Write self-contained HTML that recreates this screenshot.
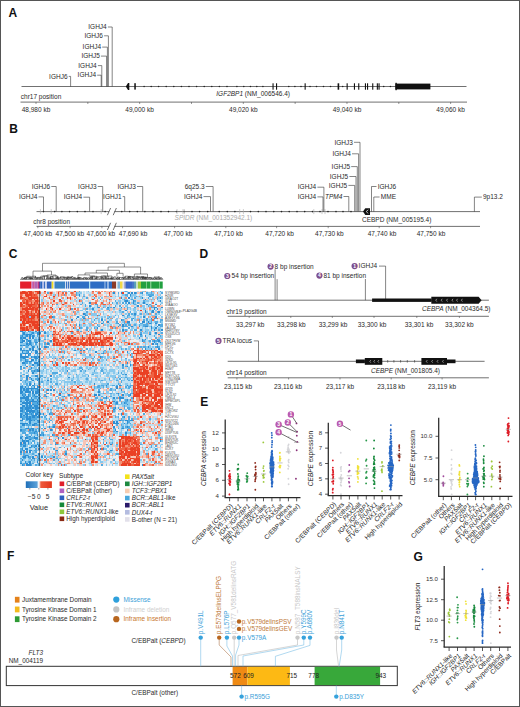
<!DOCTYPE html>
<html><head><meta charset="utf-8"><title>Figure</title>
<style>html,body{margin:0;padding:0;background:#fff;width:520px;height:707px;overflow:hidden}svg{display:block;font-family:"Liberation Sans",sans-serif}</style>
</head><body><svg width="520" height="707" viewBox="0 0 520 707" font-family="Liberation Sans, sans-serif"><text x="8.6" y="16.6" font-size="12" fill="#111" font-weight="bold">A</text>
<line x1="21.5" y1="86.5" x2="466.5" y2="86.5" stroke="#333" stroke-width="0.7"/>
<path d="M125.8,86.5 L128,83 L129.3,83 L129.3,90 L128,90 Z" fill="#111"/>
<rect x="134.3" y="83.2" width="1.5" height="6.4" fill="#111"/>
<circle cx="144.1" cy="86.5" r="0.8" fill="#222"/>
<circle cx="151.2" cy="86.5" r="0.8" fill="#222"/>
<circle cx="158.6" cy="86.5" r="0.8" fill="#222"/>
<circle cx="166.2" cy="86.5" r="0.8" fill="#222"/>
<circle cx="173.8" cy="86.5" r="0.8" fill="#222"/>
<circle cx="181.4" cy="86.5" r="0.8" fill="#222"/>
<circle cx="189" cy="86.5" r="0.8" fill="#222"/>
<circle cx="196.6" cy="86.5" r="0.8" fill="#222"/>
<circle cx="204.2" cy="86.5" r="0.8" fill="#222"/>
<circle cx="211.8" cy="86.5" r="0.8" fill="#222"/>
<circle cx="219.4" cy="86.5" r="0.8" fill="#222"/>
<circle cx="227" cy="86.5" r="0.8" fill="#222"/>
<circle cx="236.9" cy="86.5" r="0.8" fill="#222"/>
<circle cx="243.8" cy="86.5" r="0.8" fill="#222"/>
<circle cx="250.4" cy="86.5" r="0.8" fill="#222"/>
<circle cx="256.8" cy="86.5" r="0.8" fill="#222"/>
<circle cx="262.9" cy="86.5" r="0.8" fill="#222"/>
<circle cx="288.8" cy="86.5" r="0.8" fill="#222"/>
<circle cx="294.9" cy="86.5" r="0.8" fill="#222"/>
<circle cx="301" cy="86.5" r="0.8" fill="#222"/>
<circle cx="310" cy="86.5" r="0.8" fill="#222"/>
<circle cx="316.5" cy="86.5" r="0.8" fill="#222"/>
<circle cx="323.5" cy="86.5" r="0.8" fill="#222"/>
<circle cx="330.5" cy="86.5" r="0.8" fill="#222"/>
<circle cx="342.7" cy="86.5" r="0.8" fill="#222"/>
<circle cx="383.7" cy="86.5" r="0.8" fill="#222"/>
<circle cx="390.4" cy="86.5" r="0.8" fill="#222"/>
<rect x="272.5" y="83.3" width="1.1" height="6.4" fill="#111"/>
<rect x="276" y="83.3" width="1.1" height="6.4" fill="#111"/>
<rect x="304.6" y="83.3" width="1.1" height="6.4" fill="#111"/>
<rect x="337.6" y="83.3" width="1.6" height="6.4" fill="#111"/>
<rect x="346.6" y="83.3" width="1.1" height="6.4" fill="#111"/>
<rect x="353.9" y="83.3" width="1.1" height="6.4" fill="#111"/>
<rect x="358.2" y="83.3" width="1.1" height="6.4" fill="#111"/>
<rect x="364.9" y="83.3" width="1.1" height="6.4" fill="#111"/>
<rect x="367" y="83.3" width="1.1" height="6.4" fill="#111"/>
<rect x="372.2" y="83.3" width="1.1" height="6.4" fill="#111"/>
<rect x="376.8" y="83.3" width="1.1" height="6.4" fill="#111"/>
<rect x="378.5" y="83.3" width="1.1" height="6.4" fill="#111"/>
<rect x="395.4" y="83.6" width="35" height="5.8" fill="#111"/>
<rect x="395.4" y="82.8" width="1.4" height="7.4" fill="#111"/>
<text x="216.3" y="95.78" font-size="6.5" fill="#2a2a2a"><tspan font-style="italic">IGF2BP1</tspan> (NM_006546.4)</text>
<text x="106.7" y="29.27" font-size="6.5" fill="#2a2a2a" text-anchor="end">IGHJ4</text>
<polyline points="107.9,27 112.2,27 112.2,86.5" fill="none" stroke="#333" stroke-width="0.6"/>
<text x="102.9" y="38.07" font-size="6.5" fill="#2a2a2a" text-anchor="end">IGHJ6</text>
<polyline points="104.1,35.8 108.4,35.8 108.4,86.5" fill="none" stroke="#333" stroke-width="0.6"/>
<text x="101" y="49.38" font-size="6.5" fill="#2a2a2a" text-anchor="end">IGHJ4</text>
<polyline points="102.2,47.1 107.4,47.1 107.4,86.5" fill="none" stroke="#333" stroke-width="0.6"/>
<text x="99.8" y="58.38" font-size="6.5" fill="#2a2a2a" text-anchor="end">IGHJ5</text>
<polyline points="101,56.1 106.6,56.1 106.6,86.5" fill="none" stroke="#333" stroke-width="0.6"/>
<text x="96.7" y="67.88" font-size="6.5" fill="#2a2a2a" text-anchor="end">IGHJ4</text>
<polyline points="97.9,65.6 101.8,65.6 101.8,86.5" fill="none" stroke="#333" stroke-width="0.6"/>
<text x="96" y="77.48" font-size="6.5" fill="#2a2a2a" text-anchor="end">IGHJ4</text>
<polyline points="97.2,75.2 101.2,75.2 101.2,86.5" fill="none" stroke="#333" stroke-width="0.6"/>
<text x="67.5" y="78.68" font-size="6.5" fill="#2a2a2a" text-anchor="end">IGHJ6</text>
<polyline points="68.7,76.4 70.6,76.4 70.6,86.5" fill="none" stroke="#333" stroke-width="0.6"/>
<text x="20.8" y="98.88" font-size="6.5" fill="#2a2a2a">chr17 position</text>
<line x1="20.5" y1="102.1" x2="467" y2="102.1" stroke="#333" stroke-width="0.7"/>
<line x1="36" y1="102.1" x2="36" y2="104" stroke="#333" stroke-width="0.5"/>
<line x1="87.83" y1="102.1" x2="87.83" y2="104" stroke="#333" stroke-width="0.5"/>
<line x1="139.66" y1="102.1" x2="139.66" y2="104" stroke="#333" stroke-width="0.5"/>
<line x1="191.49" y1="102.1" x2="191.49" y2="104" stroke="#333" stroke-width="0.5"/>
<line x1="243.32" y1="102.1" x2="243.32" y2="104" stroke="#333" stroke-width="0.5"/>
<line x1="295.15" y1="102.1" x2="295.15" y2="104" stroke="#333" stroke-width="0.5"/>
<line x1="346.98" y1="102.1" x2="346.98" y2="104" stroke="#333" stroke-width="0.5"/>
<line x1="398.81" y1="102.1" x2="398.81" y2="104" stroke="#333" stroke-width="0.5"/>
<line x1="450.64" y1="102.1" x2="450.64" y2="104" stroke="#333" stroke-width="0.5"/>
<text x="36" y="112.08" font-size="6.5" fill="#2a2a2a" text-anchor="middle">48,980 kb</text>
<text x="139.6" y="112.08" font-size="6.5" fill="#2a2a2a" text-anchor="middle">49,000 kb</text>
<text x="243.3" y="112.08" font-size="6.5" fill="#2a2a2a" text-anchor="middle">49,020 kb</text>
<text x="347" y="112.08" font-size="6.5" fill="#2a2a2a" text-anchor="middle">49,040 kb</text>
<text x="450.6" y="112.08" font-size="6.5" fill="#2a2a2a" text-anchor="middle">49,060 kb</text>
<text x="9.2" y="133.2" font-size="12" fill="#111" font-weight="bold">B</text>
<line x1="36.5" y1="211.6" x2="480" y2="211.6" stroke="#333" stroke-width="0.7"/>
<circle cx="43.5" cy="211.6" r="0.8" fill="#222"/>
<circle cx="54.7" cy="211.6" r="0.8" fill="#222"/>
<circle cx="61.9" cy="211.6" r="0.8" fill="#222"/>
<circle cx="69.6" cy="211.6" r="0.8" fill="#222"/>
<circle cx="77.3" cy="211.6" r="0.8" fill="#222"/>
<circle cx="85" cy="211.6" r="0.8" fill="#222"/>
<circle cx="93" cy="211.6" r="0.8" fill="#222"/>
<circle cx="105.1" cy="211.6" r="0.8" fill="#222"/>
<circle cx="121.8" cy="211.6" r="0.8" fill="#222"/>
<circle cx="129.7" cy="211.6" r="0.8" fill="#222"/>
<circle cx="137.3" cy="211.6" r="0.8" fill="#222"/>
<circle cx="144.9" cy="211.6" r="0.8" fill="#222"/>
<circle cx="153" cy="211.6" r="0.8" fill="#222"/>
<circle cx="161" cy="211.6" r="0.8" fill="#222"/>
<circle cx="168.5" cy="211.6" r="0.8" fill="#222"/>
<circle cx="176.5" cy="211.6" r="0.8" fill="#222"/>
<circle cx="184.2" cy="211.6" r="0.8" fill="#222"/>
<circle cx="192" cy="211.6" r="0.8" fill="#222"/>
<circle cx="199.6" cy="211.6" r="0.8" fill="#222"/>
<circle cx="207.7" cy="211.6" r="0.8" fill="#222"/>
<circle cx="219.2" cy="211.6" r="0.8" fill="#222"/>
<circle cx="227.3" cy="211.6" r="0.8" fill="#222"/>
<circle cx="234.9" cy="211.6" r="0.8" fill="#222"/>
<circle cx="250.5" cy="211.6" r="0.8" fill="#222"/>
<circle cx="258.3" cy="211.6" r="0.8" fill="#222"/>
<circle cx="266" cy="211.6" r="0.8" fill="#222"/>
<circle cx="273.8" cy="211.6" r="0.8" fill="#222"/>
<circle cx="281.5" cy="211.6" r="0.8" fill="#222"/>
<circle cx="289.2" cy="211.6" r="0.8" fill="#222"/>
<circle cx="297" cy="211.6" r="0.8" fill="#222"/>
<circle cx="304.7" cy="211.6" r="0.8" fill="#222"/>
<circle cx="312.5" cy="211.6" r="0.8" fill="#222"/>
<circle cx="320" cy="211.6" r="0.8" fill="#222"/>
<circle cx="328" cy="211.6" r="0.8" fill="#222"/>
<circle cx="336" cy="211.6" r="0.8" fill="#222"/>
<circle cx="343" cy="211.6" r="0.8" fill="#222"/>
<circle cx="351" cy="211.6" r="0.8" fill="#222"/>
<line x1="40.4" y1="209.1" x2="40.4" y2="214.1" stroke="#aaa" stroke-width="0.6"/>
<line x1="51.2" y1="209.1" x2="51.2" y2="214.1" stroke="#aaa" stroke-width="0.6"/>
<line x1="101.2" y1="209.1" x2="101.2" y2="214.1" stroke="#aaa" stroke-width="0.6"/>
<line x1="177" y1="209.1" x2="177" y2="214.1" stroke="#aaa" stroke-width="0.6"/>
<line x1="183" y1="209.1" x2="183" y2="214.1" stroke="#aaa" stroke-width="0.6"/>
<line x1="184.3" y1="209.1" x2="184.3" y2="214.1" stroke="#aaa" stroke-width="0.6"/>
<line x1="239.7" y1="209.1" x2="239.7" y2="214.1" stroke="#aaa" stroke-width="0.6"/>
<line x1="243.4" y1="209.1" x2="243.4" y2="214.1" stroke="#aaa" stroke-width="0.6"/>
<line x1="313.8" y1="209.1" x2="313.8" y2="214.1" stroke="#aaa" stroke-width="0.6"/>
<line x1="322" y1="209.1" x2="322" y2="214.1" stroke="#aaa" stroke-width="0.6"/>
<line x1="325" y1="209.1" x2="325" y2="214.1" stroke="#aaa" stroke-width="0.6"/>
<rect x="109.2" y="210.4" width="5.2" height="2.4" fill="#fff"/>
<line x1="107.4" y1="215.2" x2="110.6" y2="208" stroke="#333" stroke-width="0.7"/>
<line x1="113.2" y1="215.2" x2="116.4" y2="208" stroke="#333" stroke-width="0.7"/>
<text x="37.3" y="199.18" font-size="6.5" fill="#2a2a2a" text-anchor="end">IGHJ4</text>
<polyline points="38.5,196.9 43.5,196.9 43.5,211.6" fill="none" stroke="#333" stroke-width="0.6"/>
<text x="50.1" y="188.78" font-size="6.5" fill="#2a2a2a" text-anchor="end">IGHJ6</text>
<polyline points="51.3,186.5 56.2,186.5 56.2,211.6" fill="none" stroke="#333" stroke-width="0.6"/>
<text x="82.2" y="199.47" font-size="6.5" fill="#2a2a2a" text-anchor="end">IGHJ4</text>
<polyline points="83.4,197.2 89.6,197.2 89.6,211.6" fill="none" stroke="#333" stroke-width="0.6"/>
<text x="96.5" y="188.78" font-size="6.5" fill="#2a2a2a" text-anchor="end">IGHJ3</text>
<polyline points="97.7,186.5 102.7,186.5 102.7,211.6" fill="none" stroke="#333" stroke-width="0.6"/>
<text x="121.5" y="198.88" font-size="6.5" fill="#2a2a2a" text-anchor="end">IGHJ1</text>
<polyline points="122.7,196.6 124.7,196.6 124.7,211.6" fill="none" stroke="#333" stroke-width="0.6"/>
<text x="135.8" y="188.78" font-size="6.5" fill="#2a2a2a" text-anchor="end">IGHJ3</text>
<polyline points="137,186.5 142.7,186.5 142.7,211.6" fill="none" stroke="#333" stroke-width="0.6"/>
<text x="204.6" y="188.78" font-size="6.5" fill="#2a2a2a" text-anchor="end">6q25.3</text>
<polyline points="205.8,186.5 213.1,186.5 213.1,211.6" fill="none" stroke="#333" stroke-width="0.6"/>
<text x="202.3" y="198.88" font-size="6.5" fill="#2a2a2a" text-anchor="end">IGHJ4</text>
<polyline points="203.5,196.6 210.5,196.6 210.5,211.6" fill="none" stroke="#333" stroke-width="0.6"/>
<text x="352.8" y="144.58" font-size="6.5" fill="#2a2a2a" text-anchor="end">IGHJ3</text>
<polyline points="354,142.3 360,142.3 360,211.6" fill="none" stroke="#333" stroke-width="0.6"/>
<text x="350.8" y="156.08" font-size="6.5" fill="#2a2a2a" text-anchor="end">IGHJ4</text>
<polyline points="352,153.8 358.6,153.8 358.6,211.6" fill="none" stroke="#333" stroke-width="0.6"/>
<text x="350" y="168.88" font-size="6.5" fill="#2a2a2a" text-anchor="end">IGHJ5</text>
<polyline points="351.2,166.6 357.3,166.6 357.3,211.6" fill="none" stroke="#333" stroke-width="0.6"/>
<text x="348.2" y="178.78" font-size="6.5" fill="#2a2a2a" text-anchor="end">IGHJ5</text>
<polyline points="349.4,176.5 356,176.5 356,211.6" fill="none" stroke="#333" stroke-width="0.6"/>
<text x="347.2" y="187.68" font-size="6.5" fill="#2a2a2a" text-anchor="end">IGHJ5</text>
<polyline points="348.4,185.4 354.7,185.4 354.7,211.6" fill="none" stroke="#333" stroke-width="0.6"/>
<text x="316.2" y="189.47" font-size="6.5" fill="#2a2a2a" text-anchor="end">IGHJ4</text>
<polyline points="317.4,187.2 323.9,187.2 323.9,211.6" fill="none" stroke="#333" stroke-width="0.6"/>
<text x="316.2" y="199.18" font-size="6.5" fill="#2a2a2a" text-anchor="end">IGHJ4</text>
<polyline points="317.4,196.9 323,196.9 323,211.6" fill="none" stroke="#333" stroke-width="0.6"/>
<text x="342.3" y="198.78" font-size="6.5" fill="#2a2a2a" text-anchor="end" font-style="italic">TPM4</text>
<polyline points="343.5,196.5 348.8,196.5 348.8,211.6" fill="none" stroke="#333" stroke-width="0.6"/>
<text x="377.7" y="188.78" font-size="6.5" fill="#2a2a2a">IGHJ6</text>
<polyline points="376.5,186.5 371.5,186.5 371.5,211.6" fill="none" stroke="#333" stroke-width="0.6"/>
<text x="380.8" y="199.28" font-size="6.5" fill="#2a2a2a">MME</text>
<polyline points="379.6,197 373.8,197 373.8,211.6" fill="none" stroke="#333" stroke-width="0.6"/>
<text x="483" y="199.38" font-size="6.5" fill="#2a2a2a">9p13.2</text>
<polyline points="481.8,197.1 474.4,197.1 474.4,211.6" fill="none" stroke="#333" stroke-width="0.6"/>
<path d="M363,211.6 L365.3,208.2 L370,208.2 L370,215 L365.3,215 Z" fill="#111"/>
<path d="M368.3,209.8 L366.2,211.6 L368.3,213.4" fill="none" stroke="#fff" stroke-width="0.7"/>
<text x="174.6" y="220.18" font-size="6.5" fill="#aaa"><tspan font-style="italic">SPIDR</tspan> (NM_001352942.1)</text>
<text x="362" y="221.88" font-size="6.5" fill="#2a2a2a">CEBPD (NM_005195.4)</text>
<text x="33.2" y="223.78" font-size="6.5" fill="#2a2a2a">chr8 position</text>
<line x1="36.5" y1="226.4" x2="480" y2="226.4" stroke="#333" stroke-width="0.7"/>
<rect x="109.2" y="225.2" width="5.2" height="2.4" fill="#fff"/>
<line x1="107.4" y1="230" x2="110.6" y2="222.8" stroke="#333" stroke-width="0.7"/>
<line x1="113.2" y1="230" x2="116.4" y2="222.8" stroke="#333" stroke-width="0.7"/>
<line x1="37.8" y1="226.4" x2="37.8" y2="228.2" stroke="#333" stroke-width="0.5"/>
<line x1="70.1" y1="226.4" x2="70.1" y2="228.2" stroke="#333" stroke-width="0.5"/>
<line x1="101.9" y1="226.4" x2="101.9" y2="228.2" stroke="#333" stroke-width="0.5"/>
<line x1="122.6" y1="226.4" x2="122.6" y2="228.2" stroke="#333" stroke-width="0.5"/>
<line x1="174.6" y1="226.4" x2="174.6" y2="228.2" stroke="#333" stroke-width="0.5"/>
<line x1="225.8" y1="226.4" x2="225.8" y2="228.2" stroke="#333" stroke-width="0.5"/>
<line x1="276.6" y1="226.4" x2="276.6" y2="228.2" stroke="#333" stroke-width="0.5"/>
<line x1="328.2" y1="226.4" x2="328.2" y2="228.2" stroke="#333" stroke-width="0.5"/>
<line x1="379.2" y1="226.4" x2="379.2" y2="228.2" stroke="#333" stroke-width="0.5"/>
<line x1="430.6" y1="226.4" x2="430.6" y2="228.2" stroke="#333" stroke-width="0.5"/>
<text x="37.9" y="236.18" font-size="6.5" fill="#2a2a2a" text-anchor="middle">47,400 kb</text>
<text x="69.8" y="236.18" font-size="6.5" fill="#2a2a2a" text-anchor="middle">47,500 kb</text>
<text x="100.8" y="236.18" font-size="6.5" fill="#2a2a2a" text-anchor="middle">47,600 kb</text>
<text x="133.1" y="236.18" font-size="6.5" fill="#2a2a2a" text-anchor="middle">47,690 kb</text>
<text x="178" y="236.18" font-size="6.5" fill="#2a2a2a" text-anchor="middle">47,700 kb</text>
<text x="228.5" y="236.18" font-size="6.5" fill="#2a2a2a" text-anchor="middle">47,710 kb</text>
<text x="279.6" y="236.18" font-size="6.5" fill="#2a2a2a" text-anchor="middle">47,720 kb</text>
<text x="329.4" y="236.18" font-size="6.5" fill="#2a2a2a" text-anchor="middle">47,730 kb</text>
<text x="382" y="236.18" font-size="6.5" fill="#2a2a2a" text-anchor="middle">47,740 kb</text>
<text x="431" y="236.18" font-size="6.5" fill="#2a2a2a" text-anchor="middle">47,750 kb</text>
<text x="8.8" y="257.7" font-size="12" fill="#111" font-weight="bold">C</text>
<polyline points="42.5,271.1 42.5,263.3 124.4,263.3 124.4,267" fill="none" stroke="#444" stroke-width="0.6"/>
<polyline points="33,277.7 33,271.1 51.5,271.1 51.5,275" fill="none" stroke="#444" stroke-width="0.6"/>
<polyline points="108.1,270.3 108.1,267 140.6,267 140.6,274" fill="none" stroke="#444" stroke-width="0.6"/>
<polyline points="96.3,273 96.3,270.3 119.4,270.3 119.4,273.3" fill="none" stroke="#444" stroke-width="0.6"/>
<polyline points="85,275 85,273 107.5,273 107.5,276" fill="none" stroke="#444" stroke-width="0.6"/>
<polyline points="116.9,276.5 116.9,273.3 123.1,273.3 123.1,276.5" fill="none" stroke="#444" stroke-width="0.6"/>
<polyline points="78,277.5 78,274.9 90,274.9 90,277" fill="none" stroke="#444" stroke-width="0.6"/>
<polyline points="134.4,277.5 134.4,274 147.5,274 147.5,277.5" fill="none" stroke="#444" stroke-width="0.6"/>
<polyline points="24,279 24,277.7 40,277.7 40,279" fill="none" stroke="#444" stroke-width="0.6"/>
<polyline points="47,279 47,275 56,275 56,279" fill="none" stroke="#444" stroke-width="0.6"/>
<polyline points="60,279 60,277.2 70,277.2 70,279" fill="none" stroke="#444" stroke-width="0.6"/>
<polyline points="101,279 101,276 112,276 112,279" fill="none" stroke="#444" stroke-width="0.6"/>
<polyline points="128,279 128,277 140,277 140,279" fill="none" stroke="#444" stroke-width="0.6"/>
<polyline points="143,279 143,277.5 152,277.5 152,279" fill="none" stroke="#444" stroke-width="0.6"/>
<polyline points="154,279 154,277 160,277 160,279" fill="none" stroke="#444" stroke-width="0.6"/>
<path d="M21,279.3 L22.17,277.09 L23.33,279.3 M22.12,279.3 L23.97,278.33 L25.81,279.3 M24.16,279.3 V277.89 H26.56 V279.3 M25.22,279.3 V277.26 H29.65 V279.3 M26.75,279.3 V276.24 H30.47 V279.3 M28.69,279.3 V278.33 H32.54 V279.3 M30.53,279.3 V278.42 H33.08 V279.3 M31.66,279.3 V276.22 H35.67 V279.3 M33.97,279.3 L35.41,276.42 L36.85,279.3 M35.65,279.3 L37.93,278.25 L40.22,279.3 M37.32,279.3 V277.37 H42.2 V279.3 M39.22,279.3 L40.86,277.5 L42.5,279.3 M40.78,279.3 V276.15 H44.32 V279.3 M42.83,279.3 V275.92 H47.33 V279.3 M44.4,279.3 V275.99 H48.91 V279.3 M46.52,279.3 V277.95 H50.52 V279.3 M48.41,279.3 V278.34 H50.91 V279.3 M49.9,279.3 L50.81,276.42 L51.71,279.3 M50.53,279.3 V276.5 H53.05 V279.3 M51.32,279.3 V278.38 H54.97 V279.3 M52.78,279.3 V275.95 H57.36 V279.3 M55.52,279.3 V278.3 H58.11 V279.3 M56.32,279.3 V277.44 H58.51 V279.3 M57.08,279.3 L57.91,276.24 L58.73,279.3 M58.05,279.3 L60.37,277.52 L62.69,279.3 M60.17,279.3 V276.95 H63.92 V279.3 M61.99,279.3 L64.39,277.18 L66.78,279.3 M64.46,279.3 V277.72 H66.8 V279.3 M65.53,279.3 L67.24,278.47 L68.95,279.3 M67.15,279.3 V276.9 H68.72 V279.3 M67.65,279.3 V277.29 H71.34 V279.3 M69.15,279.3 L71.14,276.58 L73.12,279.3 M70.41,279.3 L72.35,276 L74.28,279.3 M72.1,279.3 L73.89,277.67 L75.68,279.3 M73.51,279.3 L74.91,276.95 L76.3,279.3 M74.66,279.3 V278.43 H78.87 V279.3 M76.85,279.3 V277.92 H79.44 V279.3 M77.81,279.3 V277.37 H79.97 V279.3 M78.52,279.3 V277.63 H81.15 V279.3 M79.66,279.3 L81.91,278.06 L84.15,279.3 M81.88,279.3 L84.18,277.33 L86.48,279.3 M83.43,279.3 V278 H86.78 V279.3 M85.28,279.3 V277.78 H87.42 V279.3 M86.33,279.3 L88.49,277.6 L90.66,279.3 M88.01,279.3 L90.15,277.79 L92.29,279.3 M89.83,279.3 V277.44 H92.8 V279.3 M90.86,279.3 V276.05 H92.37 V279.3 M91.76,279.3 V276.03 H94.78 V279.3 M92.87,279.3 V276.32 H96.98 V279.3 M94.74,279.3 L96,277.61 L97.25,279.3 M95.55,279.3 V277.75 H99.11 V279.3 M96.66,279.3 V276.7 H101.32 V279.3 M99.32,279.3 L101.64,277 L103.96,279.3 M101.75,279.3 V277.72 H103.85 V279.3 M102.71,279.3 V276.06 H105.66 V279.3 M103.9,279.3 L105.09,276.26 L106.28,279.3 M105.17,279.3 V277.99 H107.9 V279.3 M106.66,279.3 V276.44 H108.76 V279.3 M107.8,279.3 V278.48 H112.18 V279.3 M110.25,279.3 L111.08,277.79 L111.92,279.3 M111.01,279.3 V277.27 H113.99 V279.3 M111.91,279.3 L112.76,278.17 L113.6,279.3 M112.45,279.3 L114.91,276.28 L117.36,279.3 M114.67,279.3 L115.97,277.68 L117.27,279.3 M115.95,279.3 L117.73,277.56 L119.51,279.3 M117.37,279.3 V277.06 H119.3 V279.3 M118.17,279.3 L119.06,278.04 L119.95,279.3 M119.03,279.3 V277.51 H123.27 V279.3 M121.09,279.3 L122.6,277.53 L124.1,279.3 M122.63,279.3 L124.11,276.7 L125.6,279.3 M123.74,279.3 L125.43,276.69 L127.11,279.3 M125.18,279.3 V276.21 H128.17 V279.3 M126.41,279.3 L128.73,276.44 L131.06,279.3 M128.45,279.3 V276.39 H130.38 V279.3 M129.55,279.3 V276.76 H133.82 V279.3 M131.55,279.3 L132.48,276.97 L133.41,279.3 M132.19,279.3 L134.29,278.38 L136.4,279.3 M133.58,279.3 L135.87,278.03 L138.16,279.3 M136.11,279.3 V276.31 H138.03 V279.3 M137.17,279.3 V276.99 H142 V279.3 M138.67,279.3 V277.17 H142.86 V279.3 M140.06,279.3 L142.12,276.07 L144.18,279.3 M141.7,279.3 L143.44,276.35 L145.17,279.3 M142.93,279.3 V276.9 H145.3 V279.3 M143.92,279.3 L145.31,277.47 L146.71,279.3 M145.11,279.3 V277.2 H146.9 V279.3 M145.87,279.3 V278.08 H149.98 V279.3 M148.03,279.3 L149.96,277.16 L151.89,279.3 M149.94,279.3 L152.26,278.11 L154.58,279.3 M152.37,279.3 L154.72,277.16 L157.08,279.3 M154.8,279.3 L155.87,277.8 L156.95,279.3 M155.82,279.3 V277.9 H158.42 V279.3 M157.35,279.3 L158.61,276.67 L159.88,279.3 M158.76,279.3 L160.53,277.81 L162.3,279.3 M159.84,279.3 L161.43,277.5 L163.02,279.3" fill="none" stroke="#2a2a2a" stroke-width="0.55"/>
<line x1="20.2" y1="279.4" x2="162.6" y2="279.4" stroke="#444" stroke-width="0.6"/>
<rect x="20.1" y="281.5" width="11.4" height="7.1" fill="#e4202c"/>
<rect x="31.5" y="281.5" width="1.7" height="7.1" fill="#c070c0"/>
<rect x="33.2" y="281.5" width="1.4" height="7.1" fill="#c03a80"/>
<rect x="34.6" y="281.5" width="3" height="7.1" fill="#b064b4"/>
<rect x="37.6" y="281.5" width="1.4" height="7.1" fill="#c03a80"/>
<rect x="39" y="281.5" width="1.2" height="7.1" fill="#5a3c9c"/>
<rect x="40.2" y="281.5" width="2.3" height="7.1" fill="#2a64c0"/>
<rect x="42.5" y="281.5" width="1.5" height="7.1" fill="#b4bce8"/>
<rect x="44" y="281.5" width="1.4" height="7.1" fill="#3a6cc0"/>
<rect x="45.4" y="281.5" width="1.4" height="7.1" fill="#d8dcf0"/>
<rect x="46.8" y="281.5" width="4.9" height="7.1" fill="#3464c0"/>
<rect x="51.7" y="281.5" width="1.9" height="7.1" fill="#f0e020"/>
<rect x="53.6" y="281.5" width="0.9" height="7.1" fill="#dde"/>
<rect x="54.5" y="281.5" width="10.6" height="7.1" fill="#3a82c4"/>
<rect x="65.1" y="281.5" width="0.9" height="7.1" fill="#cde"/>
<rect x="66" y="281.5" width="1" height="7.1" fill="#3a72c4"/>
<rect x="67" y="281.5" width="0.8" height="7.1" fill="#cde"/>
<rect x="67.8" y="281.5" width="1.2" height="7.1" fill="#3a72c4"/>
<rect x="69" y="281.5" width="1" height="7.1" fill="#bcd"/>
<rect x="70" y="281.5" width="19.2" height="7.1" fill="#2e6ec4"/>
<rect x="89.2" y="281.5" width="1" height="7.1" fill="#9ce0f0"/>
<rect x="90.2" y="281.5" width="14.4" height="7.1" fill="#2e6cc4"/>
<rect x="104.6" y="281.5" width="0.8" height="7.1" fill="#5a90d4"/>
<rect x="105.4" y="281.5" width="2.2" height="7.1" fill="#2e6cc4"/>
<rect x="107.6" y="281.5" width="1" height="7.1" fill="#aac8ec"/>
<rect x="108.6" y="281.5" width="3.4" height="7.1" fill="#2e6cc4"/>
<rect x="112" y="281.5" width="4" height="7.1" fill="#8a3a28"/>
<rect x="116" y="281.5" width="1.5" height="7.1" fill="#e8e4e4"/>
<rect x="117.5" y="281.5" width="2.5" height="7.1" fill="#80b4d8"/>
<rect x="120" y="281.5" width="2.7" height="7.1" fill="#f0d848"/>
<rect x="122.7" y="281.5" width="1.6" height="7.1" fill="#e0e0f0"/>
<rect x="124.3" y="281.5" width="1.7" height="7.1" fill="#8090c8"/>
<rect x="126" y="281.5" width="6" height="7.1" fill="#3a68c8"/>
<rect x="132" y="281.5" width="2" height="7.1" fill="#4878c8"/>
<rect x="134" y="281.5" width="2" height="7.1" fill="#58a0b8"/>
<rect x="136" y="281.5" width="2" height="7.1" fill="#c8e0c0"/>
<rect x="138" y="281.5" width="3" height="7.1" fill="#a0c838"/>
<rect x="141" y="281.5" width="5.2" height="7.1" fill="#22a040"/>
<rect x="146.2" y="281.5" width="0.8" height="7.1" fill="#60c070"/>
<rect x="147" y="281.5" width="3.4" height="7.1" fill="#22a040"/>
<rect x="150.4" y="281.5" width="0.8" height="7.1" fill="#60c070"/>
<rect x="151.2" y="281.5" width="7.8" height="7.1" fill="#22a040"/>
<rect x="159" y="281.5" width="0.8" height="7.1" fill="#60c070"/>
<rect x="159.8" y="281.5" width="2.9" height="7.1" fill="#22a040"/>
<g transform="translate(20.1 290.8) scale(1.5011 1.5909)" shape-rendering="crispEdges">
<path fill="#2e8ed2" d="M62 1h1v1h-1zM67 1h1v1h-1zM72 1h1v1h-1zM74 1h1v1h-1zM76 1h1v1h-1zM81 1h1v1h-1zM39 2h1v1h-1zM73 2h1v1h-1zM86 3h1v1h-1zM67 4h1v1h-1zM72 4h1v1h-1zM81 4h1v1h-1zM93 4h1v1h-1zM83 5h1v1h-1zM70 6h1v1h-1zM71 6h1v1h-1zM75 6h1v1h-1zM93 6h1v1h-1zM46 7h1v1h-1zM72 7h1v1h-1zM75 7h1v1h-1zM82 7h1v1h-1zM84 8h1v1h-1zM90 8h1v1h-1zM46 9h1v1h-1zM78 9h1v1h-1zM52 10h1v1h-1zM58 10h1v1h-1zM62 10h1v1h-1zM67 10h1v1h-1zM89 10h1v1h-1zM90 10h1v1h-1zM94 10h1v1h-1zM48 11h1v1h-1zM89 11h1v1h-1zM91 11h1v1h-1zM70 12h1v1h-1zM83 12h1v1h-1zM88 12h1v1h-1zM83 13h1v1h-1zM88 13h1v1h-1zM92 13h1v1h-1zM42 14h1v1h-1zM76 14h1v1h-1zM43 15h1v1h-1zM68 15h1v1h-1zM21 16h1v1h-1zM38 16h1v1h-1zM82 16h1v1h-1zM90 16h1v1h-1zM37 17h1v1h-1zM42 17h1v1h-1zM75 17h1v1h-1zM87 17h1v1h-1zM89 17h1v1h-1zM34 18h1v1h-1zM54 18h1v1h-1zM67 18h1v1h-1zM58 19h1v1h-1zM71 19h1v1h-1zM72 19h1v1h-1zM81 19h1v1h-1zM82 19h1v1h-1zM85 19h1v1h-1zM54 20h1v1h-1zM65 20h1v1h-1zM86 20h1v1h-1zM90 20h1v1h-1zM39 21h1v1h-1zM68 21h1v1h-1zM92 21h1v1h-1zM65 22h1v1h-1zM68 22h1v1h-1zM74 22h1v1h-1zM79 22h1v1h-1zM83 22h1v1h-1zM84 22h1v1h-1zM87 22h1v1h-1zM91 22h1v1h-1zM35 23h1v1h-1zM51 23h1v1h-1zM87 23h1v1h-1zM90 23h1v1h-1zM54 24h1v1h-1zM68 24h1v1h-1zM80 24h1v1h-1zM89 24h1v1h-1zM94 24h1v1h-1zM0 25h1v1h-1zM1 25h1v1h-1zM5 25h1v1h-1zM10 25h1v1h-1zM2 26h1v1h-1zM8 26h1v1h-1zM11 26h1v1h-1zM12 26h1v1h-1zM13 26h1v1h-1zM16 26h1v1h-1zM90 26h1v1h-1zM2 27h1v1h-1zM4 27h1v1h-1zM5 27h1v1h-1zM6 27h1v1h-1zM7 27h1v1h-1zM11 27h1v1h-1zM12 27h1v1h-1zM21 27h1v1h-1zM59 27h1v1h-1zM80 27h1v1h-1zM86 27h1v1h-1zM92 27h1v1h-1zM1 28h1v1h-1zM4 28h1v1h-1zM6 28h1v1h-1zM8 28h1v1h-1zM83 28h1v1h-1zM0 29h1v1h-1zM2 29h1v1h-1zM3 29h1v1h-1zM6 29h1v1h-1zM8 29h1v1h-1zM63 29h1v1h-1zM79 29h1v1h-1zM1 30h1v1h-1zM4 30h1v1h-1zM12 30h1v1h-1zM81 30h1v1h-1zM83 30h1v1h-1zM91 30h1v1h-1zM1 31h1v1h-1zM2 31h1v1h-1zM5 31h1v1h-1zM6 31h1v1h-1zM20 31h1v1h-1zM81 31h1v1h-1zM89 31h1v1h-1zM92 31h1v1h-1zM0 32h1v1h-1zM1 32h1v1h-1zM6 32h1v1h-1zM10 32h1v1h-1zM11 32h1v1h-1zM89 32h1v1h-1zM93 32h1v1h-1zM4 33h1v1h-1zM6 33h1v1h-1zM18 33h1v1h-1zM88 33h1v1h-1zM91 33h1v1h-1zM0 34h1v1h-1zM2 34h1v1h-1zM5 34h1v1h-1zM7 34h1v1h-1zM8 35h1v1h-1zM11 35h1v1h-1zM16 35h1v1h-1zM17 35h1v1h-1zM85 35h1v1h-1zM91 35h1v1h-1zM0 36h1v1h-1zM6 36h1v1h-1zM8 36h1v1h-1zM13 36h1v1h-1zM59 36h1v1h-1zM83 36h1v1h-1zM87 36h1v1h-1zM92 36h1v1h-1zM1 37h1v1h-1zM2 37h1v1h-1zM4 37h1v1h-1zM8 37h1v1h-1zM10 37h1v1h-1zM36 37h1v1h-1zM40 37h1v1h-1zM42 37h1v1h-1zM1 38h1v1h-1zM5 38h1v1h-1zM10 38h1v1h-1zM11 38h1v1h-1zM50 38h1v1h-1zM71 38h1v1h-1zM2 39h1v1h-1zM3 39h1v1h-1zM4 39h1v1h-1zM6 39h1v1h-1zM10 39h1v1h-1zM40 39h1v1h-1zM55 39h1v1h-1zM0 40h1v1h-1zM5 40h1v1h-1zM0 41h1v1h-1zM1 41h1v1h-1zM2 41h1v1h-1zM3 41h1v1h-1zM4 41h1v1h-1zM7 41h1v1h-1zM9 41h1v1h-1zM10 41h1v1h-1zM12 41h1v1h-1zM53 41h1v1h-1zM2 42h1v1h-1zM10 42h1v1h-1zM11 42h1v1h-1zM3 43h1v1h-1zM7 43h1v1h-1zM8 43h1v1h-1zM3 44h1v1h-1zM4 44h1v1h-1zM6 44h1v1h-1zM7 44h1v1h-1zM12 44h1v1h-1zM21 44h1v1h-1zM1 45h1v1h-1zM2 45h1v1h-1zM9 45h1v1h-1zM10 45h1v1h-1zM11 45h1v1h-1zM71 45h1v1h-1zM8 46h1v1h-1zM11 46h1v1h-1zM12 46h1v1h-1zM68 46h1v1h-1zM73 46h1v1h-1zM0 47h1v1h-1zM4 47h1v1h-1zM71 47h1v1h-1zM7 48h1v1h-1zM11 49h1v1h-1zM41 49h1v1h-1zM5 50h1v1h-1zM9 50h1v1h-1zM11 50h1v1h-1zM12 50h1v1h-1zM31 50h1v1h-1zM8 51h1v1h-1zM70 52h1v1h-1zM4 53h1v1h-1zM10 53h1v1h-1zM11 53h1v1h-1zM20 53h1v1h-1zM4 54h1v1h-1zM6 54h1v1h-1zM32 54h1v1h-1zM4 55h1v1h-1zM7 55h1v1h-1zM12 55h1v1h-1zM0 56h1v1h-1zM8 56h1v1h-1zM11 56h1v1h-1zM18 56h1v1h-1zM74 56h1v1h-1zM6 58h1v1h-1zM9 58h1v1h-1zM49 58h1v1h-1zM6 59h1v1h-1zM8 59h1v1h-1zM57 59h1v1h-1zM66 59h1v1h-1zM71 59h1v1h-1zM0 60h1v1h-1zM1 60h1v1h-1zM3 60h1v1h-1zM9 60h1v1h-1zM11 60h1v1h-1zM12 60h1v1h-1zM64 60h1v1h-1zM0 61h1v1h-1zM2 61h1v1h-1zM4 61h1v1h-1zM5 61h1v1h-1zM6 61h1v1h-1zM7 61h1v1h-1zM8 61h1v1h-1zM9 61h1v1h-1zM10 61h1v1h-1zM11 61h1v1h-1zM64 61h1v1h-1zM0 62h1v1h-1zM2 62h1v1h-1zM4 62h1v1h-1zM5 62h1v1h-1zM7 62h1v1h-1zM11 62h1v1h-1zM12 62h1v1h-1zM18 62h1v1h-1zM20 62h1v1h-1zM22 62h1v1h-1zM67 62h1v1h-1zM0 63h1v1h-1zM1 63h1v1h-1zM3 63h1v1h-1zM4 63h1v1h-1zM5 63h1v1h-1zM6 63h1v1h-1zM8 63h1v1h-1zM10 63h1v1h-1zM11 63h1v1h-1zM12 63h1v1h-1zM52 63h1v1h-1zM0 64h1v1h-1zM8 64h1v1h-1zM10 64h1v1h-1zM11 64h1v1h-1zM18 64h1v1h-1zM65 64h1v1h-1zM1 65h1v1h-1zM3 65h1v1h-1zM5 65h1v1h-1zM9 65h1v1h-1zM12 65h1v1h-1zM26 65h1v1h-1zM32 65h1v1h-1zM49 65h1v1h-1zM50 65h1v1h-1zM52 65h1v1h-1zM68 65h1v1h-1zM73 65h1v1h-1zM2 66h1v1h-1zM4 66h1v1h-1zM5 66h1v1h-1zM10 66h1v1h-1zM11 66h1v1h-1zM17 66h1v1h-1zM29 66h1v1h-1zM57 66h1v1h-1zM0 67h1v1h-1zM1 67h1v1h-1zM2 67h1v1h-1zM3 67h1v1h-1zM4 67h1v1h-1zM5 67h1v1h-1zM7 67h1v1h-1zM12 67h1v1h-1zM57 67h1v1h-1zM62 67h1v1h-1zM66 67h1v1h-1zM67 67h1v1h-1zM68 67h1v1h-1zM3 68h1v1h-1zM4 68h1v1h-1zM5 68h1v1h-1zM8 68h1v1h-1zM11 68h1v1h-1zM71 68h1v1h-1zM0 69h1v1h-1zM4 69h1v1h-1zM6 69h1v1h-1zM7 69h1v1h-1zM8 69h1v1h-1zM9 69h1v1h-1zM10 69h1v1h-1zM12 69h1v1h-1zM62 69h1v1h-1zM1 70h1v1h-1zM2 70h1v1h-1zM3 70h1v1h-1zM4 70h1v1h-1zM5 70h1v1h-1zM6 70h1v1h-1zM11 70h1v1h-1zM64 70h1v1h-1zM69 70h1v1h-1zM0 71h1v1h-1zM4 71h1v1h-1zM6 71h1v1h-1zM8 71h1v1h-1zM12 71h1v1h-1zM71 71h1v1h-1zM1 72h1v1h-1zM2 72h1v1h-1zM4 72h1v1h-1zM6 72h1v1h-1zM7 72h1v1h-1zM9 72h1v1h-1zM10 72h1v1h-1zM11 72h1v1h-1zM0 73h1v1h-1zM1 73h1v1h-1zM3 73h1v1h-1zM4 73h1v1h-1zM5 73h1v1h-1zM6 73h1v1h-1zM8 73h1v1h-1zM10 73h1v1h-1zM11 73h1v1h-1zM12 73h1v1h-1zM63 73h1v1h-1zM1 74h1v1h-1zM3 74h1v1h-1zM4 74h1v1h-1zM5 74h1v1h-1zM7 74h1v1h-1zM10 74h1v1h-1zM62 74h1v1h-1zM66 74h1v1h-1zM67 74h1v1h-1zM0 75h1v1h-1zM1 75h1v1h-1zM4 75h1v1h-1zM5 75h1v1h-1zM6 75h1v1h-1zM7 75h1v1h-1zM8 75h1v1h-1zM9 75h1v1h-1zM11 75h1v1h-1zM3 76h1v1h-1zM6 76h1v1h-1zM8 76h1v1h-1zM11 76h1v1h-1zM12 76h1v1h-1zM87 76h1v1h-1zM0 77h1v1h-1zM3 77h1v1h-1zM4 77h1v1h-1zM7 77h1v1h-1zM10 77h1v1h-1zM11 77h1v1h-1zM13 77h1v1h-1zM15 77h1v1h-1zM19 77h1v1h-1zM67 77h1v1h-1zM0 78h1v1h-1zM2 78h1v1h-1zM4 78h1v1h-1zM8 78h1v1h-1zM9 78h1v1h-1zM10 78h1v1h-1zM12 78h1v1h-1zM17 78h1v1h-1zM0 79h1v1h-1zM4 79h1v1h-1zM6 79h1v1h-1zM8 79h1v1h-1zM9 79h1v1h-1zM11 79h1v1h-1zM12 79h1v1h-1zM69 79h1v1h-1zM1 80h1v1h-1zM4 80h1v1h-1zM5 80h1v1h-1zM6 80h1v1h-1zM0 81h1v1h-1zM1 81h1v1h-1zM6 81h1v1h-1zM7 81h1v1h-1zM9 81h1v1h-1zM11 81h1v1h-1zM12 81h1v1h-1zM66 81h1v1h-1zM70 81h1v1h-1zM71 81h1v1h-1zM73 81h1v1h-1zM74 81h1v1h-1zM6 82h1v1h-1zM12 82h1v1h-1zM62 82h1v1h-1zM64 82h1v1h-1zM71 82h1v1h-1zM0 83h1v1h-1zM1 83h1v1h-1zM2 83h1v1h-1zM3 83h1v1h-1zM4 83h1v1h-1zM6 83h1v1h-1zM9 83h1v1h-1zM10 83h1v1h-1zM62 83h1v1h-1zM63 83h1v1h-1zM64 83h1v1h-1zM65 83h1v1h-1zM69 83h1v1h-1zM71 83h1v1h-1zM1 84h1v1h-1zM2 84h1v1h-1zM8 84h1v1h-1zM9 84h1v1h-1zM19 85h1v1h-1zM22 85h1v1h-1zM62 85h1v1h-1zM71 85h1v1h-1zM4 86h1v1h-1zM5 86h1v1h-1zM7 86h1v1h-1zM8 86h1v1h-1zM16 86h1v1h-1zM31 86h1v1h-1zM68 86h1v1h-1zM0 87h1v1h-1zM6 87h1v1h-1zM8 87h1v1h-1zM20 87h1v1h-1zM63 87h1v1h-1zM71 87h1v1h-1zM10 88h1v1h-1zM17 88h1v1h-1zM64 88h1v1h-1zM9 89h1v1h-1zM70 89h1v1h-1zM11 90h1v1h-1zM13 90h1v1h-1zM15 90h1v1h-1zM21 90h1v1h-1zM1 91h1v1h-1zM6 91h1v1h-1zM9 91h1v1h-1zM80 91h1v1h-1zM0 92h1v1h-1zM3 92h1v1h-1zM4 92h1v1h-1zM9 92h1v1h-1zM10 92h1v1h-1zM11 92h1v1h-1zM25 92h1v1h-1zM28 92h1v1h-1zM1 93h1v1h-1zM6 93h1v1h-1zM55 93h1v1h-1zM1 94h1v1h-1zM2 94h1v1h-1zM4 94h1v1h-1zM5 94h1v1h-1zM93 94h1v1h-1zM0 95h1v1h-1zM2 95h1v1h-1zM3 95h1v1h-1zM5 95h1v1h-1zM57 95h1v1h-1zM0 96h1v1h-1zM3 96h1v1h-1zM11 96h1v1h-1zM23 96h1v1h-1zM60 96h1v1h-1zM2 97h1v1h-1zM3 97h1v1h-1zM7 97h1v1h-1zM10 97h1v1h-1zM12 97h1v1h-1zM6 98h1v1h-1zM9 98h1v1h-1zM15 98h1v1h-1zM1 99h1v1h-1zM3 99h1v1h-1zM4 99h1v1h-1zM12 99h1v1h-1zM53 99h1v1h-1zM55 99h1v1h-1zM2 100h1v1h-1zM6 100h1v1h-1zM7 100h1v1h-1zM24 100h1v1h-1zM60 100h1v1h-1zM0 101h1v1h-1zM4 101h1v1h-1zM6 101h1v1h-1zM12 102h1v1h-1zM30 102h1v1h-1zM3 103h1v1h-1zM4 103h1v1h-1zM10 103h1v1h-1zM87 103h1v1h-1zM2 104h1v1h-1zM3 104h1v1h-1zM5 104h1v1h-1zM8 104h1v1h-1zM14 104h1v1h-1zM22 104h1v1h-1zM8 105h1v1h-1zM9 105h1v1h-1zM12 105h1v1h-1zM17 105h1v1h-1zM1 106h1v1h-1zM3 107h1v1h-1zM6 107h1v1h-1zM11 107h1v1h-1zM0 108h1v1h-1zM4 108h1v1h-1zM6 108h1v1h-1zM1 109h1v1h-1zM4 109h1v1h-1zM5 109h1v1h-1zM6 109h1v1h-1zM81 109h1v1h-1z"/>
<path fill="#52aae0" d="M39 0h1v1h-1zM70 0h1v1h-1zM87 0h1v1h-1zM93 0h1v1h-1zM18 1h1v1h-1zM37 1h1v1h-1zM65 1h1v1h-1zM77 1h1v1h-1zM80 1h1v1h-1zM84 1h1v1h-1zM87 1h1v1h-1zM94 1h1v1h-1zM29 2h1v1h-1zM37 2h1v1h-1zM70 2h1v1h-1zM71 2h1v1h-1zM85 2h1v1h-1zM86 2h1v1h-1zM87 2h1v1h-1zM88 2h1v1h-1zM39 3h1v1h-1zM42 3h1v1h-1zM71 3h1v1h-1zM73 3h1v1h-1zM77 3h1v1h-1zM87 3h1v1h-1zM44 4h1v1h-1zM49 4h1v1h-1zM76 4h1v1h-1zM85 4h1v1h-1zM91 4h1v1h-1zM39 5h1v1h-1zM69 5h1v1h-1zM74 5h1v1h-1zM91 5h1v1h-1zM63 6h1v1h-1zM69 6h1v1h-1zM76 6h1v1h-1zM82 6h1v1h-1zM41 7h1v1h-1zM61 7h1v1h-1zM64 7h1v1h-1zM68 7h1v1h-1zM70 7h1v1h-1zM78 7h1v1h-1zM24 8h1v1h-1zM40 8h1v1h-1zM43 8h1v1h-1zM50 8h1v1h-1zM51 8h1v1h-1zM71 8h1v1h-1zM76 8h1v1h-1zM86 8h1v1h-1zM93 8h1v1h-1zM43 9h1v1h-1zM51 9h1v1h-1zM63 9h1v1h-1zM66 9h1v1h-1zM85 9h1v1h-1zM87 9h1v1h-1zM51 10h1v1h-1zM55 10h1v1h-1zM60 10h1v1h-1zM69 10h1v1h-1zM71 10h1v1h-1zM76 10h1v1h-1zM87 10h1v1h-1zM88 10h1v1h-1zM34 11h1v1h-1zM44 11h1v1h-1zM58 11h1v1h-1zM71 11h1v1h-1zM59 12h1v1h-1zM66 12h1v1h-1zM35 13h1v1h-1zM44 13h1v1h-1zM68 13h1v1h-1zM73 13h1v1h-1zM87 13h1v1h-1zM91 13h1v1h-1zM43 14h1v1h-1zM72 14h1v1h-1zM74 14h1v1h-1zM80 14h1v1h-1zM85 14h1v1h-1zM90 14h1v1h-1zM44 15h1v1h-1zM52 15h1v1h-1zM63 15h1v1h-1zM71 15h1v1h-1zM72 15h1v1h-1zM76 15h1v1h-1zM22 16h1v1h-1zM41 16h1v1h-1zM42 16h1v1h-1zM45 16h1v1h-1zM59 16h1v1h-1zM71 16h1v1h-1zM43 17h1v1h-1zM50 17h1v1h-1zM54 17h1v1h-1zM58 17h1v1h-1zM61 17h1v1h-1zM70 17h1v1h-1zM74 17h1v1h-1zM84 17h1v1h-1zM90 17h1v1h-1zM30 18h1v1h-1zM49 18h1v1h-1zM68 18h1v1h-1zM74 18h1v1h-1zM79 18h1v1h-1zM82 18h1v1h-1zM84 18h1v1h-1zM87 18h1v1h-1zM93 18h1v1h-1zM94 18h1v1h-1zM20 19h1v1h-1zM55 19h1v1h-1zM64 19h1v1h-1zM69 19h1v1h-1zM79 19h1v1h-1zM87 19h1v1h-1zM90 19h1v1h-1zM91 19h1v1h-1zM93 19h1v1h-1zM20 20h1v1h-1zM30 20h1v1h-1zM49 20h1v1h-1zM64 20h1v1h-1zM69 20h1v1h-1zM71 20h1v1h-1zM72 20h1v1h-1zM80 20h1v1h-1zM81 20h1v1h-1zM84 20h1v1h-1zM87 20h1v1h-1zM37 21h1v1h-1zM51 21h1v1h-1zM66 21h1v1h-1zM70 21h1v1h-1zM72 21h1v1h-1zM73 21h1v1h-1zM76 21h1v1h-1zM79 21h1v1h-1zM82 21h1v1h-1zM83 21h1v1h-1zM84 21h1v1h-1zM93 21h1v1h-1zM94 21h1v1h-1zM39 22h1v1h-1zM52 22h1v1h-1zM69 22h1v1h-1zM70 22h1v1h-1zM71 22h1v1h-1zM82 22h1v1h-1zM93 22h1v1h-1zM94 22h1v1h-1zM40 23h1v1h-1zM44 23h1v1h-1zM49 23h1v1h-1zM63 23h1v1h-1zM72 23h1v1h-1zM38 24h1v1h-1zM44 24h1v1h-1zM70 24h1v1h-1zM76 24h1v1h-1zM77 24h1v1h-1zM87 24h1v1h-1zM92 24h1v1h-1zM3 25h1v1h-1zM6 25h1v1h-1zM12 25h1v1h-1zM14 25h1v1h-1zM16 25h1v1h-1zM40 25h1v1h-1zM68 25h1v1h-1zM83 25h1v1h-1zM1 26h1v1h-1zM7 26h1v1h-1zM34 26h1v1h-1zM80 26h1v1h-1zM86 26h1v1h-1zM94 26h1v1h-1zM1 27h1v1h-1zM3 27h1v1h-1zM44 27h1v1h-1zM0 28h1v1h-1zM3 28h1v1h-1zM9 28h1v1h-1zM11 28h1v1h-1zM18 28h1v1h-1zM80 28h1v1h-1zM89 28h1v1h-1zM93 28h1v1h-1zM1 29h1v1h-1zM12 29h1v1h-1zM90 29h1v1h-1zM0 30h1v1h-1zM9 30h1v1h-1zM10 30h1v1h-1zM13 30h1v1h-1zM16 30h1v1h-1zM87 30h1v1h-1zM92 30h1v1h-1zM0 31h1v1h-1zM4 31h1v1h-1zM9 31h1v1h-1zM10 31h1v1h-1zM12 31h1v1h-1zM62 31h1v1h-1zM69 31h1v1h-1zM82 31h1v1h-1zM86 31h1v1h-1zM88 31h1v1h-1zM90 31h1v1h-1zM91 31h1v1h-1zM4 32h1v1h-1zM7 32h1v1h-1zM16 32h1v1h-1zM18 32h1v1h-1zM5 33h1v1h-1zM7 33h1v1h-1zM10 33h1v1h-1zM16 33h1v1h-1zM19 33h1v1h-1zM90 33h1v1h-1zM1 34h1v1h-1zM3 34h1v1h-1zM4 34h1v1h-1zM21 34h1v1h-1zM91 34h1v1h-1zM4 35h1v1h-1zM9 35h1v1h-1zM18 35h1v1h-1zM78 35h1v1h-1zM80 35h1v1h-1zM82 35h1v1h-1zM83 35h1v1h-1zM90 35h1v1h-1zM92 35h1v1h-1zM12 36h1v1h-1zM27 36h1v1h-1zM44 36h1v1h-1zM67 36h1v1h-1zM70 36h1v1h-1zM81 36h1v1h-1zM0 37h1v1h-1zM3 37h1v1h-1zM5 37h1v1h-1zM6 37h1v1h-1zM21 37h1v1h-1zM56 37h1v1h-1zM63 37h1v1h-1zM73 37h1v1h-1zM4 38h1v1h-1zM7 38h1v1h-1zM27 38h1v1h-1zM29 38h1v1h-1zM55 38h1v1h-1zM0 39h1v1h-1zM1 39h1v1h-1zM5 39h1v1h-1zM11 39h1v1h-1zM12 39h1v1h-1zM13 39h1v1h-1zM29 39h1v1h-1zM54 39h1v1h-1zM74 39h1v1h-1zM3 40h1v1h-1zM6 40h1v1h-1zM11 40h1v1h-1zM19 40h1v1h-1zM46 40h1v1h-1zM5 41h1v1h-1zM8 41h1v1h-1zM11 41h1v1h-1zM15 41h1v1h-1zM28 41h1v1h-1zM49 41h1v1h-1zM54 41h1v1h-1zM62 41h1v1h-1zM74 41h1v1h-1zM0 42h1v1h-1zM1 42h1v1h-1zM3 42h1v1h-1zM9 42h1v1h-1zM14 42h1v1h-1zM21 42h1v1h-1zM26 42h1v1h-1zM41 42h1v1h-1zM48 42h1v1h-1zM70 42h1v1h-1zM0 43h1v1h-1zM4 43h1v1h-1zM10 43h1v1h-1zM12 43h1v1h-1zM32 43h1v1h-1zM43 43h1v1h-1zM52 43h1v1h-1zM57 43h1v1h-1zM5 44h1v1h-1zM23 44h1v1h-1zM47 44h1v1h-1zM63 44h1v1h-1zM73 44h1v1h-1zM3 45h1v1h-1zM4 45h1v1h-1zM6 45h1v1h-1zM12 45h1v1h-1zM21 45h1v1h-1zM23 45h1v1h-1zM47 45h1v1h-1zM3 46h1v1h-1zM16 46h1v1h-1zM9 47h1v1h-1zM23 47h1v1h-1zM30 47h1v1h-1zM48 47h1v1h-1zM68 47h1v1h-1zM70 47h1v1h-1zM0 48h1v1h-1zM2 48h1v1h-1zM12 48h1v1h-1zM39 48h1v1h-1zM40 48h1v1h-1zM68 48h1v1h-1zM0 49h1v1h-1zM5 49h1v1h-1zM6 49h1v1h-1zM10 49h1v1h-1zM12 49h1v1h-1zM15 49h1v1h-1zM45 49h1v1h-1zM54 49h1v1h-1zM7 50h1v1h-1zM8 50h1v1h-1zM10 50h1v1h-1zM40 50h1v1h-1zM43 50h1v1h-1zM49 50h1v1h-1zM54 50h1v1h-1zM21 51h1v1h-1zM22 51h1v1h-1zM23 51h1v1h-1zM24 51h1v1h-1zM55 51h1v1h-1zM65 51h1v1h-1zM67 51h1v1h-1zM2 52h1v1h-1zM26 52h1v1h-1zM37 52h1v1h-1zM48 52h1v1h-1zM68 52h1v1h-1zM0 53h1v1h-1zM5 53h1v1h-1zM13 53h1v1h-1zM14 53h1v1h-1zM45 53h1v1h-1zM11 54h1v1h-1zM13 54h1v1h-1zM16 54h1v1h-1zM35 54h1v1h-1zM63 54h1v1h-1zM65 54h1v1h-1zM67 54h1v1h-1zM70 54h1v1h-1zM74 54h1v1h-1zM10 55h1v1h-1zM11 55h1v1h-1zM20 55h1v1h-1zM44 55h1v1h-1zM59 55h1v1h-1zM66 55h1v1h-1zM71 55h1v1h-1zM3 56h1v1h-1zM4 56h1v1h-1zM12 56h1v1h-1zM34 56h1v1h-1zM54 56h1v1h-1zM64 56h1v1h-1zM67 56h1v1h-1zM72 56h1v1h-1zM3 57h1v1h-1zM6 57h1v1h-1zM12 57h1v1h-1zM14 57h1v1h-1zM20 57h1v1h-1zM36 57h1v1h-1zM67 57h1v1h-1zM4 58h1v1h-1zM12 58h1v1h-1zM23 58h1v1h-1zM24 58h1v1h-1zM41 58h1v1h-1zM58 58h1v1h-1zM65 58h1v1h-1zM1 59h1v1h-1zM4 59h1v1h-1zM9 59h1v1h-1zM11 59h1v1h-1zM52 59h1v1h-1zM54 59h1v1h-1zM55 59h1v1h-1zM61 59h1v1h-1zM62 59h1v1h-1zM64 59h1v1h-1zM67 59h1v1h-1zM73 59h1v1h-1zM74 59h1v1h-1zM5 60h1v1h-1zM7 60h1v1h-1zM20 60h1v1h-1zM29 60h1v1h-1zM49 60h1v1h-1zM51 60h1v1h-1zM52 60h1v1h-1zM55 60h1v1h-1zM57 60h1v1h-1zM70 60h1v1h-1zM72 60h1v1h-1zM73 60h1v1h-1zM1 61h1v1h-1zM21 61h1v1h-1zM31 61h1v1h-1zM49 61h1v1h-1zM53 61h1v1h-1zM60 61h1v1h-1zM66 61h1v1h-1zM72 61h1v1h-1zM3 62h1v1h-1zM8 62h1v1h-1zM10 62h1v1h-1zM17 62h1v1h-1zM29 62h1v1h-1zM52 62h1v1h-1zM60 62h1v1h-1zM63 62h1v1h-1zM27 63h1v1h-1zM69 63h1v1h-1zM1 64h1v1h-1zM2 64h1v1h-1zM6 64h1v1h-1zM12 64h1v1h-1zM17 64h1v1h-1zM20 64h1v1h-1zM55 64h1v1h-1zM60 64h1v1h-1zM64 64h1v1h-1zM71 64h1v1h-1zM73 64h1v1h-1zM74 64h1v1h-1zM2 65h1v1h-1zM6 65h1v1h-1zM8 65h1v1h-1zM16 65h1v1h-1zM65 65h1v1h-1zM72 65h1v1h-1zM6 66h1v1h-1zM8 66h1v1h-1zM9 66h1v1h-1zM13 66h1v1h-1zM16 66h1v1h-1zM24 66h1v1h-1zM28 66h1v1h-1zM54 66h1v1h-1zM60 66h1v1h-1zM66 66h1v1h-1zM72 66h1v1h-1zM9 67h1v1h-1zM10 67h1v1h-1zM36 67h1v1h-1zM43 67h1v1h-1zM50 67h1v1h-1zM51 67h1v1h-1zM55 67h1v1h-1zM56 67h1v1h-1zM64 67h1v1h-1zM74 67h1v1h-1zM0 68h1v1h-1zM6 68h1v1h-1zM7 68h1v1h-1zM12 68h1v1h-1zM27 68h1v1h-1zM53 68h1v1h-1zM54 68h1v1h-1zM59 68h1v1h-1zM66 68h1v1h-1zM70 68h1v1h-1zM2 69h1v1h-1zM11 69h1v1h-1zM13 69h1v1h-1zM20 69h1v1h-1zM22 69h1v1h-1zM56 69h1v1h-1zM64 69h1v1h-1zM70 69h1v1h-1zM71 69h1v1h-1zM74 69h1v1h-1zM8 70h1v1h-1zM9 70h1v1h-1zM10 70h1v1h-1zM12 70h1v1h-1zM47 70h1v1h-1zM63 70h1v1h-1zM67 70h1v1h-1zM70 70h1v1h-1zM3 71h1v1h-1zM9 71h1v1h-1zM10 71h1v1h-1zM11 71h1v1h-1zM17 71h1v1h-1zM28 71h1v1h-1zM63 71h1v1h-1zM64 71h1v1h-1zM5 72h1v1h-1zM15 72h1v1h-1zM22 72h1v1h-1zM69 72h1v1h-1zM2 73h1v1h-1zM7 73h1v1h-1zM9 73h1v1h-1zM15 73h1v1h-1zM25 73h1v1h-1zM27 73h1v1h-1zM62 73h1v1h-1zM65 73h1v1h-1zM69 73h1v1h-1zM71 73h1v1h-1zM72 73h1v1h-1zM0 74h1v1h-1zM2 74h1v1h-1zM6 74h1v1h-1zM11 74h1v1h-1zM20 74h1v1h-1zM72 74h1v1h-1zM2 75h1v1h-1zM10 75h1v1h-1zM12 75h1v1h-1zM62 75h1v1h-1zM1 76h1v1h-1zM2 76h1v1h-1zM4 76h1v1h-1zM7 76h1v1h-1zM9 76h1v1h-1zM10 76h1v1h-1zM20 76h1v1h-1zM1 77h1v1h-1zM5 77h1v1h-1zM6 77h1v1h-1zM8 77h1v1h-1zM12 77h1v1h-1zM20 77h1v1h-1zM21 77h1v1h-1zM65 77h1v1h-1zM82 77h1v1h-1zM7 78h1v1h-1zM24 78h1v1h-1zM67 78h1v1h-1zM93 78h1v1h-1zM1 79h1v1h-1zM2 79h1v1h-1zM3 79h1v1h-1zM5 79h1v1h-1zM7 79h1v1h-1zM10 79h1v1h-1zM14 79h1v1h-1zM16 79h1v1h-1zM44 79h1v1h-1zM63 79h1v1h-1zM65 79h1v1h-1zM68 79h1v1h-1zM72 79h1v1h-1zM2 80h1v1h-1zM7 80h1v1h-1zM8 80h1v1h-1zM9 80h1v1h-1zM10 80h1v1h-1zM17 80h1v1h-1zM19 80h1v1h-1zM67 80h1v1h-1zM72 80h1v1h-1zM74 80h1v1h-1zM86 80h1v1h-1zM4 81h1v1h-1zM8 81h1v1h-1zM20 81h1v1h-1zM67 81h1v1h-1zM68 81h1v1h-1zM72 81h1v1h-1zM11 82h1v1h-1zM15 82h1v1h-1zM19 82h1v1h-1zM72 82h1v1h-1zM17 83h1v1h-1zM73 83h1v1h-1zM4 84h1v1h-1zM5 84h1v1h-1zM6 84h1v1h-1zM10 84h1v1h-1zM11 84h1v1h-1zM12 84h1v1h-1zM15 84h1v1h-1zM22 84h1v1h-1zM64 84h1v1h-1zM67 84h1v1h-1zM0 85h1v1h-1zM5 85h1v1h-1zM21 85h1v1h-1zM68 85h1v1h-1zM70 85h1v1h-1zM72 85h1v1h-1zM3 86h1v1h-1zM6 86h1v1h-1zM11 86h1v1h-1zM12 86h1v1h-1zM14 86h1v1h-1zM62 86h1v1h-1zM65 86h1v1h-1zM67 86h1v1h-1zM72 86h1v1h-1zM73 86h1v1h-1zM1 87h1v1h-1zM2 87h1v1h-1zM3 87h1v1h-1zM7 87h1v1h-1zM10 87h1v1h-1zM12 87h1v1h-1zM21 87h1v1h-1zM73 87h1v1h-1zM0 88h1v1h-1zM1 88h1v1h-1zM2 88h1v1h-1zM5 88h1v1h-1zM6 88h1v1h-1zM8 88h1v1h-1zM9 88h1v1h-1zM12 88h1v1h-1zM62 88h1v1h-1zM78 88h1v1h-1zM83 88h1v1h-1zM91 88h1v1h-1zM1 89h1v1h-1zM2 89h1v1h-1zM3 89h1v1h-1zM6 89h1v1h-1zM7 89h1v1h-1zM8 89h1v1h-1zM10 89h1v1h-1zM11 89h1v1h-1zM14 89h1v1h-1zM15 89h1v1h-1zM73 89h1v1h-1zM3 90h1v1h-1zM4 90h1v1h-1zM7 90h1v1h-1zM14 90h1v1h-1zM22 90h1v1h-1zM32 90h1v1h-1zM70 90h1v1h-1zM92 90h1v1h-1zM0 91h1v1h-1zM4 91h1v1h-1zM5 91h1v1h-1zM24 91h1v1h-1zM37 91h1v1h-1zM54 91h1v1h-1zM55 91h1v1h-1zM5 92h1v1h-1zM6 92h1v1h-1zM7 92h1v1h-1zM8 92h1v1h-1zM19 92h1v1h-1zM38 92h1v1h-1zM59 92h1v1h-1zM93 92h1v1h-1zM3 93h1v1h-1zM7 93h1v1h-1zM10 93h1v1h-1zM11 93h1v1h-1zM23 93h1v1h-1zM60 93h1v1h-1zM61 93h1v1h-1zM3 94h1v1h-1zM8 94h1v1h-1zM9 94h1v1h-1zM7 95h1v1h-1zM9 95h1v1h-1zM11 95h1v1h-1zM23 95h1v1h-1zM55 95h1v1h-1zM61 95h1v1h-1zM1 96h1v1h-1zM2 96h1v1h-1zM5 96h1v1h-1zM12 96h1v1h-1zM24 96h1v1h-1zM44 96h1v1h-1zM64 96h1v1h-1zM80 96h1v1h-1zM0 97h1v1h-1zM8 97h1v1h-1zM9 97h1v1h-1zM58 97h1v1h-1zM87 97h1v1h-1zM90 97h1v1h-1zM1 98h1v1h-1zM7 98h1v1h-1zM13 98h1v1h-1zM26 98h1v1h-1zM29 98h1v1h-1zM87 98h1v1h-1zM0 99h1v1h-1zM10 99h1v1h-1zM22 99h1v1h-1zM46 99h1v1h-1zM65 99h1v1h-1zM90 99h1v1h-1zM0 100h1v1h-1zM1 100h1v1h-1zM4 100h1v1h-1zM9 100h1v1h-1zM10 100h1v1h-1zM15 100h1v1h-1zM23 100h1v1h-1zM61 100h1v1h-1zM2 101h1v1h-1zM10 101h1v1h-1zM19 101h1v1h-1zM30 101h1v1h-1zM59 101h1v1h-1zM0 102h1v1h-1zM2 102h1v1h-1zM8 102h1v1h-1zM64 102h1v1h-1zM65 102h1v1h-1zM84 102h1v1h-1zM2 103h1v1h-1zM5 103h1v1h-1zM12 103h1v1h-1zM14 103h1v1h-1zM25 103h1v1h-1zM1 104h1v1h-1zM6 104h1v1h-1zM11 104h1v1h-1zM12 104h1v1h-1zM16 104h1v1h-1zM37 104h1v1h-1zM0 105h1v1h-1zM2 105h1v1h-1zM3 105h1v1h-1zM6 105h1v1h-1zM24 105h1v1h-1zM7 106h1v1h-1zM9 106h1v1h-1zM11 106h1v1h-1zM12 106h1v1h-1zM22 106h1v1h-1zM25 106h1v1h-1zM62 106h1v1h-1zM0 107h1v1h-1zM5 107h1v1h-1zM17 107h1v1h-1zM39 107h1v1h-1zM2 108h1v1h-1zM3 108h1v1h-1zM8 108h1v1h-1zM12 108h1v1h-1zM15 108h1v1h-1zM25 108h1v1h-1zM26 108h1v1h-1zM2 109h1v1h-1zM7 109h1v1h-1zM10 109h1v1h-1zM12 109h1v1h-1zM54 109h1v1h-1z"/>
<path fill="#88c8ec" d="M28 0h1v1h-1zM30 0h1v1h-1zM32 0h1v1h-1zM45 0h1v1h-1zM69 0h1v1h-1zM71 0h1v1h-1zM81 0h1v1h-1zM82 0h1v1h-1zM38 1h1v1h-1zM39 1h1v1h-1zM40 1h1v1h-1zM51 1h1v1h-1zM61 1h1v1h-1zM71 1h1v1h-1zM85 1h1v1h-1zM86 1h1v1h-1zM88 1h1v1h-1zM13 2h1v1h-1zM22 2h1v1h-1zM38 2h1v1h-1zM42 2h1v1h-1zM46 2h1v1h-1zM65 2h1v1h-1zM68 2h1v1h-1zM69 2h1v1h-1zM74 2h1v1h-1zM75 2h1v1h-1zM76 2h1v1h-1zM81 2h1v1h-1zM84 2h1v1h-1zM91 2h1v1h-1zM93 2h1v1h-1zM19 3h1v1h-1zM27 3h1v1h-1zM58 3h1v1h-1zM63 3h1v1h-1zM65 3h1v1h-1zM67 3h1v1h-1zM70 3h1v1h-1zM74 3h1v1h-1zM76 3h1v1h-1zM78 3h1v1h-1zM80 3h1v1h-1zM92 3h1v1h-1zM94 3h1v1h-1zM27 4h1v1h-1zM41 4h1v1h-1zM52 4h1v1h-1zM54 4h1v1h-1zM69 4h1v1h-1zM74 4h1v1h-1zM80 4h1v1h-1zM88 4h1v1h-1zM92 4h1v1h-1zM94 4h1v1h-1zM14 5h1v1h-1zM36 5h1v1h-1zM40 5h1v1h-1zM57 5h1v1h-1zM68 5h1v1h-1zM70 5h1v1h-1zM71 5h1v1h-1zM73 5h1v1h-1zM75 5h1v1h-1zM86 5h1v1h-1zM88 5h1v1h-1zM14 6h1v1h-1zM29 6h1v1h-1zM37 6h1v1h-1zM41 6h1v1h-1zM59 6h1v1h-1zM65 6h1v1h-1zM66 6h1v1h-1zM72 6h1v1h-1zM83 6h1v1h-1zM84 6h1v1h-1zM85 6h1v1h-1zM87 6h1v1h-1zM92 6h1v1h-1zM55 7h1v1h-1zM66 7h1v1h-1zM74 7h1v1h-1zM76 7h1v1h-1zM79 7h1v1h-1zM81 7h1v1h-1zM83 7h1v1h-1zM87 7h1v1h-1zM94 7h1v1h-1zM37 8h1v1h-1zM59 8h1v1h-1zM64 8h1v1h-1zM67 8h1v1h-1zM69 8h1v1h-1zM73 8h1v1h-1zM75 8h1v1h-1zM77 8h1v1h-1zM80 8h1v1h-1zM30 9h1v1h-1zM47 9h1v1h-1zM55 9h1v1h-1zM56 9h1v1h-1zM59 9h1v1h-1zM70 9h1v1h-1zM71 9h1v1h-1zM77 9h1v1h-1zM81 9h1v1h-1zM82 9h1v1h-1zM86 9h1v1h-1zM89 9h1v1h-1zM25 10h1v1h-1zM38 10h1v1h-1zM46 10h1v1h-1zM48 10h1v1h-1zM49 10h1v1h-1zM56 10h1v1h-1zM59 10h1v1h-1zM72 10h1v1h-1zM73 10h1v1h-1zM80 10h1v1h-1zM82 10h1v1h-1zM42 11h1v1h-1zM46 11h1v1h-1zM47 11h1v1h-1zM54 11h1v1h-1zM57 11h1v1h-1zM59 11h1v1h-1zM62 11h1v1h-1zM66 11h1v1h-1zM67 11h1v1h-1zM73 11h1v1h-1zM75 11h1v1h-1zM76 11h1v1h-1zM82 11h1v1h-1zM83 11h1v1h-1zM93 11h1v1h-1zM16 12h1v1h-1zM19 12h1v1h-1zM28 12h1v1h-1zM40 12h1v1h-1zM41 12h1v1h-1zM43 12h1v1h-1zM48 12h1v1h-1zM49 12h1v1h-1zM75 12h1v1h-1zM76 12h1v1h-1zM78 12h1v1h-1zM86 12h1v1h-1zM87 12h1v1h-1zM90 12h1v1h-1zM93 12h1v1h-1zM38 13h1v1h-1zM47 13h1v1h-1zM51 13h1v1h-1zM55 13h1v1h-1zM61 13h1v1h-1zM63 13h1v1h-1zM66 13h1v1h-1zM67 13h1v1h-1zM71 13h1v1h-1zM76 13h1v1h-1zM77 13h1v1h-1zM84 13h1v1h-1zM94 13h1v1h-1zM21 14h1v1h-1zM37 14h1v1h-1zM44 14h1v1h-1zM47 14h1v1h-1zM48 14h1v1h-1zM49 14h1v1h-1zM50 14h1v1h-1zM55 14h1v1h-1zM67 14h1v1h-1zM70 14h1v1h-1zM75 14h1v1h-1zM77 14h1v1h-1zM79 14h1v1h-1zM82 14h1v1h-1zM84 14h1v1h-1zM87 14h1v1h-1zM92 14h1v1h-1zM14 15h1v1h-1zM30 15h1v1h-1zM34 15h1v1h-1zM36 15h1v1h-1zM40 15h1v1h-1zM47 15h1v1h-1zM48 15h1v1h-1zM49 15h1v1h-1zM50 15h1v1h-1zM65 15h1v1h-1zM69 15h1v1h-1zM75 15h1v1h-1zM78 15h1v1h-1zM82 15h1v1h-1zM83 15h1v1h-1zM87 15h1v1h-1zM88 15h1v1h-1zM89 15h1v1h-1zM90 15h1v1h-1zM93 15h1v1h-1zM6 16h1v1h-1zM17 16h1v1h-1zM30 16h1v1h-1zM51 16h1v1h-1zM54 16h1v1h-1zM56 16h1v1h-1zM58 16h1v1h-1zM60 16h1v1h-1zM62 16h1v1h-1zM65 16h1v1h-1zM69 16h1v1h-1zM72 16h1v1h-1zM73 16h1v1h-1zM76 16h1v1h-1zM80 16h1v1h-1zM83 16h1v1h-1zM86 16h1v1h-1zM94 16h1v1h-1zM13 17h1v1h-1zM14 17h1v1h-1zM16 17h1v1h-1zM17 17h1v1h-1zM22 17h1v1h-1zM27 17h1v1h-1zM33 17h1v1h-1zM40 17h1v1h-1zM47 17h1v1h-1zM52 17h1v1h-1zM64 17h1v1h-1zM76 17h1v1h-1zM78 17h1v1h-1zM79 17h1v1h-1zM15 18h1v1h-1zM40 18h1v1h-1zM42 18h1v1h-1zM44 18h1v1h-1zM45 18h1v1h-1zM47 18h1v1h-1zM52 18h1v1h-1zM56 18h1v1h-1zM59 18h1v1h-1zM60 18h1v1h-1zM63 18h1v1h-1zM64 18h1v1h-1zM69 18h1v1h-1zM76 18h1v1h-1zM77 18h1v1h-1zM86 18h1v1h-1zM89 18h1v1h-1zM15 19h1v1h-1zM16 19h1v1h-1zM29 19h1v1h-1zM39 19h1v1h-1zM42 19h1v1h-1zM47 19h1v1h-1zM48 19h1v1h-1zM52 19h1v1h-1zM68 19h1v1h-1zM84 19h1v1h-1zM86 19h1v1h-1zM89 19h1v1h-1zM94 19h1v1h-1zM15 20h1v1h-1zM21 20h1v1h-1zM26 20h1v1h-1zM37 20h1v1h-1zM39 20h1v1h-1zM45 20h1v1h-1zM46 20h1v1h-1zM55 20h1v1h-1zM59 20h1v1h-1zM63 20h1v1h-1zM67 20h1v1h-1zM70 20h1v1h-1zM76 20h1v1h-1zM77 20h1v1h-1zM91 20h1v1h-1zM94 20h1v1h-1zM17 21h1v1h-1zM19 21h1v1h-1zM23 21h1v1h-1zM35 21h1v1h-1zM40 21h1v1h-1zM42 21h1v1h-1zM43 21h1v1h-1zM46 21h1v1h-1zM47 21h1v1h-1zM52 21h1v1h-1zM56 21h1v1h-1zM58 21h1v1h-1zM60 21h1v1h-1zM69 21h1v1h-1zM75 21h1v1h-1zM77 21h1v1h-1zM80 21h1v1h-1zM81 21h1v1h-1zM85 21h1v1h-1zM87 21h1v1h-1zM90 21h1v1h-1zM40 22h1v1h-1zM42 22h1v1h-1zM44 22h1v1h-1zM46 22h1v1h-1zM49 22h1v1h-1zM50 22h1v1h-1zM58 22h1v1h-1zM61 22h1v1h-1zM63 22h1v1h-1zM67 22h1v1h-1zM73 22h1v1h-1zM75 22h1v1h-1zM77 22h1v1h-1zM81 22h1v1h-1zM85 22h1v1h-1zM86 22h1v1h-1zM89 22h1v1h-1zM28 23h1v1h-1zM30 23h1v1h-1zM37 23h1v1h-1zM41 23h1v1h-1zM45 23h1v1h-1zM47 23h1v1h-1zM50 23h1v1h-1zM62 23h1v1h-1zM68 23h1v1h-1zM74 23h1v1h-1zM75 23h1v1h-1zM77 23h1v1h-1zM81 23h1v1h-1zM83 23h1v1h-1zM88 23h1v1h-1zM89 23h1v1h-1zM92 23h1v1h-1zM93 23h1v1h-1zM19 24h1v1h-1zM28 24h1v1h-1zM37 24h1v1h-1zM43 24h1v1h-1zM46 24h1v1h-1zM51 24h1v1h-1zM53 24h1v1h-1zM59 24h1v1h-1zM60 24h1v1h-1zM66 24h1v1h-1zM69 24h1v1h-1zM71 24h1v1h-1zM73 24h1v1h-1zM74 24h1v1h-1zM81 24h1v1h-1zM83 24h1v1h-1zM84 24h1v1h-1zM85 24h1v1h-1zM90 24h1v1h-1zM93 24h1v1h-1zM2 25h1v1h-1zM7 25h1v1h-1zM8 25h1v1h-1zM13 25h1v1h-1zM18 25h1v1h-1zM20 25h1v1h-1zM79 25h1v1h-1zM80 25h1v1h-1zM84 25h1v1h-1zM86 25h1v1h-1zM93 25h1v1h-1zM3 26h1v1h-1zM4 26h1v1h-1zM6 26h1v1h-1zM9 26h1v1h-1zM10 26h1v1h-1zM17 26h1v1h-1zM18 26h1v1h-1zM62 26h1v1h-1zM72 26h1v1h-1zM77 26h1v1h-1zM82 26h1v1h-1zM83 26h1v1h-1zM84 26h1v1h-1zM89 26h1v1h-1zM93 26h1v1h-1zM8 27h1v1h-1zM9 27h1v1h-1zM13 27h1v1h-1zM18 27h1v1h-1zM19 27h1v1h-1zM28 27h1v1h-1zM61 27h1v1h-1zM68 27h1v1h-1zM75 27h1v1h-1zM90 27h1v1h-1zM2 28h1v1h-1zM5 28h1v1h-1zM7 28h1v1h-1zM12 28h1v1h-1zM16 28h1v1h-1zM21 28h1v1h-1zM40 28h1v1h-1zM75 28h1v1h-1zM76 28h1v1h-1zM78 28h1v1h-1zM81 28h1v1h-1zM94 28h1v1h-1zM10 29h1v1h-1zM13 29h1v1h-1zM16 29h1v1h-1zM84 29h1v1h-1zM92 29h1v1h-1zM93 29h1v1h-1zM94 29h1v1h-1zM3 30h1v1h-1zM6 30h1v1h-1zM7 30h1v1h-1zM11 30h1v1h-1zM18 30h1v1h-1zM72 30h1v1h-1zM82 30h1v1h-1zM7 31h1v1h-1zM11 31h1v1h-1zM13 31h1v1h-1zM14 31h1v1h-1zM15 31h1v1h-1zM68 31h1v1h-1zM83 31h1v1h-1zM85 31h1v1h-1zM93 31h1v1h-1zM3 32h1v1h-1zM8 32h1v1h-1zM9 32h1v1h-1zM20 32h1v1h-1zM77 32h1v1h-1zM83 32h1v1h-1zM86 32h1v1h-1zM90 32h1v1h-1zM92 32h1v1h-1zM94 32h1v1h-1zM0 33h1v1h-1zM1 33h1v1h-1zM2 33h1v1h-1zM3 33h1v1h-1zM8 33h1v1h-1zM13 33h1v1h-1zM14 33h1v1h-1zM21 33h1v1h-1zM64 33h1v1h-1zM71 33h1v1h-1zM73 33h1v1h-1zM76 33h1v1h-1zM83 33h1v1h-1zM93 33h1v1h-1zM94 33h1v1h-1zM6 34h1v1h-1zM8 34h1v1h-1zM9 34h1v1h-1zM10 34h1v1h-1zM11 34h1v1h-1zM14 34h1v1h-1zM16 34h1v1h-1zM19 34h1v1h-1zM65 34h1v1h-1zM70 34h1v1h-1zM83 34h1v1h-1zM86 34h1v1h-1zM0 35h1v1h-1zM1 35h1v1h-1zM3 35h1v1h-1zM5 35h1v1h-1zM7 35h1v1h-1zM14 35h1v1h-1zM28 35h1v1h-1zM32 35h1v1h-1zM47 35h1v1h-1zM49 35h1v1h-1zM54 35h1v1h-1zM55 35h1v1h-1zM66 35h1v1h-1zM67 35h1v1h-1zM72 35h1v1h-1zM73 35h1v1h-1zM76 35h1v1h-1zM81 35h1v1h-1zM84 35h1v1h-1zM86 35h1v1h-1zM88 35h1v1h-1zM2 36h1v1h-1zM7 36h1v1h-1zM11 36h1v1h-1zM15 36h1v1h-1zM34 36h1v1h-1zM36 36h1v1h-1zM39 36h1v1h-1zM41 36h1v1h-1zM46 36h1v1h-1zM65 36h1v1h-1zM68 36h1v1h-1zM72 36h1v1h-1zM84 36h1v1h-1zM85 36h1v1h-1zM86 36h1v1h-1zM89 36h1v1h-1zM9 37h1v1h-1zM11 37h1v1h-1zM14 37h1v1h-1zM24 37h1v1h-1zM27 37h1v1h-1zM28 37h1v1h-1zM29 37h1v1h-1zM35 37h1v1h-1zM37 37h1v1h-1zM38 37h1v1h-1zM45 37h1v1h-1zM46 37h1v1h-1zM48 37h1v1h-1zM52 37h1v1h-1zM65 37h1v1h-1zM2 38h1v1h-1zM3 38h1v1h-1zM14 38h1v1h-1zM39 38h1v1h-1zM45 38h1v1h-1zM56 38h1v1h-1zM58 38h1v1h-1zM60 38h1v1h-1zM64 38h1v1h-1zM23 39h1v1h-1zM37 39h1v1h-1zM42 39h1v1h-1zM65 39h1v1h-1zM66 39h1v1h-1zM71 39h1v1h-1zM72 39h1v1h-1zM9 40h1v1h-1zM21 40h1v1h-1zM25 40h1v1h-1zM35 40h1v1h-1zM37 40h1v1h-1zM41 40h1v1h-1zM42 40h1v1h-1zM43 40h1v1h-1zM52 40h1v1h-1zM67 40h1v1h-1zM74 40h1v1h-1zM17 41h1v1h-1zM19 41h1v1h-1zM20 41h1v1h-1zM22 41h1v1h-1zM23 41h1v1h-1zM31 41h1v1h-1zM43 41h1v1h-1zM44 41h1v1h-1zM45 41h1v1h-1zM46 41h1v1h-1zM47 41h1v1h-1zM55 41h1v1h-1zM56 41h1v1h-1zM58 41h1v1h-1zM59 41h1v1h-1zM7 42h1v1h-1zM12 42h1v1h-1zM18 42h1v1h-1zM22 42h1v1h-1zM24 42h1v1h-1zM30 42h1v1h-1zM34 42h1v1h-1zM36 42h1v1h-1zM38 42h1v1h-1zM39 42h1v1h-1zM44 42h1v1h-1zM54 42h1v1h-1zM56 42h1v1h-1zM58 42h1v1h-1zM67 42h1v1h-1zM1 43h1v1h-1zM2 43h1v1h-1zM5 43h1v1h-1zM24 43h1v1h-1zM29 43h1v1h-1zM34 43h1v1h-1zM48 43h1v1h-1zM51 43h1v1h-1zM54 43h1v1h-1zM55 43h1v1h-1zM64 43h1v1h-1zM67 43h1v1h-1zM70 43h1v1h-1zM72 43h1v1h-1zM0 44h1v1h-1zM2 44h1v1h-1zM8 44h1v1h-1zM9 44h1v1h-1zM10 44h1v1h-1zM14 44h1v1h-1zM15 44h1v1h-1zM17 44h1v1h-1zM19 44h1v1h-1zM37 44h1v1h-1zM45 44h1v1h-1zM53 44h1v1h-1zM54 44h1v1h-1zM65 44h1v1h-1zM7 45h1v1h-1zM13 45h1v1h-1zM15 45h1v1h-1zM52 45h1v1h-1zM63 45h1v1h-1zM66 45h1v1h-1zM73 45h1v1h-1zM1 46h1v1h-1zM2 46h1v1h-1zM6 46h1v1h-1zM7 46h1v1h-1zM9 46h1v1h-1zM10 46h1v1h-1zM25 46h1v1h-1zM54 46h1v1h-1zM56 46h1v1h-1zM58 46h1v1h-1zM62 46h1v1h-1zM70 46h1v1h-1zM71 46h1v1h-1zM74 46h1v1h-1zM10 47h1v1h-1zM11 47h1v1h-1zM15 47h1v1h-1zM16 47h1v1h-1zM19 47h1v1h-1zM22 47h1v1h-1zM26 47h1v1h-1zM35 47h1v1h-1zM36 47h1v1h-1zM40 47h1v1h-1zM44 47h1v1h-1zM49 47h1v1h-1zM50 47h1v1h-1zM60 47h1v1h-1zM64 47h1v1h-1zM65 47h1v1h-1zM73 47h1v1h-1zM3 48h1v1h-1zM6 48h1v1h-1zM8 48h1v1h-1zM9 48h1v1h-1zM10 48h1v1h-1zM16 48h1v1h-1zM20 48h1v1h-1zM21 48h1v1h-1zM24 48h1v1h-1zM28 48h1v1h-1zM30 48h1v1h-1zM31 48h1v1h-1zM32 48h1v1h-1zM41 48h1v1h-1zM44 48h1v1h-1zM46 48h1v1h-1zM47 48h1v1h-1zM50 48h1v1h-1zM51 48h1v1h-1zM53 48h1v1h-1zM54 48h1v1h-1zM55 48h1v1h-1zM65 48h1v1h-1zM72 48h1v1h-1zM7 49h1v1h-1zM9 49h1v1h-1zM17 49h1v1h-1zM18 49h1v1h-1zM21 49h1v1h-1zM25 49h1v1h-1zM27 49h1v1h-1zM28 49h1v1h-1zM30 49h1v1h-1zM32 49h1v1h-1zM35 49h1v1h-1zM36 49h1v1h-1zM38 49h1v1h-1zM39 49h1v1h-1zM46 49h1v1h-1zM49 49h1v1h-1zM50 49h1v1h-1zM56 49h1v1h-1zM57 49h1v1h-1zM59 49h1v1h-1zM60 49h1v1h-1zM61 49h1v1h-1zM62 49h1v1h-1zM72 49h1v1h-1zM2 50h1v1h-1zM13 50h1v1h-1zM14 50h1v1h-1zM15 50h1v1h-1zM17 50h1v1h-1zM20 50h1v1h-1zM26 50h1v1h-1zM28 50h1v1h-1zM30 50h1v1h-1zM34 50h1v1h-1zM35 50h1v1h-1zM36 50h1v1h-1zM42 50h1v1h-1zM53 50h1v1h-1zM55 50h1v1h-1zM57 50h1v1h-1zM59 50h1v1h-1zM60 50h1v1h-1zM61 50h1v1h-1zM62 50h1v1h-1zM65 50h1v1h-1zM68 50h1v1h-1zM69 50h1v1h-1zM71 50h1v1h-1zM0 51h1v1h-1zM4 51h1v1h-1zM9 51h1v1h-1zM10 51h1v1h-1zM14 51h1v1h-1zM17 51h1v1h-1zM27 51h1v1h-1zM29 51h1v1h-1zM30 51h1v1h-1zM32 51h1v1h-1zM42 51h1v1h-1zM48 51h1v1h-1zM49 51h1v1h-1zM50 51h1v1h-1zM51 51h1v1h-1zM53 51h1v1h-1zM56 51h1v1h-1zM58 51h1v1h-1zM59 51h1v1h-1zM62 51h1v1h-1zM69 51h1v1h-1zM74 51h1v1h-1zM1 52h1v1h-1zM5 52h1v1h-1zM19 52h1v1h-1zM21 52h1v1h-1zM22 52h1v1h-1zM23 52h1v1h-1zM32 52h1v1h-1zM33 52h1v1h-1zM39 52h1v1h-1zM41 52h1v1h-1zM43 52h1v1h-1zM44 52h1v1h-1zM47 52h1v1h-1zM57 52h1v1h-1zM58 52h1v1h-1zM64 52h1v1h-1zM69 52h1v1h-1zM7 53h1v1h-1zM8 53h1v1h-1zM9 53h1v1h-1zM17 53h1v1h-1zM22 53h1v1h-1zM24 53h1v1h-1zM26 53h1v1h-1zM27 53h1v1h-1zM31 53h1v1h-1zM35 53h1v1h-1zM37 53h1v1h-1zM38 53h1v1h-1zM41 53h1v1h-1zM42 53h1v1h-1zM43 53h1v1h-1zM50 53h1v1h-1zM51 53h1v1h-1zM53 53h1v1h-1zM57 53h1v1h-1zM58 53h1v1h-1zM60 53h1v1h-1zM61 53h1v1h-1zM62 53h1v1h-1zM63 53h1v1h-1zM65 53h1v1h-1zM66 53h1v1h-1zM70 53h1v1h-1zM0 54h1v1h-1zM1 54h1v1h-1zM2 54h1v1h-1zM12 54h1v1h-1zM15 54h1v1h-1zM18 54h1v1h-1zM22 54h1v1h-1zM23 54h1v1h-1zM24 54h1v1h-1zM25 54h1v1h-1zM37 54h1v1h-1zM38 54h1v1h-1zM40 54h1v1h-1zM44 54h1v1h-1zM51 54h1v1h-1zM59 54h1v1h-1zM61 54h1v1h-1zM62 54h1v1h-1zM68 54h1v1h-1zM69 54h1v1h-1zM71 54h1v1h-1zM72 54h1v1h-1zM0 55h1v1h-1zM1 55h1v1h-1zM6 55h1v1h-1zM8 55h1v1h-1zM14 55h1v1h-1zM18 55h1v1h-1zM23 55h1v1h-1zM24 55h1v1h-1zM31 55h1v1h-1zM32 55h1v1h-1zM34 55h1v1h-1zM35 55h1v1h-1zM38 55h1v1h-1zM43 55h1v1h-1zM45 55h1v1h-1zM47 55h1v1h-1zM50 55h1v1h-1zM52 55h1v1h-1zM56 55h1v1h-1zM62 55h1v1h-1zM64 55h1v1h-1zM69 55h1v1h-1zM72 55h1v1h-1zM73 55h1v1h-1zM2 56h1v1h-1zM7 56h1v1h-1zM14 56h1v1h-1zM16 56h1v1h-1zM20 56h1v1h-1zM24 56h1v1h-1zM26 56h1v1h-1zM28 56h1v1h-1zM29 56h1v1h-1zM37 56h1v1h-1zM38 56h1v1h-1zM39 56h1v1h-1zM44 56h1v1h-1zM45 56h1v1h-1zM47 56h1v1h-1zM50 56h1v1h-1zM52 56h1v1h-1zM53 56h1v1h-1zM55 56h1v1h-1zM56 56h1v1h-1zM59 56h1v1h-1zM60 56h1v1h-1zM65 56h1v1h-1zM68 56h1v1h-1zM69 56h1v1h-1zM1 57h1v1h-1zM2 57h1v1h-1zM4 57h1v1h-1zM5 57h1v1h-1zM7 57h1v1h-1zM9 57h1v1h-1zM13 57h1v1h-1zM15 57h1v1h-1zM17 57h1v1h-1zM18 57h1v1h-1zM22 57h1v1h-1zM24 57h1v1h-1zM27 57h1v1h-1zM29 57h1v1h-1zM30 57h1v1h-1zM31 57h1v1h-1zM32 57h1v1h-1zM33 57h1v1h-1zM34 57h1v1h-1zM35 57h1v1h-1zM38 57h1v1h-1zM39 57h1v1h-1zM40 57h1v1h-1zM43 57h1v1h-1zM44 57h1v1h-1zM46 57h1v1h-1zM47 57h1v1h-1zM53 57h1v1h-1zM57 57h1v1h-1zM65 57h1v1h-1zM0 58h1v1h-1zM2 58h1v1h-1zM3 58h1v1h-1zM7 58h1v1h-1zM13 58h1v1h-1zM15 58h1v1h-1zM17 58h1v1h-1zM18 58h1v1h-1zM21 58h1v1h-1zM26 58h1v1h-1zM29 58h1v1h-1zM31 58h1v1h-1zM33 58h1v1h-1zM34 58h1v1h-1zM36 58h1v1h-1zM38 58h1v1h-1zM39 58h1v1h-1zM46 58h1v1h-1zM54 58h1v1h-1zM55 58h1v1h-1zM56 58h1v1h-1zM57 58h1v1h-1zM66 58h1v1h-1zM70 58h1v1h-1zM71 58h1v1h-1zM73 58h1v1h-1zM0 59h1v1h-1zM5 59h1v1h-1zM10 59h1v1h-1zM15 59h1v1h-1zM17 59h1v1h-1zM20 59h1v1h-1zM22 59h1v1h-1zM24 59h1v1h-1zM25 59h1v1h-1zM29 59h1v1h-1zM31 59h1v1h-1zM51 59h1v1h-1zM53 59h1v1h-1zM56 59h1v1h-1zM58 59h1v1h-1zM60 59h1v1h-1zM70 59h1v1h-1zM72 59h1v1h-1zM2 60h1v1h-1zM4 60h1v1h-1zM8 60h1v1h-1zM15 60h1v1h-1zM25 60h1v1h-1zM27 60h1v1h-1zM50 60h1v1h-1zM53 60h1v1h-1zM54 60h1v1h-1zM58 60h1v1h-1zM63 60h1v1h-1zM3 61h1v1h-1zM12 61h1v1h-1zM14 61h1v1h-1zM16 61h1v1h-1zM28 61h1v1h-1zM43 61h1v1h-1zM50 61h1v1h-1zM51 61h1v1h-1zM52 61h1v1h-1zM55 61h1v1h-1zM61 61h1v1h-1zM67 61h1v1h-1zM68 61h1v1h-1zM70 61h1v1h-1zM71 61h1v1h-1zM1 62h1v1h-1zM6 62h1v1h-1zM9 62h1v1h-1zM14 62h1v1h-1zM26 62h1v1h-1zM32 62h1v1h-1zM49 62h1v1h-1zM57 62h1v1h-1zM59 62h1v1h-1zM61 62h1v1h-1zM62 62h1v1h-1zM74 62h1v1h-1zM2 63h1v1h-1zM16 63h1v1h-1zM24 63h1v1h-1zM26 63h1v1h-1zM30 63h1v1h-1zM51 63h1v1h-1zM53 63h1v1h-1zM55 63h1v1h-1zM57 63h1v1h-1zM58 63h1v1h-1zM61 63h1v1h-1zM67 63h1v1h-1zM68 63h1v1h-1zM74 63h1v1h-1zM3 64h1v1h-1zM5 64h1v1h-1zM13 64h1v1h-1zM28 64h1v1h-1zM29 64h1v1h-1zM41 64h1v1h-1zM49 64h1v1h-1zM52 64h1v1h-1zM53 64h1v1h-1zM54 64h1v1h-1zM57 64h1v1h-1zM58 64h1v1h-1zM59 64h1v1h-1zM61 64h1v1h-1zM62 64h1v1h-1zM66 64h1v1h-1zM69 64h1v1h-1zM70 64h1v1h-1zM0 65h1v1h-1zM10 65h1v1h-1zM20 65h1v1h-1zM25 65h1v1h-1zM31 65h1v1h-1zM53 65h1v1h-1zM60 65h1v1h-1zM62 65h1v1h-1zM70 65h1v1h-1zM71 65h1v1h-1zM0 66h1v1h-1zM1 66h1v1h-1zM3 66h1v1h-1zM12 66h1v1h-1zM18 66h1v1h-1zM27 66h1v1h-1zM30 66h1v1h-1zM32 66h1v1h-1zM51 66h1v1h-1zM67 66h1v1h-1zM68 66h1v1h-1zM8 67h1v1h-1zM11 67h1v1h-1zM14 67h1v1h-1zM17 67h1v1h-1zM23 67h1v1h-1zM26 67h1v1h-1zM28 67h1v1h-1zM41 67h1v1h-1zM53 67h1v1h-1zM58 67h1v1h-1zM61 67h1v1h-1zM1 68h1v1h-1zM2 68h1v1h-1zM9 68h1v1h-1zM10 68h1v1h-1zM20 68h1v1h-1zM24 68h1v1h-1zM26 68h1v1h-1zM29 68h1v1h-1zM39 68h1v1h-1zM49 68h1v1h-1zM50 68h1v1h-1zM52 68h1v1h-1zM57 68h1v1h-1zM61 68h1v1h-1zM62 68h1v1h-1zM63 68h1v1h-1zM69 68h1v1h-1zM72 68h1v1h-1zM74 68h1v1h-1zM1 69h1v1h-1zM5 69h1v1h-1zM23 69h1v1h-1zM24 69h1v1h-1zM25 69h1v1h-1zM27 69h1v1h-1zM30 69h1v1h-1zM31 69h1v1h-1zM34 69h1v1h-1zM43 69h1v1h-1zM45 69h1v1h-1zM63 69h1v1h-1zM66 69h1v1h-1zM68 69h1v1h-1zM69 69h1v1h-1zM72 69h1v1h-1zM73 69h1v1h-1zM0 70h1v1h-1zM26 70h1v1h-1zM32 70h1v1h-1zM56 70h1v1h-1zM62 70h1v1h-1zM68 70h1v1h-1zM71 70h1v1h-1zM72 70h1v1h-1zM1 71h1v1h-1zM13 71h1v1h-1zM16 71h1v1h-1zM26 71h1v1h-1zM29 71h1v1h-1zM36 71h1v1h-1zM62 71h1v1h-1zM65 71h1v1h-1zM66 71h1v1h-1zM67 71h1v1h-1zM68 71h1v1h-1zM69 71h1v1h-1zM70 71h1v1h-1zM72 71h1v1h-1zM74 71h1v1h-1zM3 72h1v1h-1zM8 72h1v1h-1zM12 72h1v1h-1zM23 72h1v1h-1zM24 72h1v1h-1zM30 72h1v1h-1zM31 72h1v1h-1zM33 72h1v1h-1zM49 72h1v1h-1zM63 72h1v1h-1zM68 72h1v1h-1zM70 72h1v1h-1zM71 72h1v1h-1zM72 72h1v1h-1zM18 73h1v1h-1zM24 73h1v1h-1zM26 73h1v1h-1zM42 73h1v1h-1zM60 73h1v1h-1zM73 73h1v1h-1zM74 73h1v1h-1zM9 74h1v1h-1zM12 74h1v1h-1zM14 74h1v1h-1zM23 74h1v1h-1zM25 74h1v1h-1zM63 74h1v1h-1zM69 74h1v1h-1zM70 74h1v1h-1zM73 74h1v1h-1zM80 74h1v1h-1zM18 75h1v1h-1zM20 75h1v1h-1zM40 75h1v1h-1zM47 75h1v1h-1zM63 75h1v1h-1zM68 75h1v1h-1zM74 75h1v1h-1zM0 76h1v1h-1zM13 76h1v1h-1zM18 76h1v1h-1zM62 76h1v1h-1zM2 77h1v1h-1zM14 77h1v1h-1zM36 77h1v1h-1zM69 77h1v1h-1zM70 77h1v1h-1zM75 77h1v1h-1zM1 78h1v1h-1zM3 78h1v1h-1zM6 78h1v1h-1zM15 78h1v1h-1zM16 78h1v1h-1zM21 78h1v1h-1zM26 78h1v1h-1zM62 78h1v1h-1zM70 78h1v1h-1zM13 79h1v1h-1zM64 79h1v1h-1zM76 79h1v1h-1zM78 79h1v1h-1zM3 80h1v1h-1zM11 80h1v1h-1zM12 80h1v1h-1zM16 80h1v1h-1zM21 80h1v1h-1zM57 80h1v1h-1zM65 80h1v1h-1zM68 80h1v1h-1zM69 80h1v1h-1zM76 80h1v1h-1zM77 80h1v1h-1zM81 80h1v1h-1zM90 80h1v1h-1zM3 81h1v1h-1zM5 81h1v1h-1zM10 81h1v1h-1zM14 81h1v1h-1zM15 81h1v1h-1zM18 81h1v1h-1zM63 81h1v1h-1zM64 81h1v1h-1zM65 81h1v1h-1zM69 81h1v1h-1zM86 81h1v1h-1zM0 82h1v1h-1zM1 82h1v1h-1zM3 82h1v1h-1zM5 82h1v1h-1zM7 82h1v1h-1zM8 82h1v1h-1zM9 82h1v1h-1zM10 82h1v1h-1zM14 82h1v1h-1zM21 82h1v1h-1zM68 82h1v1h-1zM83 82h1v1h-1zM91 82h1v1h-1zM94 82h1v1h-1zM7 83h1v1h-1zM8 83h1v1h-1zM11 83h1v1h-1zM12 83h1v1h-1zM15 83h1v1h-1zM67 83h1v1h-1zM68 83h1v1h-1zM70 83h1v1h-1zM72 83h1v1h-1zM93 83h1v1h-1zM0 84h1v1h-1zM3 84h1v1h-1zM7 84h1v1h-1zM14 84h1v1h-1zM21 84h1v1h-1zM23 84h1v1h-1zM68 84h1v1h-1zM70 84h1v1h-1zM71 84h1v1h-1zM73 84h1v1h-1zM74 84h1v1h-1zM76 84h1v1h-1zM80 84h1v1h-1zM92 84h1v1h-1zM93 84h1v1h-1zM1 85h1v1h-1zM2 85h1v1h-1zM7 85h1v1h-1zM12 85h1v1h-1zM13 85h1v1h-1zM15 85h1v1h-1zM18 85h1v1h-1zM20 85h1v1h-1zM43 85h1v1h-1zM65 85h1v1h-1zM67 85h1v1h-1zM74 85h1v1h-1zM89 85h1v1h-1zM0 86h1v1h-1zM1 86h1v1h-1zM2 86h1v1h-1zM9 86h1v1h-1zM10 86h1v1h-1zM24 86h1v1h-1zM37 86h1v1h-1zM46 86h1v1h-1zM53 86h1v1h-1zM63 86h1v1h-1zM69 86h1v1h-1zM70 86h1v1h-1zM71 86h1v1h-1zM75 86h1v1h-1zM4 87h1v1h-1zM9 87h1v1h-1zM46 87h1v1h-1zM62 87h1v1h-1zM67 87h1v1h-1zM89 87h1v1h-1zM3 88h1v1h-1zM4 88h1v1h-1zM7 88h1v1h-1zM11 88h1v1h-1zM14 88h1v1h-1zM23 88h1v1h-1zM38 88h1v1h-1zM41 88h1v1h-1zM63 88h1v1h-1zM67 88h1v1h-1zM70 88h1v1h-1zM71 88h1v1h-1zM73 88h1v1h-1zM84 88h1v1h-1zM87 88h1v1h-1zM88 88h1v1h-1zM48 89h1v1h-1zM62 89h1v1h-1zM63 89h1v1h-1zM64 89h1v1h-1zM66 89h1v1h-1zM67 89h1v1h-1zM71 89h1v1h-1zM72 89h1v1h-1zM0 90h1v1h-1zM5 90h1v1h-1zM9 90h1v1h-1zM10 90h1v1h-1zM16 90h1v1h-1zM18 90h1v1h-1zM19 90h1v1h-1zM27 90h1v1h-1zM61 90h1v1h-1zM66 90h1v1h-1zM67 90h1v1h-1zM73 90h1v1h-1zM77 90h1v1h-1zM81 90h1v1h-1zM8 91h1v1h-1zM11 91h1v1h-1zM12 91h1v1h-1zM15 91h1v1h-1zM19 91h1v1h-1zM22 91h1v1h-1zM23 91h1v1h-1zM31 91h1v1h-1zM38 91h1v1h-1zM57 91h1v1h-1zM61 91h1v1h-1zM87 91h1v1h-1zM92 91h1v1h-1zM1 92h1v1h-1zM56 92h1v1h-1zM87 92h1v1h-1zM92 92h1v1h-1zM94 92h1v1h-1zM0 93h1v1h-1zM5 93h1v1h-1zM8 93h1v1h-1zM12 93h1v1h-1zM13 93h1v1h-1zM17 93h1v1h-1zM29 93h1v1h-1zM44 93h1v1h-1zM46 93h1v1h-1zM65 93h1v1h-1zM81 93h1v1h-1zM0 94h1v1h-1zM6 94h1v1h-1zM22 94h1v1h-1zM38 94h1v1h-1zM52 94h1v1h-1zM55 94h1v1h-1zM61 94h1v1h-1zM82 94h1v1h-1zM94 94h1v1h-1zM6 95h1v1h-1zM12 95h1v1h-1zM60 95h1v1h-1zM80 95h1v1h-1zM89 95h1v1h-1zM4 96h1v1h-1zM6 96h1v1h-1zM8 96h1v1h-1zM9 96h1v1h-1zM10 96h1v1h-1zM15 96h1v1h-1zM20 96h1v1h-1zM25 96h1v1h-1zM33 96h1v1h-1zM34 96h1v1h-1zM37 96h1v1h-1zM40 96h1v1h-1zM81 96h1v1h-1zM88 96h1v1h-1zM91 96h1v1h-1zM94 96h1v1h-1zM1 97h1v1h-1zM4 97h1v1h-1zM52 97h1v1h-1zM53 97h1v1h-1zM57 97h1v1h-1zM64 97h1v1h-1zM93 97h1v1h-1zM2 98h1v1h-1zM3 98h1v1h-1zM8 98h1v1h-1zM10 98h1v1h-1zM11 98h1v1h-1zM12 98h1v1h-1zM20 98h1v1h-1zM44 98h1v1h-1zM58 98h1v1h-1zM83 98h1v1h-1zM86 98h1v1h-1zM89 98h1v1h-1zM6 99h1v1h-1zM42 99h1v1h-1zM56 99h1v1h-1zM57 99h1v1h-1zM61 99h1v1h-1zM83 99h1v1h-1zM85 99h1v1h-1zM91 99h1v1h-1zM8 100h1v1h-1zM11 100h1v1h-1zM12 100h1v1h-1zM30 100h1v1h-1zM57 100h1v1h-1zM58 100h1v1h-1zM84 100h1v1h-1zM90 100h1v1h-1zM91 100h1v1h-1zM8 101h1v1h-1zM9 101h1v1h-1zM24 101h1v1h-1zM60 101h1v1h-1zM3 102h1v1h-1zM4 102h1v1h-1zM5 102h1v1h-1zM6 102h1v1h-1zM7 102h1v1h-1zM9 102h1v1h-1zM15 102h1v1h-1zM22 102h1v1h-1zM24 102h1v1h-1zM29 102h1v1h-1zM42 102h1v1h-1zM53 102h1v1h-1zM61 102h1v1h-1zM63 102h1v1h-1zM7 103h1v1h-1zM9 103h1v1h-1zM11 103h1v1h-1zM16 103h1v1h-1zM20 103h1v1h-1zM30 103h1v1h-1zM52 103h1v1h-1zM54 103h1v1h-1zM56 103h1v1h-1zM57 103h1v1h-1zM59 103h1v1h-1zM63 103h1v1h-1zM4 104h1v1h-1zM7 104h1v1h-1zM18 104h1v1h-1zM19 104h1v1h-1zM20 104h1v1h-1zM21 104h1v1h-1zM24 104h1v1h-1zM36 104h1v1h-1zM56 104h1v1h-1zM59 104h1v1h-1zM92 104h1v1h-1zM5 105h1v1h-1zM10 105h1v1h-1zM11 105h1v1h-1zM15 105h1v1h-1zM21 105h1v1h-1zM23 105h1v1h-1zM26 105h1v1h-1zM35 105h1v1h-1zM53 105h1v1h-1zM57 105h1v1h-1zM86 105h1v1h-1zM0 106h1v1h-1zM2 106h1v1h-1zM5 106h1v1h-1zM6 106h1v1h-1zM8 106h1v1h-1zM14 106h1v1h-1zM17 106h1v1h-1zM30 106h1v1h-1zM41 106h1v1h-1zM45 106h1v1h-1zM52 106h1v1h-1zM53 106h1v1h-1zM57 106h1v1h-1zM80 106h1v1h-1zM4 107h1v1h-1zM8 107h1v1h-1zM9 107h1v1h-1zM16 107h1v1h-1zM43 107h1v1h-1zM53 107h1v1h-1zM54 107h1v1h-1zM60 107h1v1h-1zM63 107h1v1h-1zM84 107h1v1h-1zM87 107h1v1h-1zM89 107h1v1h-1zM1 108h1v1h-1zM7 108h1v1h-1zM11 108h1v1h-1zM20 108h1v1h-1zM22 108h1v1h-1zM46 108h1v1h-1zM63 108h1v1h-1zM64 108h1v1h-1zM90 108h1v1h-1zM91 108h1v1h-1zM92 108h1v1h-1zM11 109h1v1h-1zM28 109h1v1h-1zM30 109h1v1h-1zM42 109h1v1h-1zM47 109h1v1h-1zM57 109h1v1h-1zM61 109h1v1h-1z"/>
<path fill="#bee0f2" d="M18 0h1v1h-1zM19 0h1v1h-1zM34 0h1v1h-1zM37 0h1v1h-1zM40 0h1v1h-1zM42 0h1v1h-1zM44 0h1v1h-1zM47 0h1v1h-1zM59 0h1v1h-1zM63 0h1v1h-1zM67 0h1v1h-1zM68 0h1v1h-1zM78 0h1v1h-1zM84 0h1v1h-1zM90 0h1v1h-1zM92 0h1v1h-1zM94 0h1v1h-1zM14 1h1v1h-1zM22 1h1v1h-1zM31 1h1v1h-1zM42 1h1v1h-1zM44 1h1v1h-1zM45 1h1v1h-1zM46 1h1v1h-1zM56 1h1v1h-1zM73 1h1v1h-1zM92 1h1v1h-1zM93 1h1v1h-1zM21 2h1v1h-1zM24 2h1v1h-1zM32 2h1v1h-1zM40 2h1v1h-1zM47 2h1v1h-1zM48 2h1v1h-1zM57 2h1v1h-1zM61 2h1v1h-1zM62 2h1v1h-1zM63 2h1v1h-1zM67 2h1v1h-1zM77 2h1v1h-1zM79 2h1v1h-1zM80 2h1v1h-1zM82 2h1v1h-1zM90 2h1v1h-1zM13 3h1v1h-1zM14 3h1v1h-1zM21 3h1v1h-1zM24 3h1v1h-1zM35 3h1v1h-1zM40 3h1v1h-1zM44 3h1v1h-1zM46 3h1v1h-1zM51 3h1v1h-1zM52 3h1v1h-1zM54 3h1v1h-1zM62 3h1v1h-1zM64 3h1v1h-1zM66 3h1v1h-1zM68 3h1v1h-1zM75 3h1v1h-1zM81 3h1v1h-1zM88 3h1v1h-1zM89 3h1v1h-1zM91 3h1v1h-1zM93 3h1v1h-1zM14 4h1v1h-1zM20 4h1v1h-1zM21 4h1v1h-1zM23 4h1v1h-1zM30 4h1v1h-1zM38 4h1v1h-1zM42 4h1v1h-1zM43 4h1v1h-1zM48 4h1v1h-1zM60 4h1v1h-1zM61 4h1v1h-1zM62 4h1v1h-1zM63 4h1v1h-1zM68 4h1v1h-1zM73 4h1v1h-1zM77 4h1v1h-1zM78 4h1v1h-1zM79 4h1v1h-1zM82 4h1v1h-1zM84 4h1v1h-1zM86 4h1v1h-1zM89 4h1v1h-1zM16 5h1v1h-1zM23 5h1v1h-1zM24 5h1v1h-1zM28 5h1v1h-1zM29 5h1v1h-1zM30 5h1v1h-1zM31 5h1v1h-1zM38 5h1v1h-1zM41 5h1v1h-1zM45 5h1v1h-1zM49 5h1v1h-1zM58 5h1v1h-1zM65 5h1v1h-1zM66 5h1v1h-1zM77 5h1v1h-1zM78 5h1v1h-1zM79 5h1v1h-1zM80 5h1v1h-1zM85 5h1v1h-1zM92 5h1v1h-1zM94 5h1v1h-1zM16 6h1v1h-1zM18 6h1v1h-1zM21 6h1v1h-1zM25 6h1v1h-1zM33 6h1v1h-1zM34 6h1v1h-1zM35 6h1v1h-1zM38 6h1v1h-1zM43 6h1v1h-1zM44 6h1v1h-1zM46 6h1v1h-1zM52 6h1v1h-1zM54 6h1v1h-1zM64 6h1v1h-1zM67 6h1v1h-1zM68 6h1v1h-1zM74 6h1v1h-1zM77 6h1v1h-1zM80 6h1v1h-1zM81 6h1v1h-1zM86 6h1v1h-1zM88 6h1v1h-1zM91 6h1v1h-1zM94 6h1v1h-1zM16 7h1v1h-1zM21 7h1v1h-1zM26 7h1v1h-1zM28 7h1v1h-1zM35 7h1v1h-1zM38 7h1v1h-1zM39 7h1v1h-1zM40 7h1v1h-1zM42 7h1v1h-1zM45 7h1v1h-1zM57 7h1v1h-1zM62 7h1v1h-1zM63 7h1v1h-1zM77 7h1v1h-1zM80 7h1v1h-1zM84 7h1v1h-1zM85 7h1v1h-1zM90 7h1v1h-1zM93 7h1v1h-1zM19 8h1v1h-1zM25 8h1v1h-1zM26 8h1v1h-1zM31 8h1v1h-1zM32 8h1v1h-1zM39 8h1v1h-1zM42 8h1v1h-1zM46 8h1v1h-1zM49 8h1v1h-1zM62 8h1v1h-1zM63 8h1v1h-1zM65 8h1v1h-1zM70 8h1v1h-1zM72 8h1v1h-1zM74 8h1v1h-1zM83 8h1v1h-1zM85 8h1v1h-1zM15 9h1v1h-1zM20 9h1v1h-1zM24 9h1v1h-1zM29 9h1v1h-1zM34 9h1v1h-1zM39 9h1v1h-1zM42 9h1v1h-1zM44 9h1v1h-1zM49 9h1v1h-1zM50 9h1v1h-1zM54 9h1v1h-1zM58 9h1v1h-1zM64 9h1v1h-1zM76 9h1v1h-1zM84 9h1v1h-1zM23 10h1v1h-1zM24 10h1v1h-1zM26 10h1v1h-1zM36 10h1v1h-1zM37 10h1v1h-1zM39 10h1v1h-1zM40 10h1v1h-1zM41 10h1v1h-1zM42 10h1v1h-1zM43 10h1v1h-1zM45 10h1v1h-1zM50 10h1v1h-1zM61 10h1v1h-1zM64 10h1v1h-1zM66 10h1v1h-1zM68 10h1v1h-1zM70 10h1v1h-1zM77 10h1v1h-1zM79 10h1v1h-1zM81 10h1v1h-1zM84 10h1v1h-1zM85 10h1v1h-1zM92 10h1v1h-1zM13 11h1v1h-1zM22 11h1v1h-1zM30 11h1v1h-1zM41 11h1v1h-1zM45 11h1v1h-1zM49 11h1v1h-1zM50 11h1v1h-1zM51 11h1v1h-1zM53 11h1v1h-1zM63 11h1v1h-1zM72 11h1v1h-1zM74 11h1v1h-1zM77 11h1v1h-1zM80 11h1v1h-1zM81 11h1v1h-1zM87 11h1v1h-1zM88 11h1v1h-1zM90 11h1v1h-1zM94 11h1v1h-1zM26 12h1v1h-1zM27 12h1v1h-1zM29 12h1v1h-1zM34 12h1v1h-1zM50 12h1v1h-1zM62 12h1v1h-1zM65 12h1v1h-1zM67 12h1v1h-1zM69 12h1v1h-1zM71 12h1v1h-1zM73 12h1v1h-1zM74 12h1v1h-1zM79 12h1v1h-1zM82 12h1v1h-1zM84 12h1v1h-1zM21 13h1v1h-1zM26 13h1v1h-1zM29 13h1v1h-1zM30 13h1v1h-1zM37 13h1v1h-1zM39 13h1v1h-1zM42 13h1v1h-1zM43 13h1v1h-1zM45 13h1v1h-1zM46 13h1v1h-1zM53 13h1v1h-1zM54 13h1v1h-1zM58 13h1v1h-1zM59 13h1v1h-1zM60 13h1v1h-1zM64 13h1v1h-1zM65 13h1v1h-1zM69 13h1v1h-1zM75 13h1v1h-1zM79 13h1v1h-1zM80 13h1v1h-1zM82 13h1v1h-1zM86 13h1v1h-1zM89 13h1v1h-1zM93 13h1v1h-1zM16 14h1v1h-1zM20 14h1v1h-1zM24 14h1v1h-1zM30 14h1v1h-1zM31 14h1v1h-1zM32 14h1v1h-1zM38 14h1v1h-1zM52 14h1v1h-1zM56 14h1v1h-1zM57 14h1v1h-1zM60 14h1v1h-1zM63 14h1v1h-1zM64 14h1v1h-1zM66 14h1v1h-1zM69 14h1v1h-1zM71 14h1v1h-1zM73 14h1v1h-1zM91 14h1v1h-1zM94 14h1v1h-1zM22 15h1v1h-1zM24 15h1v1h-1zM26 15h1v1h-1zM27 15h1v1h-1zM31 15h1v1h-1zM32 15h1v1h-1zM33 15h1v1h-1zM39 15h1v1h-1zM41 15h1v1h-1zM42 15h1v1h-1zM46 15h1v1h-1zM55 15h1v1h-1zM56 15h1v1h-1zM57 15h1v1h-1zM60 15h1v1h-1zM61 15h1v1h-1zM62 15h1v1h-1zM64 15h1v1h-1zM74 15h1v1h-1zM77 15h1v1h-1zM79 15h1v1h-1zM80 15h1v1h-1zM84 15h1v1h-1zM85 15h1v1h-1zM86 15h1v1h-1zM91 15h1v1h-1zM13 16h1v1h-1zM16 16h1v1h-1zM18 16h1v1h-1zM25 16h1v1h-1zM32 16h1v1h-1zM37 16h1v1h-1zM39 16h1v1h-1zM47 16h1v1h-1zM49 16h1v1h-1zM50 16h1v1h-1zM52 16h1v1h-1zM53 16h1v1h-1zM55 16h1v1h-1zM68 16h1v1h-1zM70 16h1v1h-1zM74 16h1v1h-1zM75 16h1v1h-1zM79 16h1v1h-1zM92 16h1v1h-1zM21 17h1v1h-1zM23 17h1v1h-1zM24 17h1v1h-1zM25 17h1v1h-1zM28 17h1v1h-1zM31 17h1v1h-1zM32 17h1v1h-1zM34 17h1v1h-1zM39 17h1v1h-1zM41 17h1v1h-1zM48 17h1v1h-1zM56 17h1v1h-1zM59 17h1v1h-1zM65 17h1v1h-1zM69 17h1v1h-1zM71 17h1v1h-1zM77 17h1v1h-1zM80 17h1v1h-1zM82 17h1v1h-1zM85 17h1v1h-1zM86 17h1v1h-1zM93 17h1v1h-1zM14 18h1v1h-1zM19 18h1v1h-1zM20 18h1v1h-1zM25 18h1v1h-1zM26 18h1v1h-1zM32 18h1v1h-1zM36 18h1v1h-1zM38 18h1v1h-1zM48 18h1v1h-1zM50 18h1v1h-1zM51 18h1v1h-1zM58 18h1v1h-1zM81 18h1v1h-1zM83 18h1v1h-1zM85 18h1v1h-1zM91 18h1v1h-1zM0 19h1v1h-1zM26 19h1v1h-1zM33 19h1v1h-1zM40 19h1v1h-1zM41 19h1v1h-1zM43 19h1v1h-1zM44 19h1v1h-1zM45 19h1v1h-1zM50 19h1v1h-1zM54 19h1v1h-1zM59 19h1v1h-1zM60 19h1v1h-1zM63 19h1v1h-1zM67 19h1v1h-1zM74 19h1v1h-1zM75 19h1v1h-1zM76 19h1v1h-1zM88 19h1v1h-1zM92 19h1v1h-1zM22 20h1v1h-1zM24 20h1v1h-1zM27 20h1v1h-1zM28 20h1v1h-1zM40 20h1v1h-1zM56 20h1v1h-1zM57 20h1v1h-1zM60 20h1v1h-1zM61 20h1v1h-1zM62 20h1v1h-1zM68 20h1v1h-1zM73 20h1v1h-1zM74 20h1v1h-1zM75 20h1v1h-1zM82 20h1v1h-1zM83 20h1v1h-1zM88 20h1v1h-1zM18 21h1v1h-1zM22 21h1v1h-1zM24 21h1v1h-1zM28 21h1v1h-1zM31 21h1v1h-1zM32 21h1v1h-1zM44 21h1v1h-1zM45 21h1v1h-1zM53 21h1v1h-1zM57 21h1v1h-1zM59 21h1v1h-1zM63 21h1v1h-1zM64 21h1v1h-1zM65 21h1v1h-1zM78 21h1v1h-1zM86 21h1v1h-1zM89 21h1v1h-1zM15 22h1v1h-1zM16 22h1v1h-1zM17 22h1v1h-1zM26 22h1v1h-1zM37 22h1v1h-1zM41 22h1v1h-1zM43 22h1v1h-1zM45 22h1v1h-1zM47 22h1v1h-1zM48 22h1v1h-1zM51 22h1v1h-1zM53 22h1v1h-1zM55 22h1v1h-1zM72 22h1v1h-1zM76 22h1v1h-1zM80 22h1v1h-1zM88 22h1v1h-1zM90 22h1v1h-1zM92 22h1v1h-1zM16 23h1v1h-1zM54 23h1v1h-1zM55 23h1v1h-1zM56 23h1v1h-1zM58 23h1v1h-1zM67 23h1v1h-1zM76 23h1v1h-1zM79 23h1v1h-1zM80 23h1v1h-1zM82 23h1v1h-1zM84 23h1v1h-1zM86 23h1v1h-1zM91 23h1v1h-1zM94 23h1v1h-1zM13 24h1v1h-1zM30 24h1v1h-1zM36 24h1v1h-1zM39 24h1v1h-1zM40 24h1v1h-1zM47 24h1v1h-1zM49 24h1v1h-1zM55 24h1v1h-1zM56 24h1v1h-1zM58 24h1v1h-1zM61 24h1v1h-1zM63 24h1v1h-1zM79 24h1v1h-1zM82 24h1v1h-1zM86 24h1v1h-1zM88 24h1v1h-1zM9 25h1v1h-1zM15 25h1v1h-1zM21 25h1v1h-1zM27 25h1v1h-1zM28 25h1v1h-1zM46 25h1v1h-1zM60 25h1v1h-1zM62 25h1v1h-1zM67 25h1v1h-1zM69 25h1v1h-1zM76 25h1v1h-1zM77 25h1v1h-1zM82 25h1v1h-1zM85 25h1v1h-1zM87 25h1v1h-1zM89 25h1v1h-1zM91 25h1v1h-1zM92 25h1v1h-1zM5 26h1v1h-1zM15 26h1v1h-1zM19 26h1v1h-1zM20 26h1v1h-1zM21 26h1v1h-1zM29 26h1v1h-1zM31 26h1v1h-1zM44 26h1v1h-1zM46 26h1v1h-1zM64 26h1v1h-1zM70 26h1v1h-1zM76 26h1v1h-1zM78 26h1v1h-1zM81 26h1v1h-1zM87 26h1v1h-1zM0 27h1v1h-1zM16 27h1v1h-1zM17 27h1v1h-1zM20 27h1v1h-1zM32 27h1v1h-1zM34 27h1v1h-1zM37 27h1v1h-1zM62 27h1v1h-1zM63 27h1v1h-1zM67 27h1v1h-1zM70 27h1v1h-1zM81 27h1v1h-1zM83 27h1v1h-1zM84 27h1v1h-1zM85 27h1v1h-1zM87 27h1v1h-1zM89 27h1v1h-1zM93 27h1v1h-1zM10 28h1v1h-1zM27 28h1v1h-1zM36 28h1v1h-1zM42 28h1v1h-1zM43 28h1v1h-1zM51 28h1v1h-1zM67 28h1v1h-1zM68 28h1v1h-1zM71 28h1v1h-1zM72 28h1v1h-1zM73 28h1v1h-1zM84 28h1v1h-1zM85 28h1v1h-1zM86 28h1v1h-1zM87 28h1v1h-1zM88 28h1v1h-1zM90 28h1v1h-1zM4 29h1v1h-1zM9 29h1v1h-1zM11 29h1v1h-1zM14 29h1v1h-1zM18 29h1v1h-1zM20 29h1v1h-1zM68 29h1v1h-1zM69 29h1v1h-1zM70 29h1v1h-1zM73 29h1v1h-1zM76 29h1v1h-1zM77 29h1v1h-1zM78 29h1v1h-1zM80 29h1v1h-1zM81 29h1v1h-1zM86 29h1v1h-1zM87 29h1v1h-1zM2 30h1v1h-1zM5 30h1v1h-1zM8 30h1v1h-1zM17 30h1v1h-1zM19 30h1v1h-1zM67 30h1v1h-1zM68 30h1v1h-1zM74 30h1v1h-1zM77 30h1v1h-1zM78 30h1v1h-1zM80 30h1v1h-1zM84 30h1v1h-1zM90 30h1v1h-1zM8 31h1v1h-1zM21 31h1v1h-1zM52 31h1v1h-1zM70 31h1v1h-1zM79 31h1v1h-1zM80 31h1v1h-1zM84 31h1v1h-1zM2 32h1v1h-1zM13 32h1v1h-1zM14 32h1v1h-1zM17 32h1v1h-1zM21 32h1v1h-1zM64 32h1v1h-1zM65 32h1v1h-1zM66 32h1v1h-1zM74 32h1v1h-1zM84 32h1v1h-1zM88 32h1v1h-1zM11 33h1v1h-1zM12 33h1v1h-1zM67 33h1v1h-1zM68 33h1v1h-1zM81 33h1v1h-1zM82 33h1v1h-1zM84 33h1v1h-1zM86 33h1v1h-1zM89 33h1v1h-1zM92 33h1v1h-1zM12 34h1v1h-1zM13 34h1v1h-1zM17 34h1v1h-1zM66 34h1v1h-1zM68 34h1v1h-1zM73 34h1v1h-1zM74 34h1v1h-1zM75 34h1v1h-1zM78 34h1v1h-1zM85 34h1v1h-1zM92 34h1v1h-1zM93 34h1v1h-1zM6 35h1v1h-1zM10 35h1v1h-1zM12 35h1v1h-1zM20 35h1v1h-1zM22 35h1v1h-1zM24 35h1v1h-1zM25 35h1v1h-1zM35 35h1v1h-1zM38 35h1v1h-1zM40 35h1v1h-1zM43 35h1v1h-1zM51 35h1v1h-1zM53 35h1v1h-1zM57 35h1v1h-1zM59 35h1v1h-1zM63 35h1v1h-1zM64 35h1v1h-1zM87 35h1v1h-1zM89 35h1v1h-1zM94 35h1v1h-1zM3 36h1v1h-1zM4 36h1v1h-1zM5 36h1v1h-1zM10 36h1v1h-1zM18 36h1v1h-1zM19 36h1v1h-1zM21 36h1v1h-1zM24 36h1v1h-1zM30 36h1v1h-1zM47 36h1v1h-1zM49 36h1v1h-1zM55 36h1v1h-1zM60 36h1v1h-1zM63 36h1v1h-1zM64 36h1v1h-1zM66 36h1v1h-1zM69 36h1v1h-1zM71 36h1v1h-1zM79 36h1v1h-1zM88 36h1v1h-1zM93 36h1v1h-1zM7 37h1v1h-1zM12 37h1v1h-1zM13 37h1v1h-1zM17 37h1v1h-1zM30 37h1v1h-1zM31 37h1v1h-1zM33 37h1v1h-1zM34 37h1v1h-1zM43 37h1v1h-1zM49 37h1v1h-1zM54 37h1v1h-1zM58 37h1v1h-1zM60 37h1v1h-1zM67 37h1v1h-1zM68 37h1v1h-1zM69 37h1v1h-1zM0 38h1v1h-1zM8 38h1v1h-1zM9 38h1v1h-1zM15 38h1v1h-1zM17 38h1v1h-1zM20 38h1v1h-1zM22 38h1v1h-1zM24 38h1v1h-1zM30 38h1v1h-1zM37 38h1v1h-1zM38 38h1v1h-1zM41 38h1v1h-1zM46 38h1v1h-1zM48 38h1v1h-1zM49 38h1v1h-1zM51 38h1v1h-1zM52 38h1v1h-1zM53 38h1v1h-1zM54 38h1v1h-1zM59 38h1v1h-1zM61 38h1v1h-1zM62 38h1v1h-1zM66 38h1v1h-1zM69 38h1v1h-1zM72 38h1v1h-1zM73 38h1v1h-1zM19 39h1v1h-1zM21 39h1v1h-1zM25 39h1v1h-1zM26 39h1v1h-1zM27 39h1v1h-1zM28 39h1v1h-1zM31 39h1v1h-1zM35 39h1v1h-1zM36 39h1v1h-1zM38 39h1v1h-1zM39 39h1v1h-1zM41 39h1v1h-1zM45 39h1v1h-1zM49 39h1v1h-1zM60 39h1v1h-1zM62 39h1v1h-1zM83 39h1v1h-1zM1 40h1v1h-1zM10 40h1v1h-1zM12 40h1v1h-1zM22 40h1v1h-1zM26 40h1v1h-1zM28 40h1v1h-1zM32 40h1v1h-1zM49 40h1v1h-1zM50 40h1v1h-1zM53 40h1v1h-1zM55 40h1v1h-1zM61 40h1v1h-1zM68 40h1v1h-1zM70 40h1v1h-1zM72 40h1v1h-1zM6 41h1v1h-1zM18 41h1v1h-1zM21 41h1v1h-1zM24 41h1v1h-1zM29 41h1v1h-1zM32 41h1v1h-1zM37 41h1v1h-1zM41 41h1v1h-1zM42 41h1v1h-1zM48 41h1v1h-1zM61 41h1v1h-1zM66 41h1v1h-1zM68 41h1v1h-1zM69 41h1v1h-1zM73 41h1v1h-1zM5 42h1v1h-1zM8 42h1v1h-1zM25 42h1v1h-1zM27 42h1v1h-1zM37 42h1v1h-1zM45 42h1v1h-1zM46 42h1v1h-1zM50 42h1v1h-1zM52 42h1v1h-1zM57 42h1v1h-1zM59 42h1v1h-1zM61 42h1v1h-1zM9 43h1v1h-1zM11 43h1v1h-1zM13 43h1v1h-1zM14 43h1v1h-1zM28 43h1v1h-1zM31 43h1v1h-1zM36 43h1v1h-1zM41 43h1v1h-1zM46 43h1v1h-1zM49 43h1v1h-1zM53 43h1v1h-1zM56 43h1v1h-1zM61 43h1v1h-1zM62 43h1v1h-1zM63 43h1v1h-1zM65 43h1v1h-1zM68 43h1v1h-1zM69 43h1v1h-1zM11 44h1v1h-1zM13 44h1v1h-1zM16 44h1v1h-1zM25 44h1v1h-1zM30 44h1v1h-1zM40 44h1v1h-1zM42 44h1v1h-1zM43 44h1v1h-1zM48 44h1v1h-1zM55 44h1v1h-1zM56 44h1v1h-1zM58 44h1v1h-1zM61 44h1v1h-1zM71 44h1v1h-1zM0 45h1v1h-1zM5 45h1v1h-1zM22 45h1v1h-1zM25 45h1v1h-1zM26 45h1v1h-1zM29 45h1v1h-1zM45 45h1v1h-1zM50 45h1v1h-1zM54 45h1v1h-1zM55 45h1v1h-1zM56 45h1v1h-1zM57 45h1v1h-1zM59 45h1v1h-1zM60 45h1v1h-1zM61 45h1v1h-1zM62 45h1v1h-1zM0 46h1v1h-1zM5 46h1v1h-1zM13 46h1v1h-1zM20 46h1v1h-1zM21 46h1v1h-1zM26 46h1v1h-1zM32 46h1v1h-1zM41 46h1v1h-1zM53 46h1v1h-1zM66 46h1v1h-1zM67 46h1v1h-1zM2 47h1v1h-1zM3 47h1v1h-1zM7 47h1v1h-1zM12 47h1v1h-1zM13 47h1v1h-1zM14 47h1v1h-1zM17 47h1v1h-1zM20 47h1v1h-1zM24 47h1v1h-1zM25 47h1v1h-1zM28 47h1v1h-1zM29 47h1v1h-1zM33 47h1v1h-1zM37 47h1v1h-1zM38 47h1v1h-1zM39 47h1v1h-1zM42 47h1v1h-1zM43 47h1v1h-1zM45 47h1v1h-1zM46 47h1v1h-1zM51 47h1v1h-1zM52 47h1v1h-1zM53 47h1v1h-1zM54 47h1v1h-1zM55 47h1v1h-1zM56 47h1v1h-1zM57 47h1v1h-1zM59 47h1v1h-1zM62 47h1v1h-1zM66 47h1v1h-1zM67 47h1v1h-1zM69 47h1v1h-1zM72 47h1v1h-1zM74 47h1v1h-1zM5 48h1v1h-1zM14 48h1v1h-1zM15 48h1v1h-1zM17 48h1v1h-1zM19 48h1v1h-1zM23 48h1v1h-1zM25 48h1v1h-1zM26 48h1v1h-1zM27 48h1v1h-1zM29 48h1v1h-1zM34 48h1v1h-1zM36 48h1v1h-1zM38 48h1v1h-1zM43 48h1v1h-1zM45 48h1v1h-1zM48 48h1v1h-1zM49 48h1v1h-1zM56 48h1v1h-1zM57 48h1v1h-1zM60 48h1v1h-1zM61 48h1v1h-1zM63 48h1v1h-1zM64 48h1v1h-1zM66 48h1v1h-1zM67 48h1v1h-1zM69 48h1v1h-1zM71 48h1v1h-1zM74 48h1v1h-1zM3 49h1v1h-1zM8 49h1v1h-1zM13 49h1v1h-1zM14 49h1v1h-1zM19 49h1v1h-1zM20 49h1v1h-1zM22 49h1v1h-1zM23 49h1v1h-1zM24 49h1v1h-1zM26 49h1v1h-1zM29 49h1v1h-1zM31 49h1v1h-1zM33 49h1v1h-1zM34 49h1v1h-1zM37 49h1v1h-1zM40 49h1v1h-1zM42 49h1v1h-1zM43 49h1v1h-1zM44 49h1v1h-1zM47 49h1v1h-1zM48 49h1v1h-1zM52 49h1v1h-1zM55 49h1v1h-1zM63 49h1v1h-1zM64 49h1v1h-1zM66 49h1v1h-1zM69 49h1v1h-1zM70 49h1v1h-1zM74 49h1v1h-1zM4 50h1v1h-1zM16 50h1v1h-1zM18 50h1v1h-1zM22 50h1v1h-1zM23 50h1v1h-1zM24 50h1v1h-1zM27 50h1v1h-1zM29 50h1v1h-1zM33 50h1v1h-1zM37 50h1v1h-1zM39 50h1v1h-1zM41 50h1v1h-1zM44 50h1v1h-1zM45 50h1v1h-1zM46 50h1v1h-1zM47 50h1v1h-1zM48 50h1v1h-1zM50 50h1v1h-1zM56 50h1v1h-1zM58 50h1v1h-1zM63 50h1v1h-1zM66 50h1v1h-1zM67 50h1v1h-1zM72 50h1v1h-1zM73 50h1v1h-1zM74 50h1v1h-1zM2 51h1v1h-1zM3 51h1v1h-1zM5 51h1v1h-1zM7 51h1v1h-1zM11 51h1v1h-1zM13 51h1v1h-1zM15 51h1v1h-1zM16 51h1v1h-1zM18 51h1v1h-1zM19 51h1v1h-1zM20 51h1v1h-1zM33 51h1v1h-1zM34 51h1v1h-1zM36 51h1v1h-1zM37 51h1v1h-1zM39 51h1v1h-1zM40 51h1v1h-1zM41 51h1v1h-1zM43 51h1v1h-1zM46 51h1v1h-1zM47 51h1v1h-1zM52 51h1v1h-1zM57 51h1v1h-1zM60 51h1v1h-1zM61 51h1v1h-1zM63 51h1v1h-1zM64 51h1v1h-1zM66 51h1v1h-1zM68 51h1v1h-1zM70 51h1v1h-1zM71 51h1v1h-1zM73 51h1v1h-1zM0 52h1v1h-1zM8 52h1v1h-1zM9 52h1v1h-1zM12 52h1v1h-1zM13 52h1v1h-1zM14 52h1v1h-1zM15 52h1v1h-1zM17 52h1v1h-1zM18 52h1v1h-1zM25 52h1v1h-1zM27 52h1v1h-1zM29 52h1v1h-1zM30 52h1v1h-1zM34 52h1v1h-1zM36 52h1v1h-1zM38 52h1v1h-1zM40 52h1v1h-1zM42 52h1v1h-1zM45 52h1v1h-1zM50 52h1v1h-1zM51 52h1v1h-1zM52 52h1v1h-1zM53 52h1v1h-1zM54 52h1v1h-1zM55 52h1v1h-1zM59 52h1v1h-1zM60 52h1v1h-1zM62 52h1v1h-1zM63 52h1v1h-1zM65 52h1v1h-1zM66 52h1v1h-1zM67 52h1v1h-1zM72 52h1v1h-1zM2 53h1v1h-1zM3 53h1v1h-1zM12 53h1v1h-1zM15 53h1v1h-1zM16 53h1v1h-1zM19 53h1v1h-1zM25 53h1v1h-1zM28 53h1v1h-1zM32 53h1v1h-1zM34 53h1v1h-1zM39 53h1v1h-1zM40 53h1v1h-1zM44 53h1v1h-1zM47 53h1v1h-1zM48 53h1v1h-1zM49 53h1v1h-1zM52 53h1v1h-1zM56 53h1v1h-1zM59 53h1v1h-1zM68 53h1v1h-1zM69 53h1v1h-1zM71 53h1v1h-1zM73 53h1v1h-1zM74 53h1v1h-1zM3 54h1v1h-1zM7 54h1v1h-1zM8 54h1v1h-1zM9 54h1v1h-1zM10 54h1v1h-1zM14 54h1v1h-1zM19 54h1v1h-1zM21 54h1v1h-1zM26 54h1v1h-1zM27 54h1v1h-1zM28 54h1v1h-1zM30 54h1v1h-1zM31 54h1v1h-1zM33 54h1v1h-1zM34 54h1v1h-1zM36 54h1v1h-1zM39 54h1v1h-1zM41 54h1v1h-1zM42 54h1v1h-1zM43 54h1v1h-1zM45 54h1v1h-1zM46 54h1v1h-1zM47 54h1v1h-1zM52 54h1v1h-1zM53 54h1v1h-1zM54 54h1v1h-1zM55 54h1v1h-1zM56 54h1v1h-1zM60 54h1v1h-1zM66 54h1v1h-1zM73 54h1v1h-1zM3 55h1v1h-1zM9 55h1v1h-1zM13 55h1v1h-1zM16 55h1v1h-1zM17 55h1v1h-1zM21 55h1v1h-1zM22 55h1v1h-1zM27 55h1v1h-1zM29 55h1v1h-1zM30 55h1v1h-1zM33 55h1v1h-1zM36 55h1v1h-1zM37 55h1v1h-1zM39 55h1v1h-1zM40 55h1v1h-1zM41 55h1v1h-1zM42 55h1v1h-1zM48 55h1v1h-1zM49 55h1v1h-1zM51 55h1v1h-1zM53 55h1v1h-1zM54 55h1v1h-1zM55 55h1v1h-1zM57 55h1v1h-1zM58 55h1v1h-1zM61 55h1v1h-1zM63 55h1v1h-1zM65 55h1v1h-1zM68 55h1v1h-1zM70 55h1v1h-1zM74 55h1v1h-1zM1 56h1v1h-1zM5 56h1v1h-1zM9 56h1v1h-1zM10 56h1v1h-1zM13 56h1v1h-1zM15 56h1v1h-1zM17 56h1v1h-1zM19 56h1v1h-1zM21 56h1v1h-1zM22 56h1v1h-1zM25 56h1v1h-1zM27 56h1v1h-1zM31 56h1v1h-1zM32 56h1v1h-1zM35 56h1v1h-1zM42 56h1v1h-1zM43 56h1v1h-1zM46 56h1v1h-1zM48 56h1v1h-1zM49 56h1v1h-1zM51 56h1v1h-1zM57 56h1v1h-1zM58 56h1v1h-1zM62 56h1v1h-1zM63 56h1v1h-1zM70 56h1v1h-1zM71 56h1v1h-1zM73 56h1v1h-1zM8 57h1v1h-1zM16 57h1v1h-1zM19 57h1v1h-1zM21 57h1v1h-1zM23 57h1v1h-1zM25 57h1v1h-1zM28 57h1v1h-1zM37 57h1v1h-1zM41 57h1v1h-1zM42 57h1v1h-1zM45 57h1v1h-1zM48 57h1v1h-1zM49 57h1v1h-1zM50 57h1v1h-1zM51 57h1v1h-1zM54 57h1v1h-1zM58 57h1v1h-1zM59 57h1v1h-1zM62 57h1v1h-1zM64 57h1v1h-1zM68 57h1v1h-1zM69 57h1v1h-1zM70 57h1v1h-1zM71 57h1v1h-1zM72 57h1v1h-1zM73 57h1v1h-1zM74 57h1v1h-1zM5 58h1v1h-1zM10 58h1v1h-1zM11 58h1v1h-1zM16 58h1v1h-1zM20 58h1v1h-1zM25 58h1v1h-1zM27 58h1v1h-1zM30 58h1v1h-1zM32 58h1v1h-1zM35 58h1v1h-1zM37 58h1v1h-1zM40 58h1v1h-1zM42 58h1v1h-1zM43 58h1v1h-1zM44 58h1v1h-1zM45 58h1v1h-1zM47 58h1v1h-1zM48 58h1v1h-1zM50 58h1v1h-1zM51 58h1v1h-1zM52 58h1v1h-1zM53 58h1v1h-1zM60 58h1v1h-1zM61 58h1v1h-1zM62 58h1v1h-1zM63 58h1v1h-1zM64 58h1v1h-1zM68 58h1v1h-1zM69 58h1v1h-1zM72 58h1v1h-1zM2 59h1v1h-1zM13 59h1v1h-1zM14 59h1v1h-1zM16 59h1v1h-1zM18 59h1v1h-1zM26 59h1v1h-1zM28 59h1v1h-1zM30 59h1v1h-1zM46 59h1v1h-1zM59 59h1v1h-1zM63 59h1v1h-1zM68 59h1v1h-1zM18 60h1v1h-1zM19 60h1v1h-1zM22 60h1v1h-1zM24 60h1v1h-1zM32 60h1v1h-1zM39 60h1v1h-1zM43 60h1v1h-1zM48 60h1v1h-1zM56 60h1v1h-1zM59 60h1v1h-1zM61 60h1v1h-1zM67 60h1v1h-1zM71 60h1v1h-1zM74 60h1v1h-1zM13 61h1v1h-1zM19 61h1v1h-1zM20 61h1v1h-1zM25 61h1v1h-1zM27 61h1v1h-1zM29 61h1v1h-1zM36 61h1v1h-1zM62 61h1v1h-1zM69 61h1v1h-1zM74 61h1v1h-1zM13 62h1v1h-1zM16 62h1v1h-1zM19 62h1v1h-1zM24 62h1v1h-1zM27 62h1v1h-1zM50 62h1v1h-1zM65 62h1v1h-1zM66 62h1v1h-1zM69 62h1v1h-1zM71 62h1v1h-1zM72 62h1v1h-1zM73 62h1v1h-1zM9 63h1v1h-1zM22 63h1v1h-1zM28 63h1v1h-1zM29 63h1v1h-1zM31 63h1v1h-1zM32 63h1v1h-1zM49 63h1v1h-1zM50 63h1v1h-1zM63 63h1v1h-1zM64 63h1v1h-1zM66 63h1v1h-1zM71 63h1v1h-1zM7 64h1v1h-1zM9 64h1v1h-1zM14 64h1v1h-1zM24 64h1v1h-1zM25 64h1v1h-1zM27 64h1v1h-1zM30 64h1v1h-1zM33 64h1v1h-1zM34 64h1v1h-1zM40 64h1v1h-1zM50 64h1v1h-1zM63 64h1v1h-1zM67 64h1v1h-1zM4 65h1v1h-1zM7 65h1v1h-1zM11 65h1v1h-1zM13 65h1v1h-1zM14 65h1v1h-1zM27 65h1v1h-1zM28 65h1v1h-1zM39 65h1v1h-1zM41 65h1v1h-1zM48 65h1v1h-1zM54 65h1v1h-1zM55 65h1v1h-1zM56 65h1v1h-1zM58 65h1v1h-1zM61 65h1v1h-1zM63 65h1v1h-1zM64 65h1v1h-1zM66 65h1v1h-1zM69 65h1v1h-1zM74 65h1v1h-1zM7 66h1v1h-1zM21 66h1v1h-1zM23 66h1v1h-1zM33 66h1v1h-1zM38 66h1v1h-1zM45 66h1v1h-1zM50 66h1v1h-1zM53 66h1v1h-1zM55 66h1v1h-1zM61 66h1v1h-1zM62 66h1v1h-1zM63 66h1v1h-1zM64 66h1v1h-1zM65 66h1v1h-1zM69 66h1v1h-1zM73 66h1v1h-1zM6 67h1v1h-1zM13 67h1v1h-1zM15 67h1v1h-1zM18 67h1v1h-1zM19 67h1v1h-1zM20 67h1v1h-1zM21 67h1v1h-1zM29 67h1v1h-1zM40 67h1v1h-1zM47 67h1v1h-1zM52 67h1v1h-1zM60 67h1v1h-1zM63 67h1v1h-1zM69 67h1v1h-1zM70 67h1v1h-1zM71 67h1v1h-1zM73 67h1v1h-1zM15 68h1v1h-1zM16 68h1v1h-1zM21 68h1v1h-1zM40 68h1v1h-1zM43 68h1v1h-1zM56 68h1v1h-1zM64 68h1v1h-1zM3 69h1v1h-1zM18 69h1v1h-1zM19 69h1v1h-1zM28 69h1v1h-1zM36 69h1v1h-1zM31 70h1v1h-1zM43 70h1v1h-1zM44 70h1v1h-1zM45 70h1v1h-1zM48 70h1v1h-1zM49 70h1v1h-1zM50 70h1v1h-1zM61 70h1v1h-1zM65 70h1v1h-1zM73 70h1v1h-1zM74 70h1v1h-1zM79 70h1v1h-1zM2 71h1v1h-1zM5 71h1v1h-1zM7 71h1v1h-1zM20 71h1v1h-1zM21 71h1v1h-1zM25 71h1v1h-1zM27 71h1v1h-1zM30 71h1v1h-1zM31 71h1v1h-1zM33 71h1v1h-1zM47 71h1v1h-1zM49 71h1v1h-1zM79 71h1v1h-1zM0 72h1v1h-1zM13 72h1v1h-1zM20 72h1v1h-1zM21 72h1v1h-1zM26 72h1v1h-1zM28 72h1v1h-1zM35 72h1v1h-1zM36 72h1v1h-1zM48 72h1v1h-1zM65 72h1v1h-1zM66 72h1v1h-1zM67 72h1v1h-1zM73 72h1v1h-1zM74 72h1v1h-1zM13 73h1v1h-1zM17 73h1v1h-1zM19 73h1v1h-1zM20 73h1v1h-1zM22 73h1v1h-1zM28 73h1v1h-1zM29 73h1v1h-1zM31 73h1v1h-1zM39 73h1v1h-1zM40 73h1v1h-1zM50 73h1v1h-1zM52 73h1v1h-1zM64 73h1v1h-1zM78 73h1v1h-1zM80 73h1v1h-1zM8 74h1v1h-1zM13 74h1v1h-1zM16 74h1v1h-1zM17 74h1v1h-1zM24 74h1v1h-1zM29 74h1v1h-1zM32 74h1v1h-1zM36 74h1v1h-1zM48 74h1v1h-1zM57 74h1v1h-1zM61 74h1v1h-1zM64 74h1v1h-1zM74 74h1v1h-1zM79 74h1v1h-1zM3 75h1v1h-1zM13 75h1v1h-1zM17 75h1v1h-1zM29 75h1v1h-1zM34 75h1v1h-1zM45 75h1v1h-1zM48 75h1v1h-1zM50 75h1v1h-1zM51 75h1v1h-1zM80 75h1v1h-1zM15 76h1v1h-1zM16 76h1v1h-1zM19 76h1v1h-1zM22 76h1v1h-1zM34 76h1v1h-1zM36 76h1v1h-1zM49 76h1v1h-1zM63 76h1v1h-1zM67 76h1v1h-1zM69 76h1v1h-1zM73 76h1v1h-1zM74 76h1v1h-1zM75 76h1v1h-1zM76 76h1v1h-1zM18 77h1v1h-1zM23 77h1v1h-1zM31 77h1v1h-1zM41 77h1v1h-1zM51 77h1v1h-1zM57 77h1v1h-1zM63 77h1v1h-1zM66 77h1v1h-1zM71 77h1v1h-1zM86 77h1v1h-1zM89 77h1v1h-1zM94 77h1v1h-1zM5 78h1v1h-1zM11 78h1v1h-1zM13 78h1v1h-1zM20 78h1v1h-1zM28 78h1v1h-1zM30 78h1v1h-1zM33 78h1v1h-1zM37 78h1v1h-1zM49 78h1v1h-1zM57 78h1v1h-1zM65 78h1v1h-1zM68 78h1v1h-1zM69 78h1v1h-1zM74 78h1v1h-1zM80 78h1v1h-1zM92 78h1v1h-1zM17 79h1v1h-1zM19 79h1v1h-1zM22 79h1v1h-1zM23 79h1v1h-1zM62 79h1v1h-1zM70 79h1v1h-1zM74 79h1v1h-1zM82 79h1v1h-1zM83 79h1v1h-1zM89 79h1v1h-1zM90 79h1v1h-1zM0 80h1v1h-1zM14 80h1v1h-1zM15 80h1v1h-1zM18 80h1v1h-1zM38 80h1v1h-1zM42 80h1v1h-1zM43 80h1v1h-1zM44 80h1v1h-1zM54 80h1v1h-1zM61 80h1v1h-1zM62 80h1v1h-1zM63 80h1v1h-1zM64 80h1v1h-1zM82 80h1v1h-1zM83 80h1v1h-1zM87 80h1v1h-1zM88 80h1v1h-1zM89 80h1v1h-1zM94 80h1v1h-1zM22 81h1v1h-1zM26 81h1v1h-1zM53 81h1v1h-1zM62 81h1v1h-1zM79 81h1v1h-1zM82 81h1v1h-1zM88 81h1v1h-1zM2 82h1v1h-1zM4 82h1v1h-1zM13 82h1v1h-1zM63 82h1v1h-1zM65 82h1v1h-1zM70 82h1v1h-1zM73 82h1v1h-1zM74 82h1v1h-1zM75 82h1v1h-1zM88 82h1v1h-1zM5 83h1v1h-1zM54 83h1v1h-1zM66 83h1v1h-1zM74 83h1v1h-1zM79 83h1v1h-1zM82 83h1v1h-1zM85 83h1v1h-1zM90 83h1v1h-1zM94 83h1v1h-1zM13 84h1v1h-1zM19 84h1v1h-1zM30 84h1v1h-1zM38 84h1v1h-1zM63 84h1v1h-1zM65 84h1v1h-1zM69 84h1v1h-1zM72 84h1v1h-1zM83 84h1v1h-1zM84 84h1v1h-1zM86 84h1v1h-1zM87 84h1v1h-1zM88 84h1v1h-1zM4 85h1v1h-1zM6 85h1v1h-1zM9 85h1v1h-1zM16 85h1v1h-1zM39 85h1v1h-1zM49 85h1v1h-1zM66 85h1v1h-1zM69 85h1v1h-1zM73 85h1v1h-1zM94 85h1v1h-1zM21 86h1v1h-1zM43 86h1v1h-1zM66 86h1v1h-1zM76 86h1v1h-1zM77 86h1v1h-1zM81 86h1v1h-1zM85 86h1v1h-1zM89 86h1v1h-1zM11 87h1v1h-1zM13 87h1v1h-1zM14 87h1v1h-1zM19 87h1v1h-1zM47 87h1v1h-1zM66 87h1v1h-1zM68 87h1v1h-1zM75 87h1v1h-1zM86 87h1v1h-1zM90 87h1v1h-1zM94 87h1v1h-1zM15 88h1v1h-1zM16 88h1v1h-1zM18 88h1v1h-1zM19 88h1v1h-1zM20 88h1v1h-1zM21 88h1v1h-1zM36 88h1v1h-1zM49 88h1v1h-1zM53 88h1v1h-1zM59 88h1v1h-1zM66 88h1v1h-1zM72 88h1v1h-1zM79 88h1v1h-1zM89 88h1v1h-1zM93 88h1v1h-1zM0 89h1v1h-1zM5 89h1v1h-1zM19 89h1v1h-1zM20 89h1v1h-1zM21 89h1v1h-1zM45 89h1v1h-1zM46 89h1v1h-1zM68 89h1v1h-1zM69 89h1v1h-1zM74 89h1v1h-1zM76 89h1v1h-1zM83 89h1v1h-1zM91 89h1v1h-1zM1 90h1v1h-1zM6 90h1v1h-1zM8 90h1v1h-1zM12 90h1v1h-1zM17 90h1v1h-1zM26 90h1v1h-1zM31 90h1v1h-1zM43 90h1v1h-1zM64 90h1v1h-1zM69 90h1v1h-1zM74 90h1v1h-1zM83 90h1v1h-1zM2 91h1v1h-1zM7 91h1v1h-1zM10 91h1v1h-1zM13 91h1v1h-1zM14 91h1v1h-1zM16 91h1v1h-1zM17 91h1v1h-1zM30 91h1v1h-1zM35 91h1v1h-1zM41 91h1v1h-1zM56 91h1v1h-1zM84 91h1v1h-1zM90 91h1v1h-1zM2 92h1v1h-1zM12 92h1v1h-1zM15 92h1v1h-1zM16 92h1v1h-1zM17 92h1v1h-1zM22 92h1v1h-1zM26 92h1v1h-1zM44 92h1v1h-1zM46 92h1v1h-1zM52 92h1v1h-1zM60 92h1v1h-1zM63 92h1v1h-1zM81 92h1v1h-1zM86 92h1v1h-1zM2 93h1v1h-1zM4 93h1v1h-1zM9 93h1v1h-1zM22 93h1v1h-1zM31 93h1v1h-1zM35 93h1v1h-1zM38 93h1v1h-1zM41 93h1v1h-1zM42 93h1v1h-1zM52 93h1v1h-1zM56 93h1v1h-1zM57 93h1v1h-1zM59 93h1v1h-1zM62 93h1v1h-1zM63 93h1v1h-1zM7 94h1v1h-1zM10 94h1v1h-1zM11 94h1v1h-1zM13 94h1v1h-1zM14 94h1v1h-1zM17 94h1v1h-1zM18 94h1v1h-1zM19 94h1v1h-1zM26 94h1v1h-1zM30 94h1v1h-1zM40 94h1v1h-1zM41 94h1v1h-1zM53 94h1v1h-1zM57 94h1v1h-1zM58 94h1v1h-1zM60 94h1v1h-1zM62 94h1v1h-1zM64 94h1v1h-1zM65 94h1v1h-1zM81 94h1v1h-1zM90 94h1v1h-1zM91 94h1v1h-1zM4 95h1v1h-1zM10 95h1v1h-1zM13 95h1v1h-1zM14 95h1v1h-1zM18 95h1v1h-1zM34 95h1v1h-1zM35 95h1v1h-1zM58 95h1v1h-1zM62 95h1v1h-1zM65 95h1v1h-1zM7 96h1v1h-1zM13 96h1v1h-1zM16 96h1v1h-1zM18 96h1v1h-1zM26 96h1v1h-1zM32 96h1v1h-1zM36 96h1v1h-1zM38 96h1v1h-1zM46 96h1v1h-1zM52 96h1v1h-1zM54 96h1v1h-1zM55 96h1v1h-1zM59 96h1v1h-1zM62 96h1v1h-1zM65 96h1v1h-1zM82 96h1v1h-1zM83 96h1v1h-1zM85 96h1v1h-1zM92 96h1v1h-1zM93 96h1v1h-1zM6 97h1v1h-1zM11 97h1v1h-1zM13 97h1v1h-1zM17 97h1v1h-1zM27 97h1v1h-1zM28 97h1v1h-1zM30 97h1v1h-1zM31 97h1v1h-1zM32 97h1v1h-1zM33 97h1v1h-1zM45 97h1v1h-1zM56 97h1v1h-1zM59 97h1v1h-1zM60 97h1v1h-1zM62 97h1v1h-1zM81 97h1v1h-1zM86 97h1v1h-1zM88 97h1v1h-1zM0 98h1v1h-1zM4 98h1v1h-1zM5 98h1v1h-1zM14 98h1v1h-1zM17 98h1v1h-1zM21 98h1v1h-1zM25 98h1v1h-1zM31 98h1v1h-1zM35 98h1v1h-1zM45 98h1v1h-1zM56 98h1v1h-1zM60 98h1v1h-1zM61 98h1v1h-1zM80 98h1v1h-1zM82 98h1v1h-1zM88 98h1v1h-1zM93 98h1v1h-1zM2 99h1v1h-1zM5 99h1v1h-1zM7 99h1v1h-1zM8 99h1v1h-1zM9 99h1v1h-1zM15 99h1v1h-1zM16 99h1v1h-1zM20 99h1v1h-1zM25 99h1v1h-1zM34 99h1v1h-1zM37 99h1v1h-1zM59 99h1v1h-1zM60 99h1v1h-1zM82 99h1v1h-1zM86 99h1v1h-1zM88 99h1v1h-1zM89 99h1v1h-1zM93 99h1v1h-1zM5 100h1v1h-1zM29 100h1v1h-1zM36 100h1v1h-1zM38 100h1v1h-1zM41 100h1v1h-1zM43 100h1v1h-1zM59 100h1v1h-1zM62 100h1v1h-1zM81 100h1v1h-1zM83 100h1v1h-1zM85 100h1v1h-1zM87 100h1v1h-1zM88 100h1v1h-1zM94 100h1v1h-1zM15 101h1v1h-1zM17 101h1v1h-1zM35 101h1v1h-1zM38 101h1v1h-1zM41 101h1v1h-1zM44 101h1v1h-1zM56 101h1v1h-1zM57 101h1v1h-1zM61 101h1v1h-1zM62 101h1v1h-1zM64 101h1v1h-1zM80 101h1v1h-1zM81 101h1v1h-1zM84 101h1v1h-1zM92 101h1v1h-1zM1 102h1v1h-1zM10 102h1v1h-1zM11 102h1v1h-1zM13 102h1v1h-1zM14 102h1v1h-1zM18 102h1v1h-1zM19 102h1v1h-1zM20 102h1v1h-1zM21 102h1v1h-1zM35 102h1v1h-1zM36 102h1v1h-1zM37 102h1v1h-1zM45 102h1v1h-1zM80 102h1v1h-1zM90 102h1v1h-1zM0 103h1v1h-1zM6 103h1v1h-1zM8 103h1v1h-1zM17 103h1v1h-1zM19 103h1v1h-1zM22 103h1v1h-1zM24 103h1v1h-1zM26 103h1v1h-1zM31 103h1v1h-1zM35 103h1v1h-1zM62 103h1v1h-1zM65 103h1v1h-1zM79 103h1v1h-1zM80 103h1v1h-1zM94 103h1v1h-1zM0 104h1v1h-1zM9 104h1v1h-1zM13 104h1v1h-1zM17 104h1v1h-1zM35 104h1v1h-1zM41 104h1v1h-1zM43 104h1v1h-1zM61 104h1v1h-1zM65 104h1v1h-1zM88 104h1v1h-1zM90 104h1v1h-1zM93 104h1v1h-1zM1 105h1v1h-1zM4 105h1v1h-1zM13 105h1v1h-1zM14 105h1v1h-1zM25 105h1v1h-1zM27 105h1v1h-1zM28 105h1v1h-1zM37 105h1v1h-1zM41 105h1v1h-1zM42 105h1v1h-1zM43 105h1v1h-1zM46 105h1v1h-1zM52 105h1v1h-1zM55 105h1v1h-1zM60 105h1v1h-1zM62 105h1v1h-1zM81 105h1v1h-1zM84 105h1v1h-1zM92 105h1v1h-1zM94 105h1v1h-1zM3 106h1v1h-1zM4 106h1v1h-1zM10 106h1v1h-1zM24 106h1v1h-1zM27 106h1v1h-1zM37 106h1v1h-1zM44 106h1v1h-1zM55 106h1v1h-1zM58 106h1v1h-1zM83 106h1v1h-1zM93 106h1v1h-1zM1 107h1v1h-1zM2 107h1v1h-1zM7 107h1v1h-1zM10 107h1v1h-1zM12 107h1v1h-1zM13 107h1v1h-1zM19 107h1v1h-1zM21 107h1v1h-1zM23 107h1v1h-1zM24 107h1v1h-1zM27 107h1v1h-1zM28 107h1v1h-1zM34 107h1v1h-1zM41 107h1v1h-1zM46 107h1v1h-1zM55 107h1v1h-1zM56 107h1v1h-1zM57 107h1v1h-1zM61 107h1v1h-1zM64 107h1v1h-1zM65 107h1v1h-1zM80 107h1v1h-1zM81 107h1v1h-1zM86 107h1v1h-1zM88 107h1v1h-1zM5 108h1v1h-1zM17 108h1v1h-1zM21 108h1v1h-1zM29 108h1v1h-1zM34 108h1v1h-1zM37 108h1v1h-1zM45 108h1v1h-1zM51 108h1v1h-1zM52 108h1v1h-1zM53 108h1v1h-1zM55 108h1v1h-1zM57 108h1v1h-1zM60 108h1v1h-1zM61 108h1v1h-1zM0 109h1v1h-1zM8 109h1v1h-1zM9 109h1v1h-1zM13 109h1v1h-1zM16 109h1v1h-1zM23 109h1v1h-1zM24 109h1v1h-1zM26 109h1v1h-1zM35 109h1v1h-1zM38 109h1v1h-1zM41 109h1v1h-1zM46 109h1v1h-1zM50 109h1v1h-1zM59 109h1v1h-1zM63 109h1v1h-1zM64 109h1v1h-1zM89 109h1v1h-1z"/>
<path fill="#eeeef0" d="M14 0h1v1h-1zM15 0h1v1h-1zM17 0h1v1h-1zM22 0h1v1h-1zM23 0h1v1h-1zM31 0h1v1h-1zM41 0h1v1h-1zM43 0h1v1h-1zM46 0h1v1h-1zM49 0h1v1h-1zM53 0h1v1h-1zM55 0h1v1h-1zM61 0h1v1h-1zM64 0h1v1h-1zM65 0h1v1h-1zM66 0h1v1h-1zM72 0h1v1h-1zM74 0h1v1h-1zM75 0h1v1h-1zM76 0h1v1h-1zM77 0h1v1h-1zM79 0h1v1h-1zM85 0h1v1h-1zM86 0h1v1h-1zM91 0h1v1h-1zM17 1h1v1h-1zM23 1h1v1h-1zM29 1h1v1h-1zM32 1h1v1h-1zM41 1h1v1h-1zM43 1h1v1h-1zM49 1h1v1h-1zM50 1h1v1h-1zM54 1h1v1h-1zM55 1h1v1h-1zM64 1h1v1h-1zM66 1h1v1h-1zM69 1h1v1h-1zM70 1h1v1h-1zM75 1h1v1h-1zM82 1h1v1h-1zM83 1h1v1h-1zM90 1h1v1h-1zM16 2h1v1h-1zM31 2h1v1h-1zM33 2h1v1h-1zM41 2h1v1h-1zM43 2h1v1h-1zM44 2h1v1h-1zM51 2h1v1h-1zM55 2h1v1h-1zM56 2h1v1h-1zM58 2h1v1h-1zM64 2h1v1h-1zM66 2h1v1h-1zM72 2h1v1h-1zM78 2h1v1h-1zM83 2h1v1h-1zM89 2h1v1h-1zM94 2h1v1h-1zM18 3h1v1h-1zM20 3h1v1h-1zM28 3h1v1h-1zM29 3h1v1h-1zM32 3h1v1h-1zM34 3h1v1h-1zM37 3h1v1h-1zM38 3h1v1h-1zM45 3h1v1h-1zM49 3h1v1h-1zM55 3h1v1h-1zM72 3h1v1h-1zM82 3h1v1h-1zM83 3h1v1h-1zM84 3h1v1h-1zM85 3h1v1h-1zM13 4h1v1h-1zM16 4h1v1h-1zM17 4h1v1h-1zM25 4h1v1h-1zM26 4h1v1h-1zM29 4h1v1h-1zM35 4h1v1h-1zM39 4h1v1h-1zM40 4h1v1h-1zM46 4h1v1h-1zM51 4h1v1h-1zM53 4h1v1h-1zM55 4h1v1h-1zM64 4h1v1h-1zM65 4h1v1h-1zM71 4h1v1h-1zM75 4h1v1h-1zM83 4h1v1h-1zM87 4h1v1h-1zM13 5h1v1h-1zM17 5h1v1h-1zM18 5h1v1h-1zM19 5h1v1h-1zM27 5h1v1h-1zM32 5h1v1h-1zM35 5h1v1h-1zM37 5h1v1h-1zM43 5h1v1h-1zM44 5h1v1h-1zM46 5h1v1h-1zM50 5h1v1h-1zM52 5h1v1h-1zM54 5h1v1h-1zM56 5h1v1h-1zM61 5h1v1h-1zM63 5h1v1h-1zM67 5h1v1h-1zM72 5h1v1h-1zM81 5h1v1h-1zM90 5h1v1h-1zM93 5h1v1h-1zM0 6h1v1h-1zM13 6h1v1h-1zM19 6h1v1h-1zM23 6h1v1h-1zM24 6h1v1h-1zM30 6h1v1h-1zM32 6h1v1h-1zM42 6h1v1h-1zM47 6h1v1h-1zM48 6h1v1h-1zM49 6h1v1h-1zM53 6h1v1h-1zM58 6h1v1h-1zM61 6h1v1h-1zM62 6h1v1h-1zM73 6h1v1h-1zM90 6h1v1h-1zM13 7h1v1h-1zM19 7h1v1h-1zM32 7h1v1h-1zM36 7h1v1h-1zM43 7h1v1h-1zM44 7h1v1h-1zM51 7h1v1h-1zM52 7h1v1h-1zM56 7h1v1h-1zM60 7h1v1h-1zM67 7h1v1h-1zM69 7h1v1h-1zM71 7h1v1h-1zM86 7h1v1h-1zM89 7h1v1h-1zM91 7h1v1h-1zM92 7h1v1h-1zM16 8h1v1h-1zM20 8h1v1h-1zM23 8h1v1h-1zM33 8h1v1h-1zM34 8h1v1h-1zM36 8h1v1h-1zM44 8h1v1h-1zM45 8h1v1h-1zM52 8h1v1h-1zM61 8h1v1h-1zM68 8h1v1h-1zM78 8h1v1h-1zM81 8h1v1h-1zM82 8h1v1h-1zM88 8h1v1h-1zM89 8h1v1h-1zM91 8h1v1h-1zM92 8h1v1h-1zM94 8h1v1h-1zM13 9h1v1h-1zM17 9h1v1h-1zM19 9h1v1h-1zM22 9h1v1h-1zM23 9h1v1h-1zM26 9h1v1h-1zM37 9h1v1h-1zM38 9h1v1h-1zM40 9h1v1h-1zM45 9h1v1h-1zM48 9h1v1h-1zM61 9h1v1h-1zM62 9h1v1h-1zM65 9h1v1h-1zM67 9h1v1h-1zM69 9h1v1h-1zM72 9h1v1h-1zM73 9h1v1h-1zM79 9h1v1h-1zM83 9h1v1h-1zM90 9h1v1h-1zM15 10h1v1h-1zM16 10h1v1h-1zM17 10h1v1h-1zM21 10h1v1h-1zM22 10h1v1h-1zM29 10h1v1h-1zM34 10h1v1h-1zM35 10h1v1h-1zM47 10h1v1h-1zM53 10h1v1h-1zM57 10h1v1h-1zM65 10h1v1h-1zM74 10h1v1h-1zM75 10h1v1h-1zM83 10h1v1h-1zM91 10h1v1h-1zM15 11h1v1h-1zM16 11h1v1h-1zM19 11h1v1h-1zM23 11h1v1h-1zM25 11h1v1h-1zM28 11h1v1h-1zM31 11h1v1h-1zM37 11h1v1h-1zM39 11h1v1h-1zM40 11h1v1h-1zM55 11h1v1h-1zM56 11h1v1h-1zM79 11h1v1h-1zM85 11h1v1h-1zM13 12h1v1h-1zM14 12h1v1h-1zM15 12h1v1h-1zM24 12h1v1h-1zM36 12h1v1h-1zM42 12h1v1h-1zM44 12h1v1h-1zM45 12h1v1h-1zM47 12h1v1h-1zM54 12h1v1h-1zM55 12h1v1h-1zM61 12h1v1h-1zM63 12h1v1h-1zM64 12h1v1h-1zM68 12h1v1h-1zM72 12h1v1h-1zM77 12h1v1h-1zM81 12h1v1h-1zM85 12h1v1h-1zM89 12h1v1h-1zM91 12h1v1h-1zM94 12h1v1h-1zM13 13h1v1h-1zM19 13h1v1h-1zM24 13h1v1h-1zM27 13h1v1h-1zM28 13h1v1h-1zM31 13h1v1h-1zM32 13h1v1h-1zM33 13h1v1h-1zM40 13h1v1h-1zM41 13h1v1h-1zM48 13h1v1h-1zM56 13h1v1h-1zM57 13h1v1h-1zM70 13h1v1h-1zM74 13h1v1h-1zM78 13h1v1h-1zM85 13h1v1h-1zM14 14h1v1h-1zM22 14h1v1h-1zM23 14h1v1h-1zM35 14h1v1h-1zM40 14h1v1h-1zM51 14h1v1h-1zM54 14h1v1h-1zM58 14h1v1h-1zM59 14h1v1h-1zM61 14h1v1h-1zM62 14h1v1h-1zM65 14h1v1h-1zM78 14h1v1h-1zM88 14h1v1h-1zM93 14h1v1h-1zM13 15h1v1h-1zM17 15h1v1h-1zM18 15h1v1h-1zM19 15h1v1h-1zM21 15h1v1h-1zM23 15h1v1h-1zM25 15h1v1h-1zM37 15h1v1h-1zM38 15h1v1h-1zM45 15h1v1h-1zM54 15h1v1h-1zM59 15h1v1h-1zM66 15h1v1h-1zM67 15h1v1h-1zM70 15h1v1h-1zM73 15h1v1h-1zM81 15h1v1h-1zM92 15h1v1h-1zM94 15h1v1h-1zM24 16h1v1h-1zM27 16h1v1h-1zM28 16h1v1h-1zM29 16h1v1h-1zM35 16h1v1h-1zM36 16h1v1h-1zM40 16h1v1h-1zM44 16h1v1h-1zM46 16h1v1h-1zM57 16h1v1h-1zM63 16h1v1h-1zM64 16h1v1h-1zM66 16h1v1h-1zM67 16h1v1h-1zM77 16h1v1h-1zM81 16h1v1h-1zM84 16h1v1h-1zM91 16h1v1h-1zM93 16h1v1h-1zM18 17h1v1h-1zM29 17h1v1h-1zM30 17h1v1h-1zM36 17h1v1h-1zM38 17h1v1h-1zM49 17h1v1h-1zM53 17h1v1h-1zM55 17h1v1h-1zM62 17h1v1h-1zM63 17h1v1h-1zM67 17h1v1h-1zM68 17h1v1h-1zM73 17h1v1h-1zM81 17h1v1h-1zM23 18h1v1h-1zM24 18h1v1h-1zM35 18h1v1h-1zM46 18h1v1h-1zM53 18h1v1h-1zM55 18h1v1h-1zM61 18h1v1h-1zM62 18h1v1h-1zM65 18h1v1h-1zM66 18h1v1h-1zM72 18h1v1h-1zM73 18h1v1h-1zM75 18h1v1h-1zM90 18h1v1h-1zM92 18h1v1h-1zM17 19h1v1h-1zM19 19h1v1h-1zM24 19h1v1h-1zM28 19h1v1h-1zM30 19h1v1h-1zM37 19h1v1h-1zM38 19h1v1h-1zM49 19h1v1h-1zM51 19h1v1h-1zM56 19h1v1h-1zM65 19h1v1h-1zM73 19h1v1h-1zM78 19h1v1h-1zM80 19h1v1h-1zM83 19h1v1h-1zM13 20h1v1h-1zM14 20h1v1h-1zM17 20h1v1h-1zM18 20h1v1h-1zM19 20h1v1h-1zM31 20h1v1h-1zM33 20h1v1h-1zM34 20h1v1h-1zM36 20h1v1h-1zM38 20h1v1h-1zM44 20h1v1h-1zM48 20h1v1h-1zM51 20h1v1h-1zM53 20h1v1h-1zM66 20h1v1h-1zM78 20h1v1h-1zM79 20h1v1h-1zM89 20h1v1h-1zM92 20h1v1h-1zM93 20h1v1h-1zM4 21h1v1h-1zM13 21h1v1h-1zM26 21h1v1h-1zM27 21h1v1h-1zM29 21h1v1h-1zM38 21h1v1h-1zM50 21h1v1h-1zM54 21h1v1h-1zM61 21h1v1h-1zM88 21h1v1h-1zM91 21h1v1h-1zM18 22h1v1h-1zM22 22h1v1h-1zM23 22h1v1h-1zM25 22h1v1h-1zM27 22h1v1h-1zM29 22h1v1h-1zM30 22h1v1h-1zM31 22h1v1h-1zM32 22h1v1h-1zM33 22h1v1h-1zM35 22h1v1h-1zM56 22h1v1h-1zM57 22h1v1h-1zM13 23h1v1h-1zM15 23h1v1h-1zM17 23h1v1h-1zM19 23h1v1h-1zM21 23h1v1h-1zM23 23h1v1h-1zM25 23h1v1h-1zM27 23h1v1h-1zM29 23h1v1h-1zM33 23h1v1h-1zM38 23h1v1h-1zM42 23h1v1h-1zM43 23h1v1h-1zM48 23h1v1h-1zM52 23h1v1h-1zM57 23h1v1h-1zM59 23h1v1h-1zM69 23h1v1h-1zM70 23h1v1h-1zM71 23h1v1h-1zM73 23h1v1h-1zM85 23h1v1h-1zM9 24h1v1h-1zM16 24h1v1h-1zM17 24h1v1h-1zM18 24h1v1h-1zM21 24h1v1h-1zM24 24h1v1h-1zM25 24h1v1h-1zM29 24h1v1h-1zM31 24h1v1h-1zM33 24h1v1h-1zM35 24h1v1h-1zM41 24h1v1h-1zM45 24h1v1h-1zM48 24h1v1h-1zM52 24h1v1h-1zM57 24h1v1h-1zM62 24h1v1h-1zM65 24h1v1h-1zM67 24h1v1h-1zM72 24h1v1h-1zM75 24h1v1h-1zM78 24h1v1h-1zM4 25h1v1h-1zM17 25h1v1h-1zM19 25h1v1h-1zM25 25h1v1h-1zM30 25h1v1h-1zM36 25h1v1h-1zM48 25h1v1h-1zM49 25h1v1h-1zM58 25h1v1h-1zM59 25h1v1h-1zM61 25h1v1h-1zM63 25h1v1h-1zM72 25h1v1h-1zM74 25h1v1h-1zM90 25h1v1h-1zM94 25h1v1h-1zM0 26h1v1h-1zM14 26h1v1h-1zM27 26h1v1h-1zM32 26h1v1h-1zM41 26h1v1h-1zM45 26h1v1h-1zM58 26h1v1h-1zM61 26h1v1h-1zM63 26h1v1h-1zM71 26h1v1h-1zM74 26h1v1h-1zM88 26h1v1h-1zM10 27h1v1h-1zM29 27h1v1h-1zM31 27h1v1h-1zM38 27h1v1h-1zM42 27h1v1h-1zM55 27h1v1h-1zM57 27h1v1h-1zM58 27h1v1h-1zM60 27h1v1h-1zM71 27h1v1h-1zM73 27h1v1h-1zM74 27h1v1h-1zM77 27h1v1h-1zM82 27h1v1h-1zM88 27h1v1h-1zM91 27h1v1h-1zM19 28h1v1h-1zM25 28h1v1h-1zM50 28h1v1h-1zM52 28h1v1h-1zM56 28h1v1h-1zM62 28h1v1h-1zM64 28h1v1h-1zM69 28h1v1h-1zM74 28h1v1h-1zM77 28h1v1h-1zM79 28h1v1h-1zM82 28h1v1h-1zM91 28h1v1h-1zM7 29h1v1h-1zM15 29h1v1h-1zM17 29h1v1h-1zM19 29h1v1h-1zM21 29h1v1h-1zM25 29h1v1h-1zM62 29h1v1h-1zM65 29h1v1h-1zM72 29h1v1h-1zM74 29h1v1h-1zM75 29h1v1h-1zM82 29h1v1h-1zM85 29h1v1h-1zM88 29h1v1h-1zM89 29h1v1h-1zM14 30h1v1h-1zM20 30h1v1h-1zM26 30h1v1h-1zM62 30h1v1h-1zM63 30h1v1h-1zM64 30h1v1h-1zM65 30h1v1h-1zM71 30h1v1h-1zM76 30h1v1h-1zM85 30h1v1h-1zM86 30h1v1h-1zM93 30h1v1h-1zM3 31h1v1h-1zM17 31h1v1h-1zM42 31h1v1h-1zM71 31h1v1h-1zM73 31h1v1h-1zM74 31h1v1h-1zM75 31h1v1h-1zM76 31h1v1h-1zM77 31h1v1h-1zM78 31h1v1h-1zM87 31h1v1h-1zM5 32h1v1h-1zM12 32h1v1h-1zM62 32h1v1h-1zM73 32h1v1h-1zM79 32h1v1h-1zM80 32h1v1h-1zM81 32h1v1h-1zM87 32h1v1h-1zM91 32h1v1h-1zM9 33h1v1h-1zM15 33h1v1h-1zM20 33h1v1h-1zM30 33h1v1h-1zM66 33h1v1h-1zM80 33h1v1h-1zM15 34h1v1h-1zM18 34h1v1h-1zM51 34h1v1h-1zM62 34h1v1h-1zM64 34h1v1h-1zM72 34h1v1h-1zM77 34h1v1h-1zM79 34h1v1h-1zM80 34h1v1h-1zM81 34h1v1h-1zM84 34h1v1h-1zM87 34h1v1h-1zM88 34h1v1h-1zM89 34h1v1h-1zM90 34h1v1h-1zM2 35h1v1h-1zM13 35h1v1h-1zM19 35h1v1h-1zM21 35h1v1h-1zM23 35h1v1h-1zM29 35h1v1h-1zM34 35h1v1h-1zM39 35h1v1h-1zM41 35h1v1h-1zM44 35h1v1h-1zM45 35h1v1h-1zM46 35h1v1h-1zM48 35h1v1h-1zM52 35h1v1h-1zM56 35h1v1h-1zM58 35h1v1h-1zM61 35h1v1h-1zM62 35h1v1h-1zM68 35h1v1h-1zM69 35h1v1h-1zM70 35h1v1h-1zM71 35h1v1h-1zM74 35h1v1h-1zM75 35h1v1h-1zM77 35h1v1h-1zM93 35h1v1h-1zM1 36h1v1h-1zM9 36h1v1h-1zM14 36h1v1h-1zM23 36h1v1h-1zM25 36h1v1h-1zM33 36h1v1h-1zM35 36h1v1h-1zM37 36h1v1h-1zM42 36h1v1h-1zM45 36h1v1h-1zM50 36h1v1h-1zM51 36h1v1h-1zM52 36h1v1h-1zM54 36h1v1h-1zM56 36h1v1h-1zM58 36h1v1h-1zM61 36h1v1h-1zM76 36h1v1h-1zM82 36h1v1h-1zM91 36h1v1h-1zM94 36h1v1h-1zM15 37h1v1h-1zM16 37h1v1h-1zM18 37h1v1h-1zM19 37h1v1h-1zM26 37h1v1h-1zM32 37h1v1h-1zM44 37h1v1h-1zM50 37h1v1h-1zM51 37h1v1h-1zM62 37h1v1h-1zM66 37h1v1h-1zM75 37h1v1h-1zM92 37h1v1h-1zM6 38h1v1h-1zM12 38h1v1h-1zM19 38h1v1h-1zM34 38h1v1h-1zM35 38h1v1h-1zM36 38h1v1h-1zM44 38h1v1h-1zM47 38h1v1h-1zM67 38h1v1h-1zM70 38h1v1h-1zM74 38h1v1h-1zM86 38h1v1h-1zM7 39h1v1h-1zM9 39h1v1h-1zM16 39h1v1h-1zM18 39h1v1h-1zM20 39h1v1h-1zM22 39h1v1h-1zM24 39h1v1h-1zM30 39h1v1h-1zM33 39h1v1h-1zM43 39h1v1h-1zM50 39h1v1h-1zM59 39h1v1h-1zM61 39h1v1h-1zM69 39h1v1h-1zM70 39h1v1h-1zM73 39h1v1h-1zM82 39h1v1h-1zM86 39h1v1h-1zM2 40h1v1h-1zM4 40h1v1h-1zM7 40h1v1h-1zM8 40h1v1h-1zM15 40h1v1h-1zM17 40h1v1h-1zM18 40h1v1h-1zM20 40h1v1h-1zM23 40h1v1h-1zM24 40h1v1h-1zM27 40h1v1h-1zM29 40h1v1h-1zM30 40h1v1h-1zM31 40h1v1h-1zM33 40h1v1h-1zM34 40h1v1h-1zM38 40h1v1h-1zM39 40h1v1h-1zM44 40h1v1h-1zM45 40h1v1h-1zM51 40h1v1h-1zM54 40h1v1h-1zM56 40h1v1h-1zM57 40h1v1h-1zM59 40h1v1h-1zM60 40h1v1h-1zM63 40h1v1h-1zM64 40h1v1h-1zM75 40h1v1h-1zM14 41h1v1h-1zM35 41h1v1h-1zM36 41h1v1h-1zM38 41h1v1h-1zM39 41h1v1h-1zM40 41h1v1h-1zM50 41h1v1h-1zM51 41h1v1h-1zM57 41h1v1h-1zM70 41h1v1h-1zM72 41h1v1h-1zM4 42h1v1h-1zM19 42h1v1h-1zM20 42h1v1h-1zM29 42h1v1h-1zM31 42h1v1h-1zM32 42h1v1h-1zM33 42h1v1h-1zM35 42h1v1h-1zM40 42h1v1h-1zM42 42h1v1h-1zM49 42h1v1h-1zM55 42h1v1h-1zM64 42h1v1h-1zM65 42h1v1h-1zM66 42h1v1h-1zM68 42h1v1h-1zM69 42h1v1h-1zM71 42h1v1h-1zM72 42h1v1h-1zM73 42h1v1h-1zM74 42h1v1h-1zM6 43h1v1h-1zM17 43h1v1h-1zM18 43h1v1h-1zM20 43h1v1h-1zM21 43h1v1h-1zM23 43h1v1h-1zM30 43h1v1h-1zM33 43h1v1h-1zM35 43h1v1h-1zM39 43h1v1h-1zM47 43h1v1h-1zM50 43h1v1h-1zM60 43h1v1h-1zM66 43h1v1h-1zM71 43h1v1h-1zM1 44h1v1h-1zM18 44h1v1h-1zM24 44h1v1h-1zM28 44h1v1h-1zM29 44h1v1h-1zM31 44h1v1h-1zM32 44h1v1h-1zM33 44h1v1h-1zM36 44h1v1h-1zM38 44h1v1h-1zM46 44h1v1h-1zM50 44h1v1h-1zM51 44h1v1h-1zM57 44h1v1h-1zM60 44h1v1h-1zM64 44h1v1h-1zM67 44h1v1h-1zM69 44h1v1h-1zM74 44h1v1h-1zM78 44h1v1h-1zM88 44h1v1h-1zM8 45h1v1h-1zM14 45h1v1h-1zM17 45h1v1h-1zM18 45h1v1h-1zM19 45h1v1h-1zM20 45h1v1h-1zM27 45h1v1h-1zM34 45h1v1h-1zM36 45h1v1h-1zM37 45h1v1h-1zM39 45h1v1h-1zM58 45h1v1h-1zM64 45h1v1h-1zM69 45h1v1h-1zM74 45h1v1h-1zM79 45h1v1h-1zM85 45h1v1h-1zM4 46h1v1h-1zM15 46h1v1h-1zM19 46h1v1h-1zM27 46h1v1h-1zM28 46h1v1h-1zM29 46h1v1h-1zM38 46h1v1h-1zM49 46h1v1h-1zM51 46h1v1h-1zM55 46h1v1h-1zM60 46h1v1h-1zM63 46h1v1h-1zM65 46h1v1h-1zM69 46h1v1h-1zM72 46h1v1h-1zM80 46h1v1h-1zM87 46h1v1h-1zM1 47h1v1h-1zM5 47h1v1h-1zM8 47h1v1h-1zM21 47h1v1h-1zM27 47h1v1h-1zM31 47h1v1h-1zM32 47h1v1h-1zM34 47h1v1h-1zM41 47h1v1h-1zM47 47h1v1h-1zM58 47h1v1h-1zM61 47h1v1h-1zM1 48h1v1h-1zM11 48h1v1h-1zM13 48h1v1h-1zM18 48h1v1h-1zM22 48h1v1h-1zM33 48h1v1h-1zM35 48h1v1h-1zM37 48h1v1h-1zM42 48h1v1h-1zM52 48h1v1h-1zM58 48h1v1h-1zM59 48h1v1h-1zM62 48h1v1h-1zM73 48h1v1h-1zM2 49h1v1h-1zM4 49h1v1h-1zM16 49h1v1h-1zM51 49h1v1h-1zM53 49h1v1h-1zM58 49h1v1h-1zM65 49h1v1h-1zM67 49h1v1h-1zM68 49h1v1h-1zM71 49h1v1h-1zM73 49h1v1h-1zM0 50h1v1h-1zM1 50h1v1h-1zM3 50h1v1h-1zM6 50h1v1h-1zM19 50h1v1h-1zM21 50h1v1h-1zM25 50h1v1h-1zM32 50h1v1h-1zM38 50h1v1h-1zM51 50h1v1h-1zM52 50h1v1h-1zM64 50h1v1h-1zM70 50h1v1h-1zM1 51h1v1h-1zM6 51h1v1h-1zM12 51h1v1h-1zM25 51h1v1h-1zM26 51h1v1h-1zM28 51h1v1h-1zM35 51h1v1h-1zM38 51h1v1h-1zM44 51h1v1h-1zM45 51h1v1h-1zM54 51h1v1h-1zM72 51h1v1h-1zM3 52h1v1h-1zM4 52h1v1h-1zM6 52h1v1h-1zM7 52h1v1h-1zM10 52h1v1h-1zM16 52h1v1h-1zM24 52h1v1h-1zM28 52h1v1h-1zM46 52h1v1h-1zM49 52h1v1h-1zM56 52h1v1h-1zM61 52h1v1h-1zM71 52h1v1h-1zM73 52h1v1h-1zM74 52h1v1h-1zM91 52h1v1h-1zM6 53h1v1h-1zM18 53h1v1h-1zM21 53h1v1h-1zM23 53h1v1h-1zM29 53h1v1h-1zM30 53h1v1h-1zM33 53h1v1h-1zM36 53h1v1h-1zM46 53h1v1h-1zM54 53h1v1h-1zM55 53h1v1h-1zM64 53h1v1h-1zM67 53h1v1h-1zM72 53h1v1h-1zM20 54h1v1h-1zM29 54h1v1h-1zM48 54h1v1h-1zM49 54h1v1h-1zM57 54h1v1h-1zM2 55h1v1h-1zM15 55h1v1h-1zM19 55h1v1h-1zM25 55h1v1h-1zM26 55h1v1h-1zM28 55h1v1h-1zM46 55h1v1h-1zM60 55h1v1h-1zM67 55h1v1h-1zM87 55h1v1h-1zM6 56h1v1h-1zM23 56h1v1h-1zM30 56h1v1h-1zM33 56h1v1h-1zM36 56h1v1h-1zM40 56h1v1h-1zM41 56h1v1h-1zM66 56h1v1h-1zM0 57h1v1h-1zM10 57h1v1h-1zM11 57h1v1h-1zM26 57h1v1h-1zM52 57h1v1h-1zM55 57h1v1h-1zM56 57h1v1h-1zM61 57h1v1h-1zM63 57h1v1h-1zM1 58h1v1h-1zM8 58h1v1h-1zM14 58h1v1h-1zM19 58h1v1h-1zM22 58h1v1h-1zM28 58h1v1h-1zM59 58h1v1h-1zM67 58h1v1h-1zM74 58h1v1h-1zM3 59h1v1h-1zM7 59h1v1h-1zM21 59h1v1h-1zM32 59h1v1h-1zM33 59h1v1h-1zM41 59h1v1h-1zM43 59h1v1h-1zM44 59h1v1h-1zM50 59h1v1h-1zM65 59h1v1h-1zM69 59h1v1h-1zM82 59h1v1h-1zM6 60h1v1h-1zM10 60h1v1h-1zM14 60h1v1h-1zM16 60h1v1h-1zM17 60h1v1h-1zM23 60h1v1h-1zM26 60h1v1h-1zM30 60h1v1h-1zM35 60h1v1h-1zM36 60h1v1h-1zM37 60h1v1h-1zM40 60h1v1h-1zM41 60h1v1h-1zM42 60h1v1h-1zM44 60h1v1h-1zM60 60h1v1h-1zM62 60h1v1h-1zM65 60h1v1h-1zM69 60h1v1h-1zM15 61h1v1h-1zM22 61h1v1h-1zM24 61h1v1h-1zM30 61h1v1h-1zM35 61h1v1h-1zM38 61h1v1h-1zM45 61h1v1h-1zM46 61h1v1h-1zM56 61h1v1h-1zM57 61h1v1h-1zM59 61h1v1h-1zM73 61h1v1h-1zM21 62h1v1h-1zM30 62h1v1h-1zM33 62h1v1h-1zM38 62h1v1h-1zM39 62h1v1h-1zM40 62h1v1h-1zM44 62h1v1h-1zM51 62h1v1h-1zM53 62h1v1h-1zM54 62h1v1h-1zM64 62h1v1h-1zM70 62h1v1h-1zM7 63h1v1h-1zM13 63h1v1h-1zM14 63h1v1h-1zM15 63h1v1h-1zM18 63h1v1h-1zM19 63h1v1h-1zM20 63h1v1h-1zM21 63h1v1h-1zM23 63h1v1h-1zM25 63h1v1h-1zM43 63h1v1h-1zM47 63h1v1h-1zM48 63h1v1h-1zM54 63h1v1h-1zM56 63h1v1h-1zM59 63h1v1h-1zM60 63h1v1h-1zM62 63h1v1h-1zM70 63h1v1h-1zM73 63h1v1h-1zM4 64h1v1h-1zM15 64h1v1h-1zM16 64h1v1h-1zM19 64h1v1h-1zM21 64h1v1h-1zM22 64h1v1h-1zM35 64h1v1h-1zM44 64h1v1h-1zM48 64h1v1h-1zM51 64h1v1h-1zM68 64h1v1h-1zM72 64h1v1h-1zM18 65h1v1h-1zM19 65h1v1h-1zM23 65h1v1h-1zM24 65h1v1h-1zM30 65h1v1h-1zM36 65h1v1h-1zM38 65h1v1h-1zM42 65h1v1h-1zM51 65h1v1h-1zM59 65h1v1h-1zM84 65h1v1h-1zM14 66h1v1h-1zM19 66h1v1h-1zM20 66h1v1h-1zM26 66h1v1h-1zM34 66h1v1h-1zM56 66h1v1h-1zM71 66h1v1h-1zM22 67h1v1h-1zM24 67h1v1h-1zM32 67h1v1h-1zM39 67h1v1h-1zM46 67h1v1h-1zM48 67h1v1h-1zM59 67h1v1h-1zM72 67h1v1h-1zM76 67h1v1h-1zM91 67h1v1h-1zM14 68h1v1h-1zM18 68h1v1h-1zM19 68h1v1h-1zM22 68h1v1h-1zM25 68h1v1h-1zM32 68h1v1h-1zM51 68h1v1h-1zM55 68h1v1h-1zM58 68h1v1h-1zM60 68h1v1h-1zM65 68h1v1h-1zM67 68h1v1h-1zM68 68h1v1h-1zM76 68h1v1h-1zM88 68h1v1h-1zM14 69h1v1h-1zM16 69h1v1h-1zM17 69h1v1h-1zM26 69h1v1h-1zM29 69h1v1h-1zM32 69h1v1h-1zM33 69h1v1h-1zM41 69h1v1h-1zM47 69h1v1h-1zM49 69h1v1h-1zM50 69h1v1h-1zM14 70h1v1h-1zM17 70h1v1h-1zM19 70h1v1h-1zM22 70h1v1h-1zM25 70h1v1h-1zM28 70h1v1h-1zM30 70h1v1h-1zM34 70h1v1h-1zM36 70h1v1h-1zM40 70h1v1h-1zM42 70h1v1h-1zM46 70h1v1h-1zM53 70h1v1h-1zM58 70h1v1h-1zM66 70h1v1h-1zM15 71h1v1h-1zM22 71h1v1h-1zM23 71h1v1h-1zM32 71h1v1h-1zM34 71h1v1h-1zM37 71h1v1h-1zM38 71h1v1h-1zM40 71h1v1h-1zM42 71h1v1h-1zM54 71h1v1h-1zM60 71h1v1h-1zM76 71h1v1h-1zM77 71h1v1h-1zM78 71h1v1h-1zM92 71h1v1h-1zM17 72h1v1h-1zM27 72h1v1h-1zM32 72h1v1h-1zM37 72h1v1h-1zM43 72h1v1h-1zM51 72h1v1h-1zM64 72h1v1h-1zM14 73h1v1h-1zM23 73h1v1h-1zM36 73h1v1h-1zM41 73h1v1h-1zM43 73h1v1h-1zM44 73h1v1h-1zM45 73h1v1h-1zM46 73h1v1h-1zM57 73h1v1h-1zM59 73h1v1h-1zM70 73h1v1h-1zM15 74h1v1h-1zM19 74h1v1h-1zM26 74h1v1h-1zM30 74h1v1h-1zM34 74h1v1h-1zM47 74h1v1h-1zM50 74h1v1h-1zM60 74h1v1h-1zM65 74h1v1h-1zM71 74h1v1h-1zM84 74h1v1h-1zM15 75h1v1h-1zM16 75h1v1h-1zM19 75h1v1h-1zM21 75h1v1h-1zM23 75h1v1h-1zM28 75h1v1h-1zM35 75h1v1h-1zM41 75h1v1h-1zM49 75h1v1h-1zM55 75h1v1h-1zM64 75h1v1h-1zM67 75h1v1h-1zM69 75h1v1h-1zM73 75h1v1h-1zM77 75h1v1h-1zM5 76h1v1h-1zM17 76h1v1h-1zM24 76h1v1h-1zM25 76h1v1h-1zM27 76h1v1h-1zM29 76h1v1h-1zM37 76h1v1h-1zM41 76h1v1h-1zM44 76h1v1h-1zM48 76h1v1h-1zM57 76h1v1h-1zM60 76h1v1h-1zM64 76h1v1h-1zM65 76h1v1h-1zM66 76h1v1h-1zM70 76h1v1h-1zM71 76h1v1h-1zM72 76h1v1h-1zM81 76h1v1h-1zM82 76h1v1h-1zM89 76h1v1h-1zM9 77h1v1h-1zM17 77h1v1h-1zM28 77h1v1h-1zM32 77h1v1h-1zM33 77h1v1h-1zM39 77h1v1h-1zM40 77h1v1h-1zM44 77h1v1h-1zM47 77h1v1h-1zM61 77h1v1h-1zM62 77h1v1h-1zM64 77h1v1h-1zM72 77h1v1h-1zM74 77h1v1h-1zM76 77h1v1h-1zM80 77h1v1h-1zM81 77h1v1h-1zM83 77h1v1h-1zM87 77h1v1h-1zM88 77h1v1h-1zM90 77h1v1h-1zM14 78h1v1h-1zM18 78h1v1h-1zM22 78h1v1h-1zM35 78h1v1h-1zM36 78h1v1h-1zM39 78h1v1h-1zM46 78h1v1h-1zM52 78h1v1h-1zM64 78h1v1h-1zM66 78h1v1h-1zM72 78h1v1h-1zM73 78h1v1h-1zM75 78h1v1h-1zM76 78h1v1h-1zM84 78h1v1h-1zM86 78h1v1h-1zM88 78h1v1h-1zM89 78h1v1h-1zM90 78h1v1h-1zM94 78h1v1h-1zM15 79h1v1h-1zM18 79h1v1h-1zM21 79h1v1h-1zM37 79h1v1h-1zM46 79h1v1h-1zM52 79h1v1h-1zM53 79h1v1h-1zM58 79h1v1h-1zM66 79h1v1h-1zM67 79h1v1h-1zM77 79h1v1h-1zM84 79h1v1h-1zM87 79h1v1h-1zM92 79h1v1h-1zM93 79h1v1h-1zM23 80h1v1h-1zM32 80h1v1h-1zM36 80h1v1h-1zM45 80h1v1h-1zM60 80h1v1h-1zM71 80h1v1h-1zM73 80h1v1h-1zM80 80h1v1h-1zM93 80h1v1h-1zM2 81h1v1h-1zM13 81h1v1h-1zM32 81h1v1h-1zM33 81h1v1h-1zM39 81h1v1h-1zM46 81h1v1h-1zM59 81h1v1h-1zM60 81h1v1h-1zM76 81h1v1h-1zM77 81h1v1h-1zM78 81h1v1h-1zM80 81h1v1h-1zM81 81h1v1h-1zM83 81h1v1h-1zM85 81h1v1h-1zM87 81h1v1h-1zM89 81h1v1h-1zM93 81h1v1h-1zM17 82h1v1h-1zM20 82h1v1h-1zM22 82h1v1h-1zM29 82h1v1h-1zM30 82h1v1h-1zM31 82h1v1h-1zM32 82h1v1h-1zM34 82h1v1h-1zM52 82h1v1h-1zM57 82h1v1h-1zM58 82h1v1h-1zM59 82h1v1h-1zM67 82h1v1h-1zM69 82h1v1h-1zM78 82h1v1h-1zM79 82h1v1h-1zM84 82h1v1h-1zM87 82h1v1h-1zM90 82h1v1h-1zM93 82h1v1h-1zM13 83h1v1h-1zM14 83h1v1h-1zM16 83h1v1h-1zM18 83h1v1h-1zM19 83h1v1h-1zM20 83h1v1h-1zM22 83h1v1h-1zM29 83h1v1h-1zM45 83h1v1h-1zM49 83h1v1h-1zM51 83h1v1h-1zM56 83h1v1h-1zM77 83h1v1h-1zM87 83h1v1h-1zM89 83h1v1h-1zM16 84h1v1h-1zM18 84h1v1h-1zM20 84h1v1h-1zM25 84h1v1h-1zM37 84h1v1h-1zM46 84h1v1h-1zM49 84h1v1h-1zM50 84h1v1h-1zM51 84h1v1h-1zM62 84h1v1h-1zM81 84h1v1h-1zM3 85h1v1h-1zM8 85h1v1h-1zM14 85h1v1h-1zM34 85h1v1h-1zM38 85h1v1h-1zM44 85h1v1h-1zM52 85h1v1h-1zM55 85h1v1h-1zM59 85h1v1h-1zM63 85h1v1h-1zM79 85h1v1h-1zM83 85h1v1h-1zM87 85h1v1h-1zM88 85h1v1h-1zM90 85h1v1h-1zM93 85h1v1h-1zM15 86h1v1h-1zM18 86h1v1h-1zM22 86h1v1h-1zM29 86h1v1h-1zM39 86h1v1h-1zM40 86h1v1h-1zM41 86h1v1h-1zM48 86h1v1h-1zM54 86h1v1h-1zM61 86h1v1h-1zM64 86h1v1h-1zM74 86h1v1h-1zM78 86h1v1h-1zM80 86h1v1h-1zM82 86h1v1h-1zM83 86h1v1h-1zM84 86h1v1h-1zM91 86h1v1h-1zM93 86h1v1h-1zM17 87h1v1h-1zM22 87h1v1h-1zM24 87h1v1h-1zM25 87h1v1h-1zM28 87h1v1h-1zM31 87h1v1h-1zM48 87h1v1h-1zM64 87h1v1h-1zM65 87h1v1h-1zM69 87h1v1h-1zM70 87h1v1h-1zM74 87h1v1h-1zM79 87h1v1h-1zM81 87h1v1h-1zM83 87h1v1h-1zM84 87h1v1h-1zM91 87h1v1h-1zM92 87h1v1h-1zM13 88h1v1h-1zM24 88h1v1h-1zM28 88h1v1h-1zM39 88h1v1h-1zM43 88h1v1h-1zM47 88h1v1h-1zM68 88h1v1h-1zM69 88h1v1h-1zM77 88h1v1h-1zM81 88h1v1h-1zM4 89h1v1h-1zM12 89h1v1h-1zM13 89h1v1h-1zM16 89h1v1h-1zM17 89h1v1h-1zM18 89h1v1h-1zM24 89h1v1h-1zM34 89h1v1h-1zM35 89h1v1h-1zM47 89h1v1h-1zM58 89h1v1h-1zM65 89h1v1h-1zM79 89h1v1h-1zM85 89h1v1h-1zM86 89h1v1h-1zM87 89h1v1h-1zM94 89h1v1h-1zM2 90h1v1h-1zM20 90h1v1h-1zM41 90h1v1h-1zM47 90h1v1h-1zM55 90h1v1h-1zM58 90h1v1h-1zM63 90h1v1h-1zM65 90h1v1h-1zM71 90h1v1h-1zM78 90h1v1h-1zM79 90h1v1h-1zM80 90h1v1h-1zM82 90h1v1h-1zM86 90h1v1h-1zM87 90h1v1h-1zM88 90h1v1h-1zM94 90h1v1h-1zM3 91h1v1h-1zM28 91h1v1h-1zM33 91h1v1h-1zM34 91h1v1h-1zM42 91h1v1h-1zM62 91h1v1h-1zM64 91h1v1h-1zM83 91h1v1h-1zM88 91h1v1h-1zM89 91h1v1h-1zM93 91h1v1h-1zM18 92h1v1h-1zM20 92h1v1h-1zM21 92h1v1h-1zM27 92h1v1h-1zM32 92h1v1h-1zM34 92h1v1h-1zM35 92h1v1h-1zM42 92h1v1h-1zM43 92h1v1h-1zM45 92h1v1h-1zM54 92h1v1h-1zM55 92h1v1h-1zM58 92h1v1h-1zM64 92h1v1h-1zM65 92h1v1h-1zM66 92h1v1h-1zM80 92h1v1h-1zM82 92h1v1h-1zM83 92h1v1h-1zM84 92h1v1h-1zM88 92h1v1h-1zM89 92h1v1h-1zM14 93h1v1h-1zM15 93h1v1h-1zM21 93h1v1h-1zM24 93h1v1h-1zM26 93h1v1h-1zM28 93h1v1h-1zM33 93h1v1h-1zM34 93h1v1h-1zM36 93h1v1h-1zM37 93h1v1h-1zM39 93h1v1h-1zM40 93h1v1h-1zM53 93h1v1h-1zM64 93h1v1h-1zM77 93h1v1h-1zM80 93h1v1h-1zM83 93h1v1h-1zM85 93h1v1h-1zM88 93h1v1h-1zM89 93h1v1h-1zM92 93h1v1h-1zM12 94h1v1h-1zM27 94h1v1h-1zM33 94h1v1h-1zM36 94h1v1h-1zM37 94h1v1h-1zM39 94h1v1h-1zM45 94h1v1h-1zM47 94h1v1h-1zM54 94h1v1h-1zM63 94h1v1h-1zM80 94h1v1h-1zM85 94h1v1h-1zM86 94h1v1h-1zM88 94h1v1h-1zM89 94h1v1h-1zM92 94h1v1h-1zM8 95h1v1h-1zM17 95h1v1h-1zM19 95h1v1h-1zM22 95h1v1h-1zM26 95h1v1h-1zM30 95h1v1h-1zM31 95h1v1h-1zM32 95h1v1h-1zM38 95h1v1h-1zM40 95h1v1h-1zM41 95h1v1h-1zM44 95h1v1h-1zM46 95h1v1h-1zM52 95h1v1h-1zM54 95h1v1h-1zM56 95h1v1h-1zM63 95h1v1h-1zM81 95h1v1h-1zM84 95h1v1h-1zM90 95h1v1h-1zM91 95h1v1h-1zM93 95h1v1h-1zM94 95h1v1h-1zM17 96h1v1h-1zM19 96h1v1h-1zM22 96h1v1h-1zM27 96h1v1h-1zM41 96h1v1h-1zM45 96h1v1h-1zM53 96h1v1h-1zM57 96h1v1h-1zM63 96h1v1h-1zM5 97h1v1h-1zM14 97h1v1h-1zM15 97h1v1h-1zM16 97h1v1h-1zM18 97h1v1h-1zM19 97h1v1h-1zM20 97h1v1h-1zM21 97h1v1h-1zM22 97h1v1h-1zM24 97h1v1h-1zM25 97h1v1h-1zM26 97h1v1h-1zM29 97h1v1h-1zM37 97h1v1h-1zM38 97h1v1h-1zM39 97h1v1h-1zM40 97h1v1h-1zM43 97h1v1h-1zM55 97h1v1h-1zM80 97h1v1h-1zM82 97h1v1h-1zM83 97h1v1h-1zM89 97h1v1h-1zM92 97h1v1h-1zM94 97h1v1h-1zM16 98h1v1h-1zM22 98h1v1h-1zM28 98h1v1h-1zM30 98h1v1h-1zM32 98h1v1h-1zM34 98h1v1h-1zM37 98h1v1h-1zM38 98h1v1h-1zM40 98h1v1h-1zM42 98h1v1h-1zM43 98h1v1h-1zM52 98h1v1h-1zM53 98h1v1h-1zM57 98h1v1h-1zM59 98h1v1h-1zM62 98h1v1h-1zM65 98h1v1h-1zM85 98h1v1h-1zM90 98h1v1h-1zM19 99h1v1h-1zM21 99h1v1h-1zM26 99h1v1h-1zM27 99h1v1h-1zM28 99h1v1h-1zM29 99h1v1h-1zM30 99h1v1h-1zM32 99h1v1h-1zM35 99h1v1h-1zM36 99h1v1h-1zM44 99h1v1h-1zM52 99h1v1h-1zM58 99h1v1h-1zM62 99h1v1h-1zM80 99h1v1h-1zM84 99h1v1h-1zM87 99h1v1h-1zM92 99h1v1h-1zM94 99h1v1h-1zM3 100h1v1h-1zM14 100h1v1h-1zM16 100h1v1h-1zM18 100h1v1h-1zM20 100h1v1h-1zM21 100h1v1h-1zM22 100h1v1h-1zM25 100h1v1h-1zM26 100h1v1h-1zM28 100h1v1h-1zM34 100h1v1h-1zM46 100h1v1h-1zM53 100h1v1h-1zM56 100h1v1h-1zM65 100h1v1h-1zM80 100h1v1h-1zM86 100h1v1h-1zM92 100h1v1h-1zM5 101h1v1h-1zM7 101h1v1h-1zM11 101h1v1h-1zM12 101h1v1h-1zM13 101h1v1h-1zM14 101h1v1h-1zM18 101h1v1h-1zM20 101h1v1h-1zM22 101h1v1h-1zM26 101h1v1h-1zM27 101h1v1h-1zM31 101h1v1h-1zM32 101h1v1h-1zM34 101h1v1h-1zM39 101h1v1h-1zM40 101h1v1h-1zM42 101h1v1h-1zM51 101h1v1h-1zM52 101h1v1h-1zM54 101h1v1h-1zM55 101h1v1h-1zM63 101h1v1h-1zM65 101h1v1h-1zM83 101h1v1h-1zM86 101h1v1h-1zM16 102h1v1h-1zM27 102h1v1h-1zM33 102h1v1h-1zM34 102h1v1h-1zM38 102h1v1h-1zM41 102h1v1h-1zM44 102h1v1h-1zM47 102h1v1h-1zM54 102h1v1h-1zM60 102h1v1h-1zM81 102h1v1h-1zM86 102h1v1h-1zM91 102h1v1h-1zM93 102h1v1h-1zM13 103h1v1h-1zM28 103h1v1h-1zM43 103h1v1h-1zM46 103h1v1h-1zM53 103h1v1h-1zM55 103h1v1h-1zM58 103h1v1h-1zM64 103h1v1h-1zM86 103h1v1h-1zM15 104h1v1h-1zM27 104h1v1h-1zM28 104h1v1h-1zM29 104h1v1h-1zM32 104h1v1h-1zM33 104h1v1h-1zM38 104h1v1h-1zM42 104h1v1h-1zM44 104h1v1h-1zM45 104h1v1h-1zM57 104h1v1h-1zM58 104h1v1h-1zM60 104h1v1h-1zM62 104h1v1h-1zM63 104h1v1h-1zM64 104h1v1h-1zM87 104h1v1h-1zM91 104h1v1h-1zM7 105h1v1h-1zM16 105h1v1h-1zM18 105h1v1h-1zM30 105h1v1h-1zM32 105h1v1h-1zM34 105h1v1h-1zM38 105h1v1h-1zM39 105h1v1h-1zM40 105h1v1h-1zM44 105h1v1h-1zM54 105h1v1h-1zM56 105h1v1h-1zM61 105h1v1h-1zM64 105h1v1h-1zM65 105h1v1h-1zM80 105h1v1h-1zM82 105h1v1h-1zM83 105h1v1h-1zM91 105h1v1h-1zM15 106h1v1h-1zM19 106h1v1h-1zM26 106h1v1h-1zM28 106h1v1h-1zM33 106h1v1h-1zM35 106h1v1h-1zM38 106h1v1h-1zM42 106h1v1h-1zM50 106h1v1h-1zM54 106h1v1h-1zM59 106h1v1h-1zM60 106h1v1h-1zM63 106h1v1h-1zM64 106h1v1h-1zM65 106h1v1h-1zM81 106h1v1h-1zM84 106h1v1h-1zM87 106h1v1h-1zM91 106h1v1h-1zM92 106h1v1h-1zM14 107h1v1h-1zM15 107h1v1h-1zM20 107h1v1h-1zM22 107h1v1h-1zM30 107h1v1h-1zM31 107h1v1h-1zM33 107h1v1h-1zM36 107h1v1h-1zM38 107h1v1h-1zM44 107h1v1h-1zM45 107h1v1h-1zM52 107h1v1h-1zM58 107h1v1h-1zM59 107h1v1h-1zM62 107h1v1h-1zM83 107h1v1h-1zM91 107h1v1h-1zM94 107h1v1h-1zM9 108h1v1h-1zM10 108h1v1h-1zM16 108h1v1h-1zM23 108h1v1h-1zM28 108h1v1h-1zM41 108h1v1h-1zM42 108h1v1h-1zM43 108h1v1h-1zM44 108h1v1h-1zM49 108h1v1h-1zM56 108h1v1h-1zM58 108h1v1h-1zM59 108h1v1h-1zM65 108h1v1h-1zM80 108h1v1h-1zM81 108h1v1h-1zM82 108h1v1h-1zM85 108h1v1h-1zM87 108h1v1h-1zM88 108h1v1h-1zM15 109h1v1h-1zM17 109h1v1h-1zM18 109h1v1h-1zM19 109h1v1h-1zM21 109h1v1h-1zM22 109h1v1h-1zM31 109h1v1h-1zM32 109h1v1h-1zM33 109h1v1h-1zM34 109h1v1h-1zM37 109h1v1h-1zM44 109h1v1h-1zM45 109h1v1h-1zM49 109h1v1h-1zM52 109h1v1h-1zM53 109h1v1h-1zM55 109h1v1h-1zM56 109h1v1h-1zM58 109h1v1h-1zM60 109h1v1h-1zM62 109h1v1h-1zM65 109h1v1h-1zM80 109h1v1h-1zM91 109h1v1h-1z"/>
<path fill="#f6c4b6" d="M20 0h1v1h-1zM21 0h1v1h-1zM24 0h1v1h-1zM27 0h1v1h-1zM33 0h1v1h-1zM35 0h1v1h-1zM38 0h1v1h-1zM51 0h1v1h-1zM57 0h1v1h-1zM58 0h1v1h-1zM73 0h1v1h-1zM80 0h1v1h-1zM89 0h1v1h-1zM9 1h1v1h-1zM15 1h1v1h-1zM24 1h1v1h-1zM26 1h1v1h-1zM27 1h1v1h-1zM36 1h1v1h-1zM47 1h1v1h-1zM57 1h1v1h-1zM58 1h1v1h-1zM60 1h1v1h-1zM63 1h1v1h-1zM78 1h1v1h-1zM79 1h1v1h-1zM89 1h1v1h-1zM2 2h1v1h-1zM12 2h1v1h-1zM14 2h1v1h-1zM15 2h1v1h-1zM18 2h1v1h-1zM19 2h1v1h-1zM26 2h1v1h-1zM45 2h1v1h-1zM52 2h1v1h-1zM53 2h1v1h-1zM54 2h1v1h-1zM60 2h1v1h-1zM92 2h1v1h-1zM1 3h1v1h-1zM2 3h1v1h-1zM12 3h1v1h-1zM15 3h1v1h-1zM23 3h1v1h-1zM26 3h1v1h-1zM30 3h1v1h-1zM31 3h1v1h-1zM33 3h1v1h-1zM41 3h1v1h-1zM43 3h1v1h-1zM47 3h1v1h-1zM59 3h1v1h-1zM61 3h1v1h-1zM69 3h1v1h-1zM90 3h1v1h-1zM18 4h1v1h-1zM24 4h1v1h-1zM34 4h1v1h-1zM36 4h1v1h-1zM45 4h1v1h-1zM47 4h1v1h-1zM50 4h1v1h-1zM56 4h1v1h-1zM57 4h1v1h-1zM58 4h1v1h-1zM59 4h1v1h-1zM90 4h1v1h-1zM8 5h1v1h-1zM15 5h1v1h-1zM22 5h1v1h-1zM25 5h1v1h-1zM34 5h1v1h-1zM42 5h1v1h-1zM47 5h1v1h-1zM55 5h1v1h-1zM62 5h1v1h-1zM64 5h1v1h-1zM76 5h1v1h-1zM82 5h1v1h-1zM84 5h1v1h-1zM15 6h1v1h-1zM17 6h1v1h-1zM20 6h1v1h-1zM28 6h1v1h-1zM31 6h1v1h-1zM36 6h1v1h-1zM45 6h1v1h-1zM56 6h1v1h-1zM60 6h1v1h-1zM78 6h1v1h-1zM79 6h1v1h-1zM89 6h1v1h-1zM17 7h1v1h-1zM22 7h1v1h-1zM23 7h1v1h-1zM25 7h1v1h-1zM31 7h1v1h-1zM34 7h1v1h-1zM37 7h1v1h-1zM53 7h1v1h-1zM58 7h1v1h-1zM65 7h1v1h-1zM73 7h1v1h-1zM2 8h1v1h-1zM18 8h1v1h-1zM27 8h1v1h-1zM30 8h1v1h-1zM38 8h1v1h-1zM41 8h1v1h-1zM57 8h1v1h-1zM66 8h1v1h-1zM79 8h1v1h-1zM87 8h1v1h-1zM25 9h1v1h-1zM27 9h1v1h-1zM28 9h1v1h-1zM31 9h1v1h-1zM35 9h1v1h-1zM36 9h1v1h-1zM41 9h1v1h-1zM52 9h1v1h-1zM57 9h1v1h-1zM60 9h1v1h-1zM68 9h1v1h-1zM74 9h1v1h-1zM75 9h1v1h-1zM93 9h1v1h-1zM94 9h1v1h-1zM5 10h1v1h-1zM14 10h1v1h-1zM18 10h1v1h-1zM19 10h1v1h-1zM28 10h1v1h-1zM30 10h1v1h-1zM32 10h1v1h-1zM44 10h1v1h-1zM54 10h1v1h-1zM63 10h1v1h-1zM78 10h1v1h-1zM93 10h1v1h-1zM14 11h1v1h-1zM18 11h1v1h-1zM24 11h1v1h-1zM27 11h1v1h-1zM29 11h1v1h-1zM32 11h1v1h-1zM35 11h1v1h-1zM52 11h1v1h-1zM60 11h1v1h-1zM61 11h1v1h-1zM64 11h1v1h-1zM65 11h1v1h-1zM68 11h1v1h-1zM70 11h1v1h-1zM78 11h1v1h-1zM84 11h1v1h-1zM92 11h1v1h-1zM6 12h1v1h-1zM17 12h1v1h-1zM18 12h1v1h-1zM20 12h1v1h-1zM22 12h1v1h-1zM25 12h1v1h-1zM30 12h1v1h-1zM31 12h1v1h-1zM33 12h1v1h-1zM35 12h1v1h-1zM39 12h1v1h-1zM46 12h1v1h-1zM51 12h1v1h-1zM53 12h1v1h-1zM56 12h1v1h-1zM57 12h1v1h-1zM58 12h1v1h-1zM60 12h1v1h-1zM92 12h1v1h-1zM9 13h1v1h-1zM14 13h1v1h-1zM15 13h1v1h-1zM17 13h1v1h-1zM18 13h1v1h-1zM25 13h1v1h-1zM34 13h1v1h-1zM50 13h1v1h-1zM52 13h1v1h-1zM62 13h1v1h-1zM72 13h1v1h-1zM81 13h1v1h-1zM90 13h1v1h-1zM15 14h1v1h-1zM17 14h1v1h-1zM18 14h1v1h-1zM25 14h1v1h-1zM26 14h1v1h-1zM27 14h1v1h-1zM29 14h1v1h-1zM33 14h1v1h-1zM34 14h1v1h-1zM39 14h1v1h-1zM41 14h1v1h-1zM45 14h1v1h-1zM68 14h1v1h-1zM81 14h1v1h-1zM83 14h1v1h-1zM89 14h1v1h-1zM35 15h1v1h-1zM53 15h1v1h-1zM15 16h1v1h-1zM23 16h1v1h-1zM26 16h1v1h-1zM34 16h1v1h-1zM43 16h1v1h-1zM48 16h1v1h-1zM61 16h1v1h-1zM78 16h1v1h-1zM87 16h1v1h-1zM15 17h1v1h-1zM26 17h1v1h-1zM35 17h1v1h-1zM44 17h1v1h-1zM57 17h1v1h-1zM66 17h1v1h-1zM72 17h1v1h-1zM83 17h1v1h-1zM88 17h1v1h-1zM92 17h1v1h-1zM94 17h1v1h-1zM13 18h1v1h-1zM16 18h1v1h-1zM17 18h1v1h-1zM21 18h1v1h-1zM27 18h1v1h-1zM28 18h1v1h-1zM31 18h1v1h-1zM33 18h1v1h-1zM37 18h1v1h-1zM39 18h1v1h-1zM57 18h1v1h-1zM70 18h1v1h-1zM71 18h1v1h-1zM80 18h1v1h-1zM13 19h1v1h-1zM21 19h1v1h-1zM22 19h1v1h-1zM27 19h1v1h-1zM35 19h1v1h-1zM36 19h1v1h-1zM46 19h1v1h-1zM53 19h1v1h-1zM61 19h1v1h-1zM62 19h1v1h-1zM66 19h1v1h-1zM77 19h1v1h-1zM25 20h1v1h-1zM32 20h1v1h-1zM35 20h1v1h-1zM41 20h1v1h-1zM43 20h1v1h-1zM52 20h1v1h-1zM58 20h1v1h-1zM5 21h1v1h-1zM14 21h1v1h-1zM15 21h1v1h-1zM16 21h1v1h-1zM20 21h1v1h-1zM21 21h1v1h-1zM25 21h1v1h-1zM34 21h1v1h-1zM41 21h1v1h-1zM49 21h1v1h-1zM62 21h1v1h-1zM67 21h1v1h-1zM71 21h1v1h-1zM74 21h1v1h-1zM3 22h1v1h-1zM24 22h1v1h-1zM28 22h1v1h-1zM38 22h1v1h-1zM54 22h1v1h-1zM59 22h1v1h-1zM64 22h1v1h-1zM66 22h1v1h-1zM78 22h1v1h-1zM24 23h1v1h-1zM26 23h1v1h-1zM32 23h1v1h-1zM34 23h1v1h-1zM46 23h1v1h-1zM53 23h1v1h-1zM65 23h1v1h-1zM66 23h1v1h-1zM14 24h1v1h-1zM20 24h1v1h-1zM22 24h1v1h-1zM26 24h1v1h-1zM32 24h1v1h-1zM34 24h1v1h-1zM42 24h1v1h-1zM64 24h1v1h-1zM91 24h1v1h-1zM11 25h1v1h-1zM24 25h1v1h-1zM39 25h1v1h-1zM41 25h1v1h-1zM42 25h1v1h-1zM43 25h1v1h-1zM44 25h1v1h-1zM56 25h1v1h-1zM57 25h1v1h-1zM64 25h1v1h-1zM65 25h1v1h-1zM71 25h1v1h-1zM78 25h1v1h-1zM88 25h1v1h-1zM24 26h1v1h-1zM26 26h1v1h-1zM28 26h1v1h-1zM30 26h1v1h-1zM33 26h1v1h-1zM36 26h1v1h-1zM37 26h1v1h-1zM40 26h1v1h-1zM49 26h1v1h-1zM54 26h1v1h-1zM55 26h1v1h-1zM59 26h1v1h-1zM66 26h1v1h-1zM67 26h1v1h-1zM68 26h1v1h-1zM79 26h1v1h-1zM85 26h1v1h-1zM91 26h1v1h-1zM92 26h1v1h-1zM14 27h1v1h-1zM15 27h1v1h-1zM33 27h1v1h-1zM35 27h1v1h-1zM40 27h1v1h-1zM41 27h1v1h-1zM43 27h1v1h-1zM45 27h1v1h-1zM47 27h1v1h-1zM56 27h1v1h-1zM65 27h1v1h-1zM66 27h1v1h-1zM69 27h1v1h-1zM76 27h1v1h-1zM78 27h1v1h-1zM94 27h1v1h-1zM13 28h1v1h-1zM17 28h1v1h-1zM20 28h1v1h-1zM24 28h1v1h-1zM28 28h1v1h-1zM30 28h1v1h-1zM37 28h1v1h-1zM38 28h1v1h-1zM39 28h1v1h-1zM45 28h1v1h-1zM47 28h1v1h-1zM54 28h1v1h-1zM58 28h1v1h-1zM60 28h1v1h-1zM61 28h1v1h-1zM65 28h1v1h-1zM66 28h1v1h-1zM92 28h1v1h-1zM5 29h1v1h-1zM27 29h1v1h-1zM29 29h1v1h-1zM39 29h1v1h-1zM47 29h1v1h-1zM54 29h1v1h-1zM64 29h1v1h-1zM66 29h1v1h-1zM67 29h1v1h-1zM71 29h1v1h-1zM83 29h1v1h-1zM91 29h1v1h-1zM15 30h1v1h-1zM28 30h1v1h-1zM29 30h1v1h-1zM31 30h1v1h-1zM43 30h1v1h-1zM69 30h1v1h-1zM70 30h1v1h-1zM75 30h1v1h-1zM79 30h1v1h-1zM16 31h1v1h-1zM18 31h1v1h-1zM39 31h1v1h-1zM48 31h1v1h-1zM60 31h1v1h-1zM61 31h1v1h-1zM63 31h1v1h-1zM64 31h1v1h-1zM66 31h1v1h-1zM67 31h1v1h-1zM72 31h1v1h-1zM94 31h1v1h-1zM15 32h1v1h-1zM19 32h1v1h-1zM32 32h1v1h-1zM36 32h1v1h-1zM45 32h1v1h-1zM61 32h1v1h-1zM63 32h1v1h-1zM68 32h1v1h-1zM78 32h1v1h-1zM85 32h1v1h-1zM28 33h1v1h-1zM31 33h1v1h-1zM57 33h1v1h-1zM58 33h1v1h-1zM62 33h1v1h-1zM63 33h1v1h-1zM70 33h1v1h-1zM75 33h1v1h-1zM79 33h1v1h-1zM85 33h1v1h-1zM20 34h1v1h-1zM29 34h1v1h-1zM40 34h1v1h-1zM67 34h1v1h-1zM69 34h1v1h-1zM71 34h1v1h-1zM76 34h1v1h-1zM82 34h1v1h-1zM94 34h1v1h-1zM15 35h1v1h-1zM26 35h1v1h-1zM27 35h1v1h-1zM31 35h1v1h-1zM33 35h1v1h-1zM36 35h1v1h-1zM37 35h1v1h-1zM50 35h1v1h-1zM60 35h1v1h-1zM65 35h1v1h-1zM17 36h1v1h-1zM20 36h1v1h-1zM22 36h1v1h-1zM28 36h1v1h-1zM29 36h1v1h-1zM32 36h1v1h-1zM43 36h1v1h-1zM48 36h1v1h-1zM57 36h1v1h-1zM73 36h1v1h-1zM77 36h1v1h-1zM80 36h1v1h-1zM90 36h1v1h-1zM20 37h1v1h-1zM22 37h1v1h-1zM23 37h1v1h-1zM39 37h1v1h-1zM41 37h1v1h-1zM47 37h1v1h-1zM53 37h1v1h-1zM55 37h1v1h-1zM57 37h1v1h-1zM59 37h1v1h-1zM61 37h1v1h-1zM70 37h1v1h-1zM71 37h1v1h-1zM72 37h1v1h-1zM74 37h1v1h-1zM94 37h1v1h-1zM16 38h1v1h-1zM21 38h1v1h-1zM23 38h1v1h-1zM25 38h1v1h-1zM32 38h1v1h-1zM33 38h1v1h-1zM43 38h1v1h-1zM76 38h1v1h-1zM77 38h1v1h-1zM84 38h1v1h-1zM8 39h1v1h-1zM15 39h1v1h-1zM34 39h1v1h-1zM44 39h1v1h-1zM46 39h1v1h-1zM47 39h1v1h-1zM48 39h1v1h-1zM53 39h1v1h-1zM57 39h1v1h-1zM64 39h1v1h-1zM67 39h1v1h-1zM68 39h1v1h-1zM92 39h1v1h-1zM13 40h1v1h-1zM14 40h1v1h-1zM16 40h1v1h-1zM36 40h1v1h-1zM40 40h1v1h-1zM47 40h1v1h-1zM48 40h1v1h-1zM62 40h1v1h-1zM69 40h1v1h-1zM76 40h1v1h-1zM13 41h1v1h-1zM16 41h1v1h-1zM25 41h1v1h-1zM26 41h1v1h-1zM30 41h1v1h-1zM33 41h1v1h-1zM60 41h1v1h-1zM63 41h1v1h-1zM65 41h1v1h-1zM71 41h1v1h-1zM76 41h1v1h-1zM78 41h1v1h-1zM79 41h1v1h-1zM80 41h1v1h-1zM82 41h1v1h-1zM86 41h1v1h-1zM13 42h1v1h-1zM15 42h1v1h-1zM16 42h1v1h-1zM17 42h1v1h-1zM81 42h1v1h-1zM83 42h1v1h-1zM15 43h1v1h-1zM16 43h1v1h-1zM19 43h1v1h-1zM22 43h1v1h-1zM25 43h1v1h-1zM26 43h1v1h-1zM37 43h1v1h-1zM38 43h1v1h-1zM40 43h1v1h-1zM44 43h1v1h-1zM45 43h1v1h-1zM58 43h1v1h-1zM59 43h1v1h-1zM73 43h1v1h-1zM74 43h1v1h-1zM22 44h1v1h-1zM26 44h1v1h-1zM34 44h1v1h-1zM41 44h1v1h-1zM44 44h1v1h-1zM49 44h1v1h-1zM59 44h1v1h-1zM68 44h1v1h-1zM72 44h1v1h-1zM86 44h1v1h-1zM87 44h1v1h-1zM91 44h1v1h-1zM16 45h1v1h-1zM31 45h1v1h-1zM33 45h1v1h-1zM35 45h1v1h-1zM53 45h1v1h-1zM65 45h1v1h-1zM67 45h1v1h-1zM68 45h1v1h-1zM72 45h1v1h-1zM75 45h1v1h-1zM17 46h1v1h-1zM18 46h1v1h-1zM23 46h1v1h-1zM35 46h1v1h-1zM39 46h1v1h-1zM40 46h1v1h-1zM42 46h1v1h-1zM44 46h1v1h-1zM45 46h1v1h-1zM52 46h1v1h-1zM57 46h1v1h-1zM59 46h1v1h-1zM61 46h1v1h-1zM64 46h1v1h-1zM83 46h1v1h-1zM86 46h1v1h-1zM88 46h1v1h-1zM90 46h1v1h-1zM18 47h1v1h-1zM63 47h1v1h-1zM77 47h1v1h-1zM85 47h1v1h-1zM86 47h1v1h-1zM87 47h1v1h-1zM4 48h1v1h-1zM70 48h1v1h-1zM85 48h1v1h-1zM1 49h1v1h-1zM85 49h1v1h-1zM81 50h1v1h-1zM86 50h1v1h-1zM91 50h1v1h-1zM31 51h1v1h-1zM91 51h1v1h-1zM94 51h1v1h-1zM11 52h1v1h-1zM20 52h1v1h-1zM31 52h1v1h-1zM35 52h1v1h-1zM79 52h1v1h-1zM85 52h1v1h-1zM1 53h1v1h-1zM79 53h1v1h-1zM83 53h1v1h-1zM5 54h1v1h-1zM17 54h1v1h-1zM50 54h1v1h-1zM58 54h1v1h-1zM64 54h1v1h-1zM93 54h1v1h-1zM5 55h1v1h-1zM81 55h1v1h-1zM89 55h1v1h-1zM61 56h1v1h-1zM90 56h1v1h-1zM91 56h1v1h-1zM60 57h1v1h-1zM66 57h1v1h-1zM89 58h1v1h-1zM92 58h1v1h-1zM19 59h1v1h-1zM23 59h1v1h-1zM27 59h1v1h-1zM34 59h1v1h-1zM36 59h1v1h-1zM38 59h1v1h-1zM45 59h1v1h-1zM47 59h1v1h-1zM48 59h1v1h-1zM80 59h1v1h-1zM28 60h1v1h-1zM31 60h1v1h-1zM33 60h1v1h-1zM45 60h1v1h-1zM68 60h1v1h-1zM77 60h1v1h-1zM84 60h1v1h-1zM17 61h1v1h-1zM18 61h1v1h-1zM26 61h1v1h-1zM32 61h1v1h-1zM34 61h1v1h-1zM37 61h1v1h-1zM42 61h1v1h-1zM48 61h1v1h-1zM54 61h1v1h-1zM63 61h1v1h-1zM65 61h1v1h-1zM84 61h1v1h-1zM23 62h1v1h-1zM25 62h1v1h-1zM28 62h1v1h-1zM37 62h1v1h-1zM43 62h1v1h-1zM46 62h1v1h-1zM47 62h1v1h-1zM55 62h1v1h-1zM56 62h1v1h-1zM58 62h1v1h-1zM68 62h1v1h-1zM77 62h1v1h-1zM88 62h1v1h-1zM33 63h1v1h-1zM39 63h1v1h-1zM42 63h1v1h-1zM44 63h1v1h-1zM45 63h1v1h-1zM46 63h1v1h-1zM65 63h1v1h-1zM72 63h1v1h-1zM88 63h1v1h-1zM23 64h1v1h-1zM32 64h1v1h-1zM36 64h1v1h-1zM37 64h1v1h-1zM38 64h1v1h-1zM42 64h1v1h-1zM45 64h1v1h-1zM46 64h1v1h-1zM82 64h1v1h-1zM15 65h1v1h-1zM17 65h1v1h-1zM21 65h1v1h-1zM29 65h1v1h-1zM35 65h1v1h-1zM44 65h1v1h-1zM47 65h1v1h-1zM57 65h1v1h-1zM80 65h1v1h-1zM88 65h1v1h-1zM22 66h1v1h-1zM25 66h1v1h-1zM31 66h1v1h-1zM41 66h1v1h-1zM44 66h1v1h-1zM47 66h1v1h-1zM52 66h1v1h-1zM58 66h1v1h-1zM70 66h1v1h-1zM74 66h1v1h-1zM94 66h1v1h-1zM16 67h1v1h-1zM27 67h1v1h-1zM31 67h1v1h-1zM35 67h1v1h-1zM44 67h1v1h-1zM49 67h1v1h-1zM54 67h1v1h-1zM80 67h1v1h-1zM82 67h1v1h-1zM86 67h1v1h-1zM92 67h1v1h-1zM17 68h1v1h-1zM30 68h1v1h-1zM31 68h1v1h-1zM33 68h1v1h-1zM34 68h1v1h-1zM36 68h1v1h-1zM41 68h1v1h-1zM42 68h1v1h-1zM46 68h1v1h-1zM86 68h1v1h-1zM91 68h1v1h-1zM15 69h1v1h-1zM37 69h1v1h-1zM38 69h1v1h-1zM39 69h1v1h-1zM40 69h1v1h-1zM42 69h1v1h-1zM44 69h1v1h-1zM51 69h1v1h-1zM52 69h1v1h-1zM55 69h1v1h-1zM57 69h1v1h-1zM60 69h1v1h-1zM65 69h1v1h-1zM77 69h1v1h-1zM79 69h1v1h-1zM80 69h1v1h-1zM90 69h1v1h-1zM7 70h1v1h-1zM13 70h1v1h-1zM15 70h1v1h-1zM18 70h1v1h-1zM20 70h1v1h-1zM21 70h1v1h-1zM23 70h1v1h-1zM24 70h1v1h-1zM29 70h1v1h-1zM33 70h1v1h-1zM37 70h1v1h-1zM39 70h1v1h-1zM51 70h1v1h-1zM57 70h1v1h-1zM75 70h1v1h-1zM80 70h1v1h-1zM83 70h1v1h-1zM89 70h1v1h-1zM18 71h1v1h-1zM24 71h1v1h-1zM43 71h1v1h-1zM44 71h1v1h-1zM46 71h1v1h-1zM48 71h1v1h-1zM50 71h1v1h-1zM53 71h1v1h-1zM58 71h1v1h-1zM73 71h1v1h-1zM84 71h1v1h-1zM18 72h1v1h-1zM19 72h1v1h-1zM25 72h1v1h-1zM34 72h1v1h-1zM41 72h1v1h-1zM44 72h1v1h-1zM45 72h1v1h-1zM56 72h1v1h-1zM61 72h1v1h-1zM62 72h1v1h-1zM76 72h1v1h-1zM79 72h1v1h-1zM80 72h1v1h-1zM16 73h1v1h-1zM32 73h1v1h-1zM35 73h1v1h-1zM37 73h1v1h-1zM48 73h1v1h-1zM49 73h1v1h-1zM51 73h1v1h-1zM56 73h1v1h-1zM66 73h1v1h-1zM67 73h1v1h-1zM68 73h1v1h-1zM76 73h1v1h-1zM21 74h1v1h-1zM22 74h1v1h-1zM27 74h1v1h-1zM42 74h1v1h-1zM45 74h1v1h-1zM53 74h1v1h-1zM58 74h1v1h-1zM59 74h1v1h-1zM68 74h1v1h-1zM77 74h1v1h-1zM92 74h1v1h-1zM14 75h1v1h-1zM22 75h1v1h-1zM26 75h1v1h-1zM37 75h1v1h-1zM43 75h1v1h-1zM46 75h1v1h-1zM54 75h1v1h-1zM57 75h1v1h-1zM60 75h1v1h-1zM65 75h1v1h-1zM66 75h1v1h-1zM71 75h1v1h-1zM72 75h1v1h-1zM75 75h1v1h-1zM85 75h1v1h-1zM86 75h1v1h-1zM14 76h1v1h-1zM28 76h1v1h-1zM31 76h1v1h-1zM35 76h1v1h-1zM42 76h1v1h-1zM45 76h1v1h-1zM46 76h1v1h-1zM50 76h1v1h-1zM51 76h1v1h-1zM52 76h1v1h-1zM55 76h1v1h-1zM58 76h1v1h-1zM77 76h1v1h-1zM79 76h1v1h-1zM80 76h1v1h-1zM84 76h1v1h-1zM85 76h1v1h-1zM88 76h1v1h-1zM90 76h1v1h-1zM91 76h1v1h-1zM92 76h1v1h-1zM93 76h1v1h-1zM16 77h1v1h-1zM24 77h1v1h-1zM27 77h1v1h-1zM30 77h1v1h-1zM35 77h1v1h-1zM37 77h1v1h-1zM42 77h1v1h-1zM43 77h1v1h-1zM45 77h1v1h-1zM48 77h1v1h-1zM50 77h1v1h-1zM53 77h1v1h-1zM73 77h1v1h-1zM77 77h1v1h-1zM78 77h1v1h-1zM84 77h1v1h-1zM85 77h1v1h-1zM91 77h1v1h-1zM92 77h1v1h-1zM19 78h1v1h-1zM23 78h1v1h-1zM25 78h1v1h-1zM27 78h1v1h-1zM31 78h1v1h-1zM32 78h1v1h-1zM34 78h1v1h-1zM38 78h1v1h-1zM40 78h1v1h-1zM41 78h1v1h-1zM43 78h1v1h-1zM44 78h1v1h-1zM51 78h1v1h-1zM53 78h1v1h-1zM59 78h1v1h-1zM60 78h1v1h-1zM61 78h1v1h-1zM71 78h1v1h-1zM77 78h1v1h-1zM78 78h1v1h-1zM79 78h1v1h-1zM81 78h1v1h-1zM82 78h1v1h-1zM83 78h1v1h-1zM85 78h1v1h-1zM87 78h1v1h-1zM91 78h1v1h-1zM34 79h1v1h-1zM36 79h1v1h-1zM38 79h1v1h-1zM39 79h1v1h-1zM51 79h1v1h-1zM55 79h1v1h-1zM57 79h1v1h-1zM71 79h1v1h-1zM73 79h1v1h-1zM75 79h1v1h-1zM79 79h1v1h-1zM81 79h1v1h-1zM85 79h1v1h-1zM88 79h1v1h-1zM91 79h1v1h-1zM94 79h1v1h-1zM13 80h1v1h-1zM20 80h1v1h-1zM22 80h1v1h-1zM24 80h1v1h-1zM28 80h1v1h-1zM30 80h1v1h-1zM33 80h1v1h-1zM37 80h1v1h-1zM39 80h1v1h-1zM41 80h1v1h-1zM46 80h1v1h-1zM48 80h1v1h-1zM50 80h1v1h-1zM56 80h1v1h-1zM59 80h1v1h-1zM66 80h1v1h-1zM70 80h1v1h-1zM79 80h1v1h-1zM84 80h1v1h-1zM85 80h1v1h-1zM16 81h1v1h-1zM17 81h1v1h-1zM19 81h1v1h-1zM21 81h1v1h-1zM23 81h1v1h-1zM31 81h1v1h-1zM34 81h1v1h-1zM35 81h1v1h-1zM38 81h1v1h-1zM49 81h1v1h-1zM51 81h1v1h-1zM55 81h1v1h-1zM56 81h1v1h-1zM84 81h1v1h-1zM90 81h1v1h-1zM91 81h1v1h-1zM18 82h1v1h-1zM25 82h1v1h-1zM35 82h1v1h-1zM37 82h1v1h-1zM40 82h1v1h-1zM43 82h1v1h-1zM45 82h1v1h-1zM46 82h1v1h-1zM48 82h1v1h-1zM49 82h1v1h-1zM66 82h1v1h-1zM76 82h1v1h-1zM77 82h1v1h-1zM86 82h1v1h-1zM89 82h1v1h-1zM21 83h1v1h-1zM24 83h1v1h-1zM28 83h1v1h-1zM32 83h1v1h-1zM33 83h1v1h-1zM37 83h1v1h-1zM39 83h1v1h-1zM40 83h1v1h-1zM43 83h1v1h-1zM47 83h1v1h-1zM48 83h1v1h-1zM55 83h1v1h-1zM57 83h1v1h-1zM59 83h1v1h-1zM75 83h1v1h-1zM78 83h1v1h-1zM81 83h1v1h-1zM83 83h1v1h-1zM91 83h1v1h-1zM17 84h1v1h-1zM24 84h1v1h-1zM26 84h1v1h-1zM32 84h1v1h-1zM40 84h1v1h-1zM44 84h1v1h-1zM53 84h1v1h-1zM55 84h1v1h-1zM59 84h1v1h-1zM60 84h1v1h-1zM66 84h1v1h-1zM75 84h1v1h-1zM77 84h1v1h-1zM85 84h1v1h-1zM89 84h1v1h-1zM90 84h1v1h-1zM91 84h1v1h-1zM10 85h1v1h-1zM11 85h1v1h-1zM17 85h1v1h-1zM31 85h1v1h-1zM36 85h1v1h-1zM45 85h1v1h-1zM47 85h1v1h-1zM56 85h1v1h-1zM58 85h1v1h-1zM60 85h1v1h-1zM61 85h1v1h-1zM64 85h1v1h-1zM76 85h1v1h-1zM81 85h1v1h-1zM82 85h1v1h-1zM84 85h1v1h-1zM85 85h1v1h-1zM92 85h1v1h-1zM13 86h1v1h-1zM17 86h1v1h-1zM30 86h1v1h-1zM33 86h1v1h-1zM34 86h1v1h-1zM50 86h1v1h-1zM55 86h1v1h-1zM86 86h1v1h-1zM88 86h1v1h-1zM92 86h1v1h-1zM94 86h1v1h-1zM16 87h1v1h-1zM18 87h1v1h-1zM27 87h1v1h-1zM33 87h1v1h-1zM34 87h1v1h-1zM35 87h1v1h-1zM36 87h1v1h-1zM38 87h1v1h-1zM40 87h1v1h-1zM45 87h1v1h-1zM53 87h1v1h-1zM54 87h1v1h-1zM55 87h1v1h-1zM56 87h1v1h-1zM60 87h1v1h-1zM61 87h1v1h-1zM82 87h1v1h-1zM85 87h1v1h-1zM88 87h1v1h-1zM22 88h1v1h-1zM25 88h1v1h-1zM26 88h1v1h-1zM27 88h1v1h-1zM29 88h1v1h-1zM31 88h1v1h-1zM46 88h1v1h-1zM50 88h1v1h-1zM51 88h1v1h-1zM56 88h1v1h-1zM65 88h1v1h-1zM74 88h1v1h-1zM76 88h1v1h-1zM90 88h1v1h-1zM94 88h1v1h-1zM23 89h1v1h-1zM27 89h1v1h-1zM30 89h1v1h-1zM31 89h1v1h-1zM40 89h1v1h-1zM44 89h1v1h-1zM50 89h1v1h-1zM56 89h1v1h-1zM59 89h1v1h-1zM60 89h1v1h-1zM61 89h1v1h-1zM75 89h1v1h-1zM78 89h1v1h-1zM80 89h1v1h-1zM82 89h1v1h-1zM84 89h1v1h-1zM89 89h1v1h-1zM30 90h1v1h-1zM38 90h1v1h-1zM39 90h1v1h-1zM40 90h1v1h-1zM44 90h1v1h-1zM52 90h1v1h-1zM57 90h1v1h-1zM60 90h1v1h-1zM72 90h1v1h-1zM84 90h1v1h-1zM85 90h1v1h-1zM90 90h1v1h-1zM91 90h1v1h-1zM93 90h1v1h-1zM18 91h1v1h-1zM21 91h1v1h-1zM25 91h1v1h-1zM26 91h1v1h-1zM29 91h1v1h-1zM32 91h1v1h-1zM36 91h1v1h-1zM40 91h1v1h-1zM43 91h1v1h-1zM53 91h1v1h-1zM58 91h1v1h-1zM60 91h1v1h-1zM63 91h1v1h-1zM65 91h1v1h-1zM81 91h1v1h-1zM86 91h1v1h-1zM91 91h1v1h-1zM94 91h1v1h-1zM13 92h1v1h-1zM14 92h1v1h-1zM23 92h1v1h-1zM24 92h1v1h-1zM29 92h1v1h-1zM30 92h1v1h-1zM31 92h1v1h-1zM36 92h1v1h-1zM39 92h1v1h-1zM40 92h1v1h-1zM53 92h1v1h-1zM57 92h1v1h-1zM61 92h1v1h-1zM62 92h1v1h-1zM85 92h1v1h-1zM16 93h1v1h-1zM18 93h1v1h-1zM27 93h1v1h-1zM45 93h1v1h-1zM49 93h1v1h-1zM54 93h1v1h-1zM58 93h1v1h-1zM82 93h1v1h-1zM90 93h1v1h-1zM91 93h1v1h-1zM15 94h1v1h-1zM20 94h1v1h-1zM21 94h1v1h-1zM23 94h1v1h-1zM24 94h1v1h-1zM25 94h1v1h-1zM28 94h1v1h-1zM29 94h1v1h-1zM31 94h1v1h-1zM32 94h1v1h-1zM34 94h1v1h-1zM42 94h1v1h-1zM43 94h1v1h-1zM44 94h1v1h-1zM56 94h1v1h-1zM59 94h1v1h-1zM84 94h1v1h-1zM87 94h1v1h-1zM1 95h1v1h-1zM20 95h1v1h-1zM21 95h1v1h-1zM27 95h1v1h-1zM37 95h1v1h-1zM39 95h1v1h-1zM42 95h1v1h-1zM43 95h1v1h-1zM45 95h1v1h-1zM83 95h1v1h-1zM86 95h1v1h-1zM21 96h1v1h-1zM28 96h1v1h-1zM29 96h1v1h-1zM30 96h1v1h-1zM31 96h1v1h-1zM35 96h1v1h-1zM39 96h1v1h-1zM42 96h1v1h-1zM43 96h1v1h-1zM49 96h1v1h-1zM58 96h1v1h-1zM73 96h1v1h-1zM75 96h1v1h-1zM79 96h1v1h-1zM84 96h1v1h-1zM23 97h1v1h-1zM34 97h1v1h-1zM41 97h1v1h-1zM42 97h1v1h-1zM44 97h1v1h-1zM46 97h1v1h-1zM54 97h1v1h-1zM61 97h1v1h-1zM63 97h1v1h-1zM65 97h1v1h-1zM84 97h1v1h-1zM85 97h1v1h-1zM91 97h1v1h-1zM18 98h1v1h-1zM19 98h1v1h-1zM23 98h1v1h-1zM24 98h1v1h-1zM27 98h1v1h-1zM36 98h1v1h-1zM39 98h1v1h-1zM41 98h1v1h-1zM48 98h1v1h-1zM54 98h1v1h-1zM63 98h1v1h-1zM64 98h1v1h-1zM67 98h1v1h-1zM91 98h1v1h-1zM92 98h1v1h-1zM94 98h1v1h-1zM11 99h1v1h-1zM13 99h1v1h-1zM17 99h1v1h-1zM18 99h1v1h-1zM23 99h1v1h-1zM24 99h1v1h-1zM38 99h1v1h-1zM39 99h1v1h-1zM41 99h1v1h-1zM43 99h1v1h-1zM50 99h1v1h-1zM63 99h1v1h-1zM81 99h1v1h-1zM13 100h1v1h-1zM19 100h1v1h-1zM27 100h1v1h-1zM31 100h1v1h-1zM32 100h1v1h-1zM33 100h1v1h-1zM42 100h1v1h-1zM50 100h1v1h-1zM52 100h1v1h-1zM54 100h1v1h-1zM55 100h1v1h-1zM63 100h1v1h-1zM72 100h1v1h-1zM93 100h1v1h-1zM1 101h1v1h-1zM16 101h1v1h-1zM21 101h1v1h-1zM25 101h1v1h-1zM28 101h1v1h-1zM33 101h1v1h-1zM36 101h1v1h-1zM37 101h1v1h-1zM45 101h1v1h-1zM46 101h1v1h-1zM49 101h1v1h-1zM53 101h1v1h-1zM58 101h1v1h-1zM69 101h1v1h-1zM77 101h1v1h-1zM85 101h1v1h-1zM87 101h1v1h-1zM90 101h1v1h-1zM25 102h1v1h-1zM26 102h1v1h-1zM31 102h1v1h-1zM32 102h1v1h-1zM39 102h1v1h-1zM43 102h1v1h-1zM46 102h1v1h-1zM48 102h1v1h-1zM52 102h1v1h-1zM55 102h1v1h-1zM56 102h1v1h-1zM57 102h1v1h-1zM62 102h1v1h-1zM82 102h1v1h-1zM87 102h1v1h-1zM94 102h1v1h-1zM1 103h1v1h-1zM15 103h1v1h-1zM18 103h1v1h-1zM23 103h1v1h-1zM27 103h1v1h-1zM32 103h1v1h-1zM34 103h1v1h-1zM36 103h1v1h-1zM37 103h1v1h-1zM40 103h1v1h-1zM41 103h1v1h-1zM42 103h1v1h-1zM44 103h1v1h-1zM45 103h1v1h-1zM60 103h1v1h-1zM66 103h1v1h-1zM81 103h1v1h-1zM82 103h1v1h-1zM83 103h1v1h-1zM89 103h1v1h-1zM90 103h1v1h-1zM93 103h1v1h-1zM10 104h1v1h-1zM23 104h1v1h-1zM25 104h1v1h-1zM26 104h1v1h-1zM30 104h1v1h-1zM31 104h1v1h-1zM46 104h1v1h-1zM52 104h1v1h-1zM54 104h1v1h-1zM70 104h1v1h-1zM74 104h1v1h-1zM75 104h1v1h-1zM76 104h1v1h-1zM80 104h1v1h-1zM82 104h1v1h-1zM83 104h1v1h-1zM86 104h1v1h-1zM19 105h1v1h-1zM22 105h1v1h-1zM29 105h1v1h-1zM31 105h1v1h-1zM33 105h1v1h-1zM36 105h1v1h-1zM45 105h1v1h-1zM49 105h1v1h-1zM58 105h1v1h-1zM63 105h1v1h-1zM70 105h1v1h-1zM72 105h1v1h-1zM87 105h1v1h-1zM89 105h1v1h-1zM90 105h1v1h-1zM20 106h1v1h-1zM21 106h1v1h-1zM23 106h1v1h-1zM29 106h1v1h-1zM31 106h1v1h-1zM32 106h1v1h-1zM34 106h1v1h-1zM39 106h1v1h-1zM40 106h1v1h-1zM46 106h1v1h-1zM51 106h1v1h-1zM56 106h1v1h-1zM61 106h1v1h-1zM68 106h1v1h-1zM74 106h1v1h-1zM85 106h1v1h-1zM89 106h1v1h-1zM90 106h1v1h-1zM18 107h1v1h-1zM25 107h1v1h-1zM29 107h1v1h-1zM32 107h1v1h-1zM35 107h1v1h-1zM37 107h1v1h-1zM73 107h1v1h-1zM82 107h1v1h-1zM85 107h1v1h-1zM93 107h1v1h-1zM13 108h1v1h-1zM14 108h1v1h-1zM18 108h1v1h-1zM24 108h1v1h-1zM27 108h1v1h-1zM30 108h1v1h-1zM33 108h1v1h-1zM35 108h1v1h-1zM36 108h1v1h-1zM48 108h1v1h-1zM50 108h1v1h-1zM54 108h1v1h-1zM76 108h1v1h-1zM86 108h1v1h-1zM3 109h1v1h-1zM20 109h1v1h-1zM36 109h1v1h-1zM39 109h1v1h-1zM40 109h1v1h-1zM51 109h1v1h-1zM84 109h1v1h-1zM85 109h1v1h-1zM90 109h1v1h-1zM92 109h1v1h-1zM93 109h1v1h-1zM94 109h1v1h-1z"/>
<path fill="#f29276" d="M0 0h1v1h-1zM4 0h1v1h-1zM8 0h1v1h-1zM9 0h1v1h-1zM13 0h1v1h-1zM25 0h1v1h-1zM26 0h1v1h-1zM29 0h1v1h-1zM50 0h1v1h-1zM52 0h1v1h-1zM54 0h1v1h-1zM56 0h1v1h-1zM60 0h1v1h-1zM62 0h1v1h-1zM83 0h1v1h-1zM88 0h1v1h-1zM5 1h1v1h-1zM10 1h1v1h-1zM16 1h1v1h-1zM19 1h1v1h-1zM21 1h1v1h-1zM33 1h1v1h-1zM35 1h1v1h-1zM48 1h1v1h-1zM91 1h1v1h-1zM1 2h1v1h-1zM11 2h1v1h-1zM20 2h1v1h-1zM23 2h1v1h-1zM27 2h1v1h-1zM28 2h1v1h-1zM30 2h1v1h-1zM34 2h1v1h-1zM35 2h1v1h-1zM36 2h1v1h-1zM50 2h1v1h-1zM3 3h1v1h-1zM6 3h1v1h-1zM25 3h1v1h-1zM48 3h1v1h-1zM53 3h1v1h-1zM56 3h1v1h-1zM57 3h1v1h-1zM79 3h1v1h-1zM3 4h1v1h-1zM4 4h1v1h-1zM12 4h1v1h-1zM15 4h1v1h-1zM22 4h1v1h-1zM28 4h1v1h-1zM32 4h1v1h-1zM37 4h1v1h-1zM66 4h1v1h-1zM70 4h1v1h-1zM0 5h1v1h-1zM1 5h1v1h-1zM10 5h1v1h-1zM12 5h1v1h-1zM20 5h1v1h-1zM21 5h1v1h-1zM51 5h1v1h-1zM60 5h1v1h-1zM87 5h1v1h-1zM89 5h1v1h-1zM3 6h1v1h-1zM8 6h1v1h-1zM9 6h1v1h-1zM40 6h1v1h-1zM50 6h1v1h-1zM51 6h1v1h-1zM55 6h1v1h-1zM57 6h1v1h-1zM1 7h1v1h-1zM6 7h1v1h-1zM8 7h1v1h-1zM12 7h1v1h-1zM14 7h1v1h-1zM18 7h1v1h-1zM20 7h1v1h-1zM24 7h1v1h-1zM27 7h1v1h-1zM29 7h1v1h-1zM33 7h1v1h-1zM47 7h1v1h-1zM48 7h1v1h-1zM49 7h1v1h-1zM3 8h1v1h-1zM13 8h1v1h-1zM14 8h1v1h-1zM17 8h1v1h-1zM22 8h1v1h-1zM29 8h1v1h-1zM47 8h1v1h-1zM48 8h1v1h-1zM53 8h1v1h-1zM54 8h1v1h-1zM58 8h1v1h-1zM60 8h1v1h-1zM3 9h1v1h-1zM11 9h1v1h-1zM14 9h1v1h-1zM16 9h1v1h-1zM18 9h1v1h-1zM21 9h1v1h-1zM32 9h1v1h-1zM33 9h1v1h-1zM53 9h1v1h-1zM80 9h1v1h-1zM88 9h1v1h-1zM91 9h1v1h-1zM92 9h1v1h-1zM0 10h1v1h-1zM2 10h1v1h-1zM7 10h1v1h-1zM27 10h1v1h-1zM31 10h1v1h-1zM33 10h1v1h-1zM86 10h1v1h-1zM0 11h1v1h-1zM12 11h1v1h-1zM20 11h1v1h-1zM38 11h1v1h-1zM43 11h1v1h-1zM69 11h1v1h-1zM86 11h1v1h-1zM0 12h1v1h-1zM2 12h1v1h-1zM5 12h1v1h-1zM9 12h1v1h-1zM21 12h1v1h-1zM32 12h1v1h-1zM37 12h1v1h-1zM38 12h1v1h-1zM52 12h1v1h-1zM3 13h1v1h-1zM6 13h1v1h-1zM8 13h1v1h-1zM11 13h1v1h-1zM16 13h1v1h-1zM20 13h1v1h-1zM22 13h1v1h-1zM23 13h1v1h-1zM36 13h1v1h-1zM49 13h1v1h-1zM2 14h1v1h-1zM10 14h1v1h-1zM13 14h1v1h-1zM19 14h1v1h-1zM28 14h1v1h-1zM36 14h1v1h-1zM46 14h1v1h-1zM53 14h1v1h-1zM86 14h1v1h-1zM0 15h1v1h-1zM15 15h1v1h-1zM20 15h1v1h-1zM28 15h1v1h-1zM29 15h1v1h-1zM58 15h1v1h-1zM10 16h1v1h-1zM14 16h1v1h-1zM31 16h1v1h-1zM33 16h1v1h-1zM85 16h1v1h-1zM88 16h1v1h-1zM89 16h1v1h-1zM10 17h1v1h-1zM19 17h1v1h-1zM20 17h1v1h-1zM45 17h1v1h-1zM46 17h1v1h-1zM51 17h1v1h-1zM60 17h1v1h-1zM1 18h1v1h-1zM10 18h1v1h-1zM11 18h1v1h-1zM18 18h1v1h-1zM22 18h1v1h-1zM29 18h1v1h-1zM41 18h1v1h-1zM43 18h1v1h-1zM78 18h1v1h-1zM3 19h1v1h-1zM14 19h1v1h-1zM31 19h1v1h-1zM32 19h1v1h-1zM34 19h1v1h-1zM57 19h1v1h-1zM70 19h1v1h-1zM0 20h1v1h-1zM6 20h1v1h-1zM16 20h1v1h-1zM23 20h1v1h-1zM29 20h1v1h-1zM47 20h1v1h-1zM50 20h1v1h-1zM85 20h1v1h-1zM1 21h1v1h-1zM3 21h1v1h-1zM7 21h1v1h-1zM30 21h1v1h-1zM36 21h1v1h-1zM48 21h1v1h-1zM55 21h1v1h-1zM1 22h1v1h-1zM2 22h1v1h-1zM5 22h1v1h-1zM8 22h1v1h-1zM12 22h1v1h-1zM13 22h1v1h-1zM14 22h1v1h-1zM21 22h1v1h-1zM34 22h1v1h-1zM36 22h1v1h-1zM62 22h1v1h-1zM5 23h1v1h-1zM8 23h1v1h-1zM14 23h1v1h-1zM18 23h1v1h-1zM20 23h1v1h-1zM31 23h1v1h-1zM36 23h1v1h-1zM60 23h1v1h-1zM64 23h1v1h-1zM78 23h1v1h-1zM6 24h1v1h-1zM10 24h1v1h-1zM23 24h1v1h-1zM50 24h1v1h-1zM32 25h1v1h-1zM35 25h1v1h-1zM37 25h1v1h-1zM50 25h1v1h-1zM51 25h1v1h-1zM52 25h1v1h-1zM53 25h1v1h-1zM54 25h1v1h-1zM55 25h1v1h-1zM66 25h1v1h-1zM73 25h1v1h-1zM75 25h1v1h-1zM81 25h1v1h-1zM22 26h1v1h-1zM35 26h1v1h-1zM38 26h1v1h-1zM39 26h1v1h-1zM42 26h1v1h-1zM43 26h1v1h-1zM48 26h1v1h-1zM56 26h1v1h-1zM57 26h1v1h-1zM73 26h1v1h-1zM75 26h1v1h-1zM23 27h1v1h-1zM26 27h1v1h-1zM27 27h1v1h-1zM30 27h1v1h-1zM39 27h1v1h-1zM52 27h1v1h-1zM64 27h1v1h-1zM72 27h1v1h-1zM79 27h1v1h-1zM14 28h1v1h-1zM15 28h1v1h-1zM22 28h1v1h-1zM23 28h1v1h-1zM33 28h1v1h-1zM35 28h1v1h-1zM44 28h1v1h-1zM48 28h1v1h-1zM49 28h1v1h-1zM57 28h1v1h-1zM59 28h1v1h-1zM63 28h1v1h-1zM70 28h1v1h-1zM24 29h1v1h-1zM26 29h1v1h-1zM30 29h1v1h-1zM34 29h1v1h-1zM37 29h1v1h-1zM40 29h1v1h-1zM43 29h1v1h-1zM44 29h1v1h-1zM49 29h1v1h-1zM51 29h1v1h-1zM52 29h1v1h-1zM21 30h1v1h-1zM39 30h1v1h-1zM54 30h1v1h-1zM58 30h1v1h-1zM66 30h1v1h-1zM73 30h1v1h-1zM88 30h1v1h-1zM89 30h1v1h-1zM94 30h1v1h-1zM19 31h1v1h-1zM24 31h1v1h-1zM26 31h1v1h-1zM27 31h1v1h-1zM33 31h1v1h-1zM38 31h1v1h-1zM43 31h1v1h-1zM45 31h1v1h-1zM50 31h1v1h-1zM57 31h1v1h-1zM65 31h1v1h-1zM22 32h1v1h-1zM29 32h1v1h-1zM33 32h1v1h-1zM34 32h1v1h-1zM41 32h1v1h-1zM58 32h1v1h-1zM59 32h1v1h-1zM69 32h1v1h-1zM71 32h1v1h-1zM72 32h1v1h-1zM75 32h1v1h-1zM76 32h1v1h-1zM82 32h1v1h-1zM17 33h1v1h-1zM23 33h1v1h-1zM25 33h1v1h-1zM29 33h1v1h-1zM38 33h1v1h-1zM49 33h1v1h-1zM53 33h1v1h-1zM65 33h1v1h-1zM69 33h1v1h-1zM77 33h1v1h-1zM78 33h1v1h-1zM87 33h1v1h-1zM30 34h1v1h-1zM31 34h1v1h-1zM32 34h1v1h-1zM34 34h1v1h-1zM37 34h1v1h-1zM45 34h1v1h-1zM59 34h1v1h-1zM63 34h1v1h-1zM42 35h1v1h-1zM79 35h1v1h-1zM16 36h1v1h-1zM26 36h1v1h-1zM31 36h1v1h-1zM40 36h1v1h-1zM53 36h1v1h-1zM74 36h1v1h-1zM25 37h1v1h-1zM81 37h1v1h-1zM83 37h1v1h-1zM85 37h1v1h-1zM87 37h1v1h-1zM89 37h1v1h-1zM93 37h1v1h-1zM13 38h1v1h-1zM18 38h1v1h-1zM28 38h1v1h-1zM31 38h1v1h-1zM40 38h1v1h-1zM42 38h1v1h-1zM57 38h1v1h-1zM65 38h1v1h-1zM79 38h1v1h-1zM88 38h1v1h-1zM90 38h1v1h-1zM14 39h1v1h-1zM17 39h1v1h-1zM32 39h1v1h-1zM51 39h1v1h-1zM52 39h1v1h-1zM56 39h1v1h-1zM58 39h1v1h-1zM63 39h1v1h-1zM81 39h1v1h-1zM88 39h1v1h-1zM89 39h1v1h-1zM58 40h1v1h-1zM65 40h1v1h-1zM66 40h1v1h-1zM71 40h1v1h-1zM78 40h1v1h-1zM79 40h1v1h-1zM80 40h1v1h-1zM81 40h1v1h-1zM84 40h1v1h-1zM85 40h1v1h-1zM90 40h1v1h-1zM93 40h1v1h-1zM27 41h1v1h-1zM34 41h1v1h-1zM52 41h1v1h-1zM67 41h1v1h-1zM81 41h1v1h-1zM85 41h1v1h-1zM88 41h1v1h-1zM91 41h1v1h-1zM94 41h1v1h-1zM6 42h1v1h-1zM28 42h1v1h-1zM47 42h1v1h-1zM51 42h1v1h-1zM60 42h1v1h-1zM63 42h1v1h-1zM76 42h1v1h-1zM79 42h1v1h-1zM86 42h1v1h-1zM89 42h1v1h-1zM93 42h1v1h-1zM94 42h1v1h-1zM27 43h1v1h-1zM78 43h1v1h-1zM80 43h1v1h-1zM81 43h1v1h-1zM82 43h1v1h-1zM88 43h1v1h-1zM91 43h1v1h-1zM92 43h1v1h-1zM94 43h1v1h-1zM27 44h1v1h-1zM35 44h1v1h-1zM39 44h1v1h-1zM52 44h1v1h-1zM70 44h1v1h-1zM80 44h1v1h-1zM90 44h1v1h-1zM93 44h1v1h-1zM94 44h1v1h-1zM38 45h1v1h-1zM40 45h1v1h-1zM41 45h1v1h-1zM42 45h1v1h-1zM44 45h1v1h-1zM70 45h1v1h-1zM77 45h1v1h-1zM80 45h1v1h-1zM82 45h1v1h-1zM83 45h1v1h-1zM87 45h1v1h-1zM88 45h1v1h-1zM91 45h1v1h-1zM14 46h1v1h-1zM30 46h1v1h-1zM33 46h1v1h-1zM34 46h1v1h-1zM43 46h1v1h-1zM47 46h1v1h-1zM48 46h1v1h-1zM77 46h1v1h-1zM78 46h1v1h-1zM81 46h1v1h-1zM84 46h1v1h-1zM85 46h1v1h-1zM89 46h1v1h-1zM6 47h1v1h-1zM75 47h1v1h-1zM76 47h1v1h-1zM78 47h1v1h-1zM92 47h1v1h-1zM79 48h1v1h-1zM83 48h1v1h-1zM90 48h1v1h-1zM84 49h1v1h-1zM87 49h1v1h-1zM90 49h1v1h-1zM92 49h1v1h-1zM76 50h1v1h-1zM75 51h1v1h-1zM86 51h1v1h-1zM86 52h1v1h-1zM78 53h1v1h-1zM80 53h1v1h-1zM93 53h1v1h-1zM94 53h1v1h-1zM77 54h1v1h-1zM76 55h1v1h-1zM85 55h1v1h-1zM92 55h1v1h-1zM75 56h1v1h-1zM77 56h1v1h-1zM78 56h1v1h-1zM81 56h1v1h-1zM85 56h1v1h-1zM87 56h1v1h-1zM89 56h1v1h-1zM93 56h1v1h-1zM94 56h1v1h-1zM75 57h1v1h-1zM79 57h1v1h-1zM83 57h1v1h-1zM86 57h1v1h-1zM91 57h1v1h-1zM75 58h1v1h-1zM77 58h1v1h-1zM93 58h1v1h-1zM94 58h1v1h-1zM12 59h1v1h-1zM35 59h1v1h-1zM42 59h1v1h-1zM49 59h1v1h-1zM85 59h1v1h-1zM13 60h1v1h-1zM21 60h1v1h-1zM34 60h1v1h-1zM46 60h1v1h-1zM66 60h1v1h-1zM81 60h1v1h-1zM82 60h1v1h-1zM91 60h1v1h-1zM92 60h1v1h-1zM23 61h1v1h-1zM47 61h1v1h-1zM58 61h1v1h-1zM31 62h1v1h-1zM41 62h1v1h-1zM42 62h1v1h-1zM45 62h1v1h-1zM87 62h1v1h-1zM17 63h1v1h-1zM35 63h1v1h-1zM36 63h1v1h-1zM37 63h1v1h-1zM38 63h1v1h-1zM40 63h1v1h-1zM41 63h1v1h-1zM84 63h1v1h-1zM31 64h1v1h-1zM39 64h1v1h-1zM43 64h1v1h-1zM47 64h1v1h-1zM56 64h1v1h-1zM33 65h1v1h-1zM34 65h1v1h-1zM37 65h1v1h-1zM45 65h1v1h-1zM67 65h1v1h-1zM93 65h1v1h-1zM15 66h1v1h-1zM35 66h1v1h-1zM36 66h1v1h-1zM42 66h1v1h-1zM46 66h1v1h-1zM48 66h1v1h-1zM59 66h1v1h-1zM80 66h1v1h-1zM83 66h1v1h-1zM88 66h1v1h-1zM25 67h1v1h-1zM30 67h1v1h-1zM34 67h1v1h-1zM37 67h1v1h-1zM42 67h1v1h-1zM45 67h1v1h-1zM65 67h1v1h-1zM77 67h1v1h-1zM78 67h1v1h-1zM87 67h1v1h-1zM94 67h1v1h-1zM13 68h1v1h-1zM23 68h1v1h-1zM35 68h1v1h-1zM37 68h1v1h-1zM38 68h1v1h-1zM44 68h1v1h-1zM45 68h1v1h-1zM47 68h1v1h-1zM48 68h1v1h-1zM75 68h1v1h-1zM77 68h1v1h-1zM78 68h1v1h-1zM82 68h1v1h-1zM84 68h1v1h-1zM35 69h1v1h-1zM46 69h1v1h-1zM48 69h1v1h-1zM53 69h1v1h-1zM54 69h1v1h-1zM58 69h1v1h-1zM67 69h1v1h-1zM78 69h1v1h-1zM81 69h1v1h-1zM88 69h1v1h-1zM16 70h1v1h-1zM27 70h1v1h-1zM35 70h1v1h-1zM38 70h1v1h-1zM41 70h1v1h-1zM52 70h1v1h-1zM55 70h1v1h-1zM59 70h1v1h-1zM76 70h1v1h-1zM77 70h1v1h-1zM78 70h1v1h-1zM82 70h1v1h-1zM84 70h1v1h-1zM85 70h1v1h-1zM14 71h1v1h-1zM19 71h1v1h-1zM39 71h1v1h-1zM51 71h1v1h-1zM52 71h1v1h-1zM61 71h1v1h-1zM75 71h1v1h-1zM80 71h1v1h-1zM81 71h1v1h-1zM89 71h1v1h-1zM16 72h1v1h-1zM39 72h1v1h-1zM40 72h1v1h-1zM42 72h1v1h-1zM46 72h1v1h-1zM47 72h1v1h-1zM50 72h1v1h-1zM55 72h1v1h-1zM57 72h1v1h-1zM75 72h1v1h-1zM77 72h1v1h-1zM87 72h1v1h-1zM88 72h1v1h-1zM93 72h1v1h-1zM21 73h1v1h-1zM30 73h1v1h-1zM33 73h1v1h-1zM34 73h1v1h-1zM38 73h1v1h-1zM54 73h1v1h-1zM61 73h1v1h-1zM75 73h1v1h-1zM79 73h1v1h-1zM89 73h1v1h-1zM90 73h1v1h-1zM31 74h1v1h-1zM33 74h1v1h-1zM37 74h1v1h-1zM39 74h1v1h-1zM41 74h1v1h-1zM43 74h1v1h-1zM44 74h1v1h-1zM46 74h1v1h-1zM49 74h1v1h-1zM55 74h1v1h-1zM56 74h1v1h-1zM75 74h1v1h-1zM85 74h1v1h-1zM90 74h1v1h-1zM93 74h1v1h-1zM94 74h1v1h-1zM24 75h1v1h-1zM25 75h1v1h-1zM30 75h1v1h-1zM31 75h1v1h-1zM32 75h1v1h-1zM33 75h1v1h-1zM39 75h1v1h-1zM44 75h1v1h-1zM52 75h1v1h-1zM53 75h1v1h-1zM59 75h1v1h-1zM70 75h1v1h-1zM79 75h1v1h-1zM91 75h1v1h-1zM21 76h1v1h-1zM23 76h1v1h-1zM26 76h1v1h-1zM32 76h1v1h-1zM33 76h1v1h-1zM38 76h1v1h-1zM40 76h1v1h-1zM43 76h1v1h-1zM53 76h1v1h-1zM56 76h1v1h-1zM59 76h1v1h-1zM68 76h1v1h-1zM86 76h1v1h-1zM25 77h1v1h-1zM26 77h1v1h-1zM38 77h1v1h-1zM46 77h1v1h-1zM49 77h1v1h-1zM52 77h1v1h-1zM54 77h1v1h-1zM55 77h1v1h-1zM59 77h1v1h-1zM79 77h1v1h-1zM29 78h1v1h-1zM48 78h1v1h-1zM54 78h1v1h-1zM55 78h1v1h-1zM58 78h1v1h-1zM63 78h1v1h-1zM20 79h1v1h-1zM24 79h1v1h-1zM29 79h1v1h-1zM32 79h1v1h-1zM40 79h1v1h-1zM43 79h1v1h-1zM47 79h1v1h-1zM56 79h1v1h-1zM61 79h1v1h-1zM86 79h1v1h-1zM34 80h1v1h-1zM49 80h1v1h-1zM51 80h1v1h-1zM58 80h1v1h-1zM75 80h1v1h-1zM78 80h1v1h-1zM91 80h1v1h-1zM92 80h1v1h-1zM36 81h1v1h-1zM40 81h1v1h-1zM41 81h1v1h-1zM44 81h1v1h-1zM45 81h1v1h-1zM47 81h1v1h-1zM57 81h1v1h-1zM58 81h1v1h-1zM61 81h1v1h-1zM92 81h1v1h-1zM16 82h1v1h-1zM23 82h1v1h-1zM36 82h1v1h-1zM50 82h1v1h-1zM54 82h1v1h-1zM55 82h1v1h-1zM60 82h1v1h-1zM61 82h1v1h-1zM81 82h1v1h-1zM82 82h1v1h-1zM85 82h1v1h-1zM26 83h1v1h-1zM30 83h1v1h-1zM31 83h1v1h-1zM58 83h1v1h-1zM61 83h1v1h-1zM76 83h1v1h-1zM84 83h1v1h-1zM86 83h1v1h-1zM88 83h1v1h-1zM92 83h1v1h-1zM31 84h1v1h-1zM33 84h1v1h-1zM34 84h1v1h-1zM36 84h1v1h-1zM42 84h1v1h-1zM43 84h1v1h-1zM47 84h1v1h-1zM48 84h1v1h-1zM56 84h1v1h-1zM57 84h1v1h-1zM58 84h1v1h-1zM78 84h1v1h-1zM79 84h1v1h-1zM94 84h1v1h-1zM23 85h1v1h-1zM24 85h1v1h-1zM25 85h1v1h-1zM27 85h1v1h-1zM29 85h1v1h-1zM33 85h1v1h-1zM35 85h1v1h-1zM42 85h1v1h-1zM54 85h1v1h-1zM75 85h1v1h-1zM77 85h1v1h-1zM80 85h1v1h-1zM86 85h1v1h-1zM19 86h1v1h-1zM20 86h1v1h-1zM23 86h1v1h-1zM28 86h1v1h-1zM32 86h1v1h-1zM36 86h1v1h-1zM44 86h1v1h-1zM45 86h1v1h-1zM58 86h1v1h-1zM59 86h1v1h-1zM79 86h1v1h-1zM90 86h1v1h-1zM5 87h1v1h-1zM15 87h1v1h-1zM23 87h1v1h-1zM30 87h1v1h-1zM43 87h1v1h-1zM50 87h1v1h-1zM51 87h1v1h-1zM52 87h1v1h-1zM57 87h1v1h-1zM72 87h1v1h-1zM76 87h1v1h-1zM78 87h1v1h-1zM87 87h1v1h-1zM35 88h1v1h-1zM37 88h1v1h-1zM44 88h1v1h-1zM48 88h1v1h-1zM54 88h1v1h-1zM60 88h1v1h-1zM61 88h1v1h-1zM75 88h1v1h-1zM82 88h1v1h-1zM85 88h1v1h-1zM86 88h1v1h-1zM22 89h1v1h-1zM39 89h1v1h-1zM43 89h1v1h-1zM49 89h1v1h-1zM53 89h1v1h-1zM57 89h1v1h-1zM77 89h1v1h-1zM81 89h1v1h-1zM88 89h1v1h-1zM92 89h1v1h-1zM93 89h1v1h-1zM23 90h1v1h-1zM25 90h1v1h-1zM28 90h1v1h-1zM29 90h1v1h-1zM33 90h1v1h-1zM35 90h1v1h-1zM36 90h1v1h-1zM37 90h1v1h-1zM42 90h1v1h-1zM49 90h1v1h-1zM51 90h1v1h-1zM56 90h1v1h-1zM59 90h1v1h-1zM68 90h1v1h-1zM75 90h1v1h-1zM76 90h1v1h-1zM89 90h1v1h-1zM20 91h1v1h-1zM39 91h1v1h-1zM44 91h1v1h-1zM45 91h1v1h-1zM46 91h1v1h-1zM47 91h1v1h-1zM52 91h1v1h-1zM59 91h1v1h-1zM73 91h1v1h-1zM74 91h1v1h-1zM76 91h1v1h-1zM79 91h1v1h-1zM82 91h1v1h-1zM85 91h1v1h-1zM33 92h1v1h-1zM37 92h1v1h-1zM41 92h1v1h-1zM49 92h1v1h-1zM78 92h1v1h-1zM79 92h1v1h-1zM90 92h1v1h-1zM91 92h1v1h-1zM20 93h1v1h-1zM32 93h1v1h-1zM47 93h1v1h-1zM68 93h1v1h-1zM69 93h1v1h-1zM84 93h1v1h-1zM86 93h1v1h-1zM87 93h1v1h-1zM94 93h1v1h-1zM16 94h1v1h-1zM35 94h1v1h-1zM46 94h1v1h-1zM49 94h1v1h-1zM50 94h1v1h-1zM51 94h1v1h-1zM67 94h1v1h-1zM69 94h1v1h-1zM75 94h1v1h-1zM79 94h1v1h-1zM83 94h1v1h-1zM15 95h1v1h-1zM16 95h1v1h-1zM25 95h1v1h-1zM28 95h1v1h-1zM36 95h1v1h-1zM48 95h1v1h-1zM53 95h1v1h-1zM59 95h1v1h-1zM64 95h1v1h-1zM67 95h1v1h-1zM73 95h1v1h-1zM85 95h1v1h-1zM87 95h1v1h-1zM88 95h1v1h-1zM92 95h1v1h-1zM14 96h1v1h-1zM50 96h1v1h-1zM61 96h1v1h-1zM67 96h1v1h-1zM87 96h1v1h-1zM89 96h1v1h-1zM90 96h1v1h-1zM48 97h1v1h-1zM50 97h1v1h-1zM70 97h1v1h-1zM71 97h1v1h-1zM74 97h1v1h-1zM76 97h1v1h-1zM33 98h1v1h-1zM46 98h1v1h-1zM51 98h1v1h-1zM55 98h1v1h-1zM72 98h1v1h-1zM79 98h1v1h-1zM81 98h1v1h-1zM14 99h1v1h-1zM33 99h1v1h-1zM40 99h1v1h-1zM64 99h1v1h-1zM17 100h1v1h-1zM35 100h1v1h-1zM37 100h1v1h-1zM39 100h1v1h-1zM40 100h1v1h-1zM45 100h1v1h-1zM49 100h1v1h-1zM68 100h1v1h-1zM82 100h1v1h-1zM89 100h1v1h-1zM3 101h1v1h-1zM23 101h1v1h-1zM29 101h1v1h-1zM82 101h1v1h-1zM91 101h1v1h-1zM93 101h1v1h-1zM94 101h1v1h-1zM17 102h1v1h-1zM23 102h1v1h-1zM28 102h1v1h-1zM50 102h1v1h-1zM59 102h1v1h-1zM83 102h1v1h-1zM89 102h1v1h-1zM92 102h1v1h-1zM21 103h1v1h-1zM33 103h1v1h-1zM49 103h1v1h-1zM61 103h1v1h-1zM77 103h1v1h-1zM84 103h1v1h-1zM88 103h1v1h-1zM91 103h1v1h-1zM34 104h1v1h-1zM39 104h1v1h-1zM53 104h1v1h-1zM55 104h1v1h-1zM73 104h1v1h-1zM81 104h1v1h-1zM84 104h1v1h-1zM89 104h1v1h-1zM94 104h1v1h-1zM59 105h1v1h-1zM67 105h1v1h-1zM85 105h1v1h-1zM18 106h1v1h-1zM36 106h1v1h-1zM43 106h1v1h-1zM47 106h1v1h-1zM49 106h1v1h-1zM69 106h1v1h-1zM71 106h1v1h-1zM75 106h1v1h-1zM82 106h1v1h-1zM86 106h1v1h-1zM94 106h1v1h-1zM26 107h1v1h-1zM40 107h1v1h-1zM42 107h1v1h-1zM49 107h1v1h-1zM66 107h1v1h-1zM67 107h1v1h-1zM92 107h1v1h-1zM19 108h1v1h-1zM31 108h1v1h-1zM32 108h1v1h-1zM38 108h1v1h-1zM39 108h1v1h-1zM47 108h1v1h-1zM62 108h1v1h-1zM66 108h1v1h-1zM67 108h1v1h-1zM74 108h1v1h-1zM83 108h1v1h-1zM84 108h1v1h-1zM94 108h1v1h-1zM14 109h1v1h-1zM25 109h1v1h-1zM43 109h1v1h-1zM48 109h1v1h-1zM66 109h1v1h-1zM71 109h1v1h-1zM83 109h1v1h-1zM86 109h1v1h-1zM87 109h1v1h-1z"/>
<path fill="#ee6244" d="M3 0h1v1h-1zM48 0h1v1h-1zM8 1h1v1h-1zM13 1h1v1h-1zM28 1h1v1h-1zM30 1h1v1h-1zM34 1h1v1h-1zM52 1h1v1h-1zM53 1h1v1h-1zM0 2h1v1h-1zM8 2h1v1h-1zM10 2h1v1h-1zM17 2h1v1h-1zM25 2h1v1h-1zM49 2h1v1h-1zM59 2h1v1h-1zM8 3h1v1h-1zM9 3h1v1h-1zM10 3h1v1h-1zM11 3h1v1h-1zM36 3h1v1h-1zM50 3h1v1h-1zM60 3h1v1h-1zM2 4h1v1h-1zM19 4h1v1h-1zM2 5h1v1h-1zM4 5h1v1h-1zM5 5h1v1h-1zM33 5h1v1h-1zM53 5h1v1h-1zM1 6h1v1h-1zM2 6h1v1h-1zM5 6h1v1h-1zM6 6h1v1h-1zM7 6h1v1h-1zM12 6h1v1h-1zM26 6h1v1h-1zM27 6h1v1h-1zM3 7h1v1h-1zM5 7h1v1h-1zM10 7h1v1h-1zM15 7h1v1h-1zM30 7h1v1h-1zM50 7h1v1h-1zM54 7h1v1h-1zM59 7h1v1h-1zM88 7h1v1h-1zM10 8h1v1h-1zM11 8h1v1h-1zM15 8h1v1h-1zM55 8h1v1h-1zM56 8h1v1h-1zM1 9h1v1h-1zM2 9h1v1h-1zM4 9h1v1h-1zM8 9h1v1h-1zM9 9h1v1h-1zM10 9h1v1h-1zM1 10h1v1h-1zM3 10h1v1h-1zM10 10h1v1h-1zM13 10h1v1h-1zM9 11h1v1h-1zM36 11h1v1h-1zM1 12h1v1h-1zM7 12h1v1h-1zM8 12h1v1h-1zM11 12h1v1h-1zM23 12h1v1h-1zM1 13h1v1h-1zM2 13h1v1h-1zM0 14h1v1h-1zM1 14h1v1h-1zM6 14h1v1h-1zM8 14h1v1h-1zM3 15h1v1h-1zM5 15h1v1h-1zM16 15h1v1h-1zM51 15h1v1h-1zM3 16h1v1h-1zM20 16h1v1h-1zM0 17h1v1h-1zM1 17h1v1h-1zM4 17h1v1h-1zM9 17h1v1h-1zM11 17h1v1h-1zM12 17h1v1h-1zM91 17h1v1h-1zM4 18h1v1h-1zM6 18h1v1h-1zM8 18h1v1h-1zM9 18h1v1h-1zM88 18h1v1h-1zM12 19h1v1h-1zM18 19h1v1h-1zM23 19h1v1h-1zM25 19h1v1h-1zM7 20h1v1h-1zM10 20h1v1h-1zM12 20h1v1h-1zM42 20h1v1h-1zM33 21h1v1h-1zM0 22h1v1h-1zM20 22h1v1h-1zM60 22h1v1h-1zM3 23h1v1h-1zM6 23h1v1h-1zM7 23h1v1h-1zM22 23h1v1h-1zM39 23h1v1h-1zM61 23h1v1h-1zM0 24h1v1h-1zM3 24h1v1h-1zM7 24h1v1h-1zM15 24h1v1h-1zM27 24h1v1h-1zM23 25h1v1h-1zM26 25h1v1h-1zM29 25h1v1h-1zM31 25h1v1h-1zM38 25h1v1h-1zM45 25h1v1h-1zM70 25h1v1h-1zM23 26h1v1h-1zM25 26h1v1h-1zM69 26h1v1h-1zM25 27h1v1h-1zM36 27h1v1h-1zM46 27h1v1h-1zM48 27h1v1h-1zM53 27h1v1h-1zM26 28h1v1h-1zM29 28h1v1h-1zM31 28h1v1h-1zM32 28h1v1h-1zM46 28h1v1h-1zM53 28h1v1h-1zM55 28h1v1h-1zM23 29h1v1h-1zM35 29h1v1h-1zM38 29h1v1h-1zM42 29h1v1h-1zM50 29h1v1h-1zM55 29h1v1h-1zM56 29h1v1h-1zM25 30h1v1h-1zM30 30h1v1h-1zM36 30h1v1h-1zM37 30h1v1h-1zM40 30h1v1h-1zM41 30h1v1h-1zM44 30h1v1h-1zM45 30h1v1h-1zM48 30h1v1h-1zM55 30h1v1h-1zM59 30h1v1h-1zM60 30h1v1h-1zM61 30h1v1h-1zM23 31h1v1h-1zM28 31h1v1h-1zM29 31h1v1h-1zM30 31h1v1h-1zM32 31h1v1h-1zM35 31h1v1h-1zM36 31h1v1h-1zM37 31h1v1h-1zM40 31h1v1h-1zM47 31h1v1h-1zM49 31h1v1h-1zM55 31h1v1h-1zM56 31h1v1h-1zM59 31h1v1h-1zM23 32h1v1h-1zM25 32h1v1h-1zM26 32h1v1h-1zM27 32h1v1h-1zM28 32h1v1h-1zM35 32h1v1h-1zM38 32h1v1h-1zM39 32h1v1h-1zM48 32h1v1h-1zM50 32h1v1h-1zM51 32h1v1h-1zM53 32h1v1h-1zM56 32h1v1h-1zM57 32h1v1h-1zM67 32h1v1h-1zM70 32h1v1h-1zM33 33h1v1h-1zM39 33h1v1h-1zM44 33h1v1h-1zM45 33h1v1h-1zM51 33h1v1h-1zM55 33h1v1h-1zM56 33h1v1h-1zM59 33h1v1h-1zM74 33h1v1h-1zM23 34h1v1h-1zM28 34h1v1h-1zM33 34h1v1h-1zM35 34h1v1h-1zM36 34h1v1h-1zM41 34h1v1h-1zM43 34h1v1h-1zM49 34h1v1h-1zM50 34h1v1h-1zM53 34h1v1h-1zM56 34h1v1h-1zM30 35h1v1h-1zM38 36h1v1h-1zM62 36h1v1h-1zM75 36h1v1h-1zM78 36h1v1h-1zM64 37h1v1h-1zM77 37h1v1h-1zM79 37h1v1h-1zM80 37h1v1h-1zM86 37h1v1h-1zM88 37h1v1h-1zM26 38h1v1h-1zM63 38h1v1h-1zM68 38h1v1h-1zM75 38h1v1h-1zM80 38h1v1h-1zM82 38h1v1h-1zM83 38h1v1h-1zM85 38h1v1h-1zM91 38h1v1h-1zM93 38h1v1h-1zM94 38h1v1h-1zM80 39h1v1h-1zM84 39h1v1h-1zM87 39h1v1h-1zM90 39h1v1h-1zM91 39h1v1h-1zM94 39h1v1h-1zM73 40h1v1h-1zM82 40h1v1h-1zM83 40h1v1h-1zM64 41h1v1h-1zM75 41h1v1h-1zM77 41h1v1h-1zM92 41h1v1h-1zM93 41h1v1h-1zM23 42h1v1h-1zM53 42h1v1h-1zM62 42h1v1h-1zM75 42h1v1h-1zM84 42h1v1h-1zM87 42h1v1h-1zM90 42h1v1h-1zM92 42h1v1h-1zM42 43h1v1h-1zM75 43h1v1h-1zM79 43h1v1h-1zM83 43h1v1h-1zM84 43h1v1h-1zM86 43h1v1h-1zM90 43h1v1h-1zM93 43h1v1h-1zM20 44h1v1h-1zM62 44h1v1h-1zM66 44h1v1h-1zM79 44h1v1h-1zM82 44h1v1h-1zM85 44h1v1h-1zM92 44h1v1h-1zM24 45h1v1h-1zM30 45h1v1h-1zM43 45h1v1h-1zM46 45h1v1h-1zM48 45h1v1h-1zM49 45h1v1h-1zM51 45h1v1h-1zM81 45h1v1h-1zM86 45h1v1h-1zM90 45h1v1h-1zM93 45h1v1h-1zM94 45h1v1h-1zM22 46h1v1h-1zM31 46h1v1h-1zM36 46h1v1h-1zM37 46h1v1h-1zM50 46h1v1h-1zM76 46h1v1h-1zM79 46h1v1h-1zM91 46h1v1h-1zM92 46h1v1h-1zM94 46h1v1h-1zM79 47h1v1h-1zM82 47h1v1h-1zM88 47h1v1h-1zM90 47h1v1h-1zM91 47h1v1h-1zM80 48h1v1h-1zM81 48h1v1h-1zM86 48h1v1h-1zM87 48h1v1h-1zM93 48h1v1h-1zM75 49h1v1h-1zM81 49h1v1h-1zM77 50h1v1h-1zM80 50h1v1h-1zM85 50h1v1h-1zM87 50h1v1h-1zM92 50h1v1h-1zM77 51h1v1h-1zM88 51h1v1h-1zM92 51h1v1h-1zM76 52h1v1h-1zM77 52h1v1h-1zM83 52h1v1h-1zM87 52h1v1h-1zM88 52h1v1h-1zM94 52h1v1h-1zM82 53h1v1h-1zM86 53h1v1h-1zM87 53h1v1h-1zM88 53h1v1h-1zM76 54h1v1h-1zM79 54h1v1h-1zM83 54h1v1h-1zM85 54h1v1h-1zM87 54h1v1h-1zM88 54h1v1h-1zM79 55h1v1h-1zM84 55h1v1h-1zM91 55h1v1h-1zM79 56h1v1h-1zM84 56h1v1h-1zM88 56h1v1h-1zM77 57h1v1h-1zM84 57h1v1h-1zM85 57h1v1h-1zM76 58h1v1h-1zM82 58h1v1h-1zM86 58h1v1h-1zM87 58h1v1h-1zM88 58h1v1h-1zM37 59h1v1h-1zM39 59h1v1h-1zM40 59h1v1h-1zM75 59h1v1h-1zM76 59h1v1h-1zM77 59h1v1h-1zM79 59h1v1h-1zM81 59h1v1h-1zM84 59h1v1h-1zM90 59h1v1h-1zM93 59h1v1h-1zM94 59h1v1h-1zM47 60h1v1h-1zM76 60h1v1h-1zM83 60h1v1h-1zM89 60h1v1h-1zM94 60h1v1h-1zM33 61h1v1h-1zM39 61h1v1h-1zM40 61h1v1h-1zM41 61h1v1h-1zM44 61h1v1h-1zM79 61h1v1h-1zM81 61h1v1h-1zM86 61h1v1h-1zM89 61h1v1h-1zM92 61h1v1h-1zM93 61h1v1h-1zM94 61h1v1h-1zM15 62h1v1h-1zM34 62h1v1h-1zM35 62h1v1h-1zM36 62h1v1h-1zM48 62h1v1h-1zM76 62h1v1h-1zM78 62h1v1h-1zM84 62h1v1h-1zM34 63h1v1h-1zM75 63h1v1h-1zM76 63h1v1h-1zM78 63h1v1h-1zM89 63h1v1h-1zM92 63h1v1h-1zM94 63h1v1h-1zM76 64h1v1h-1zM86 64h1v1h-1zM88 64h1v1h-1zM89 64h1v1h-1zM90 64h1v1h-1zM94 64h1v1h-1zM22 65h1v1h-1zM40 65h1v1h-1zM43 65h1v1h-1zM46 65h1v1h-1zM75 65h1v1h-1zM37 66h1v1h-1zM39 66h1v1h-1zM40 66h1v1h-1zM43 66h1v1h-1zM49 66h1v1h-1zM82 66h1v1h-1zM84 66h1v1h-1zM85 66h1v1h-1zM86 66h1v1h-1zM33 67h1v1h-1zM38 67h1v1h-1zM79 67h1v1h-1zM93 67h1v1h-1zM28 68h1v1h-1zM73 68h1v1h-1zM79 68h1v1h-1zM83 68h1v1h-1zM85 68h1v1h-1zM21 69h1v1h-1zM59 69h1v1h-1zM61 69h1v1h-1zM76 69h1v1h-1zM82 69h1v1h-1zM85 69h1v1h-1zM86 69h1v1h-1zM86 70h1v1h-1zM87 70h1v1h-1zM93 70h1v1h-1zM45 71h1v1h-1zM55 71h1v1h-1zM56 71h1v1h-1zM59 71h1v1h-1zM86 71h1v1h-1zM88 71h1v1h-1zM14 72h1v1h-1zM29 72h1v1h-1zM52 72h1v1h-1zM54 72h1v1h-1zM58 72h1v1h-1zM60 72h1v1h-1zM78 72h1v1h-1zM83 72h1v1h-1zM47 73h1v1h-1zM53 73h1v1h-1zM55 73h1v1h-1zM86 73h1v1h-1zM87 73h1v1h-1zM94 73h1v1h-1zM18 74h1v1h-1zM28 74h1v1h-1zM38 74h1v1h-1zM40 74h1v1h-1zM76 74h1v1h-1zM81 74h1v1h-1zM86 74h1v1h-1zM91 74h1v1h-1zM27 75h1v1h-1zM38 75h1v1h-1zM56 75h1v1h-1zM58 75h1v1h-1zM61 75h1v1h-1zM76 75h1v1h-1zM78 75h1v1h-1zM82 75h1v1h-1zM83 75h1v1h-1zM87 75h1v1h-1zM92 75h1v1h-1zM39 76h1v1h-1zM47 76h1v1h-1zM54 76h1v1h-1zM61 76h1v1h-1zM78 76h1v1h-1zM83 76h1v1h-1zM94 76h1v1h-1zM22 77h1v1h-1zM29 77h1v1h-1zM34 77h1v1h-1zM60 77h1v1h-1zM68 77h1v1h-1zM93 77h1v1h-1zM42 78h1v1h-1zM45 78h1v1h-1zM47 78h1v1h-1zM26 79h1v1h-1zM27 79h1v1h-1zM28 79h1v1h-1zM30 79h1v1h-1zM31 79h1v1h-1zM41 79h1v1h-1zM45 79h1v1h-1zM48 79h1v1h-1zM49 79h1v1h-1zM60 79h1v1h-1zM26 80h1v1h-1zM29 80h1v1h-1zM31 80h1v1h-1zM35 80h1v1h-1zM47 80h1v1h-1zM52 80h1v1h-1zM53 80h1v1h-1zM55 80h1v1h-1zM24 81h1v1h-1zM25 81h1v1h-1zM27 81h1v1h-1zM28 81h1v1h-1zM42 81h1v1h-1zM43 81h1v1h-1zM48 81h1v1h-1zM52 81h1v1h-1zM54 81h1v1h-1zM75 81h1v1h-1zM24 82h1v1h-1zM28 82h1v1h-1zM33 82h1v1h-1zM38 82h1v1h-1zM41 82h1v1h-1zM44 82h1v1h-1zM47 82h1v1h-1zM51 82h1v1h-1zM53 82h1v1h-1zM80 82h1v1h-1zM23 83h1v1h-1zM34 83h1v1h-1zM35 83h1v1h-1zM36 83h1v1h-1zM38 83h1v1h-1zM41 83h1v1h-1zM42 83h1v1h-1zM44 83h1v1h-1zM46 83h1v1h-1zM60 83h1v1h-1zM27 84h1v1h-1zM28 84h1v1h-1zM35 84h1v1h-1zM41 84h1v1h-1zM45 84h1v1h-1zM52 84h1v1h-1zM54 84h1v1h-1zM82 84h1v1h-1zM30 85h1v1h-1zM32 85h1v1h-1zM37 85h1v1h-1zM41 85h1v1h-1zM51 85h1v1h-1zM57 85h1v1h-1zM78 85h1v1h-1zM91 85h1v1h-1zM25 86h1v1h-1zM26 86h1v1h-1zM27 86h1v1h-1zM56 86h1v1h-1zM60 86h1v1h-1zM87 86h1v1h-1zM26 87h1v1h-1zM29 87h1v1h-1zM39 87h1v1h-1zM49 87h1v1h-1zM80 87h1v1h-1zM93 87h1v1h-1zM30 88h1v1h-1zM32 88h1v1h-1zM33 88h1v1h-1zM34 88h1v1h-1zM40 88h1v1h-1zM42 88h1v1h-1zM45 88h1v1h-1zM52 88h1v1h-1zM58 88h1v1h-1zM92 88h1v1h-1zM25 89h1v1h-1zM26 89h1v1h-1zM29 89h1v1h-1zM33 89h1v1h-1zM41 89h1v1h-1zM52 89h1v1h-1zM55 89h1v1h-1zM24 90h1v1h-1zM46 90h1v1h-1zM48 90h1v1h-1zM50 90h1v1h-1zM53 90h1v1h-1zM54 90h1v1h-1zM62 90h1v1h-1zM27 91h1v1h-1zM49 91h1v1h-1zM71 91h1v1h-1zM77 91h1v1h-1zM78 91h1v1h-1zM48 92h1v1h-1zM51 92h1v1h-1zM69 92h1v1h-1zM75 92h1v1h-1zM76 92h1v1h-1zM77 92h1v1h-1zM25 93h1v1h-1zM67 93h1v1h-1zM72 93h1v1h-1zM74 93h1v1h-1zM78 93h1v1h-1zM79 93h1v1h-1zM68 94h1v1h-1zM71 94h1v1h-1zM74 94h1v1h-1zM77 94h1v1h-1zM78 94h1v1h-1zM24 95h1v1h-1zM29 95h1v1h-1zM33 95h1v1h-1zM69 95h1v1h-1zM72 95h1v1h-1zM74 95h1v1h-1zM78 95h1v1h-1zM79 95h1v1h-1zM82 95h1v1h-1zM48 96h1v1h-1zM51 96h1v1h-1zM71 96h1v1h-1zM76 96h1v1h-1zM86 96h1v1h-1zM36 97h1v1h-1zM47 97h1v1h-1zM67 97h1v1h-1zM72 97h1v1h-1zM73 97h1v1h-1zM78 97h1v1h-1zM68 98h1v1h-1zM69 98h1v1h-1zM70 98h1v1h-1zM71 98h1v1h-1zM73 98h1v1h-1zM75 98h1v1h-1zM84 98h1v1h-1zM45 99h1v1h-1zM47 99h1v1h-1zM48 99h1v1h-1zM54 99h1v1h-1zM66 99h1v1h-1zM67 99h1v1h-1zM68 99h1v1h-1zM69 99h1v1h-1zM71 99h1v1h-1zM72 99h1v1h-1zM77 99h1v1h-1zM44 100h1v1h-1zM48 100h1v1h-1zM51 100h1v1h-1zM64 100h1v1h-1zM73 100h1v1h-1zM75 100h1v1h-1zM43 101h1v1h-1zM48 101h1v1h-1zM66 101h1v1h-1zM88 101h1v1h-1zM40 102h1v1h-1zM58 102h1v1h-1zM68 102h1v1h-1zM71 102h1v1h-1zM77 102h1v1h-1zM85 102h1v1h-1zM88 102h1v1h-1zM29 103h1v1h-1zM38 103h1v1h-1zM39 103h1v1h-1zM48 103h1v1h-1zM68 103h1v1h-1zM73 103h1v1h-1zM75 103h1v1h-1zM85 103h1v1h-1zM92 103h1v1h-1zM40 104h1v1h-1zM49 104h1v1h-1zM51 104h1v1h-1zM78 104h1v1h-1zM79 104h1v1h-1zM85 104h1v1h-1zM20 105h1v1h-1zM50 105h1v1h-1zM76 105h1v1h-1zM88 105h1v1h-1zM93 105h1v1h-1zM13 106h1v1h-1zM16 106h1v1h-1zM66 106h1v1h-1zM88 106h1v1h-1zM51 107h1v1h-1zM68 107h1v1h-1zM70 107h1v1h-1zM72 107h1v1h-1zM74 107h1v1h-1zM77 107h1v1h-1zM90 107h1v1h-1zM40 108h1v1h-1zM75 108h1v1h-1zM78 108h1v1h-1zM89 108h1v1h-1zM93 108h1v1h-1zM27 109h1v1h-1zM29 109h1v1h-1zM74 109h1v1h-1zM75 109h1v1h-1zM88 109h1v1h-1z"/>
<path fill="#ea4024" d="M1 0h1v1h-1zM2 0h1v1h-1zM5 0h1v1h-1zM6 0h1v1h-1zM7 0h1v1h-1zM10 0h1v1h-1zM11 0h1v1h-1zM12 0h1v1h-1zM16 0h1v1h-1zM36 0h1v1h-1zM0 1h1v1h-1zM1 1h1v1h-1zM2 1h1v1h-1zM3 1h1v1h-1zM4 1h1v1h-1zM6 1h1v1h-1zM7 1h1v1h-1zM11 1h1v1h-1zM12 1h1v1h-1zM20 1h1v1h-1zM25 1h1v1h-1zM59 1h1v1h-1zM68 1h1v1h-1zM3 2h1v1h-1zM4 2h1v1h-1zM5 2h1v1h-1zM6 2h1v1h-1zM7 2h1v1h-1zM9 2h1v1h-1zM0 3h1v1h-1zM4 3h1v1h-1zM5 3h1v1h-1zM7 3h1v1h-1zM16 3h1v1h-1zM17 3h1v1h-1zM22 3h1v1h-1zM0 4h1v1h-1zM1 4h1v1h-1zM5 4h1v1h-1zM6 4h1v1h-1zM7 4h1v1h-1zM8 4h1v1h-1zM9 4h1v1h-1zM10 4h1v1h-1zM11 4h1v1h-1zM31 4h1v1h-1zM33 4h1v1h-1zM3 5h1v1h-1zM6 5h1v1h-1zM7 5h1v1h-1zM9 5h1v1h-1zM11 5h1v1h-1zM26 5h1v1h-1zM48 5h1v1h-1zM59 5h1v1h-1zM4 6h1v1h-1zM10 6h1v1h-1zM11 6h1v1h-1zM22 6h1v1h-1zM39 6h1v1h-1zM0 7h1v1h-1zM2 7h1v1h-1zM4 7h1v1h-1zM7 7h1v1h-1zM9 7h1v1h-1zM11 7h1v1h-1zM0 8h1v1h-1zM1 8h1v1h-1zM4 8h1v1h-1zM5 8h1v1h-1zM6 8h1v1h-1zM7 8h1v1h-1zM8 8h1v1h-1zM9 8h1v1h-1zM12 8h1v1h-1zM21 8h1v1h-1zM28 8h1v1h-1zM35 8h1v1h-1zM0 9h1v1h-1zM5 9h1v1h-1zM6 9h1v1h-1zM7 9h1v1h-1zM12 9h1v1h-1zM4 10h1v1h-1zM6 10h1v1h-1zM8 10h1v1h-1zM9 10h1v1h-1zM11 10h1v1h-1zM12 10h1v1h-1zM20 10h1v1h-1zM1 11h1v1h-1zM2 11h1v1h-1zM3 11h1v1h-1zM4 11h1v1h-1zM5 11h1v1h-1zM6 11h1v1h-1zM7 11h1v1h-1zM8 11h1v1h-1zM10 11h1v1h-1zM11 11h1v1h-1zM17 11h1v1h-1zM21 11h1v1h-1zM26 11h1v1h-1zM33 11h1v1h-1zM3 12h1v1h-1zM4 12h1v1h-1zM10 12h1v1h-1zM12 12h1v1h-1zM80 12h1v1h-1zM0 13h1v1h-1zM4 13h1v1h-1zM5 13h1v1h-1zM7 13h1v1h-1zM10 13h1v1h-1zM12 13h1v1h-1zM3 14h1v1h-1zM4 14h1v1h-1zM5 14h1v1h-1zM7 14h1v1h-1zM9 14h1v1h-1zM11 14h1v1h-1zM12 14h1v1h-1zM1 15h1v1h-1zM2 15h1v1h-1zM4 15h1v1h-1zM6 15h1v1h-1zM7 15h1v1h-1zM8 15h1v1h-1zM9 15h1v1h-1zM10 15h1v1h-1zM11 15h1v1h-1zM12 15h1v1h-1zM0 16h1v1h-1zM1 16h1v1h-1zM2 16h1v1h-1zM4 16h1v1h-1zM5 16h1v1h-1zM7 16h1v1h-1zM8 16h1v1h-1zM9 16h1v1h-1zM11 16h1v1h-1zM12 16h1v1h-1zM19 16h1v1h-1zM2 17h1v1h-1zM3 17h1v1h-1zM5 17h1v1h-1zM6 17h1v1h-1zM7 17h1v1h-1zM8 17h1v1h-1zM0 18h1v1h-1zM2 18h1v1h-1zM3 18h1v1h-1zM5 18h1v1h-1zM7 18h1v1h-1zM12 18h1v1h-1zM1 19h1v1h-1zM2 19h1v1h-1zM4 19h1v1h-1zM5 19h1v1h-1zM6 19h1v1h-1zM7 19h1v1h-1zM8 19h1v1h-1zM9 19h1v1h-1zM10 19h1v1h-1zM11 19h1v1h-1zM1 20h1v1h-1zM2 20h1v1h-1zM3 20h1v1h-1zM4 20h1v1h-1zM5 20h1v1h-1zM8 20h1v1h-1zM9 20h1v1h-1zM11 20h1v1h-1zM0 21h1v1h-1zM2 21h1v1h-1zM6 21h1v1h-1zM8 21h1v1h-1zM9 21h1v1h-1zM10 21h1v1h-1zM11 21h1v1h-1zM12 21h1v1h-1zM4 22h1v1h-1zM6 22h1v1h-1zM7 22h1v1h-1zM9 22h1v1h-1zM10 22h1v1h-1zM11 22h1v1h-1zM19 22h1v1h-1zM0 23h1v1h-1zM1 23h1v1h-1zM2 23h1v1h-1zM4 23h1v1h-1zM9 23h1v1h-1zM10 23h1v1h-1zM11 23h1v1h-1zM12 23h1v1h-1zM1 24h1v1h-1zM2 24h1v1h-1zM4 24h1v1h-1zM5 24h1v1h-1zM8 24h1v1h-1zM11 24h1v1h-1zM12 24h1v1h-1zM22 25h1v1h-1zM33 25h1v1h-1zM34 25h1v1h-1zM47 25h1v1h-1zM47 26h1v1h-1zM50 26h1v1h-1zM51 26h1v1h-1zM52 26h1v1h-1zM53 26h1v1h-1zM60 26h1v1h-1zM65 26h1v1h-1zM22 27h1v1h-1zM24 27h1v1h-1zM49 27h1v1h-1zM50 27h1v1h-1zM51 27h1v1h-1zM54 27h1v1h-1zM34 28h1v1h-1zM41 28h1v1h-1zM22 29h1v1h-1zM28 29h1v1h-1zM31 29h1v1h-1zM32 29h1v1h-1zM33 29h1v1h-1zM36 29h1v1h-1zM41 29h1v1h-1zM45 29h1v1h-1zM46 29h1v1h-1zM48 29h1v1h-1zM53 29h1v1h-1zM57 29h1v1h-1zM58 29h1v1h-1zM59 29h1v1h-1zM60 29h1v1h-1zM61 29h1v1h-1zM22 30h1v1h-1zM23 30h1v1h-1zM24 30h1v1h-1zM27 30h1v1h-1zM32 30h1v1h-1zM33 30h1v1h-1zM34 30h1v1h-1zM35 30h1v1h-1zM38 30h1v1h-1zM42 30h1v1h-1zM46 30h1v1h-1zM47 30h1v1h-1zM49 30h1v1h-1zM50 30h1v1h-1zM51 30h1v1h-1zM52 30h1v1h-1zM53 30h1v1h-1zM56 30h1v1h-1zM57 30h1v1h-1zM22 31h1v1h-1zM25 31h1v1h-1zM31 31h1v1h-1zM34 31h1v1h-1zM41 31h1v1h-1zM44 31h1v1h-1zM46 31h1v1h-1zM51 31h1v1h-1zM53 31h1v1h-1zM54 31h1v1h-1zM58 31h1v1h-1zM24 32h1v1h-1zM30 32h1v1h-1zM31 32h1v1h-1zM37 32h1v1h-1zM40 32h1v1h-1zM42 32h1v1h-1zM43 32h1v1h-1zM44 32h1v1h-1zM46 32h1v1h-1zM47 32h1v1h-1zM49 32h1v1h-1zM52 32h1v1h-1zM54 32h1v1h-1zM55 32h1v1h-1zM60 32h1v1h-1zM22 33h1v1h-1zM24 33h1v1h-1zM26 33h1v1h-1zM27 33h1v1h-1zM32 33h1v1h-1zM34 33h1v1h-1zM35 33h1v1h-1zM36 33h1v1h-1zM37 33h1v1h-1zM40 33h1v1h-1zM41 33h1v1h-1zM42 33h1v1h-1zM43 33h1v1h-1zM46 33h1v1h-1zM47 33h1v1h-1zM48 33h1v1h-1zM50 33h1v1h-1zM52 33h1v1h-1zM54 33h1v1h-1zM60 33h1v1h-1zM61 33h1v1h-1zM72 33h1v1h-1zM22 34h1v1h-1zM24 34h1v1h-1zM25 34h1v1h-1zM26 34h1v1h-1zM27 34h1v1h-1zM38 34h1v1h-1zM39 34h1v1h-1zM42 34h1v1h-1zM44 34h1v1h-1zM46 34h1v1h-1zM47 34h1v1h-1zM48 34h1v1h-1zM52 34h1v1h-1zM54 34h1v1h-1zM55 34h1v1h-1zM57 34h1v1h-1zM58 34h1v1h-1zM60 34h1v1h-1zM61 34h1v1h-1zM76 37h1v1h-1zM78 37h1v1h-1zM82 37h1v1h-1zM84 37h1v1h-1zM90 37h1v1h-1zM91 37h1v1h-1zM78 38h1v1h-1zM81 38h1v1h-1zM87 38h1v1h-1zM89 38h1v1h-1zM92 38h1v1h-1zM75 39h1v1h-1zM76 39h1v1h-1zM77 39h1v1h-1zM78 39h1v1h-1zM79 39h1v1h-1zM85 39h1v1h-1zM93 39h1v1h-1zM77 40h1v1h-1zM86 40h1v1h-1zM87 40h1v1h-1zM88 40h1v1h-1zM89 40h1v1h-1zM91 40h1v1h-1zM92 40h1v1h-1zM94 40h1v1h-1zM83 41h1v1h-1zM84 41h1v1h-1zM87 41h1v1h-1zM89 41h1v1h-1zM90 41h1v1h-1zM43 42h1v1h-1zM77 42h1v1h-1zM78 42h1v1h-1zM80 42h1v1h-1zM82 42h1v1h-1zM85 42h1v1h-1zM88 42h1v1h-1zM91 42h1v1h-1zM76 43h1v1h-1zM77 43h1v1h-1zM85 43h1v1h-1zM87 43h1v1h-1zM89 43h1v1h-1zM75 44h1v1h-1zM76 44h1v1h-1zM77 44h1v1h-1zM81 44h1v1h-1zM83 44h1v1h-1zM84 44h1v1h-1zM89 44h1v1h-1zM28 45h1v1h-1zM32 45h1v1h-1zM76 45h1v1h-1zM78 45h1v1h-1zM84 45h1v1h-1zM89 45h1v1h-1zM92 45h1v1h-1zM24 46h1v1h-1zM46 46h1v1h-1zM75 46h1v1h-1zM82 46h1v1h-1zM93 46h1v1h-1zM80 47h1v1h-1zM81 47h1v1h-1zM83 47h1v1h-1zM84 47h1v1h-1zM89 47h1v1h-1zM93 47h1v1h-1zM94 47h1v1h-1zM75 48h1v1h-1zM76 48h1v1h-1zM77 48h1v1h-1zM78 48h1v1h-1zM82 48h1v1h-1zM84 48h1v1h-1zM88 48h1v1h-1zM89 48h1v1h-1zM91 48h1v1h-1zM92 48h1v1h-1zM94 48h1v1h-1zM76 49h1v1h-1zM77 49h1v1h-1zM78 49h1v1h-1zM79 49h1v1h-1zM80 49h1v1h-1zM82 49h1v1h-1zM83 49h1v1h-1zM86 49h1v1h-1zM88 49h1v1h-1zM89 49h1v1h-1zM91 49h1v1h-1zM93 49h1v1h-1zM94 49h1v1h-1zM75 50h1v1h-1zM78 50h1v1h-1zM79 50h1v1h-1zM82 50h1v1h-1zM83 50h1v1h-1zM84 50h1v1h-1zM88 50h1v1h-1zM89 50h1v1h-1zM90 50h1v1h-1zM93 50h1v1h-1zM94 50h1v1h-1zM76 51h1v1h-1zM78 51h1v1h-1zM79 51h1v1h-1zM80 51h1v1h-1zM81 51h1v1h-1zM82 51h1v1h-1zM83 51h1v1h-1zM84 51h1v1h-1zM85 51h1v1h-1zM87 51h1v1h-1zM89 51h1v1h-1zM90 51h1v1h-1zM93 51h1v1h-1zM75 52h1v1h-1zM78 52h1v1h-1zM80 52h1v1h-1zM81 52h1v1h-1zM82 52h1v1h-1zM84 52h1v1h-1zM89 52h1v1h-1zM90 52h1v1h-1zM92 52h1v1h-1zM93 52h1v1h-1zM75 53h1v1h-1zM76 53h1v1h-1zM77 53h1v1h-1zM81 53h1v1h-1zM84 53h1v1h-1zM85 53h1v1h-1zM89 53h1v1h-1zM90 53h1v1h-1zM91 53h1v1h-1zM92 53h1v1h-1zM75 54h1v1h-1zM78 54h1v1h-1zM80 54h1v1h-1zM81 54h1v1h-1zM82 54h1v1h-1zM84 54h1v1h-1zM86 54h1v1h-1zM89 54h1v1h-1zM90 54h1v1h-1zM91 54h1v1h-1zM92 54h1v1h-1zM94 54h1v1h-1zM75 55h1v1h-1zM77 55h1v1h-1zM78 55h1v1h-1zM80 55h1v1h-1zM82 55h1v1h-1zM83 55h1v1h-1zM86 55h1v1h-1zM88 55h1v1h-1zM90 55h1v1h-1zM93 55h1v1h-1zM94 55h1v1h-1zM76 56h1v1h-1zM80 56h1v1h-1zM82 56h1v1h-1zM83 56h1v1h-1zM86 56h1v1h-1zM92 56h1v1h-1zM76 57h1v1h-1zM78 57h1v1h-1zM80 57h1v1h-1zM81 57h1v1h-1zM82 57h1v1h-1zM87 57h1v1h-1zM88 57h1v1h-1zM89 57h1v1h-1zM90 57h1v1h-1zM92 57h1v1h-1zM93 57h1v1h-1zM94 57h1v1h-1zM78 58h1v1h-1zM79 58h1v1h-1zM80 58h1v1h-1zM81 58h1v1h-1zM83 58h1v1h-1zM84 58h1v1h-1zM85 58h1v1h-1zM90 58h1v1h-1zM91 58h1v1h-1zM78 59h1v1h-1zM83 59h1v1h-1zM86 59h1v1h-1zM87 59h1v1h-1zM88 59h1v1h-1zM89 59h1v1h-1zM91 59h1v1h-1zM92 59h1v1h-1zM38 60h1v1h-1zM75 60h1v1h-1zM78 60h1v1h-1zM79 60h1v1h-1zM80 60h1v1h-1zM85 60h1v1h-1zM86 60h1v1h-1zM87 60h1v1h-1zM88 60h1v1h-1zM90 60h1v1h-1zM93 60h1v1h-1zM75 61h1v1h-1zM76 61h1v1h-1zM77 61h1v1h-1zM78 61h1v1h-1zM80 61h1v1h-1zM82 61h1v1h-1zM83 61h1v1h-1zM85 61h1v1h-1zM87 61h1v1h-1zM88 61h1v1h-1zM90 61h1v1h-1zM91 61h1v1h-1zM75 62h1v1h-1zM79 62h1v1h-1zM80 62h1v1h-1zM81 62h1v1h-1zM82 62h1v1h-1zM83 62h1v1h-1zM85 62h1v1h-1zM86 62h1v1h-1zM89 62h1v1h-1zM90 62h1v1h-1zM91 62h1v1h-1zM92 62h1v1h-1zM93 62h1v1h-1zM94 62h1v1h-1zM77 63h1v1h-1zM79 63h1v1h-1zM80 63h1v1h-1zM81 63h1v1h-1zM82 63h1v1h-1zM83 63h1v1h-1zM85 63h1v1h-1zM86 63h1v1h-1zM87 63h1v1h-1zM90 63h1v1h-1zM91 63h1v1h-1zM93 63h1v1h-1zM26 64h1v1h-1zM75 64h1v1h-1zM77 64h1v1h-1zM78 64h1v1h-1zM79 64h1v1h-1zM80 64h1v1h-1zM81 64h1v1h-1zM83 64h1v1h-1zM84 64h1v1h-1zM85 64h1v1h-1zM87 64h1v1h-1zM91 64h1v1h-1zM92 64h1v1h-1zM93 64h1v1h-1zM76 65h1v1h-1zM77 65h1v1h-1zM78 65h1v1h-1zM79 65h1v1h-1zM81 65h1v1h-1zM82 65h1v1h-1zM83 65h1v1h-1zM85 65h1v1h-1zM86 65h1v1h-1zM87 65h1v1h-1zM89 65h1v1h-1zM90 65h1v1h-1zM91 65h1v1h-1zM92 65h1v1h-1zM94 65h1v1h-1zM75 66h1v1h-1zM76 66h1v1h-1zM77 66h1v1h-1zM78 66h1v1h-1zM79 66h1v1h-1zM81 66h1v1h-1zM87 66h1v1h-1zM89 66h1v1h-1zM90 66h1v1h-1zM91 66h1v1h-1zM92 66h1v1h-1zM93 66h1v1h-1zM75 67h1v1h-1zM81 67h1v1h-1zM83 67h1v1h-1zM84 67h1v1h-1zM85 67h1v1h-1zM88 67h1v1h-1zM89 67h1v1h-1zM90 67h1v1h-1zM80 68h1v1h-1zM81 68h1v1h-1zM87 68h1v1h-1zM89 68h1v1h-1zM90 68h1v1h-1zM92 68h1v1h-1zM93 68h1v1h-1zM94 68h1v1h-1zM75 69h1v1h-1zM83 69h1v1h-1zM84 69h1v1h-1zM87 69h1v1h-1zM89 69h1v1h-1zM91 69h1v1h-1zM92 69h1v1h-1zM93 69h1v1h-1zM94 69h1v1h-1zM54 70h1v1h-1zM60 70h1v1h-1zM81 70h1v1h-1zM88 70h1v1h-1zM90 70h1v1h-1zM91 70h1v1h-1zM92 70h1v1h-1zM94 70h1v1h-1zM35 71h1v1h-1zM41 71h1v1h-1zM57 71h1v1h-1zM82 71h1v1h-1zM83 71h1v1h-1zM85 71h1v1h-1zM87 71h1v1h-1zM90 71h1v1h-1zM91 71h1v1h-1zM93 71h1v1h-1zM94 71h1v1h-1zM38 72h1v1h-1zM53 72h1v1h-1zM59 72h1v1h-1zM81 72h1v1h-1zM82 72h1v1h-1zM84 72h1v1h-1zM85 72h1v1h-1zM86 72h1v1h-1zM89 72h1v1h-1zM90 72h1v1h-1zM91 72h1v1h-1zM92 72h1v1h-1zM94 72h1v1h-1zM58 73h1v1h-1zM77 73h1v1h-1zM81 73h1v1h-1zM82 73h1v1h-1zM83 73h1v1h-1zM84 73h1v1h-1zM85 73h1v1h-1zM88 73h1v1h-1zM91 73h1v1h-1zM92 73h1v1h-1zM93 73h1v1h-1zM35 74h1v1h-1zM51 74h1v1h-1zM52 74h1v1h-1zM54 74h1v1h-1zM78 74h1v1h-1zM82 74h1v1h-1zM83 74h1v1h-1zM87 74h1v1h-1zM88 74h1v1h-1zM89 74h1v1h-1zM36 75h1v1h-1zM42 75h1v1h-1zM81 75h1v1h-1zM84 75h1v1h-1zM88 75h1v1h-1zM89 75h1v1h-1zM90 75h1v1h-1zM93 75h1v1h-1zM94 75h1v1h-1zM30 76h1v1h-1zM56 77h1v1h-1zM58 77h1v1h-1zM50 78h1v1h-1zM56 78h1v1h-1zM25 79h1v1h-1zM33 79h1v1h-1zM35 79h1v1h-1zM42 79h1v1h-1zM50 79h1v1h-1zM54 79h1v1h-1zM59 79h1v1h-1zM80 79h1v1h-1zM25 80h1v1h-1zM27 80h1v1h-1zM40 80h1v1h-1zM29 81h1v1h-1zM30 81h1v1h-1zM37 81h1v1h-1zM50 81h1v1h-1zM94 81h1v1h-1zM26 82h1v1h-1zM27 82h1v1h-1zM39 82h1v1h-1zM42 82h1v1h-1zM56 82h1v1h-1zM92 82h1v1h-1zM25 83h1v1h-1zM27 83h1v1h-1zM50 83h1v1h-1zM52 83h1v1h-1zM53 83h1v1h-1zM80 83h1v1h-1zM29 84h1v1h-1zM39 84h1v1h-1zM61 84h1v1h-1zM26 85h1v1h-1zM28 85h1v1h-1zM40 85h1v1h-1zM46 85h1v1h-1zM48 85h1v1h-1zM50 85h1v1h-1zM53 85h1v1h-1zM35 86h1v1h-1zM38 86h1v1h-1zM42 86h1v1h-1zM47 86h1v1h-1zM49 86h1v1h-1zM51 86h1v1h-1zM52 86h1v1h-1zM57 86h1v1h-1zM32 87h1v1h-1zM37 87h1v1h-1zM41 87h1v1h-1zM42 87h1v1h-1zM44 87h1v1h-1zM58 87h1v1h-1zM59 87h1v1h-1zM77 87h1v1h-1zM55 88h1v1h-1zM57 88h1v1h-1zM80 88h1v1h-1zM28 89h1v1h-1zM32 89h1v1h-1zM36 89h1v1h-1zM37 89h1v1h-1zM38 89h1v1h-1zM42 89h1v1h-1zM51 89h1v1h-1zM54 89h1v1h-1zM90 89h1v1h-1zM34 90h1v1h-1zM45 90h1v1h-1zM48 91h1v1h-1zM50 91h1v1h-1zM51 91h1v1h-1zM66 91h1v1h-1zM67 91h1v1h-1zM68 91h1v1h-1zM69 91h1v1h-1zM70 91h1v1h-1zM72 91h1v1h-1zM75 91h1v1h-1zM47 92h1v1h-1zM50 92h1v1h-1zM67 92h1v1h-1zM68 92h1v1h-1zM70 92h1v1h-1zM71 92h1v1h-1zM72 92h1v1h-1zM73 92h1v1h-1zM74 92h1v1h-1zM19 93h1v1h-1zM30 93h1v1h-1zM43 93h1v1h-1zM48 93h1v1h-1zM50 93h1v1h-1zM51 93h1v1h-1zM66 93h1v1h-1zM70 93h1v1h-1zM71 93h1v1h-1zM73 93h1v1h-1zM75 93h1v1h-1zM76 93h1v1h-1zM93 93h1v1h-1zM48 94h1v1h-1zM66 94h1v1h-1zM70 94h1v1h-1zM72 94h1v1h-1zM73 94h1v1h-1zM76 94h1v1h-1zM47 95h1v1h-1zM49 95h1v1h-1zM50 95h1v1h-1zM51 95h1v1h-1zM66 95h1v1h-1zM68 95h1v1h-1zM70 95h1v1h-1zM71 95h1v1h-1zM75 95h1v1h-1zM76 95h1v1h-1zM77 95h1v1h-1zM47 96h1v1h-1zM56 96h1v1h-1zM66 96h1v1h-1zM68 96h1v1h-1zM69 96h1v1h-1zM70 96h1v1h-1zM72 96h1v1h-1zM74 96h1v1h-1zM77 96h1v1h-1zM78 96h1v1h-1zM35 97h1v1h-1zM49 97h1v1h-1zM51 97h1v1h-1zM66 97h1v1h-1zM68 97h1v1h-1zM69 97h1v1h-1zM75 97h1v1h-1zM77 97h1v1h-1zM79 97h1v1h-1zM47 98h1v1h-1zM49 98h1v1h-1zM50 98h1v1h-1zM66 98h1v1h-1zM74 98h1v1h-1zM76 98h1v1h-1zM77 98h1v1h-1zM78 98h1v1h-1zM31 99h1v1h-1zM49 99h1v1h-1zM51 99h1v1h-1zM70 99h1v1h-1zM73 99h1v1h-1zM74 99h1v1h-1zM75 99h1v1h-1zM76 99h1v1h-1zM78 99h1v1h-1zM79 99h1v1h-1zM47 100h1v1h-1zM66 100h1v1h-1zM67 100h1v1h-1zM69 100h1v1h-1zM70 100h1v1h-1zM71 100h1v1h-1zM74 100h1v1h-1zM76 100h1v1h-1zM77 100h1v1h-1zM78 100h1v1h-1zM79 100h1v1h-1zM47 101h1v1h-1zM50 101h1v1h-1zM67 101h1v1h-1zM68 101h1v1h-1zM70 101h1v1h-1zM71 101h1v1h-1zM72 101h1v1h-1zM73 101h1v1h-1zM74 101h1v1h-1zM75 101h1v1h-1zM76 101h1v1h-1zM78 101h1v1h-1zM79 101h1v1h-1zM89 101h1v1h-1zM49 102h1v1h-1zM51 102h1v1h-1zM66 102h1v1h-1zM67 102h1v1h-1zM69 102h1v1h-1zM70 102h1v1h-1zM72 102h1v1h-1zM73 102h1v1h-1zM74 102h1v1h-1zM75 102h1v1h-1zM76 102h1v1h-1zM78 102h1v1h-1zM79 102h1v1h-1zM47 103h1v1h-1zM50 103h1v1h-1zM51 103h1v1h-1zM67 103h1v1h-1zM69 103h1v1h-1zM70 103h1v1h-1zM71 103h1v1h-1zM72 103h1v1h-1zM74 103h1v1h-1zM76 103h1v1h-1zM78 103h1v1h-1zM47 104h1v1h-1zM48 104h1v1h-1zM50 104h1v1h-1zM66 104h1v1h-1zM67 104h1v1h-1zM68 104h1v1h-1zM69 104h1v1h-1zM71 104h1v1h-1zM72 104h1v1h-1zM77 104h1v1h-1zM47 105h1v1h-1zM48 105h1v1h-1zM51 105h1v1h-1zM66 105h1v1h-1zM68 105h1v1h-1zM69 105h1v1h-1zM71 105h1v1h-1zM73 105h1v1h-1zM74 105h1v1h-1zM75 105h1v1h-1zM77 105h1v1h-1zM78 105h1v1h-1zM79 105h1v1h-1zM48 106h1v1h-1zM67 106h1v1h-1zM70 106h1v1h-1zM72 106h1v1h-1zM73 106h1v1h-1zM76 106h1v1h-1zM77 106h1v1h-1zM78 106h1v1h-1zM79 106h1v1h-1zM47 107h1v1h-1zM48 107h1v1h-1zM50 107h1v1h-1zM69 107h1v1h-1zM71 107h1v1h-1zM75 107h1v1h-1zM76 107h1v1h-1zM78 107h1v1h-1zM79 107h1v1h-1zM68 108h1v1h-1zM69 108h1v1h-1zM70 108h1v1h-1zM71 108h1v1h-1zM72 108h1v1h-1zM73 108h1v1h-1zM77 108h1v1h-1zM79 108h1v1h-1zM67 109h1v1h-1zM68 109h1v1h-1zM69 109h1v1h-1zM70 109h1v1h-1zM72 109h1v1h-1zM73 109h1v1h-1zM76 109h1v1h-1zM77 109h1v1h-1zM78 109h1v1h-1zM79 109h1v1h-1zM82 109h1v1h-1z"/>
</g>
<line x1="39.5" y1="290.8" x2="39.5" y2="465.8" stroke="#333" stroke-width="0.6"/>
<g font-size="3.2" fill="#4a4a4a"><text x="165" y="293.5">SY9B5RD</text><text x="165" y="296.7">HZ6R</text><text x="165" y="299.9">GRAO2T</text><text x="165" y="303.1">0LEI</text><text x="165" y="306.3">4IIAAOO</text><text x="165" y="309.5">LUWN</text><text x="165" y="312.7">OMN0VBZ</text><text x="165" y="315.9">LKSEXV</text><text x="165" y="319.1">AXEVYV6</text><text x="165" y="322.3">M66MD</text><text x="165" y="325.5">BY1B2</text><text x="165" y="328.7">0A4CM</text><text x="165" y="331.9">NHR5Y8Y</text><text x="165" y="335.1">S5GZUC3</text><text x="165" y="338.3">OX8</text><text x="165" y="341.5">ZKXTFVW</text><text x="165" y="344.7">MFKV6</text><text x="165" y="347.9">DF1C</text><text x="165" y="351.1">YS52</text><text x="165" y="354.3">DC7X</text><text x="165" y="357.5">II2G</text><text x="165" y="360.7">3ZKD</text><text x="165" y="363.9">UK5L95</text><text x="165" y="367.1">W6TU61</text><text x="165" y="370.3">H0M7</text><text x="165" y="373.5">MF7T8</text><text x="165" y="376.7">8ZEYCVZ</text><text x="165" y="379.9">T7SUXMA</text><text x="165" y="383.1">SWT5U8</text><text x="165" y="386.3">YTY2Y</text><text x="165" y="389.5">4ZX9</text><text x="165" y="392.7">9LNZ</text><text x="165" y="395.9">UF2L92</text><text x="165" y="399.1">TBNL4</text><text x="165" y="402.3">MPMC6PL</text><text x="165" y="405.5">IHW</text><text x="165" y="408.7">6NC2</text><text x="165" y="411.9">Y0EORZ</text><text x="165" y="415.1">Y1T</text><text x="165" y="418.3">HZCVGU</text><text x="165" y="421.5">8XUYI22</text><text x="165" y="424.7">Z5KL06N</text><text x="165" y="427.9">FYA0</text><text x="165" y="431.1">WKW</text><text x="165" y="434.3">033P7U6</text><text x="165" y="437.5">0LSV7S</text><text x="165" y="440.7">BWV7UK</text><text x="165" y="443.9">BH4RUC</text><text x="165" y="447.1">1A6T</text><text x="165" y="450.3">6CR7</text><text x="165" y="453.5">KUU76</text><text x="165" y="456.7">HBIVUXU</text><text x="165" y="459.9">B5YZICA</text><text x="165" y="463.1">5GNA3</text><text x="165" y="466.3">6061NU</text></g>
<line x1="179" y1="311.2" x2="182.5" y2="311.2" stroke="#333" stroke-width="0.4"/>
<text x="182.8" y="312.32" font-size="3.2" fill="#333">PLA2G4B</text>
<text x="25.4" y="476.91" font-size="6.6" fill="#2a2a2a">Color key</text>
<defs><linearGradient id="ck" x1="0" x2="1"><stop offset="0" stop-color="#1f6fb8"/><stop offset="0.42" stop-color="#5aa0d8"/><stop offset="0.5" stop-color="#ffffff"/><stop offset="0.58" stop-color="#ee5a3c"/><stop offset="1" stop-color="#e4361c"/></linearGradient></defs>
<rect x="25.8" y="481.3" width="26.1" height="6.7" fill="url(#ck)"/>
<line x1="38.8" y1="481.3" x2="38.8" y2="488" stroke="#fff" stroke-width="0.6"/>
<line x1="29.8" y1="488" x2="29.8" y2="489.5" stroke="#333" stroke-width="0.5"/>
<line x1="38.8" y1="488" x2="38.8" y2="489.5" stroke="#333" stroke-width="0.5"/>
<line x1="47.9" y1="488" x2="47.9" y2="489.5" stroke="#333" stroke-width="0.5"/>
<text x="31.6" y="498.61" font-size="6.6" fill="#2a2a2a" text-anchor="middle">−5</text>
<text x="38.85" y="498.61" font-size="6.6" fill="#2a2a2a" text-anchor="middle">0</text>
<text x="47.5" y="498.61" font-size="6.6" fill="#2a2a2a" text-anchor="middle">5</text>
<text x="38.9" y="509.89" font-size="7.4" fill="#2a2a2a" text-anchor="middle">Value</text>
<text x="59" y="477.91" font-size="6.6" fill="#2a2a2a">Subtype</text>
<rect x="59.6" y="481.5" width="4.6" height="4.6" fill="#e01e2a"/>
<text x="66.3" y="486" font-size="6.3" fill="#2a2a2a">C/EBPalt (CEBPD)</text>
<rect x="59.6" y="488.5" width="4.6" height="4.6" fill="#b060c0"/>
<text x="66.3" y="493" font-size="6.3" fill="#2a2a2a">C/EBPalt (other)</text>
<rect x="59.6" y="495.5" width="4.6" height="4.6" fill="#3060c0"/>
<text x="66.3" y="500" font-size="6.3" fill="#2a2a2a"><tspan font-style="italic">CRLF2</tspan>-r</text>
<rect x="59.6" y="502.5" width="4.6" height="4.6" fill="#13883a"/>
<text x="66.3" y="507" font-size="6.3" fill="#2a2a2a"><tspan font-style="italic">ETV6::RUNX1</tspan></text>
<rect x="59.6" y="509.5" width="4.6" height="4.6" fill="#8cc83c"/>
<text x="66.3" y="514" font-size="6.3" fill="#2a2a2a"><tspan font-style="italic">ETV6::RUNX1</tspan>-like</text>
<rect x="59.6" y="516.5" width="4.6" height="4.6" fill="#8a2a14"/>
<text x="66.3" y="521" font-size="6.3" fill="#2a2a2a">High hyperdiploid</text>
<rect x="125" y="474.4" width="4.6" height="4.6" fill="#f2e21a"/>
<text x="131.7" y="478.9" font-size="6.3" fill="#2a2a2a"><tspan font-style="italic">PAX5alt</tspan></text>
<rect x="125" y="481.52" width="4.6" height="4.6" fill="#1e8a40"/>
<text x="131.7" y="486.02" font-size="6.3" fill="#2a2a2a"><tspan font-style="italic">IGH::IGF2BP1</tspan></text>
<rect x="125" y="488.64" width="4.6" height="4.6" fill="#f8cdb0"/>
<text x="131.7" y="493.14" font-size="6.3" fill="#2a2a2a"><tspan font-style="italic">TCF3::PBX1</tspan></text>
<rect x="125" y="495.76" width="4.6" height="4.6" fill="#4aa8dc"/>
<text x="131.7" y="500.26" font-size="6.3" fill="#2a2a2a"><tspan font-style="italic">BCR::ABL1</tspan>-like</text>
<rect x="125" y="502.88" width="4.6" height="4.6" fill="#2a1a6a"/>
<text x="131.7" y="507.38" font-size="6.3" fill="#2a2a2a"><tspan font-style="italic">BCR::ABL1</tspan></text>
<rect x="125" y="510" width="4.6" height="4.6" fill="#b4bce0"/>
<text x="131.7" y="514.5" font-size="6.3" fill="#2a2a2a"><tspan font-style="italic">DUX4</tspan>-r</text>
<rect x="125" y="517.12" width="4.6" height="4.6" fill="#e2e0ea"/>
<text x="131.7" y="521.62" font-size="6.3" fill="#2a2a2a">B-other (N = 21)</text>
<text x="199.6" y="257.7" font-size="12" fill="#111" font-weight="bold">D</text>
<line x1="227.7" y1="300.2" x2="488.9" y2="300.2" stroke="#333" stroke-width="0.7"/>
<circle cx="227.3" cy="276" r="3.1" fill="#7e4f8e"/>
<text x="227.3" y="277.8" font-size="5" fill="#fff" text-anchor="middle" font-weight="bold">3</text>
<text x="231.6" y="278.38" font-size="6.5" fill="#2a2a2a">54 bp insertion</text>
<circle cx="270.6" cy="266.6" r="3.1" fill="#7e4f8e"/>
<text x="270.6" y="268.4" font-size="5" fill="#fff" text-anchor="middle" font-weight="bold">2</text>
<text x="274.6" y="268.88" font-size="6.5" fill="#2a2a2a">8 bp insertion</text>
<line x1="275.1" y1="269.2" x2="275.1" y2="300.2" stroke="#333" stroke-width="0.6"/>
<line x1="277.1" y1="279.2" x2="277.1" y2="300.2" stroke="#333" stroke-width="0.6"/>
<circle cx="319.4" cy="275.6" r="3.1" fill="#7e4f8e"/>
<text x="319.4" y="277.4" font-size="5" fill="#fff" text-anchor="middle" font-weight="bold">4</text>
<text x="323.4" y="277.88" font-size="6.5" fill="#2a2a2a">81 bp insertion</text>
<line x1="365.4" y1="279" x2="365.4" y2="300.2" stroke="#333" stroke-width="0.6"/>
<circle cx="354.6" cy="266.1" r="3.1" fill="#7e4f8e"/>
<text x="354.6" y="267.9" font-size="5" fill="#fff" text-anchor="middle" font-weight="bold">1</text>
<text x="358.6" y="268.38" font-size="6.5" fill="#2a2a2a">IGHJ4</text>
<polyline points="379,266.1 385.6,266.1 385.6,300.2" fill="none" stroke="#333" stroke-width="0.6"/>
<rect x="372.1" y="298.5" width="59.5" height="3.4" fill="#111"/>
<path d="M431.3,296.7 L478.6,296.7 L481.6,300.2 L478.6,303.8 L431.3,303.8 Z" fill="#111"/>
<path d="M436.8,298.8 L435.8,300.2 L436.8,301.6" fill="none" stroke="#fff" stroke-width="0.5"/>
<path d="M442.2,298.8 L441.2,300.2 L442.2,301.6" fill="none" stroke="#fff" stroke-width="0.5"/>
<path d="M447.6,298.8 L446.6,300.2 L447.6,301.6" fill="none" stroke="#fff" stroke-width="0.5"/>
<path d="M453,298.8 L452,300.2 L453,301.6" fill="none" stroke="#fff" stroke-width="0.5"/>
<path d="M457.6,298.8 L456.6,300.2 L457.6,301.6" fill="none" stroke="#fff" stroke-width="0.5"/>
<path d="M462.4,298.8 L461.4,300.2 L462.4,301.6" fill="none" stroke="#fff" stroke-width="0.5"/>
<text x="422" y="310.97" font-size="6.5" fill="#2a2a2a"><tspan font-style="italic">CEBPA</tspan> (NM_004364.5)</text>
<text x="226.2" y="313.67" font-size="6.5" fill="#2a2a2a">chr19 position</text>
<line x1="227.7" y1="316.3" x2="488.9" y2="316.3" stroke="#333" stroke-width="0.7"/>
<line x1="249.2" y1="316.3" x2="249.2" y2="318" stroke="#333" stroke-width="0.5"/>
<line x1="290.8" y1="316.3" x2="290.8" y2="318" stroke="#333" stroke-width="0.5"/>
<line x1="332.3" y1="316.3" x2="332.3" y2="318" stroke="#333" stroke-width="0.5"/>
<line x1="374" y1="316.3" x2="374" y2="318" stroke="#333" stroke-width="0.5"/>
<line x1="416.8" y1="316.3" x2="416.8" y2="318" stroke="#333" stroke-width="0.5"/>
<line x1="459.4" y1="316.3" x2="459.4" y2="318" stroke="#333" stroke-width="0.5"/>
<text x="250.2" y="326.97" font-size="6.5" fill="#2a2a2a" text-anchor="middle">33,297 kb</text>
<text x="291.4" y="326.97" font-size="6.5" fill="#2a2a2a" text-anchor="middle">33,298 kb</text>
<text x="333" y="326.97" font-size="6.5" fill="#2a2a2a" text-anchor="middle">33,299 kb</text>
<text x="372" y="326.97" font-size="6.5" fill="#2a2a2a" text-anchor="middle">33,300 kb</text>
<text x="419" y="326.97" font-size="6.5" fill="#2a2a2a" text-anchor="middle">33,301 kb</text>
<text x="459.4" y="326.97" font-size="6.5" fill="#2a2a2a" text-anchor="middle">33,302 kb</text>
<circle cx="218.5" cy="340.9" r="3.1" fill="#7e4f8e"/>
<text x="218.5" y="342.7" font-size="5" fill="#fff" text-anchor="middle" font-weight="bold">5</text>
<text x="222.5" y="343.17" font-size="6.5" fill="#2a2a2a">TRA locus</text>
<polyline points="253.8,340.9 258.5,340.9 258.5,361.3" fill="none" stroke="#333" stroke-width="0.6"/>
<line x1="227.7" y1="361.3" x2="484.6" y2="361.3" stroke="#333" stroke-width="0.7"/>
<rect x="355.9" y="359.5" width="9" height="3.7" fill="#111"/>
<rect x="364.8" y="358" width="17.5" height="6.8" fill="#111"/>
<path d="M370.8,360.1 L369.8,361.4 L370.8,362.7" fill="none" stroke="#fff" stroke-width="0.5"/>
<path d="M374.8,360.1 L373.8,361.4 L374.8,362.7" fill="none" stroke="#fff" stroke-width="0.5"/>
<path d="M378.9,360.1 L377.9,361.4 L378.9,362.7" fill="none" stroke="#fff" stroke-width="0.5"/>
<line x1="387.7" y1="360" x2="387.7" y2="362.6" stroke="#333" stroke-width="0.6"/>
<line x1="393.9" y1="360" x2="393.9" y2="362.6" stroke="#333" stroke-width="0.6"/>
<line x1="400.6" y1="360" x2="400.6" y2="362.6" stroke="#333" stroke-width="0.6"/>
<line x1="407.3" y1="360" x2="407.3" y2="362.6" stroke="#333" stroke-width="0.6"/>
<line x1="414.6" y1="360" x2="414.6" y2="362.6" stroke="#333" stroke-width="0.6"/>
<rect x="421.4" y="358" width="25.6" height="6.8" fill="#111"/>
<rect x="447" y="359.5" width="8.5" height="3.7" fill="#111"/>
<path d="M427.3,360.1 L426.3,361.4 L427.3,362.7" fill="none" stroke="#fff" stroke-width="0.5"/>
<path d="M432.7,360.1 L431.7,361.4 L432.7,362.7" fill="none" stroke="#fff" stroke-width="0.5"/>
<path d="M438.1,360.1 L437.1,361.4 L438.1,362.7" fill="none" stroke="#fff" stroke-width="0.5"/>
<path d="M443.5,360.1 L442.5,361.4 L443.5,362.7" fill="none" stroke="#fff" stroke-width="0.5"/>
<text x="371" y="373.27" font-size="6.5" fill="#2a2a2a"><tspan font-style="italic">CEBPE</tspan> (NM_001805.4)</text>
<text x="226.2" y="375.47" font-size="6.5" fill="#2a2a2a">chr14 position</text>
<line x1="227.7" y1="377.8" x2="488.9" y2="377.8" stroke="#333" stroke-width="0.7"/>
<line x1="236.9" y1="377.8" x2="236.9" y2="379.5" stroke="#333" stroke-width="0.5"/>
<line x1="288.6" y1="377.8" x2="288.6" y2="379.5" stroke="#333" stroke-width="0.5"/>
<line x1="340" y1="377.8" x2="340" y2="379.5" stroke="#333" stroke-width="0.5"/>
<line x1="391.2" y1="377.8" x2="391.2" y2="379.5" stroke="#333" stroke-width="0.5"/>
<line x1="442.1" y1="377.8" x2="442.1" y2="379.5" stroke="#333" stroke-width="0.5"/>
<text x="238" y="388.67" font-size="6.5" fill="#2a2a2a" text-anchor="middle">23,115 kb</text>
<text x="288" y="388.67" font-size="6.5" fill="#2a2a2a" text-anchor="middle">23,116 kb</text>
<text x="340" y="388.67" font-size="6.5" fill="#2a2a2a" text-anchor="middle">23,117 kb</text>
<text x="391.2" y="388.67" font-size="6.5" fill="#2a2a2a" text-anchor="middle">23,118 kb</text>
<text x="442" y="388.67" font-size="6.5" fill="#2a2a2a" text-anchor="middle">23,119 kb</text>
<text x="200.3" y="405.5" font-size="12" fill="#111" font-weight="bold">E</text>
<line x1="225.2" y1="419.6" x2="225.2" y2="497.5" stroke="#2a2a2a" stroke-width="1.25"/>
<line x1="224.6" y1="497.5" x2="300.5" y2="497.5" stroke="#2a2a2a" stroke-width="1.25"/>
<line x1="222" y1="496.1" x2="225.2" y2="496.1" stroke="#2a2a2a" stroke-width="0.8"/>
<text x="218.9" y="498.24" font-size="6.1" fill="#333" text-anchor="end">4</text>
<line x1="222" y1="480.3" x2="225.2" y2="480.3" stroke="#2a2a2a" stroke-width="0.8"/>
<text x="218.9" y="482.44" font-size="6.1" fill="#333" text-anchor="end">6</text>
<line x1="222" y1="464.5" x2="225.2" y2="464.5" stroke="#2a2a2a" stroke-width="0.8"/>
<text x="218.9" y="466.63" font-size="6.1" fill="#333" text-anchor="end">8</text>
<line x1="222" y1="448.7" x2="225.2" y2="448.7" stroke="#2a2a2a" stroke-width="0.8"/>
<text x="218.9" y="450.84" font-size="6.1" fill="#333" text-anchor="end">10</text>
<line x1="222" y1="432.9" x2="225.2" y2="432.9" stroke="#2a2a2a" stroke-width="0.8"/>
<text x="218.9" y="435.04" font-size="6.1" fill="#333" text-anchor="end">12</text>
<line x1="229.6" y1="497.5" x2="229.6" y2="501.3" stroke="#2a2a2a" stroke-width="0.8"/>
<path fill="#dd1c26" d="M228.47 494.52a0.92 0.92 0 1 0 1.84 0a0.92 0.92 0 1 0 -1.84 0M228.52 470.82a0.92 0.92 0 1 0 1.84 0a0.92 0.92 0 1 0 -1.84 0M228.44 477.02a0.92 0.92 0 1 0 1.84 0a0.92 0.92 0 1 0 -1.84 0M229.35 476.68a0.92 0.92 0 1 0 1.84 0a0.92 0.92 0 1 0 -1.84 0M228.43 477.09a0.92 0.92 0 1 0 1.84 0a0.92 0.92 0 1 0 -1.84 0M228.82 479.64a0.92 0.92 0 1 0 1.84 0a0.92 0.92 0 1 0 -1.84 0M228.39 480.64a0.92 0.92 0 1 0 1.84 0a0.92 0.92 0 1 0 -1.84 0M228.13 483.5a0.92 0.92 0 1 0 1.84 0a0.92 0.92 0 1 0 -1.84 0M228.03 476.28a0.92 0.92 0 1 0 1.84 0a0.92 0.92 0 1 0 -1.84 0M229.01 485.09a0.92 0.92 0 1 0 1.84 0a0.92 0.92 0 1 0 -1.84 0M229 484.73a0.92 0.92 0 1 0 1.84 0a0.92 0.92 0 1 0 -1.84 0M228.49 478.57a0.92 0.92 0 1 0 1.84 0a0.92 0.92 0 1 0 -1.84 0M228.91 475.51a0.92 0.92 0 1 0 1.84 0a0.92 0.92 0 1 0 -1.84 0M228.96 481.61a0.92 0.92 0 1 0 1.84 0a0.92 0.92 0 1 0 -1.84 0M229.31 482.29a0.92 0.92 0 1 0 1.84 0a0.92 0.92 0 1 0 -1.84 0M229.38 482.63a0.92 0.92 0 1 0 1.84 0a0.92 0.92 0 1 0 -1.84 0M228.55 479.34a0.92 0.92 0 1 0 1.84 0a0.92 0.92 0 1 0 -1.84 0M229.02 473.91a0.92 0.92 0 1 0 1.84 0a0.92 0.92 0 1 0 -1.84 0M229.41 481.29a0.92 0.92 0 1 0 1.84 0a0.92 0.92 0 1 0 -1.84 0M228.82 477.55a0.92 0.92 0 1 0 1.84 0a0.92 0.92 0 1 0 -1.84 0M229.11 484.88a0.92 0.92 0 1 0 1.84 0a0.92 0.92 0 1 0 -1.84 0M228.67 481.21a0.92 0.92 0 1 0 1.84 0a0.92 0.92 0 1 0 -1.84 0M228.5 483.08a0.92 0.92 0 1 0 1.84 0a0.92 0.92 0 1 0 -1.84 0M228.52 494.52a0.92 0.92 0 1 0 1.84 0a0.92 0.92 0 1 0 -1.84 0M229.23 478.72a0.92 0.92 0 1 0 1.84 0a0.92 0.92 0 1 0 -1.84 0M228.3 475.05a0.92 0.92 0 1 0 1.84 0a0.92 0.92 0 1 0 -1.84 0"/>
<line x1="227" y1="479.51" x2="232.2" y2="479.51" stroke="#999" stroke-width="0.6"/>
<text transform="translate(233.2 506.5) rotate(-45)" font-size="6.5" fill="#222" text-anchor="end">C/EBPalt (<tspan font-style="italic">CEBPD</tspan>)</text>
<line x1="238.1" y1="497.5" x2="238.1" y2="501.3" stroke="#2a2a2a" stroke-width="0.8"/>
<path fill="#178a3c" d="M236.9 489.78a0.92 0.92 0 1 0 1.84 0a0.92 0.92 0 1 0 -1.84 0M237.28 464.5a0.92 0.92 0 1 0 1.84 0a0.92 0.92 0 1 0 -1.84 0M237.23 479.32a0.92 0.92 0 1 0 1.84 0a0.92 0.92 0 1 0 -1.84 0M237.25 487.37a0.92 0.92 0 1 0 1.84 0a0.92 0.92 0 1 0 -1.84 0M236.5 484.05a0.92 0.92 0 1 0 1.84 0a0.92 0.92 0 1 0 -1.84 0M237.67 482.73a0.92 0.92 0 1 0 1.84 0a0.92 0.92 0 1 0 -1.84 0M238.31 480.78a0.92 0.92 0 1 0 1.84 0a0.92 0.92 0 1 0 -1.84 0M236.99 469.37a0.92 0.92 0 1 0 1.84 0a0.92 0.92 0 1 0 -1.84 0M237.02 474.11a0.92 0.92 0 1 0 1.84 0a0.92 0.92 0 1 0 -1.84 0M238.29 479.84a0.92 0.92 0 1 0 1.84 0a0.92 0.92 0 1 0 -1.84 0M236.67 468.98a0.92 0.92 0 1 0 1.84 0a0.92 0.92 0 1 0 -1.84 0M236.52 484.36a0.92 0.92 0 1 0 1.84 0a0.92 0.92 0 1 0 -1.84 0M236.23 481.18a0.92 0.92 0 1 0 1.84 0a0.92 0.92 0 1 0 -1.84 0M237.85 479.63a0.92 0.92 0 1 0 1.84 0a0.92 0.92 0 1 0 -1.84 0M237.5 468.68a0.92 0.92 0 1 0 1.84 0a0.92 0.92 0 1 0 -1.84 0M237.1 489.58a0.92 0.92 0 1 0 1.84 0a0.92 0.92 0 1 0 -1.84 0M237.3 476.53a0.92 0.92 0 1 0 1.84 0a0.92 0.92 0 1 0 -1.84 0M236.43 482.74a0.92 0.92 0 1 0 1.84 0a0.92 0.92 0 1 0 -1.84 0M237.37 488.13a0.92 0.92 0 1 0 1.84 0a0.92 0.92 0 1 0 -1.84 0M237.09 489.69a0.92 0.92 0 1 0 1.84 0a0.92 0.92 0 1 0 -1.84 0M237.21 484.98a0.92 0.92 0 1 0 1.84 0a0.92 0.92 0 1 0 -1.84 0M236.94 481.24a0.92 0.92 0 1 0 1.84 0a0.92 0.92 0 1 0 -1.84 0M237.06 478.09a0.92 0.92 0 1 0 1.84 0a0.92 0.92 0 1 0 -1.84 0M236.54 480.11a0.92 0.92 0 1 0 1.84 0a0.92 0.92 0 1 0 -1.84 0M236.62 469.64a0.92 0.92 0 1 0 1.84 0a0.92 0.92 0 1 0 -1.84 0M237.02 480.53a0.92 0.92 0 1 0 1.84 0a0.92 0.92 0 1 0 -1.84 0M236.58 480.8a0.92 0.92 0 1 0 1.84 0a0.92 0.92 0 1 0 -1.84 0M237.49 489.63a0.92 0.92 0 1 0 1.84 0a0.92 0.92 0 1 0 -1.84 0M237.66 484.84a0.92 0.92 0 1 0 1.84 0a0.92 0.92 0 1 0 -1.84 0M237.39 476.08a0.92 0.92 0 1 0 1.84 0a0.92 0.92 0 1 0 -1.84 0M237.13 486.39a0.92 0.92 0 1 0 1.84 0a0.92 0.92 0 1 0 -1.84 0M236.96 473.82a0.92 0.92 0 1 0 1.84 0a0.92 0.92 0 1 0 -1.84 0"/>
<line x1="235.5" y1="481.09" x2="240.7" y2="481.09" stroke="#999" stroke-width="0.6"/>
<text transform="translate(241.7 506.5) rotate(-45)" font-size="6.5" fill="#222" text-anchor="end"><tspan font-style="italic">ETV6::RUNX1</tspan></text>
<line x1="247" y1="497.5" x2="247" y2="501.3" stroke="#2a2a2a" stroke-width="0.8"/>
<path fill="#28984a" d="M245.82 481.88a0.92 0.92 0 1 0 1.84 0a0.92 0.92 0 1 0 -1.84 0M246.33 473.19a0.92 0.92 0 1 0 1.84 0a0.92 0.92 0 1 0 -1.84 0M246.46 480.81a0.92 0.92 0 1 0 1.84 0a0.92 0.92 0 1 0 -1.84 0M246.02 480.99a0.92 0.92 0 1 0 1.84 0a0.92 0.92 0 1 0 -1.84 0M245.47 475.9a0.92 0.92 0 1 0 1.84 0a0.92 0.92 0 1 0 -1.84 0M246.81 476.4a0.92 0.92 0 1 0 1.84 0a0.92 0.92 0 1 0 -1.84 0M246.34 477.72a0.92 0.92 0 1 0 1.84 0a0.92 0.92 0 1 0 -1.84 0M245.64 475.7a0.92 0.92 0 1 0 1.84 0a0.92 0.92 0 1 0 -1.84 0M245.82 476.27a0.92 0.92 0 1 0 1.84 0a0.92 0.92 0 1 0 -1.84 0M246.29 481.48a0.92 0.92 0 1 0 1.84 0a0.92 0.92 0 1 0 -1.84 0M246.32 479.24a0.92 0.92 0 1 0 1.84 0a0.92 0.92 0 1 0 -1.84 0M245.77 479.15a0.92 0.92 0 1 0 1.84 0a0.92 0.92 0 1 0 -1.84 0"/>
<line x1="244.4" y1="478.72" x2="249.6" y2="478.72" stroke="#999" stroke-width="0.6"/>
<text transform="translate(250.6 506.5) rotate(-45)" font-size="6.5" fill="#222" text-anchor="end"><tspan font-style="italic">IGH::IGF2BP1</tspan></text>
<line x1="255.4" y1="497.5" x2="255.4" y2="501.3" stroke="#2a2a2a" stroke-width="0.8"/>
<path fill="#8e2a1c" d="M254.41 489.78a0.92 0.92 0 1 0 1.84 0a0.92 0.92 0 1 0 -1.84 0M254.27 462.92a0.92 0.92 0 1 0 1.84 0a0.92 0.92 0 1 0 -1.84 0M254.88 476.61a0.92 0.92 0 1 0 1.84 0a0.92 0.92 0 1 0 -1.84 0M254.77 466.49a0.92 0.92 0 1 0 1.84 0a0.92 0.92 0 1 0 -1.84 0M254.53 475.5a0.92 0.92 0 1 0 1.84 0a0.92 0.92 0 1 0 -1.84 0M254.17 481.26a0.92 0.92 0 1 0 1.84 0a0.92 0.92 0 1 0 -1.84 0M253.99 475.75a0.92 0.92 0 1 0 1.84 0a0.92 0.92 0 1 0 -1.84 0M254.39 479.45a0.92 0.92 0 1 0 1.84 0a0.92 0.92 0 1 0 -1.84 0M254.53 467.26a0.92 0.92 0 1 0 1.84 0a0.92 0.92 0 1 0 -1.84 0M254.06 474.36a0.92 0.92 0 1 0 1.84 0a0.92 0.92 0 1 0 -1.84 0M254.67 469.58a0.92 0.92 0 1 0 1.84 0a0.92 0.92 0 1 0 -1.84 0M254.84 478.06a0.92 0.92 0 1 0 1.84 0a0.92 0.92 0 1 0 -1.84 0M254.9 472.71a0.92 0.92 0 1 0 1.84 0a0.92 0.92 0 1 0 -1.84 0M255.03 473.89a0.92 0.92 0 1 0 1.84 0a0.92 0.92 0 1 0 -1.84 0"/>
<line x1="252.8" y1="476.35" x2="258" y2="476.35" stroke="#999" stroke-width="0.6"/>
<text transform="translate(259 506.5) rotate(-45)" font-size="6.5" fill="#222" text-anchor="end">High hyperdiploid</text>
<line x1="263.5" y1="497.5" x2="263.5" y2="501.3" stroke="#2a2a2a" stroke-width="0.8"/>
<path fill="#9cc83c" d="M262.69 481.88a0.92 0.92 0 1 0 1.84 0a0.92 0.92 0 1 0 -1.84 0M262.69 466.08a0.92 0.92 0 1 0 1.84 0a0.92 0.92 0 1 0 -1.84 0M262.38 442.38a0.92 0.92 0 1 0 1.84 0a0.92 0.92 0 1 0 -1.84 0M262.29 468.05a0.92 0.92 0 1 0 1.84 0a0.92 0.92 0 1 0 -1.84 0M263.03 470.7a0.92 0.92 0 1 0 1.84 0a0.92 0.92 0 1 0 -1.84 0M262.64 475.7a0.92 0.92 0 1 0 1.84 0a0.92 0.92 0 1 0 -1.84 0M262.45 477.94a0.92 0.92 0 1 0 1.84 0a0.92 0.92 0 1 0 -1.84 0M262.79 474.34a0.92 0.92 0 1 0 1.84 0a0.92 0.92 0 1 0 -1.84 0M262.81 471.05a0.92 0.92 0 1 0 1.84 0a0.92 0.92 0 1 0 -1.84 0M262.62 477.43a0.92 0.92 0 1 0 1.84 0a0.92 0.92 0 1 0 -1.84 0M261.96 475.54a0.92 0.92 0 1 0 1.84 0a0.92 0.92 0 1 0 -1.84 0M263.1 477.57a0.92 0.92 0 1 0 1.84 0a0.92 0.92 0 1 0 -1.84 0"/>
<line x1="260.9" y1="473.98" x2="266.1" y2="473.98" stroke="#999" stroke-width="0.6"/>
<text transform="translate(267.1 506.5) rotate(-45)" font-size="6.5" fill="#222" text-anchor="end"><tspan font-style="italic">ETV6::RUNX1</tspan>-like</text>
<line x1="271.9" y1="497.5" x2="271.9" y2="501.3" stroke="#2a2a2a" stroke-width="0.8"/>
<path fill="#2566c4" d="M271.21 486.62a0.92 0.92 0 1 0 1.84 0a0.92 0.92 0 1 0 -1.84 0M270.87 447.12a0.92 0.92 0 1 0 1.84 0a0.92 0.92 0 1 0 -1.84 0M270.78 432.9a0.92 0.92 0 1 0 1.84 0a0.92 0.92 0 1 0 -1.84 0M271.02 435.27a0.92 0.92 0 1 0 1.84 0a0.92 0.92 0 1 0 -1.84 0M270.86 437.64a0.92 0.92 0 1 0 1.84 0a0.92 0.92 0 1 0 -1.84 0M271.22 440.8a0.92 0.92 0 1 0 1.84 0a0.92 0.92 0 1 0 -1.84 0M271.19 442.38a0.92 0.92 0 1 0 1.84 0a0.92 0.92 0 1 0 -1.84 0M271.07 444.75a0.92 0.92 0 1 0 1.84 0a0.92 0.92 0 1 0 -1.84 0M272.17 469.01a0.92 0.92 0 1 0 1.84 0a0.92 0.92 0 1 0 -1.84 0M269.94 463.82a0.92 0.92 0 1 0 1.84 0a0.92 0.92 0 1 0 -1.84 0M270.93 470.39a0.92 0.92 0 1 0 1.84 0a0.92 0.92 0 1 0 -1.84 0M270.58 461.47a0.92 0.92 0 1 0 1.84 0a0.92 0.92 0 1 0 -1.84 0M270.79 482.98a0.92 0.92 0 1 0 1.84 0a0.92 0.92 0 1 0 -1.84 0M270.85 451.66a0.92 0.92 0 1 0 1.84 0a0.92 0.92 0 1 0 -1.84 0M270.9 470.45a0.92 0.92 0 1 0 1.84 0a0.92 0.92 0 1 0 -1.84 0M271.5 466.58a0.92 0.92 0 1 0 1.84 0a0.92 0.92 0 1 0 -1.84 0M269.33 465.84a0.92 0.92 0 1 0 1.84 0a0.92 0.92 0 1 0 -1.84 0M271.13 464.32a0.92 0.92 0 1 0 1.84 0a0.92 0.92 0 1 0 -1.84 0M269.44 463.51a0.92 0.92 0 1 0 1.84 0a0.92 0.92 0 1 0 -1.84 0M271.95 476.92a0.92 0.92 0 1 0 1.84 0a0.92 0.92 0 1 0 -1.84 0M271.15 466.76a0.92 0.92 0 1 0 1.84 0a0.92 0.92 0 1 0 -1.84 0M271.22 473.86a0.92 0.92 0 1 0 1.84 0a0.92 0.92 0 1 0 -1.84 0M270.21 463.26a0.92 0.92 0 1 0 1.84 0a0.92 0.92 0 1 0 -1.84 0M271.68 468.13a0.92 0.92 0 1 0 1.84 0a0.92 0.92 0 1 0 -1.84 0M271.71 465.65a0.92 0.92 0 1 0 1.84 0a0.92 0.92 0 1 0 -1.84 0M272.39 466.05a0.92 0.92 0 1 0 1.84 0a0.92 0.92 0 1 0 -1.84 0M271.31 463.59a0.92 0.92 0 1 0 1.84 0a0.92 0.92 0 1 0 -1.84 0M270.01 463.09a0.92 0.92 0 1 0 1.84 0a0.92 0.92 0 1 0 -1.84 0M271.52 463.2a0.92 0.92 0 1 0 1.84 0a0.92 0.92 0 1 0 -1.84 0M269.14 463.7a0.92 0.92 0 1 0 1.84 0a0.92 0.92 0 1 0 -1.84 0M271.76 471.77a0.92 0.92 0 1 0 1.84 0a0.92 0.92 0 1 0 -1.84 0M270.46 475.38a0.92 0.92 0 1 0 1.84 0a0.92 0.92 0 1 0 -1.84 0M271.78 465.02a0.92 0.92 0 1 0 1.84 0a0.92 0.92 0 1 0 -1.84 0M269.71 465.9a0.92 0.92 0 1 0 1.84 0a0.92 0.92 0 1 0 -1.84 0M271.09 479.62a0.92 0.92 0 1 0 1.84 0a0.92 0.92 0 1 0 -1.84 0M269.95 472.21a0.92 0.92 0 1 0 1.84 0a0.92 0.92 0 1 0 -1.84 0M269.86 458.81a0.92 0.92 0 1 0 1.84 0a0.92 0.92 0 1 0 -1.84 0M270.16 468.31a0.92 0.92 0 1 0 1.84 0a0.92 0.92 0 1 0 -1.84 0M271.49 481.25a0.92 0.92 0 1 0 1.84 0a0.92 0.92 0 1 0 -1.84 0M270.71 458.96a0.92 0.92 0 1 0 1.84 0a0.92 0.92 0 1 0 -1.84 0M271.06 466.86a0.92 0.92 0 1 0 1.84 0a0.92 0.92 0 1 0 -1.84 0M271.69 459.01a0.92 0.92 0 1 0 1.84 0a0.92 0.92 0 1 0 -1.84 0M272.03 476.74a0.92 0.92 0 1 0 1.84 0a0.92 0.92 0 1 0 -1.84 0M269.99 462.61a0.92 0.92 0 1 0 1.84 0a0.92 0.92 0 1 0 -1.84 0M271.7 464.8a0.92 0.92 0 1 0 1.84 0a0.92 0.92 0 1 0 -1.84 0M271.99 469.83a0.92 0.92 0 1 0 1.84 0a0.92 0.92 0 1 0 -1.84 0M272.02 470.18a0.92 0.92 0 1 0 1.84 0a0.92 0.92 0 1 0 -1.84 0M270.46 467.94a0.92 0.92 0 1 0 1.84 0a0.92 0.92 0 1 0 -1.84 0M270.88 462.12a0.92 0.92 0 1 0 1.84 0a0.92 0.92 0 1 0 -1.84 0M271.99 461.63a0.92 0.92 0 1 0 1.84 0a0.92 0.92 0 1 0 -1.84 0M270.43 476.71a0.92 0.92 0 1 0 1.84 0a0.92 0.92 0 1 0 -1.84 0M270.93 469.57a0.92 0.92 0 1 0 1.84 0a0.92 0.92 0 1 0 -1.84 0M271.33 459.94a0.92 0.92 0 1 0 1.84 0a0.92 0.92 0 1 0 -1.84 0M272.21 468.55a0.92 0.92 0 1 0 1.84 0a0.92 0.92 0 1 0 -1.84 0M270.48 457.44a0.92 0.92 0 1 0 1.84 0a0.92 0.92 0 1 0 -1.84 0M271.43 474.23a0.92 0.92 0 1 0 1.84 0a0.92 0.92 0 1 0 -1.84 0M270.22 475.35a0.92 0.92 0 1 0 1.84 0a0.92 0.92 0 1 0 -1.84 0M270.17 458.64a0.92 0.92 0 1 0 1.84 0a0.92 0.92 0 1 0 -1.84 0M270.89 464.59a0.92 0.92 0 1 0 1.84 0a0.92 0.92 0 1 0 -1.84 0M271.55 462.04a0.92 0.92 0 1 0 1.84 0a0.92 0.92 0 1 0 -1.84 0M271.47 465.47a0.92 0.92 0 1 0 1.84 0a0.92 0.92 0 1 0 -1.84 0M272.19 474.07a0.92 0.92 0 1 0 1.84 0a0.92 0.92 0 1 0 -1.84 0M270.62 479.06a0.92 0.92 0 1 0 1.84 0a0.92 0.92 0 1 0 -1.84 0M271.09 468.63a0.92 0.92 0 1 0 1.84 0a0.92 0.92 0 1 0 -1.84 0M270.9 463.11a0.92 0.92 0 1 0 1.84 0a0.92 0.92 0 1 0 -1.84 0M270.15 470.69a0.92 0.92 0 1 0 1.84 0a0.92 0.92 0 1 0 -1.84 0M272.41 466.11a0.92 0.92 0 1 0 1.84 0a0.92 0.92 0 1 0 -1.84 0M269.55 463.96a0.92 0.92 0 1 0 1.84 0a0.92 0.92 0 1 0 -1.84 0M270.16 466.15a0.92 0.92 0 1 0 1.84 0a0.92 0.92 0 1 0 -1.84 0M270.45 479.79a0.92 0.92 0 1 0 1.84 0a0.92 0.92 0 1 0 -1.84 0M271.4 460.78a0.92 0.92 0 1 0 1.84 0a0.92 0.92 0 1 0 -1.84 0M271.41 474.13a0.92 0.92 0 1 0 1.84 0a0.92 0.92 0 1 0 -1.84 0M270.7 452.56a0.92 0.92 0 1 0 1.84 0a0.92 0.92 0 1 0 -1.84 0M271.72 477.4a0.92 0.92 0 1 0 1.84 0a0.92 0.92 0 1 0 -1.84 0M271.34 475.42a0.92 0.92 0 1 0 1.84 0a0.92 0.92 0 1 0 -1.84 0M270.61 480.21a0.92 0.92 0 1 0 1.84 0a0.92 0.92 0 1 0 -1.84 0M272.72 464.16a0.92 0.92 0 1 0 1.84 0a0.92 0.92 0 1 0 -1.84 0M272.02 472.81a0.92 0.92 0 1 0 1.84 0a0.92 0.92 0 1 0 -1.84 0M270.58 457.96a0.92 0.92 0 1 0 1.84 0a0.92 0.92 0 1 0 -1.84 0M272.06 472.77a0.92 0.92 0 1 0 1.84 0a0.92 0.92 0 1 0 -1.84 0M269.44 463.48a0.92 0.92 0 1 0 1.84 0a0.92 0.92 0 1 0 -1.84 0M270.58 475.73a0.92 0.92 0 1 0 1.84 0a0.92 0.92 0 1 0 -1.84 0M270.76 474.4a0.92 0.92 0 1 0 1.84 0a0.92 0.92 0 1 0 -1.84 0M271.83 457.16a0.92 0.92 0 1 0 1.84 0a0.92 0.92 0 1 0 -1.84 0M270.36 472.36a0.92 0.92 0 1 0 1.84 0a0.92 0.92 0 1 0 -1.84 0M270.57 469.81a0.92 0.92 0 1 0 1.84 0a0.92 0.92 0 1 0 -1.84 0M270.2 475.62a0.92 0.92 0 1 0 1.84 0a0.92 0.92 0 1 0 -1.84 0M272.3 462.63a0.92 0.92 0 1 0 1.84 0a0.92 0.92 0 1 0 -1.84 0M269.85 469.25a0.92 0.92 0 1 0 1.84 0a0.92 0.92 0 1 0 -1.84 0M272.23 469.72a0.92 0.92 0 1 0 1.84 0a0.92 0.92 0 1 0 -1.84 0M270.47 471.83a0.92 0.92 0 1 0 1.84 0a0.92 0.92 0 1 0 -1.84 0M271.19 462.78a0.92 0.92 0 1 0 1.84 0a0.92 0.92 0 1 0 -1.84 0M272.55 462.8a0.92 0.92 0 1 0 1.84 0a0.92 0.92 0 1 0 -1.84 0M270.35 474.75a0.92 0.92 0 1 0 1.84 0a0.92 0.92 0 1 0 -1.84 0M271.02 481.53a0.92 0.92 0 1 0 1.84 0a0.92 0.92 0 1 0 -1.84 0M271.3 458.62a0.92 0.92 0 1 0 1.84 0a0.92 0.92 0 1 0 -1.84 0M271.03 485.09a0.92 0.92 0 1 0 1.84 0a0.92 0.92 0 1 0 -1.84 0M270.86 482.62a0.92 0.92 0 1 0 1.84 0a0.92 0.92 0 1 0 -1.84 0M271.2 481.69a0.92 0.92 0 1 0 1.84 0a0.92 0.92 0 1 0 -1.84 0M270.34 468.37a0.92 0.92 0 1 0 1.84 0a0.92 0.92 0 1 0 -1.84 0M270.64 454.3a0.92 0.92 0 1 0 1.84 0a0.92 0.92 0 1 0 -1.84 0M270.2 456.48a0.92 0.92 0 1 0 1.84 0a0.92 0.92 0 1 0 -1.84 0M271.25 475.99a0.92 0.92 0 1 0 1.84 0a0.92 0.92 0 1 0 -1.84 0M271.1 456.69a0.92 0.92 0 1 0 1.84 0a0.92 0.92 0 1 0 -1.84 0M272.08 464.88a0.92 0.92 0 1 0 1.84 0a0.92 0.92 0 1 0 -1.84 0M269.76 470.11a0.92 0.92 0 1 0 1.84 0a0.92 0.92 0 1 0 -1.84 0M271.6 469.68a0.92 0.92 0 1 0 1.84 0a0.92 0.92 0 1 0 -1.84 0M270.89 457.22a0.92 0.92 0 1 0 1.84 0a0.92 0.92 0 1 0 -1.84 0M271.08 463.83a0.92 0.92 0 1 0 1.84 0a0.92 0.92 0 1 0 -1.84 0M272.15 468.8a0.92 0.92 0 1 0 1.84 0a0.92 0.92 0 1 0 -1.84 0M271.03 459.74a0.92 0.92 0 1 0 1.84 0a0.92 0.92 0 1 0 -1.84 0M270.77 471.34a0.92 0.92 0 1 0 1.84 0a0.92 0.92 0 1 0 -1.84 0M271.19 481.18a0.92 0.92 0 1 0 1.84 0a0.92 0.92 0 1 0 -1.84 0M269.82 471.43a0.92 0.92 0 1 0 1.84 0a0.92 0.92 0 1 0 -1.84 0M271.53 481.46a0.92 0.92 0 1 0 1.84 0a0.92 0.92 0 1 0 -1.84 0M271.02 476.72a0.92 0.92 0 1 0 1.84 0a0.92 0.92 0 1 0 -1.84 0M270.12 457.17a0.92 0.92 0 1 0 1.84 0a0.92 0.92 0 1 0 -1.84 0M270.92 470.5a0.92 0.92 0 1 0 1.84 0a0.92 0.92 0 1 0 -1.84 0M272.25 473.18a0.92 0.92 0 1 0 1.84 0a0.92 0.92 0 1 0 -1.84 0M272.22 475.87a0.92 0.92 0 1 0 1.84 0a0.92 0.92 0 1 0 -1.84 0M270.67 462.86a0.92 0.92 0 1 0 1.84 0a0.92 0.92 0 1 0 -1.84 0M270.2 467.11a0.92 0.92 0 1 0 1.84 0a0.92 0.92 0 1 0 -1.84 0M272.5 470.44a0.92 0.92 0 1 0 1.84 0a0.92 0.92 0 1 0 -1.84 0M270.68 477.98a0.92 0.92 0 1 0 1.84 0a0.92 0.92 0 1 0 -1.84 0M269.78 459.22a0.92 0.92 0 1 0 1.84 0a0.92 0.92 0 1 0 -1.84 0M270.07 469.78a0.92 0.92 0 1 0 1.84 0a0.92 0.92 0 1 0 -1.84 0M270.88 461.41a0.92 0.92 0 1 0 1.84 0a0.92 0.92 0 1 0 -1.84 0M271.13 484.12a0.92 0.92 0 1 0 1.84 0a0.92 0.92 0 1 0 -1.84 0M269.17 463.36a0.92 0.92 0 1 0 1.84 0a0.92 0.92 0 1 0 -1.84 0M270.81 483.55a0.92 0.92 0 1 0 1.84 0a0.92 0.92 0 1 0 -1.84 0M271.2 453.49a0.92 0.92 0 1 0 1.84 0a0.92 0.92 0 1 0 -1.84 0M270.83 451.35a0.92 0.92 0 1 0 1.84 0a0.92 0.92 0 1 0 -1.84 0M269.84 465.55a0.92 0.92 0 1 0 1.84 0a0.92 0.92 0 1 0 -1.84 0M271.69 466.56a0.92 0.92 0 1 0 1.84 0a0.92 0.92 0 1 0 -1.84 0M270.76 468.83a0.92 0.92 0 1 0 1.84 0a0.92 0.92 0 1 0 -1.84 0M271.13 450.75a0.92 0.92 0 1 0 1.84 0a0.92 0.92 0 1 0 -1.84 0M270.94 474.31a0.92 0.92 0 1 0 1.84 0a0.92 0.92 0 1 0 -1.84 0M271.87 473.13a0.92 0.92 0 1 0 1.84 0a0.92 0.92 0 1 0 -1.84 0M271.03 462.44a0.92 0.92 0 1 0 1.84 0a0.92 0.92 0 1 0 -1.84 0M272.56 467.35a0.92 0.92 0 1 0 1.84 0a0.92 0.92 0 1 0 -1.84 0M272.13 461.81a0.92 0.92 0 1 0 1.84 0a0.92 0.92 0 1 0 -1.84 0M271.77 469.26a0.92 0.92 0 1 0 1.84 0a0.92 0.92 0 1 0 -1.84 0M270.94 461.77a0.92 0.92 0 1 0 1.84 0a0.92 0.92 0 1 0 -1.84 0M271.41 464.13a0.92 0.92 0 1 0 1.84 0a0.92 0.92 0 1 0 -1.84 0M270.56 467.88a0.92 0.92 0 1 0 1.84 0a0.92 0.92 0 1 0 -1.84 0M269.74 472.88a0.92 0.92 0 1 0 1.84 0a0.92 0.92 0 1 0 -1.84 0M271.81 457.97a0.92 0.92 0 1 0 1.84 0a0.92 0.92 0 1 0 -1.84 0M271.68 476.62a0.92 0.92 0 1 0 1.84 0a0.92 0.92 0 1 0 -1.84 0M271.64 459.04a0.92 0.92 0 1 0 1.84 0a0.92 0.92 0 1 0 -1.84 0M272.22 465.93a0.92 0.92 0 1 0 1.84 0a0.92 0.92 0 1 0 -1.84 0M271.06 456.3a0.92 0.92 0 1 0 1.84 0a0.92 0.92 0 1 0 -1.84 0M272.65 467.9a0.92 0.92 0 1 0 1.84 0a0.92 0.92 0 1 0 -1.84 0M270.9 472.99a0.92 0.92 0 1 0 1.84 0a0.92 0.92 0 1 0 -1.84 0M272.59 467.57a0.92 0.92 0 1 0 1.84 0a0.92 0.92 0 1 0 -1.84 0M270.56 452.64a0.92 0.92 0 1 0 1.84 0a0.92 0.92 0 1 0 -1.84 0M270.6 472.09a0.92 0.92 0 1 0 1.84 0a0.92 0.92 0 1 0 -1.84 0M271.23 465.92a0.92 0.92 0 1 0 1.84 0a0.92 0.92 0 1 0 -1.84 0M271.31 454.69a0.92 0.92 0 1 0 1.84 0a0.92 0.92 0 1 0 -1.84 0M271.05 469.44a0.92 0.92 0 1 0 1.84 0a0.92 0.92 0 1 0 -1.84 0M272.1 464.36a0.92 0.92 0 1 0 1.84 0a0.92 0.92 0 1 0 -1.84 0M270.59 472.34a0.92 0.92 0 1 0 1.84 0a0.92 0.92 0 1 0 -1.84 0M271.59 470.61a0.92 0.92 0 1 0 1.84 0a0.92 0.92 0 1 0 -1.84 0M272.2 463.58a0.92 0.92 0 1 0 1.84 0a0.92 0.92 0 1 0 -1.84 0M271.34 461.71a0.92 0.92 0 1 0 1.84 0a0.92 0.92 0 1 0 -1.84 0M269.66 460.41a0.92 0.92 0 1 0 1.84 0a0.92 0.92 0 1 0 -1.84 0M271.48 471.94a0.92 0.92 0 1 0 1.84 0a0.92 0.92 0 1 0 -1.84 0M269.4 472a0.92 0.92 0 1 0 1.84 0a0.92 0.92 0 1 0 -1.84 0M270.31 466.42a0.92 0.92 0 1 0 1.84 0a0.92 0.92 0 1 0 -1.84 0M269.43 462.33a0.92 0.92 0 1 0 1.84 0a0.92 0.92 0 1 0 -1.84 0M272.05 462.41a0.92 0.92 0 1 0 1.84 0a0.92 0.92 0 1 0 -1.84 0M270.21 458.42a0.92 0.92 0 1 0 1.84 0a0.92 0.92 0 1 0 -1.84 0M271.84 462.17a0.92 0.92 0 1 0 1.84 0a0.92 0.92 0 1 0 -1.84 0M269.83 460.22a0.92 0.92 0 1 0 1.84 0a0.92 0.92 0 1 0 -1.84 0M269.97 470.66a0.92 0.92 0 1 0 1.84 0a0.92 0.92 0 1 0 -1.84 0M271.51 474.83a0.92 0.92 0 1 0 1.84 0a0.92 0.92 0 1 0 -1.84 0M272.62 462.07a0.92 0.92 0 1 0 1.84 0a0.92 0.92 0 1 0 -1.84 0M269.72 460.78a0.92 0.92 0 1 0 1.84 0a0.92 0.92 0 1 0 -1.84 0M271.42 464.46a0.92 0.92 0 1 0 1.84 0a0.92 0.92 0 1 0 -1.84 0M270.72 475.98a0.92 0.92 0 1 0 1.84 0a0.92 0.92 0 1 0 -1.84 0M271.31 475.31a0.92 0.92 0 1 0 1.84 0a0.92 0.92 0 1 0 -1.84 0M269.88 459.85a0.92 0.92 0 1 0 1.84 0a0.92 0.92 0 1 0 -1.84 0M269.34 468.01a0.92 0.92 0 1 0 1.84 0a0.92 0.92 0 1 0 -1.84 0M269.89 459.73a0.92 0.92 0 1 0 1.84 0a0.92 0.92 0 1 0 -1.84 0M272.14 472.69a0.92 0.92 0 1 0 1.84 0a0.92 0.92 0 1 0 -1.84 0M270.95 474.1a0.92 0.92 0 1 0 1.84 0a0.92 0.92 0 1 0 -1.84 0M271.41 462.02a0.92 0.92 0 1 0 1.84 0a0.92 0.92 0 1 0 -1.84 0M270.49 455.85a0.92 0.92 0 1 0 1.84 0a0.92 0.92 0 1 0 -1.84 0M271.18 454.95a0.92 0.92 0 1 0 1.84 0a0.92 0.92 0 1 0 -1.84 0M272.29 471.56a0.92 0.92 0 1 0 1.84 0a0.92 0.92 0 1 0 -1.84 0M269.9 469.2a0.92 0.92 0 1 0 1.84 0a0.92 0.92 0 1 0 -1.84 0M271.7 459.67a0.92 0.92 0 1 0 1.84 0a0.92 0.92 0 1 0 -1.84 0M271.61 477.34a0.92 0.92 0 1 0 1.84 0a0.92 0.92 0 1 0 -1.84 0M271.61 482.82a0.92 0.92 0 1 0 1.84 0a0.92 0.92 0 1 0 -1.84 0M271.2 466.64a0.92 0.92 0 1 0 1.84 0a0.92 0.92 0 1 0 -1.84 0M271.43 461.07a0.92 0.92 0 1 0 1.84 0a0.92 0.92 0 1 0 -1.84 0M270.57 475.71a0.92 0.92 0 1 0 1.84 0a0.92 0.92 0 1 0 -1.84 0M271.4 481.67a0.92 0.92 0 1 0 1.84 0a0.92 0.92 0 1 0 -1.84 0M270.25 464.42a0.92 0.92 0 1 0 1.84 0a0.92 0.92 0 1 0 -1.84 0M271.48 462.39a0.92 0.92 0 1 0 1.84 0a0.92 0.92 0 1 0 -1.84 0M271.5 462.56a0.92 0.92 0 1 0 1.84 0a0.92 0.92 0 1 0 -1.84 0M272.78 464.84a0.92 0.92 0 1 0 1.84 0a0.92 0.92 0 1 0 -1.84 0M271.26 451.52a0.92 0.92 0 1 0 1.84 0a0.92 0.92 0 1 0 -1.84 0M269.62 467.85a0.92 0.92 0 1 0 1.84 0a0.92 0.92 0 1 0 -1.84 0M270.81 486.62a0.92 0.92 0 1 0 1.84 0a0.92 0.92 0 1 0 -1.84 0M270.49 470.83a0.92 0.92 0 1 0 1.84 0a0.92 0.92 0 1 0 -1.84 0M270.62 468.18a0.92 0.92 0 1 0 1.84 0a0.92 0.92 0 1 0 -1.84 0M271.69 471.48a0.92 0.92 0 1 0 1.84 0a0.92 0.92 0 1 0 -1.84 0M270.15 466.04a0.92 0.92 0 1 0 1.84 0a0.92 0.92 0 1 0 -1.84 0"/>
<line x1="269.3" y1="466.87" x2="274.5" y2="466.87" stroke="#999" stroke-width="0.6"/>
<text transform="translate(275.5 506.5) rotate(-45)" font-size="6.5" fill="#222" text-anchor="end"><tspan font-style="italic">CRLF2</tspan>-r</text>
<line x1="280" y1="497.5" x2="280" y2="501.3" stroke="#2a2a2a" stroke-width="0.8"/>
<path fill="#f0e23a" d="M278.89 472.4a0.92 0.92 0 1 0 1.84 0a0.92 0.92 0 1 0 -1.84 0M279.04 452.65a0.92 0.92 0 1 0 1.84 0a0.92 0.92 0 1 0 -1.84 0M279.16 467.56a0.92 0.92 0 1 0 1.84 0a0.92 0.92 0 1 0 -1.84 0M278.82 452.95a0.92 0.92 0 1 0 1.84 0a0.92 0.92 0 1 0 -1.84 0M279.59 458.54a0.92 0.92 0 1 0 1.84 0a0.92 0.92 0 1 0 -1.84 0M278.89 467.51a0.92 0.92 0 1 0 1.84 0a0.92 0.92 0 1 0 -1.84 0M278.99 465.36a0.92 0.92 0 1 0 1.84 0a0.92 0.92 0 1 0 -1.84 0M278.96 456.4a0.92 0.92 0 1 0 1.84 0a0.92 0.92 0 1 0 -1.84 0M278.88 466.75a0.92 0.92 0 1 0 1.84 0a0.92 0.92 0 1 0 -1.84 0M278.86 460.65a0.92 0.92 0 1 0 1.84 0a0.92 0.92 0 1 0 -1.84 0M279.6 465.66a0.92 0.92 0 1 0 1.84 0a0.92 0.92 0 1 0 -1.84 0M278.4 466.76a0.92 0.92 0 1 0 1.84 0a0.92 0.92 0 1 0 -1.84 0M278.94 458.26a0.92 0.92 0 1 0 1.84 0a0.92 0.92 0 1 0 -1.84 0M279.22 465.59a0.92 0.92 0 1 0 1.84 0a0.92 0.92 0 1 0 -1.84 0M279.06 460.74a0.92 0.92 0 1 0 1.84 0a0.92 0.92 0 1 0 -1.84 0M278.88 459.49a0.92 0.92 0 1 0 1.84 0a0.92 0.92 0 1 0 -1.84 0"/>
<line x1="277.4" y1="462.92" x2="282.6" y2="462.92" stroke="#999" stroke-width="0.6"/>
<text transform="translate(283.6 506.5) rotate(-45)" font-size="6.5" fill="#222" text-anchor="end"><tspan font-style="italic">PAX5</tspan>alt</text>
<line x1="288.4" y1="497.5" x2="288.4" y2="501.3" stroke="#2a2a2a" stroke-width="0.8"/>
<path fill="#d6d6da" d="M287.73 484.25a0.92 0.92 0 1 0 1.84 0a0.92 0.92 0 1 0 -1.84 0M287.74 436.85a0.92 0.92 0 1 0 1.84 0a0.92 0.92 0 1 0 -1.84 0M287.84 459.74a0.92 0.92 0 1 0 1.84 0a0.92 0.92 0 1 0 -1.84 0M287.94 453.23a0.92 0.92 0 1 0 1.84 0a0.92 0.92 0 1 0 -1.84 0M287.15 445.84a0.92 0.92 0 1 0 1.84 0a0.92 0.92 0 1 0 -1.84 0M286.73 449.17a0.92 0.92 0 1 0 1.84 0a0.92 0.92 0 1 0 -1.84 0M287.74 444.43a0.92 0.92 0 1 0 1.84 0a0.92 0.92 0 1 0 -1.84 0M287.2 447.71a0.92 0.92 0 1 0 1.84 0a0.92 0.92 0 1 0 -1.84 0M287.5 452.51a0.92 0.92 0 1 0 1.84 0a0.92 0.92 0 1 0 -1.84 0M287.46 478.78a0.92 0.92 0 1 0 1.84 0a0.92 0.92 0 1 0 -1.84 0M287.89 466.38a0.92 0.92 0 1 0 1.84 0a0.92 0.92 0 1 0 -1.84 0M287.42 460.86a0.92 0.92 0 1 0 1.84 0a0.92 0.92 0 1 0 -1.84 0M287.25 468.77a0.92 0.92 0 1 0 1.84 0a0.92 0.92 0 1 0 -1.84 0M287.23 465.16a0.92 0.92 0 1 0 1.84 0a0.92 0.92 0 1 0 -1.84 0M288.11 450.21a0.92 0.92 0 1 0 1.84 0a0.92 0.92 0 1 0 -1.84 0M287.99 449.22a0.92 0.92 0 1 0 1.84 0a0.92 0.92 0 1 0 -1.84 0M286.95 450.56a0.92 0.92 0 1 0 1.84 0a0.92 0.92 0 1 0 -1.84 0M287.84 462.44a0.92 0.92 0 1 0 1.84 0a0.92 0.92 0 1 0 -1.84 0"/>
<line x1="285.8" y1="451.86" x2="291" y2="451.86" stroke="#999" stroke-width="0.6"/>
<text transform="translate(292 506.5) rotate(-45)" font-size="6.5" fill="#222" text-anchor="end">Others</text>
<line x1="296.7" y1="497.5" x2="296.7" y2="501.3" stroke="#2a2a2a" stroke-width="0.8"/>
<path fill="#8a3078" d="M295.58 423.42a0.92 0.92 0 1 0 1.84 0a0.92 0.92 0 1 0 -1.84 0M296.14 431.72a0.92 0.92 0 1 0 1.84 0a0.92 0.92 0 1 0 -1.84 0M295.88 435.67a0.92 0.92 0 1 0 1.84 0a0.92 0.92 0 1 0 -1.84 0M296.35 441.99a0.92 0.92 0 1 0 1.84 0a0.92 0.92 0 1 0 -1.84 0M295.76 450.28a0.92 0.92 0 1 0 1.84 0a0.92 0.92 0 1 0 -1.84 0M295.03 478.72a0.92 0.92 0 1 0 1.84 0a0.92 0.92 0 1 0 -1.84 0"/>
<line x1="294.1" y1="442.38" x2="299.3" y2="442.38" stroke="#999" stroke-width="0.6"/>
<text transform="translate(300.3 506.5) rotate(-45)" font-size="6.5" fill="#222" text-anchor="end">C/EBPalt (other)</text>
<text transform="translate(206.3 458.6) rotate(-90)" font-size="6.5" fill="#222" text-anchor="middle"><tspan font-style="italic">CEBPA</tspan> expression</text>
<line x1="290.9" y1="414.4" x2="296.6" y2="423.2" stroke="#333" stroke-width="0.7"/>
<line x1="287.8" y1="422.5" x2="296.9" y2="431.6" stroke="#333" stroke-width="0.7"/>
<line x1="278.6" y1="424.5" x2="296.6" y2="432.3" stroke="#333" stroke-width="0.7"/>
<line x1="278.6" y1="432.3" x2="296.6" y2="441.9" stroke="#333" stroke-width="0.7"/>
<circle cx="290.9" cy="414.4" r="3.2" fill="#bb5aae"/>
<text x="290.9" y="416.2" font-size="5" fill="#fff" text-anchor="middle" font-weight="bold">1</text>
<circle cx="287.8" cy="422.5" r="3.2" fill="#bb5aae"/>
<text x="287.8" y="424.3" font-size="5" fill="#fff" text-anchor="middle" font-weight="bold">2</text>
<circle cx="278.6" cy="424.5" r="3.2" fill="#bb5aae"/>
<text x="278.6" y="426.3" font-size="5" fill="#fff" text-anchor="middle" font-weight="bold">3</text>
<circle cx="278.6" cy="432.3" r="3.2" fill="#bb5aae"/>
<text x="278.6" y="434.1" font-size="5" fill="#fff" text-anchor="middle" font-weight="bold">4</text>
<line x1="328.3" y1="422.7" x2="328.3" y2="495.7" stroke="#2a2a2a" stroke-width="1.25"/>
<line x1="327.7" y1="495.7" x2="402.5" y2="495.7" stroke="#2a2a2a" stroke-width="1.25"/>
<line x1="325.1" y1="494.2" x2="328.3" y2="494.2" stroke="#2a2a2a" stroke-width="0.8"/>
<text x="322.2" y="496.33" font-size="6.1" fill="#333" text-anchor="end">4</text>
<line x1="325.1" y1="478.85" x2="328.3" y2="478.85" stroke="#2a2a2a" stroke-width="0.8"/>
<text x="322.2" y="480.98" font-size="6.1" fill="#333" text-anchor="end">5</text>
<line x1="325.1" y1="463.5" x2="328.3" y2="463.5" stroke="#2a2a2a" stroke-width="0.8"/>
<text x="322.2" y="465.63" font-size="6.1" fill="#333" text-anchor="end">6</text>
<line x1="325.1" y1="448.15" x2="328.3" y2="448.15" stroke="#2a2a2a" stroke-width="0.8"/>
<text x="322.2" y="450.28" font-size="6.1" fill="#333" text-anchor="end">7</text>
<line x1="325.1" y1="432.8" x2="328.3" y2="432.8" stroke="#2a2a2a" stroke-width="0.8"/>
<text x="322.2" y="434.94" font-size="6.1" fill="#333" text-anchor="end">8</text>
<line x1="332.9" y1="495.7" x2="332.9" y2="499.5" stroke="#2a2a2a" stroke-width="0.8"/>
<path fill="#dd1c26" d="M331.86 492.67a0.92 0.92 0 1 0 1.84 0a0.92 0.92 0 1 0 -1.84 0M331.91 460.43a0.92 0.92 0 1 0 1.84 0a0.92 0.92 0 1 0 -1.84 0M331.77 492.67a0.92 0.92 0 1 0 1.84 0a0.92 0.92 0 1 0 -1.84 0M331.24 481.67a0.92 0.92 0 1 0 1.84 0a0.92 0.92 0 1 0 -1.84 0M332.04 481.78a0.92 0.92 0 1 0 1.84 0a0.92 0.92 0 1 0 -1.84 0M332.45 481.29a0.92 0.92 0 1 0 1.84 0a0.92 0.92 0 1 0 -1.84 0M332.13 472.57a0.92 0.92 0 1 0 1.84 0a0.92 0.92 0 1 0 -1.84 0M331.8 489.79a0.92 0.92 0 1 0 1.84 0a0.92 0.92 0 1 0 -1.84 0M332.19 477.16a0.92 0.92 0 1 0 1.84 0a0.92 0.92 0 1 0 -1.84 0M331.49 474.63a0.92 0.92 0 1 0 1.84 0a0.92 0.92 0 1 0 -1.84 0M331.88 470.07a0.92 0.92 0 1 0 1.84 0a0.92 0.92 0 1 0 -1.84 0M332.35 476.67a0.92 0.92 0 1 0 1.84 0a0.92 0.92 0 1 0 -1.84 0M332.43 474.18a0.92 0.92 0 1 0 1.84 0a0.92 0.92 0 1 0 -1.84 0M331.96 467.58a0.92 0.92 0 1 0 1.84 0a0.92 0.92 0 1 0 -1.84 0M332.37 476.63a0.92 0.92 0 1 0 1.84 0a0.92 0.92 0 1 0 -1.84 0M331.98 474.96a0.92 0.92 0 1 0 1.84 0a0.92 0.92 0 1 0 -1.84 0M332.01 470.41a0.92 0.92 0 1 0 1.84 0a0.92 0.92 0 1 0 -1.84 0M332.04 478.52a0.92 0.92 0 1 0 1.84 0a0.92 0.92 0 1 0 -1.84 0M332.3 483.72a0.92 0.92 0 1 0 1.84 0a0.92 0.92 0 1 0 -1.84 0M332.24 472.26a0.92 0.92 0 1 0 1.84 0a0.92 0.92 0 1 0 -1.84 0M331.94 481.83a0.92 0.92 0 1 0 1.84 0a0.92 0.92 0 1 0 -1.84 0M332.24 471.25a0.92 0.92 0 1 0 1.84 0a0.92 0.92 0 1 0 -1.84 0M332.06 488.76a0.92 0.92 0 1 0 1.84 0a0.92 0.92 0 1 0 -1.84 0M331.83 469.61a0.92 0.92 0 1 0 1.84 0a0.92 0.92 0 1 0 -1.84 0M332.43 481.4a0.92 0.92 0 1 0 1.84 0a0.92 0.92 0 1 0 -1.84 0M332.44 480.82a0.92 0.92 0 1 0 1.84 0a0.92 0.92 0 1 0 -1.84 0"/>
<line x1="330.3" y1="478.85" x2="335.5" y2="478.85" stroke="#999" stroke-width="0.6"/>
<text transform="translate(336.5 504.7) rotate(-45)" font-size="6.5" fill="#222" text-anchor="end">C/EBPalt (<tspan font-style="italic">CEBPD</tspan>)</text>
<line x1="341" y1="495.7" x2="341" y2="499.5" stroke="#2a2a2a" stroke-width="0.8"/>
<path fill="#d6d6da" d="M340.07 494.2a0.92 0.92 0 1 0 1.84 0a0.92 0.92 0 1 0 -1.84 0M339.84 452.75a0.92 0.92 0 1 0 1.84 0a0.92 0.92 0 1 0 -1.84 0M340.29 466.82a0.92 0.92 0 1 0 1.84 0a0.92 0.92 0 1 0 -1.84 0M339.31 478.9a0.92 0.92 0 1 0 1.84 0a0.92 0.92 0 1 0 -1.84 0M340.15 471.1a0.92 0.92 0 1 0 1.84 0a0.92 0.92 0 1 0 -1.84 0M340.35 475.03a0.92 0.92 0 1 0 1.84 0a0.92 0.92 0 1 0 -1.84 0M340.63 479.07a0.92 0.92 0 1 0 1.84 0a0.92 0.92 0 1 0 -1.84 0M339.84 482.68a0.92 0.92 0 1 0 1.84 0a0.92 0.92 0 1 0 -1.84 0M340.11 482.19a0.92 0.92 0 1 0 1.84 0a0.92 0.92 0 1 0 -1.84 0M339.79 476.85a0.92 0.92 0 1 0 1.84 0a0.92 0.92 0 1 0 -1.84 0M339.97 468.98a0.92 0.92 0 1 0 1.84 0a0.92 0.92 0 1 0 -1.84 0M340.66 479.5a0.92 0.92 0 1 0 1.84 0a0.92 0.92 0 1 0 -1.84 0M340.32 485.63a0.92 0.92 0 1 0 1.84 0a0.92 0.92 0 1 0 -1.84 0M339.69 484.95a0.92 0.92 0 1 0 1.84 0a0.92 0.92 0 1 0 -1.84 0M339.92 478.31a0.92 0.92 0 1 0 1.84 0a0.92 0.92 0 1 0 -1.84 0M340.28 480.32a0.92 0.92 0 1 0 1.84 0a0.92 0.92 0 1 0 -1.84 0M339.8 467.48a0.92 0.92 0 1 0 1.84 0a0.92 0.92 0 1 0 -1.84 0M340.49 480.6a0.92 0.92 0 1 0 1.84 0a0.92 0.92 0 1 0 -1.84 0"/>
<line x1="338.4" y1="478.08" x2="343.6" y2="478.08" stroke="#999" stroke-width="0.6"/>
<text transform="translate(344.6 504.7) rotate(-45)" font-size="6.5" fill="#222" text-anchor="end">Others</text>
<line x1="349.4" y1="495.7" x2="349.4" y2="499.5" stroke="#2a2a2a" stroke-width="0.8"/>
<path fill="#a04a9c" d="M348.75 486.52a0.92 0.92 0 1 0 1.84 0a0.92 0.92 0 1 0 -1.84 0M348.36 465.03a0.92 0.92 0 1 0 1.84 0a0.92 0.92 0 1 0 -1.84 0M348.72 470.64a0.92 0.92 0 1 0 1.84 0a0.92 0.92 0 1 0 -1.84 0M347.99 481.83a0.92 0.92 0 1 0 1.84 0a0.92 0.92 0 1 0 -1.84 0M348.13 478.36a0.92 0.92 0 1 0 1.84 0a0.92 0.92 0 1 0 -1.84 0M347.79 471.64a0.92 0.92 0 1 0 1.84 0a0.92 0.92 0 1 0 -1.84 0M348.29 482.68a0.92 0.92 0 1 0 1.84 0a0.92 0.92 0 1 0 -1.84 0"/>
<line x1="346.8" y1="475.78" x2="352" y2="475.78" stroke="#999" stroke-width="0.6"/>
<text transform="translate(353 504.7) rotate(-45)" font-size="6.5" fill="#222" text-anchor="end">C/EBPalt (other)</text>
<line x1="357.9" y1="495.7" x2="357.9" y2="499.5" stroke="#2a2a2a" stroke-width="0.8"/>
<path fill="#f0e23a" d="M356.97 481.92a0.92 0.92 0 1 0 1.84 0a0.92 0.92 0 1 0 -1.84 0M356.93 458.89a0.92 0.92 0 1 0 1.84 0a0.92 0.92 0 1 0 -1.84 0M356.79 465.87a0.92 0.92 0 1 0 1.84 0a0.92 0.92 0 1 0 -1.84 0M357.24 478.81a0.92 0.92 0 1 0 1.84 0a0.92 0.92 0 1 0 -1.84 0M356.67 467.87a0.92 0.92 0 1 0 1.84 0a0.92 0.92 0 1 0 -1.84 0M357.03 477.07a0.92 0.92 0 1 0 1.84 0a0.92 0.92 0 1 0 -1.84 0M357.53 468.92a0.92 0.92 0 1 0 1.84 0a0.92 0.92 0 1 0 -1.84 0M357.7 473.28a0.92 0.92 0 1 0 1.84 0a0.92 0.92 0 1 0 -1.84 0M356.8 466.19a0.92 0.92 0 1 0 1.84 0a0.92 0.92 0 1 0 -1.84 0M356.46 470.91a0.92 0.92 0 1 0 1.84 0a0.92 0.92 0 1 0 -1.84 0M357.7 466.99a0.92 0.92 0 1 0 1.84 0a0.92 0.92 0 1 0 -1.84 0M357 469.05a0.92 0.92 0 1 0 1.84 0a0.92 0.92 0 1 0 -1.84 0M356.67 476.81a0.92 0.92 0 1 0 1.84 0a0.92 0.92 0 1 0 -1.84 0M356.53 474.25a0.92 0.92 0 1 0 1.84 0a0.92 0.92 0 1 0 -1.84 0M356.56 472.72a0.92 0.92 0 1 0 1.84 0a0.92 0.92 0 1 0 -1.84 0M356.69 472.43a0.92 0.92 0 1 0 1.84 0a0.92 0.92 0 1 0 -1.84 0"/>
<line x1="355.3" y1="471.18" x2="360.5" y2="471.18" stroke="#999" stroke-width="0.6"/>
<text transform="translate(361.5 504.7) rotate(-45)" font-size="6.5" fill="#222" text-anchor="end"><tspan font-style="italic">PAX5</tspan>alt</text>
<line x1="366.3" y1="495.7" x2="366.3" y2="499.5" stroke="#2a2a2a" stroke-width="0.8"/>
<path fill="#28984a" d="M365.18 483.45a0.92 0.92 0 1 0 1.84 0a0.92 0.92 0 1 0 -1.84 0M365.36 440.47a0.92 0.92 0 1 0 1.84 0a0.92 0.92 0 1 0 -1.84 0M365.59 471.87a0.92 0.92 0 1 0 1.84 0a0.92 0.92 0 1 0 -1.84 0M365.51 459.52a0.92 0.92 0 1 0 1.84 0a0.92 0.92 0 1 0 -1.84 0M364.91 460.8a0.92 0.92 0 1 0 1.84 0a0.92 0.92 0 1 0 -1.84 0M366.05 477.87a0.92 0.92 0 1 0 1.84 0a0.92 0.92 0 1 0 -1.84 0M365.51 477.25a0.92 0.92 0 1 0 1.84 0a0.92 0.92 0 1 0 -1.84 0M365.11 472.8a0.92 0.92 0 1 0 1.84 0a0.92 0.92 0 1 0 -1.84 0M364.98 478.14a0.92 0.92 0 1 0 1.84 0a0.92 0.92 0 1 0 -1.84 0M365.66 471.67a0.92 0.92 0 1 0 1.84 0a0.92 0.92 0 1 0 -1.84 0M365.68 465.79a0.92 0.92 0 1 0 1.84 0a0.92 0.92 0 1 0 -1.84 0"/>
<line x1="363.7" y1="468.87" x2="368.9" y2="468.87" stroke="#999" stroke-width="0.6"/>
<text transform="translate(369.9 504.7) rotate(-45)" font-size="6.5" fill="#222" text-anchor="end"><tspan font-style="italic">IGH::IGF2BP1</tspan></text>
<line x1="374.2" y1="495.7" x2="374.2" y2="499.5" stroke="#2a2a2a" stroke-width="0.8"/>
<path fill="#178a3c" d="M373.53 488.06a0.92 0.92 0 1 0 1.84 0a0.92 0.92 0 1 0 -1.84 0M373.2 440.47a0.92 0.92 0 1 0 1.84 0a0.92 0.92 0 1 0 -1.84 0M372.8 474.9a0.92 0.92 0 1 0 1.84 0a0.92 0.92 0 1 0 -1.84 0M373.52 468.63a0.92 0.92 0 1 0 1.84 0a0.92 0.92 0 1 0 -1.84 0M373.92 469.42a0.92 0.92 0 1 0 1.84 0a0.92 0.92 0 1 0 -1.84 0M372.84 484.07a0.92 0.92 0 1 0 1.84 0a0.92 0.92 0 1 0 -1.84 0M372.99 456.97a0.92 0.92 0 1 0 1.84 0a0.92 0.92 0 1 0 -1.84 0M373.57 464.18a0.92 0.92 0 1 0 1.84 0a0.92 0.92 0 1 0 -1.84 0M372.95 448.51a0.92 0.92 0 1 0 1.84 0a0.92 0.92 0 1 0 -1.84 0M373.71 484a0.92 0.92 0 1 0 1.84 0a0.92 0.92 0 1 0 -1.84 0M372.89 471.34a0.92 0.92 0 1 0 1.84 0a0.92 0.92 0 1 0 -1.84 0M373.78 473.14a0.92 0.92 0 1 0 1.84 0a0.92 0.92 0 1 0 -1.84 0M373.17 475.47a0.92 0.92 0 1 0 1.84 0a0.92 0.92 0 1 0 -1.84 0M372.8 480.37a0.92 0.92 0 1 0 1.84 0a0.92 0.92 0 1 0 -1.84 0M372.24 471.07a0.92 0.92 0 1 0 1.84 0a0.92 0.92 0 1 0 -1.84 0M372.43 469.63a0.92 0.92 0 1 0 1.84 0a0.92 0.92 0 1 0 -1.84 0M372.8 464.28a0.92 0.92 0 1 0 1.84 0a0.92 0.92 0 1 0 -1.84 0M373.82 471.37a0.92 0.92 0 1 0 1.84 0a0.92 0.92 0 1 0 -1.84 0M373.68 477.71a0.92 0.92 0 1 0 1.84 0a0.92 0.92 0 1 0 -1.84 0M373.58 474.99a0.92 0.92 0 1 0 1.84 0a0.92 0.92 0 1 0 -1.84 0M372.87 463.75a0.92 0.92 0 1 0 1.84 0a0.92 0.92 0 1 0 -1.84 0M373.54 467.24a0.92 0.92 0 1 0 1.84 0a0.92 0.92 0 1 0 -1.84 0M373.59 482.04a0.92 0.92 0 1 0 1.84 0a0.92 0.92 0 1 0 -1.84 0M373.09 461.89a0.92 0.92 0 1 0 1.84 0a0.92 0.92 0 1 0 -1.84 0M372.66 480.61a0.92 0.92 0 1 0 1.84 0a0.92 0.92 0 1 0 -1.84 0M373.22 463.16a0.92 0.92 0 1 0 1.84 0a0.92 0.92 0 1 0 -1.84 0M372.62 475.74a0.92 0.92 0 1 0 1.84 0a0.92 0.92 0 1 0 -1.84 0M372.91 458.74a0.92 0.92 0 1 0 1.84 0a0.92 0.92 0 1 0 -1.84 0M373.14 456.44a0.92 0.92 0 1 0 1.84 0a0.92 0.92 0 1 0 -1.84 0M372.45 476.72a0.92 0.92 0 1 0 1.84 0a0.92 0.92 0 1 0 -1.84 0M373.74 460.19a0.92 0.92 0 1 0 1.84 0a0.92 0.92 0 1 0 -1.84 0M372.88 467.76a0.92 0.92 0 1 0 1.84 0a0.92 0.92 0 1 0 -1.84 0"/>
<line x1="371.6" y1="471.18" x2="376.8" y2="471.18" stroke="#999" stroke-width="0.6"/>
<text transform="translate(377.8 504.7) rotate(-45)" font-size="6.5" fill="#222" text-anchor="end"><tspan font-style="italic">ETV6::RUNX1</tspan></text>
<line x1="382.2" y1="495.7" x2="382.2" y2="499.5" stroke="#2a2a2a" stroke-width="0.8"/>
<path fill="#9cc83c" d="M381.04 491.13a0.92 0.92 0 1 0 1.84 0a0.92 0.92 0 1 0 -1.84 0M381.08 461.96a0.92 0.92 0 1 0 1.84 0a0.92 0.92 0 1 0 -1.84 0M381.02 462.83a0.92 0.92 0 1 0 1.84 0a0.92 0.92 0 1 0 -1.84 0M381.63 466.32a0.92 0.92 0 1 0 1.84 0a0.92 0.92 0 1 0 -1.84 0M381.08 471.82a0.92 0.92 0 1 0 1.84 0a0.92 0.92 0 1 0 -1.84 0M381.58 466.41a0.92 0.92 0 1 0 1.84 0a0.92 0.92 0 1 0 -1.84 0M380.99 469.24a0.92 0.92 0 1 0 1.84 0a0.92 0.92 0 1 0 -1.84 0M380.6 470.24a0.92 0.92 0 1 0 1.84 0a0.92 0.92 0 1 0 -1.84 0M380.97 470.38a0.92 0.92 0 1 0 1.84 0a0.92 0.92 0 1 0 -1.84 0M381.15 472.38a0.92 0.92 0 1 0 1.84 0a0.92 0.92 0 1 0 -1.84 0M381.87 465.81a0.92 0.92 0 1 0 1.84 0a0.92 0.92 0 1 0 -1.84 0"/>
<line x1="379.6" y1="466.57" x2="384.8" y2="466.57" stroke="#999" stroke-width="0.6"/>
<text transform="translate(385.8 504.7) rotate(-45)" font-size="6.5" fill="#222" text-anchor="end"><tspan font-style="italic">ETV6::RUNX1</tspan>-like</text>
<line x1="390.7" y1="495.7" x2="390.7" y2="499.5" stroke="#2a2a2a" stroke-width="0.8"/>
<path fill="#2566c4" d="M389.3 489.59a0.92 0.92 0 1 0 1.84 0a0.92 0.92 0 1 0 -1.84 0M389.97 425.12a0.92 0.92 0 1 0 1.84 0a0.92 0.92 0 1 0 -1.84 0M388.13 473.91a0.92 0.92 0 1 0 1.84 0a0.92 0.92 0 1 0 -1.84 0M389.88 489.59a0.92 0.92 0 1 0 1.84 0a0.92 0.92 0 1 0 -1.84 0M390.93 473.15a0.92 0.92 0 1 0 1.84 0a0.92 0.92 0 1 0 -1.84 0M390.13 454.37a0.92 0.92 0 1 0 1.84 0a0.92 0.92 0 1 0 -1.84 0M388.47 474.3a0.92 0.92 0 1 0 1.84 0a0.92 0.92 0 1 0 -1.84 0M389.94 462.55a0.92 0.92 0 1 0 1.84 0a0.92 0.92 0 1 0 -1.84 0M390.38 449.3a0.92 0.92 0 1 0 1.84 0a0.92 0.92 0 1 0 -1.84 0M390.46 465.68a0.92 0.92 0 1 0 1.84 0a0.92 0.92 0 1 0 -1.84 0M391.15 476.68a0.92 0.92 0 1 0 1.84 0a0.92 0.92 0 1 0 -1.84 0M391.41 464.89a0.92 0.92 0 1 0 1.84 0a0.92 0.92 0 1 0 -1.84 0M389.44 481.18a0.92 0.92 0 1 0 1.84 0a0.92 0.92 0 1 0 -1.84 0M388.93 456.11a0.92 0.92 0 1 0 1.84 0a0.92 0.92 0 1 0 -1.84 0M390.12 445.52a0.92 0.92 0 1 0 1.84 0a0.92 0.92 0 1 0 -1.84 0M389.69 470.07a0.92 0.92 0 1 0 1.84 0a0.92 0.92 0 1 0 -1.84 0M390.82 477.21a0.92 0.92 0 1 0 1.84 0a0.92 0.92 0 1 0 -1.84 0M389.6 476.89a0.92 0.92 0 1 0 1.84 0a0.92 0.92 0 1 0 -1.84 0M390.59 475.31a0.92 0.92 0 1 0 1.84 0a0.92 0.92 0 1 0 -1.84 0M388.99 455.91a0.92 0.92 0 1 0 1.84 0a0.92 0.92 0 1 0 -1.84 0M390.5 459.4a0.92 0.92 0 1 0 1.84 0a0.92 0.92 0 1 0 -1.84 0M391.61 467.69a0.92 0.92 0 1 0 1.84 0a0.92 0.92 0 1 0 -1.84 0M390.77 477.45a0.92 0.92 0 1 0 1.84 0a0.92 0.92 0 1 0 -1.84 0M391.19 465.82a0.92 0.92 0 1 0 1.84 0a0.92 0.92 0 1 0 -1.84 0M390.28 460.67a0.92 0.92 0 1 0 1.84 0a0.92 0.92 0 1 0 -1.84 0M388.14 467.3a0.92 0.92 0 1 0 1.84 0a0.92 0.92 0 1 0 -1.84 0M389.4 486.02a0.92 0.92 0 1 0 1.84 0a0.92 0.92 0 1 0 -1.84 0M388.64 465.04a0.92 0.92 0 1 0 1.84 0a0.92 0.92 0 1 0 -1.84 0M389.23 478.74a0.92 0.92 0 1 0 1.84 0a0.92 0.92 0 1 0 -1.84 0M389.96 486.34a0.92 0.92 0 1 0 1.84 0a0.92 0.92 0 1 0 -1.84 0M389.14 469.61a0.92 0.92 0 1 0 1.84 0a0.92 0.92 0 1 0 -1.84 0M390.29 477.36a0.92 0.92 0 1 0 1.84 0a0.92 0.92 0 1 0 -1.84 0M390 433.47a0.92 0.92 0 1 0 1.84 0a0.92 0.92 0 1 0 -1.84 0M390.74 445.97a0.92 0.92 0 1 0 1.84 0a0.92 0.92 0 1 0 -1.84 0M387.29 467.91a0.92 0.92 0 1 0 1.84 0a0.92 0.92 0 1 0 -1.84 0M390 443.39a0.92 0.92 0 1 0 1.84 0a0.92 0.92 0 1 0 -1.84 0M389.95 442.78a0.92 0.92 0 1 0 1.84 0a0.92 0.92 0 1 0 -1.84 0M389.44 464.61a0.92 0.92 0 1 0 1.84 0a0.92 0.92 0 1 0 -1.84 0M390.95 464.4a0.92 0.92 0 1 0 1.84 0a0.92 0.92 0 1 0 -1.84 0M390.47 443.85a0.92 0.92 0 1 0 1.84 0a0.92 0.92 0 1 0 -1.84 0M388.68 470.47a0.92 0.92 0 1 0 1.84 0a0.92 0.92 0 1 0 -1.84 0M390.39 470.2a0.92 0.92 0 1 0 1.84 0a0.92 0.92 0 1 0 -1.84 0M388.07 467.34a0.92 0.92 0 1 0 1.84 0a0.92 0.92 0 1 0 -1.84 0M389.6 460.23a0.92 0.92 0 1 0 1.84 0a0.92 0.92 0 1 0 -1.84 0M389.04 464.62a0.92 0.92 0 1 0 1.84 0a0.92 0.92 0 1 0 -1.84 0M390.54 458.49a0.92 0.92 0 1 0 1.84 0a0.92 0.92 0 1 0 -1.84 0M391.82 467.14a0.92 0.92 0 1 0 1.84 0a0.92 0.92 0 1 0 -1.84 0M390.6 457.98a0.92 0.92 0 1 0 1.84 0a0.92 0.92 0 1 0 -1.84 0M389.86 474.13a0.92 0.92 0 1 0 1.84 0a0.92 0.92 0 1 0 -1.84 0M390.01 437.28a0.92 0.92 0 1 0 1.84 0a0.92 0.92 0 1 0 -1.84 0M390.05 489.59a0.92 0.92 0 1 0 1.84 0a0.92 0.92 0 1 0 -1.84 0M389.99 464.65a0.92 0.92 0 1 0 1.84 0a0.92 0.92 0 1 0 -1.84 0M388.4 474.76a0.92 0.92 0 1 0 1.84 0a0.92 0.92 0 1 0 -1.84 0M388.95 471.4a0.92 0.92 0 1 0 1.84 0a0.92 0.92 0 1 0 -1.84 0M391.03 480.38a0.92 0.92 0 1 0 1.84 0a0.92 0.92 0 1 0 -1.84 0M390.26 467.92a0.92 0.92 0 1 0 1.84 0a0.92 0.92 0 1 0 -1.84 0M388.47 476.41a0.92 0.92 0 1 0 1.84 0a0.92 0.92 0 1 0 -1.84 0M389.49 442.18a0.92 0.92 0 1 0 1.84 0a0.92 0.92 0 1 0 -1.84 0M388.94 485.23a0.92 0.92 0 1 0 1.84 0a0.92 0.92 0 1 0 -1.84 0M387.89 466.14a0.92 0.92 0 1 0 1.84 0a0.92 0.92 0 1 0 -1.84 0M389.44 480.72a0.92 0.92 0 1 0 1.84 0a0.92 0.92 0 1 0 -1.84 0M389.31 456.53a0.92 0.92 0 1 0 1.84 0a0.92 0.92 0 1 0 -1.84 0M387.91 463.02a0.92 0.92 0 1 0 1.84 0a0.92 0.92 0 1 0 -1.84 0M389.77 481.93a0.92 0.92 0 1 0 1.84 0a0.92 0.92 0 1 0 -1.84 0M391.87 468.8a0.92 0.92 0 1 0 1.84 0a0.92 0.92 0 1 0 -1.84 0M389.64 474.92a0.92 0.92 0 1 0 1.84 0a0.92 0.92 0 1 0 -1.84 0M389.68 435.81a0.92 0.92 0 1 0 1.84 0a0.92 0.92 0 1 0 -1.84 0M389.53 448.23a0.92 0.92 0 1 0 1.84 0a0.92 0.92 0 1 0 -1.84 0M389.05 472.03a0.92 0.92 0 1 0 1.84 0a0.92 0.92 0 1 0 -1.84 0M389.39 456.4a0.92 0.92 0 1 0 1.84 0a0.92 0.92 0 1 0 -1.84 0M388.62 474.79a0.92 0.92 0 1 0 1.84 0a0.92 0.92 0 1 0 -1.84 0M389.63 442.84a0.92 0.92 0 1 0 1.84 0a0.92 0.92 0 1 0 -1.84 0M391.85 466.72a0.92 0.92 0 1 0 1.84 0a0.92 0.92 0 1 0 -1.84 0M389.11 464.47a0.92 0.92 0 1 0 1.84 0a0.92 0.92 0 1 0 -1.84 0M390.63 457.04a0.92 0.92 0 1 0 1.84 0a0.92 0.92 0 1 0 -1.84 0M389.78 430.78a0.92 0.92 0 1 0 1.84 0a0.92 0.92 0 1 0 -1.84 0M390.12 483.01a0.92 0.92 0 1 0 1.84 0a0.92 0.92 0 1 0 -1.84 0M389.73 453.88a0.92 0.92 0 1 0 1.84 0a0.92 0.92 0 1 0 -1.84 0M389.39 474.1a0.92 0.92 0 1 0 1.84 0a0.92 0.92 0 1 0 -1.84 0M391.48 463.6a0.92 0.92 0 1 0 1.84 0a0.92 0.92 0 1 0 -1.84 0M390.01 479.74a0.92 0.92 0 1 0 1.84 0a0.92 0.92 0 1 0 -1.84 0M389.41 439.54a0.92 0.92 0 1 0 1.84 0a0.92 0.92 0 1 0 -1.84 0M389.23 461.09a0.92 0.92 0 1 0 1.84 0a0.92 0.92 0 1 0 -1.84 0M389.51 479.71a0.92 0.92 0 1 0 1.84 0a0.92 0.92 0 1 0 -1.84 0M389.9 450.51a0.92 0.92 0 1 0 1.84 0a0.92 0.92 0 1 0 -1.84 0M389.55 445.81a0.92 0.92 0 1 0 1.84 0a0.92 0.92 0 1 0 -1.84 0M388.98 462.5a0.92 0.92 0 1 0 1.84 0a0.92 0.92 0 1 0 -1.84 0M388.93 470.48a0.92 0.92 0 1 0 1.84 0a0.92 0.92 0 1 0 -1.84 0M391.51 476.03a0.92 0.92 0 1 0 1.84 0a0.92 0.92 0 1 0 -1.84 0M390.36 452.01a0.92 0.92 0 1 0 1.84 0a0.92 0.92 0 1 0 -1.84 0M390.61 485.68a0.92 0.92 0 1 0 1.84 0a0.92 0.92 0 1 0 -1.84 0M390.45 441.51a0.92 0.92 0 1 0 1.84 0a0.92 0.92 0 1 0 -1.84 0M389.01 446.97a0.92 0.92 0 1 0 1.84 0a0.92 0.92 0 1 0 -1.84 0M389.88 480.23a0.92 0.92 0 1 0 1.84 0a0.92 0.92 0 1 0 -1.84 0M390.41 481.8a0.92 0.92 0 1 0 1.84 0a0.92 0.92 0 1 0 -1.84 0M389.74 460.02a0.92 0.92 0 1 0 1.84 0a0.92 0.92 0 1 0 -1.84 0M389.93 465.32a0.92 0.92 0 1 0 1.84 0a0.92 0.92 0 1 0 -1.84 0M390.28 474.48a0.92 0.92 0 1 0 1.84 0a0.92 0.92 0 1 0 -1.84 0M390.17 459.84a0.92 0.92 0 1 0 1.84 0a0.92 0.92 0 1 0 -1.84 0M389 458.52a0.92 0.92 0 1 0 1.84 0a0.92 0.92 0 1 0 -1.84 0M389 450.29a0.92 0.92 0 1 0 1.84 0a0.92 0.92 0 1 0 -1.84 0M389.17 452.68a0.92 0.92 0 1 0 1.84 0a0.92 0.92 0 1 0 -1.84 0M388.84 448.52a0.92 0.92 0 1 0 1.84 0a0.92 0.92 0 1 0 -1.84 0M388.86 468.94a0.92 0.92 0 1 0 1.84 0a0.92 0.92 0 1 0 -1.84 0M388.36 477.73a0.92 0.92 0 1 0 1.84 0a0.92 0.92 0 1 0 -1.84 0M389.01 448.85a0.92 0.92 0 1 0 1.84 0a0.92 0.92 0 1 0 -1.84 0M390.44 463.34a0.92 0.92 0 1 0 1.84 0a0.92 0.92 0 1 0 -1.84 0M389.24 489.59a0.92 0.92 0 1 0 1.84 0a0.92 0.92 0 1 0 -1.84 0M390.28 483.65a0.92 0.92 0 1 0 1.84 0a0.92 0.92 0 1 0 -1.84 0M389.56 478.55a0.92 0.92 0 1 0 1.84 0a0.92 0.92 0 1 0 -1.84 0M390.6 452.04a0.92 0.92 0 1 0 1.84 0a0.92 0.92 0 1 0 -1.84 0M390.07 465.93a0.92 0.92 0 1 0 1.84 0a0.92 0.92 0 1 0 -1.84 0M390.17 436.23a0.92 0.92 0 1 0 1.84 0a0.92 0.92 0 1 0 -1.84 0M389.54 471.83a0.92 0.92 0 1 0 1.84 0a0.92 0.92 0 1 0 -1.84 0M389.37 466.53a0.92 0.92 0 1 0 1.84 0a0.92 0.92 0 1 0 -1.84 0M391.71 470.11a0.92 0.92 0 1 0 1.84 0a0.92 0.92 0 1 0 -1.84 0M390.54 463.24a0.92 0.92 0 1 0 1.84 0a0.92 0.92 0 1 0 -1.84 0M389.61 483.66a0.92 0.92 0 1 0 1.84 0a0.92 0.92 0 1 0 -1.84 0M390.71 452.2a0.92 0.92 0 1 0 1.84 0a0.92 0.92 0 1 0 -1.84 0M390.93 466.37a0.92 0.92 0 1 0 1.84 0a0.92 0.92 0 1 0 -1.84 0M389.99 487.78a0.92 0.92 0 1 0 1.84 0a0.92 0.92 0 1 0 -1.84 0M387.68 470.24a0.92 0.92 0 1 0 1.84 0a0.92 0.92 0 1 0 -1.84 0M390.93 459.98a0.92 0.92 0 1 0 1.84 0a0.92 0.92 0 1 0 -1.84 0M387.95 469.65a0.92 0.92 0 1 0 1.84 0a0.92 0.92 0 1 0 -1.84 0M388.03 475.62a0.92 0.92 0 1 0 1.84 0a0.92 0.92 0 1 0 -1.84 0M388.97 467.84a0.92 0.92 0 1 0 1.84 0a0.92 0.92 0 1 0 -1.84 0M388.67 474.14a0.92 0.92 0 1 0 1.84 0a0.92 0.92 0 1 0 -1.84 0M388.61 470.12a0.92 0.92 0 1 0 1.84 0a0.92 0.92 0 1 0 -1.84 0M389.71 467.78a0.92 0.92 0 1 0 1.84 0a0.92 0.92 0 1 0 -1.84 0M389.79 489.59a0.92 0.92 0 1 0 1.84 0a0.92 0.92 0 1 0 -1.84 0M390.52 463.24a0.92 0.92 0 1 0 1.84 0a0.92 0.92 0 1 0 -1.84 0M390.64 483.72a0.92 0.92 0 1 0 1.84 0a0.92 0.92 0 1 0 -1.84 0M390.75 468.39a0.92 0.92 0 1 0 1.84 0a0.92 0.92 0 1 0 -1.84 0M391.6 468.41a0.92 0.92 0 1 0 1.84 0a0.92 0.92 0 1 0 -1.84 0M389.43 464.39a0.92 0.92 0 1 0 1.84 0a0.92 0.92 0 1 0 -1.84 0M388.49 474.23a0.92 0.92 0 1 0 1.84 0a0.92 0.92 0 1 0 -1.84 0M390.4 472.48a0.92 0.92 0 1 0 1.84 0a0.92 0.92 0 1 0 -1.84 0M391.29 461.98a0.92 0.92 0 1 0 1.84 0a0.92 0.92 0 1 0 -1.84 0M389.38 439.14a0.92 0.92 0 1 0 1.84 0a0.92 0.92 0 1 0 -1.84 0M389.85 429.49a0.92 0.92 0 1 0 1.84 0a0.92 0.92 0 1 0 -1.84 0M389.51 454.39a0.92 0.92 0 1 0 1.84 0a0.92 0.92 0 1 0 -1.84 0M392.29 465.29a0.92 0.92 0 1 0 1.84 0a0.92 0.92 0 1 0 -1.84 0M388.51 452.96a0.92 0.92 0 1 0 1.84 0a0.92 0.92 0 1 0 -1.84 0M389.67 468.84a0.92 0.92 0 1 0 1.84 0a0.92 0.92 0 1 0 -1.84 0M389.46 484.83a0.92 0.92 0 1 0 1.84 0a0.92 0.92 0 1 0 -1.84 0M389.48 456.47a0.92 0.92 0 1 0 1.84 0a0.92 0.92 0 1 0 -1.84 0M390.3 447.81a0.92 0.92 0 1 0 1.84 0a0.92 0.92 0 1 0 -1.84 0M387.19 465.41a0.92 0.92 0 1 0 1.84 0a0.92 0.92 0 1 0 -1.84 0M388.93 471.18a0.92 0.92 0 1 0 1.84 0a0.92 0.92 0 1 0 -1.84 0M392.16 465.98a0.92 0.92 0 1 0 1.84 0a0.92 0.92 0 1 0 -1.84 0M389.58 468.07a0.92 0.92 0 1 0 1.84 0a0.92 0.92 0 1 0 -1.84 0M388.71 486.07a0.92 0.92 0 1 0 1.84 0a0.92 0.92 0 1 0 -1.84 0M390.37 468.01a0.92 0.92 0 1 0 1.84 0a0.92 0.92 0 1 0 -1.84 0M390.38 471.14a0.92 0.92 0 1 0 1.84 0a0.92 0.92 0 1 0 -1.84 0M391.27 471.55a0.92 0.92 0 1 0 1.84 0a0.92 0.92 0 1 0 -1.84 0M390.79 453.84a0.92 0.92 0 1 0 1.84 0a0.92 0.92 0 1 0 -1.84 0M392.03 467.85a0.92 0.92 0 1 0 1.84 0a0.92 0.92 0 1 0 -1.84 0M389.14 453.43a0.92 0.92 0 1 0 1.84 0a0.92 0.92 0 1 0 -1.84 0M388.86 464.58a0.92 0.92 0 1 0 1.84 0a0.92 0.92 0 1 0 -1.84 0M390.36 478.03a0.92 0.92 0 1 0 1.84 0a0.92 0.92 0 1 0 -1.84 0M389.45 442.94a0.92 0.92 0 1 0 1.84 0a0.92 0.92 0 1 0 -1.84 0M389.54 441.91a0.92 0.92 0 1 0 1.84 0a0.92 0.92 0 1 0 -1.84 0M388.79 486.21a0.92 0.92 0 1 0 1.84 0a0.92 0.92 0 1 0 -1.84 0M388.48 463.47a0.92 0.92 0 1 0 1.84 0a0.92 0.92 0 1 0 -1.84 0M388.95 451.7a0.92 0.92 0 1 0 1.84 0a0.92 0.92 0 1 0 -1.84 0M389.38 477.5a0.92 0.92 0 1 0 1.84 0a0.92 0.92 0 1 0 -1.84 0M390.35 481.18a0.92 0.92 0 1 0 1.84 0a0.92 0.92 0 1 0 -1.84 0M389.14 446.47a0.92 0.92 0 1 0 1.84 0a0.92 0.92 0 1 0 -1.84 0M389.15 461.81a0.92 0.92 0 1 0 1.84 0a0.92 0.92 0 1 0 -1.84 0M388.67 453.72a0.92 0.92 0 1 0 1.84 0a0.92 0.92 0 1 0 -1.84 0M389.51 459.61a0.92 0.92 0 1 0 1.84 0a0.92 0.92 0 1 0 -1.84 0M390.2 469.35a0.92 0.92 0 1 0 1.84 0a0.92 0.92 0 1 0 -1.84 0M390.3 465.53a0.92 0.92 0 1 0 1.84 0a0.92 0.92 0 1 0 -1.84 0M390.19 481.73a0.92 0.92 0 1 0 1.84 0a0.92 0.92 0 1 0 -1.84 0M389.88 481.69a0.92 0.92 0 1 0 1.84 0a0.92 0.92 0 1 0 -1.84 0M390.62 463.44a0.92 0.92 0 1 0 1.84 0a0.92 0.92 0 1 0 -1.84 0M390.15 438.6a0.92 0.92 0 1 0 1.84 0a0.92 0.92 0 1 0 -1.84 0M391.03 475.48a0.92 0.92 0 1 0 1.84 0a0.92 0.92 0 1 0 -1.84 0M388.71 447.1a0.92 0.92 0 1 0 1.84 0a0.92 0.92 0 1 0 -1.84 0M390.83 483.23a0.92 0.92 0 1 0 1.84 0a0.92 0.92 0 1 0 -1.84 0M389.69 470.22a0.92 0.92 0 1 0 1.84 0a0.92 0.92 0 1 0 -1.84 0M391.24 460.08a0.92 0.92 0 1 0 1.84 0a0.92 0.92 0 1 0 -1.84 0"/>
<line x1="388.1" y1="466.57" x2="393.3" y2="466.57" stroke="#999" stroke-width="0.6"/>
<text transform="translate(394.3 504.7) rotate(-45)" font-size="6.5" fill="#222" text-anchor="end"><tspan font-style="italic">CRLF2</tspan>-r</text>
<line x1="399.1" y1="495.7" x2="399.1" y2="499.5" stroke="#2a2a2a" stroke-width="0.8"/>
<path fill="#8e2a1c" d="M398.34 460.43a0.92 0.92 0 1 0 1.84 0a0.92 0.92 0 1 0 -1.84 0M398.36 445.08a0.92 0.92 0 1 0 1.84 0a0.92 0.92 0 1 0 -1.84 0M398.7 456.92a0.92 0.92 0 1 0 1.84 0a0.92 0.92 0 1 0 -1.84 0M398.62 454.33a0.92 0.92 0 1 0 1.84 0a0.92 0.92 0 1 0 -1.84 0M398.42 453.89a0.92 0.92 0 1 0 1.84 0a0.92 0.92 0 1 0 -1.84 0M398.22 446.25a0.92 0.92 0 1 0 1.84 0a0.92 0.92 0 1 0 -1.84 0M398.72 456.71a0.92 0.92 0 1 0 1.84 0a0.92 0.92 0 1 0 -1.84 0M398.6 454.64a0.92 0.92 0 1 0 1.84 0a0.92 0.92 0 1 0 -1.84 0M398.59 457.49a0.92 0.92 0 1 0 1.84 0a0.92 0.92 0 1 0 -1.84 0M398.39 447.91a0.92 0.92 0 1 0 1.84 0a0.92 0.92 0 1 0 -1.84 0M398.23 456.88a0.92 0.92 0 1 0 1.84 0a0.92 0.92 0 1 0 -1.84 0M397.54 455.7a0.92 0.92 0 1 0 1.84 0a0.92 0.92 0 1 0 -1.84 0M398.24 450.33a0.92 0.92 0 1 0 1.84 0a0.92 0.92 0 1 0 -1.84 0M398.5 456a0.92 0.92 0 1 0 1.84 0a0.92 0.92 0 1 0 -1.84 0"/>
<line x1="396.5" y1="454.29" x2="401.7" y2="454.29" stroke="#999" stroke-width="0.6"/>
<text transform="translate(402.7 504.7) rotate(-45)" font-size="6.5" fill="#222" text-anchor="end">High hyperdiploid</text>
<text transform="translate(312.6 458.5) rotate(-90)" font-size="6.5" fill="#222" text-anchor="middle"><tspan font-style="italic">CEBPE</tspan> expression</text>
<line x1="339.9" y1="423.8" x2="350.5" y2="430.1" stroke="#333" stroke-width="0.7"/>
<circle cx="339.9" cy="423.8" r="3.2" fill="#bb5aae"/>
<text x="339.9" y="425.6" font-size="5" fill="#fff" text-anchor="middle" font-weight="bold">5</text>
<line x1="438.7" y1="417.7" x2="438.7" y2="496.4" stroke="#2a2a2a" stroke-width="1.25"/>
<line x1="438.1" y1="496.4" x2="512.5" y2="496.4" stroke="#2a2a2a" stroke-width="1.25"/>
<line x1="435.5" y1="479.7" x2="438.7" y2="479.7" stroke="#2a2a2a" stroke-width="0.8"/>
<text x="432.3" y="481.83" font-size="6.1" fill="#333" text-anchor="end">5.0</text>
<line x1="435.5" y1="458" x2="438.7" y2="458" stroke="#2a2a2a" stroke-width="0.8"/>
<text x="432.3" y="460.13" font-size="6.1" fill="#333" text-anchor="end">7.5</text>
<line x1="435.5" y1="436.3" x2="438.7" y2="436.3" stroke="#2a2a2a" stroke-width="0.8"/>
<text x="432.3" y="438.44" font-size="6.1" fill="#333" text-anchor="end">10.0</text>
<line x1="443.3" y1="496.4" x2="443.3" y2="500.2" stroke="#2a2a2a" stroke-width="0.8"/>
<path fill="#a04a9c" d="M442.39 485.78a0.92 0.92 0 1 0 1.84 0a0.92 0.92 0 1 0 -1.84 0M442.5 476.23a0.92 0.92 0 1 0 1.84 0a0.92 0.92 0 1 0 -1.84 0M442.22 482.31a0.92 0.92 0 1 0 1.84 0a0.92 0.92 0 1 0 -1.84 0M441.67 483.43a0.92 0.92 0 1 0 1.84 0a0.92 0.92 0 1 0 -1.84 0M442.83 483.55a0.92 0.92 0 1 0 1.84 0a0.92 0.92 0 1 0 -1.84 0M442.51 484.17a0.92 0.92 0 1 0 1.84 0a0.92 0.92 0 1 0 -1.84 0M442.63 483.43a0.92 0.92 0 1 0 1.84 0a0.92 0.92 0 1 0 -1.84 0"/>
<line x1="440.7" y1="483.17" x2="445.9" y2="483.17" stroke="#999" stroke-width="0.6"/>
<text transform="translate(446.9 505.4) rotate(-45)" font-size="6.5" fill="#222" text-anchor="end">C/EBPalt (other)</text>
<line x1="451.4" y1="496.4" x2="451.4" y2="500.2" stroke="#2a2a2a" stroke-width="0.8"/>
<path fill="#d6d6da" d="M450.75 494.46a0.92 0.92 0 1 0 1.84 0a0.92 0.92 0 1 0 -1.84 0M450.66 450.19a0.92 0.92 0 1 0 1.84 0a0.92 0.92 0 1 0 -1.84 0M450.83 468.34a0.92 0.92 0 1 0 1.84 0a0.92 0.92 0 1 0 -1.84 0M450.51 469.79a0.92 0.92 0 1 0 1.84 0a0.92 0.92 0 1 0 -1.84 0M451.04 485.07a0.92 0.92 0 1 0 1.84 0a0.92 0.92 0 1 0 -1.84 0M450.88 481.2a0.92 0.92 0 1 0 1.84 0a0.92 0.92 0 1 0 -1.84 0M450.39 465.02a0.92 0.92 0 1 0 1.84 0a0.92 0.92 0 1 0 -1.84 0M451.11 484.29a0.92 0.92 0 1 0 1.84 0a0.92 0.92 0 1 0 -1.84 0M450.35 488.94a0.92 0.92 0 1 0 1.84 0a0.92 0.92 0 1 0 -1.84 0M450.01 480.87a0.92 0.92 0 1 0 1.84 0a0.92 0.92 0 1 0 -1.84 0M450.09 486.92a0.92 0.92 0 1 0 1.84 0a0.92 0.92 0 1 0 -1.84 0M450.43 482.98a0.92 0.92 0 1 0 1.84 0a0.92 0.92 0 1 0 -1.84 0M450.15 488.85a0.92 0.92 0 1 0 1.84 0a0.92 0.92 0 1 0 -1.84 0M450.88 474.1a0.92 0.92 0 1 0 1.84 0a0.92 0.92 0 1 0 -1.84 0M450.74 459.4a0.92 0.92 0 1 0 1.84 0a0.92 0.92 0 1 0 -1.84 0M450.22 473.31a0.92 0.92 0 1 0 1.84 0a0.92 0.92 0 1 0 -1.84 0M449.88 480.84a0.92 0.92 0 1 0 1.84 0a0.92 0.92 0 1 0 -1.84 0M450.52 482.83a0.92 0.92 0 1 0 1.84 0a0.92 0.92 0 1 0 -1.84 0"/>
<line x1="448.8" y1="479.7" x2="454" y2="479.7" stroke="#999" stroke-width="0.6"/>
<text transform="translate(455 505.4) rotate(-45)" font-size="6.5" fill="#222" text-anchor="end">Others</text>
<line x1="459.5" y1="496.4" x2="459.5" y2="500.2" stroke="#2a2a2a" stroke-width="0.8"/>
<path fill="#f0e23a" d="M458.8 486.64a0.92 0.92 0 1 0 1.84 0a0.92 0.92 0 1 0 -1.84 0M458.35 464.94a0.92 0.92 0 1 0 1.84 0a0.92 0.92 0 1 0 -1.84 0M458.71 471.74a0.92 0.92 0 1 0 1.84 0a0.92 0.92 0 1 0 -1.84 0M458.36 484.7a0.92 0.92 0 1 0 1.84 0a0.92 0.92 0 1 0 -1.84 0M458.52 482.38a0.92 0.92 0 1 0 1.84 0a0.92 0.92 0 1 0 -1.84 0M458.51 472.93a0.92 0.92 0 1 0 1.84 0a0.92 0.92 0 1 0 -1.84 0M458.16 474.46a0.92 0.92 0 1 0 1.84 0a0.92 0.92 0 1 0 -1.84 0M458.9 479.36a0.92 0.92 0 1 0 1.84 0a0.92 0.92 0 1 0 -1.84 0M458.56 475.02a0.92 0.92 0 1 0 1.84 0a0.92 0.92 0 1 0 -1.84 0M458.84 478.46a0.92 0.92 0 1 0 1.84 0a0.92 0.92 0 1 0 -1.84 0M458.63 480.82a0.92 0.92 0 1 0 1.84 0a0.92 0.92 0 1 0 -1.84 0M458.67 479.56a0.92 0.92 0 1 0 1.84 0a0.92 0.92 0 1 0 -1.84 0M458.6 465.91a0.92 0.92 0 1 0 1.84 0a0.92 0.92 0 1 0 -1.84 0M458.36 482.46a0.92 0.92 0 1 0 1.84 0a0.92 0.92 0 1 0 -1.84 0M458.95 477.34a0.92 0.92 0 1 0 1.84 0a0.92 0.92 0 1 0 -1.84 0M457.93 480.02a0.92 0.92 0 1 0 1.84 0a0.92 0.92 0 1 0 -1.84 0"/>
<line x1="456.9" y1="479.7" x2="462.1" y2="479.7" stroke="#999" stroke-width="0.6"/>
<text transform="translate(463.1 505.4) rotate(-45)" font-size="6.5" fill="#222" text-anchor="end"><tspan font-style="italic">PAX5</tspan>alt</text>
<line x1="467.6" y1="496.4" x2="467.6" y2="500.2" stroke="#2a2a2a" stroke-width="0.8"/>
<path fill="#28984a" d="M466.47 494.46a0.92 0.92 0 1 0 1.84 0a0.92 0.92 0 1 0 -1.84 0M466.72 473.62a0.92 0.92 0 1 0 1.84 0a0.92 0.92 0 1 0 -1.84 0M466.62 478.45a0.92 0.92 0 1 0 1.84 0a0.92 0.92 0 1 0 -1.84 0M467.04 478.24a0.92 0.92 0 1 0 1.84 0a0.92 0.92 0 1 0 -1.84 0M466.46 486.47a0.92 0.92 0 1 0 1.84 0a0.92 0.92 0 1 0 -1.84 0M467.24 484.66a0.92 0.92 0 1 0 1.84 0a0.92 0.92 0 1 0 -1.84 0M466.41 480.98a0.92 0.92 0 1 0 1.84 0a0.92 0.92 0 1 0 -1.84 0M467.42 483.76a0.92 0.92 0 1 0 1.84 0a0.92 0.92 0 1 0 -1.84 0M466.83 481.13a0.92 0.92 0 1 0 1.84 0a0.92 0.92 0 1 0 -1.84 0M466 483.67a0.92 0.92 0 1 0 1.84 0a0.92 0.92 0 1 0 -1.84 0M467.15 485a0.92 0.92 0 1 0 1.84 0a0.92 0.92 0 1 0 -1.84 0"/>
<line x1="465" y1="479.7" x2="470.2" y2="479.7" stroke="#999" stroke-width="0.6"/>
<text transform="translate(471.2 505.4) rotate(-45)" font-size="6.5" fill="#222" text-anchor="end"><tspan font-style="italic">IGH::IGF2BP1</tspan></text>
<line x1="475.6" y1="496.4" x2="475.6" y2="500.2" stroke="#2a2a2a" stroke-width="0.8"/>
<path fill="#2566c4" d="M475.01 494.46a0.92 0.92 0 1 0 1.84 0a0.92 0.92 0 1 0 -1.84 0M474.5 444.98a0.92 0.92 0 1 0 1.84 0a0.92 0.92 0 1 0 -1.84 0M474.21 483.97a0.92 0.92 0 1 0 1.84 0a0.92 0.92 0 1 0 -1.84 0M474.44 461.5a0.92 0.92 0 1 0 1.84 0a0.92 0.92 0 1 0 -1.84 0M475.88 476.79a0.92 0.92 0 1 0 1.84 0a0.92 0.92 0 1 0 -1.84 0M476.25 473.74a0.92 0.92 0 1 0 1.84 0a0.92 0.92 0 1 0 -1.84 0M473.38 472.1a0.92 0.92 0 1 0 1.84 0a0.92 0.92 0 1 0 -1.84 0M474.29 474.34a0.92 0.92 0 1 0 1.84 0a0.92 0.92 0 1 0 -1.84 0M474.19 461.24a0.92 0.92 0 1 0 1.84 0a0.92 0.92 0 1 0 -1.84 0M472.81 474.65a0.92 0.92 0 1 0 1.84 0a0.92 0.92 0 1 0 -1.84 0M473.61 469.86a0.92 0.92 0 1 0 1.84 0a0.92 0.92 0 1 0 -1.84 0M471.88 480.48a0.92 0.92 0 1 0 1.84 0a0.92 0.92 0 1 0 -1.84 0M473.42 482.03a0.92 0.92 0 1 0 1.84 0a0.92 0.92 0 1 0 -1.84 0M474.38 473.75a0.92 0.92 0 1 0 1.84 0a0.92 0.92 0 1 0 -1.84 0M477.01 482.85a0.92 0.92 0 1 0 1.84 0a0.92 0.92 0 1 0 -1.84 0M475.04 465.95a0.92 0.92 0 1 0 1.84 0a0.92 0.92 0 1 0 -1.84 0M474.81 447.34a0.92 0.92 0 1 0 1.84 0a0.92 0.92 0 1 0 -1.84 0M473.58 479.69a0.92 0.92 0 1 0 1.84 0a0.92 0.92 0 1 0 -1.84 0M474.18 467.42a0.92 0.92 0 1 0 1.84 0a0.92 0.92 0 1 0 -1.84 0M474.31 475.29a0.92 0.92 0 1 0 1.84 0a0.92 0.92 0 1 0 -1.84 0M472.96 479.47a0.92 0.92 0 1 0 1.84 0a0.92 0.92 0 1 0 -1.84 0M471.68 478.96a0.92 0.92 0 1 0 1.84 0a0.92 0.92 0 1 0 -1.84 0M473.96 470.96a0.92 0.92 0 1 0 1.84 0a0.92 0.92 0 1 0 -1.84 0M476.52 473.79a0.92 0.92 0 1 0 1.84 0a0.92 0.92 0 1 0 -1.84 0M471.72 480.93a0.92 0.92 0 1 0 1.84 0a0.92 0.92 0 1 0 -1.84 0M474.69 465.18a0.92 0.92 0 1 0 1.84 0a0.92 0.92 0 1 0 -1.84 0M474.07 487.04a0.92 0.92 0 1 0 1.84 0a0.92 0.92 0 1 0 -1.84 0M475.16 462.67a0.92 0.92 0 1 0 1.84 0a0.92 0.92 0 1 0 -1.84 0M471.64 480.75a0.92 0.92 0 1 0 1.84 0a0.92 0.92 0 1 0 -1.84 0M474.74 482.34a0.92 0.92 0 1 0 1.84 0a0.92 0.92 0 1 0 -1.84 0M475.24 486.41a0.92 0.92 0 1 0 1.84 0a0.92 0.92 0 1 0 -1.84 0M474.52 475.15a0.92 0.92 0 1 0 1.84 0a0.92 0.92 0 1 0 -1.84 0M472.38 479.47a0.92 0.92 0 1 0 1.84 0a0.92 0.92 0 1 0 -1.84 0M476.28 475.61a0.92 0.92 0 1 0 1.84 0a0.92 0.92 0 1 0 -1.84 0M472.16 483.34a0.92 0.92 0 1 0 1.84 0a0.92 0.92 0 1 0 -1.84 0M476.37 472.9a0.92 0.92 0 1 0 1.84 0a0.92 0.92 0 1 0 -1.84 0M476.38 477.94a0.92 0.92 0 1 0 1.84 0a0.92 0.92 0 1 0 -1.84 0M475.91 485.08a0.92 0.92 0 1 0 1.84 0a0.92 0.92 0 1 0 -1.84 0M476.27 476.93a0.92 0.92 0 1 0 1.84 0a0.92 0.92 0 1 0 -1.84 0M474.32 469.15a0.92 0.92 0 1 0 1.84 0a0.92 0.92 0 1 0 -1.84 0M475.47 479.04a0.92 0.92 0 1 0 1.84 0a0.92 0.92 0 1 0 -1.84 0M474.54 477.43a0.92 0.92 0 1 0 1.84 0a0.92 0.92 0 1 0 -1.84 0M475.18 482.67a0.92 0.92 0 1 0 1.84 0a0.92 0.92 0 1 0 -1.84 0M474.56 489.69a0.92 0.92 0 1 0 1.84 0a0.92 0.92 0 1 0 -1.84 0M475.3 462.36a0.92 0.92 0 1 0 1.84 0a0.92 0.92 0 1 0 -1.84 0M473.89 484.22a0.92 0.92 0 1 0 1.84 0a0.92 0.92 0 1 0 -1.84 0M474.8 463.18a0.92 0.92 0 1 0 1.84 0a0.92 0.92 0 1 0 -1.84 0M471.87 479.92a0.92 0.92 0 1 0 1.84 0a0.92 0.92 0 1 0 -1.84 0M473.86 464.57a0.92 0.92 0 1 0 1.84 0a0.92 0.92 0 1 0 -1.84 0M475.21 460.32a0.92 0.92 0 1 0 1.84 0a0.92 0.92 0 1 0 -1.84 0M473.76 479.35a0.92 0.92 0 1 0 1.84 0a0.92 0.92 0 1 0 -1.84 0M473.85 480.9a0.92 0.92 0 1 0 1.84 0a0.92 0.92 0 1 0 -1.84 0M477.31 478.01a0.92 0.92 0 1 0 1.84 0a0.92 0.92 0 1 0 -1.84 0M475.87 477.95a0.92 0.92 0 1 0 1.84 0a0.92 0.92 0 1 0 -1.84 0M473.24 473.38a0.92 0.92 0 1 0 1.84 0a0.92 0.92 0 1 0 -1.84 0M474.76 463.23a0.92 0.92 0 1 0 1.84 0a0.92 0.92 0 1 0 -1.84 0M474.67 454.54a0.92 0.92 0 1 0 1.84 0a0.92 0.92 0 1 0 -1.84 0M475.1 476.13a0.92 0.92 0 1 0 1.84 0a0.92 0.92 0 1 0 -1.84 0M473.18 481.39a0.92 0.92 0 1 0 1.84 0a0.92 0.92 0 1 0 -1.84 0M473.76 484.26a0.92 0.92 0 1 0 1.84 0a0.92 0.92 0 1 0 -1.84 0M476.61 474.25a0.92 0.92 0 1 0 1.84 0a0.92 0.92 0 1 0 -1.84 0M475.08 473.31a0.92 0.92 0 1 0 1.84 0a0.92 0.92 0 1 0 -1.84 0M474.79 487.44a0.92 0.92 0 1 0 1.84 0a0.92 0.92 0 1 0 -1.84 0M475.54 477.11a0.92 0.92 0 1 0 1.84 0a0.92 0.92 0 1 0 -1.84 0M475.52 471.51a0.92 0.92 0 1 0 1.84 0a0.92 0.92 0 1 0 -1.84 0M474.45 458.25a0.92 0.92 0 1 0 1.84 0a0.92 0.92 0 1 0 -1.84 0M474.88 454.96a0.92 0.92 0 1 0 1.84 0a0.92 0.92 0 1 0 -1.84 0M474.63 470.78a0.92 0.92 0 1 0 1.84 0a0.92 0.92 0 1 0 -1.84 0M474.34 492.9a0.92 0.92 0 1 0 1.84 0a0.92 0.92 0 1 0 -1.84 0M473.68 478.04a0.92 0.92 0 1 0 1.84 0a0.92 0.92 0 1 0 -1.84 0M477.73 482.3a0.92 0.92 0 1 0 1.84 0a0.92 0.92 0 1 0 -1.84 0M475.69 470.01a0.92 0.92 0 1 0 1.84 0a0.92 0.92 0 1 0 -1.84 0M475.02 491.29a0.92 0.92 0 1 0 1.84 0a0.92 0.92 0 1 0 -1.84 0M474.68 459.68a0.92 0.92 0 1 0 1.84 0a0.92 0.92 0 1 0 -1.84 0M475.01 466.02a0.92 0.92 0 1 0 1.84 0a0.92 0.92 0 1 0 -1.84 0M474.3 484.63a0.92 0.92 0 1 0 1.84 0a0.92 0.92 0 1 0 -1.84 0M476.04 478.39a0.92 0.92 0 1 0 1.84 0a0.92 0.92 0 1 0 -1.84 0M474.85 483.77a0.92 0.92 0 1 0 1.84 0a0.92 0.92 0 1 0 -1.84 0M474.36 487.13a0.92 0.92 0 1 0 1.84 0a0.92 0.92 0 1 0 -1.84 0M476.65 475.55a0.92 0.92 0 1 0 1.84 0a0.92 0.92 0 1 0 -1.84 0M474.68 467.72a0.92 0.92 0 1 0 1.84 0a0.92 0.92 0 1 0 -1.84 0M473.74 487.5a0.92 0.92 0 1 0 1.84 0a0.92 0.92 0 1 0 -1.84 0M475.96 476.16a0.92 0.92 0 1 0 1.84 0a0.92 0.92 0 1 0 -1.84 0M473.03 473.16a0.92 0.92 0 1 0 1.84 0a0.92 0.92 0 1 0 -1.84 0M474.26 463.44a0.92 0.92 0 1 0 1.84 0a0.92 0.92 0 1 0 -1.84 0M474.37 480.38a0.92 0.92 0 1 0 1.84 0a0.92 0.92 0 1 0 -1.84 0M474.48 451.42a0.92 0.92 0 1 0 1.84 0a0.92 0.92 0 1 0 -1.84 0M474.46 474.16a0.92 0.92 0 1 0 1.84 0a0.92 0.92 0 1 0 -1.84 0M474.57 463.54a0.92 0.92 0 1 0 1.84 0a0.92 0.92 0 1 0 -1.84 0M474.85 482.97a0.92 0.92 0 1 0 1.84 0a0.92 0.92 0 1 0 -1.84 0M475.58 482.67a0.92 0.92 0 1 0 1.84 0a0.92 0.92 0 1 0 -1.84 0M475.74 478.29a0.92 0.92 0 1 0 1.84 0a0.92 0.92 0 1 0 -1.84 0M473.5 486.07a0.92 0.92 0 1 0 1.84 0a0.92 0.92 0 1 0 -1.84 0M473.94 469.49a0.92 0.92 0 1 0 1.84 0a0.92 0.92 0 1 0 -1.84 0M472.15 480.85a0.92 0.92 0 1 0 1.84 0a0.92 0.92 0 1 0 -1.84 0M473.58 480.34a0.92 0.92 0 1 0 1.84 0a0.92 0.92 0 1 0 -1.84 0M474.49 484.05a0.92 0.92 0 1 0 1.84 0a0.92 0.92 0 1 0 -1.84 0M476.92 482.03a0.92 0.92 0 1 0 1.84 0a0.92 0.92 0 1 0 -1.84 0M473.48 466.21a0.92 0.92 0 1 0 1.84 0a0.92 0.92 0 1 0 -1.84 0M474.95 491.53a0.92 0.92 0 1 0 1.84 0a0.92 0.92 0 1 0 -1.84 0M473.21 476.84a0.92 0.92 0 1 0 1.84 0a0.92 0.92 0 1 0 -1.84 0M475.35 468.15a0.92 0.92 0 1 0 1.84 0a0.92 0.92 0 1 0 -1.84 0M476.98 481.17a0.92 0.92 0 1 0 1.84 0a0.92 0.92 0 1 0 -1.84 0M477.89 481.16a0.92 0.92 0 1 0 1.84 0a0.92 0.92 0 1 0 -1.84 0M475.16 482.12a0.92 0.92 0 1 0 1.84 0a0.92 0.92 0 1 0 -1.84 0M471.78 481.67a0.92 0.92 0 1 0 1.84 0a0.92 0.92 0 1 0 -1.84 0M474 470.96a0.92 0.92 0 1 0 1.84 0a0.92 0.92 0 1 0 -1.84 0M474.38 483.85a0.92 0.92 0 1 0 1.84 0a0.92 0.92 0 1 0 -1.84 0M475.16 466.99a0.92 0.92 0 1 0 1.84 0a0.92 0.92 0 1 0 -1.84 0M475.57 463.21a0.92 0.92 0 1 0 1.84 0a0.92 0.92 0 1 0 -1.84 0M476.26 475.31a0.92 0.92 0 1 0 1.84 0a0.92 0.92 0 1 0 -1.84 0M474.22 459.14a0.92 0.92 0 1 0 1.84 0a0.92 0.92 0 1 0 -1.84 0M473.17 475.9a0.92 0.92 0 1 0 1.84 0a0.92 0.92 0 1 0 -1.84 0M475.31 475.46a0.92 0.92 0 1 0 1.84 0a0.92 0.92 0 1 0 -1.84 0M473.76 470.69a0.92 0.92 0 1 0 1.84 0a0.92 0.92 0 1 0 -1.84 0M475.03 475.05a0.92 0.92 0 1 0 1.84 0a0.92 0.92 0 1 0 -1.84 0M474.73 482.88a0.92 0.92 0 1 0 1.84 0a0.92 0.92 0 1 0 -1.84 0M474.8 468.1a0.92 0.92 0 1 0 1.84 0a0.92 0.92 0 1 0 -1.84 0M474.04 475.07a0.92 0.92 0 1 0 1.84 0a0.92 0.92 0 1 0 -1.84 0M477.35 481.72a0.92 0.92 0 1 0 1.84 0a0.92 0.92 0 1 0 -1.84 0M473.44 478.61a0.92 0.92 0 1 0 1.84 0a0.92 0.92 0 1 0 -1.84 0M473.77 480.47a0.92 0.92 0 1 0 1.84 0a0.92 0.92 0 1 0 -1.84 0M474.11 488.11a0.92 0.92 0 1 0 1.84 0a0.92 0.92 0 1 0 -1.84 0M473.85 472.9a0.92 0.92 0 1 0 1.84 0a0.92 0.92 0 1 0 -1.84 0M472.26 480.78a0.92 0.92 0 1 0 1.84 0a0.92 0.92 0 1 0 -1.84 0M475.6 481.27a0.92 0.92 0 1 0 1.84 0a0.92 0.92 0 1 0 -1.84 0M471.62 479.26a0.92 0.92 0 1 0 1.84 0a0.92 0.92 0 1 0 -1.84 0M473.11 478.77a0.92 0.92 0 1 0 1.84 0a0.92 0.92 0 1 0 -1.84 0M476.1 483.85a0.92 0.92 0 1 0 1.84 0a0.92 0.92 0 1 0 -1.84 0M476.18 484.12a0.92 0.92 0 1 0 1.84 0a0.92 0.92 0 1 0 -1.84 0M473.65 479.43a0.92 0.92 0 1 0 1.84 0a0.92 0.92 0 1 0 -1.84 0M476.19 479.5a0.92 0.92 0 1 0 1.84 0a0.92 0.92 0 1 0 -1.84 0M476.72 480.8a0.92 0.92 0 1 0 1.84 0a0.92 0.92 0 1 0 -1.84 0M475.66 479.86a0.92 0.92 0 1 0 1.84 0a0.92 0.92 0 1 0 -1.84 0M475.47 481.78a0.92 0.92 0 1 0 1.84 0a0.92 0.92 0 1 0 -1.84 0M475.39 467.29a0.92 0.92 0 1 0 1.84 0a0.92 0.92 0 1 0 -1.84 0M474.14 485.37a0.92 0.92 0 1 0 1.84 0a0.92 0.92 0 1 0 -1.84 0M473.97 473.45a0.92 0.92 0 1 0 1.84 0a0.92 0.92 0 1 0 -1.84 0M474.01 466.96a0.92 0.92 0 1 0 1.84 0a0.92 0.92 0 1 0 -1.84 0M473.25 477.92a0.92 0.92 0 1 0 1.84 0a0.92 0.92 0 1 0 -1.84 0M474.71 464.77a0.92 0.92 0 1 0 1.84 0a0.92 0.92 0 1 0 -1.84 0M474.85 474.31a0.92 0.92 0 1 0 1.84 0a0.92 0.92 0 1 0 -1.84 0M473.4 473.33a0.92 0.92 0 1 0 1.84 0a0.92 0.92 0 1 0 -1.84 0M472.63 477.59a0.92 0.92 0 1 0 1.84 0a0.92 0.92 0 1 0 -1.84 0M473.19 485.15a0.92 0.92 0 1 0 1.84 0a0.92 0.92 0 1 0 -1.84 0M473.5 475.59a0.92 0.92 0 1 0 1.84 0a0.92 0.92 0 1 0 -1.84 0M472.47 479.42a0.92 0.92 0 1 0 1.84 0a0.92 0.92 0 1 0 -1.84 0M475.43 478.95a0.92 0.92 0 1 0 1.84 0a0.92 0.92 0 1 0 -1.84 0M475.74 471.71a0.92 0.92 0 1 0 1.84 0a0.92 0.92 0 1 0 -1.84 0M474.83 473.57a0.92 0.92 0 1 0 1.84 0a0.92 0.92 0 1 0 -1.84 0M475.61 479.7a0.92 0.92 0 1 0 1.84 0a0.92 0.92 0 1 0 -1.84 0M474.17 479.41a0.92 0.92 0 1 0 1.84 0a0.92 0.92 0 1 0 -1.84 0M473.51 485.76a0.92 0.92 0 1 0 1.84 0a0.92 0.92 0 1 0 -1.84 0M476 483.26a0.92 0.92 0 1 0 1.84 0a0.92 0.92 0 1 0 -1.84 0M476.17 478.2a0.92 0.92 0 1 0 1.84 0a0.92 0.92 0 1 0 -1.84 0M473.15 474.16a0.92 0.92 0 1 0 1.84 0a0.92 0.92 0 1 0 -1.84 0M473.73 483.52a0.92 0.92 0 1 0 1.84 0a0.92 0.92 0 1 0 -1.84 0M475.12 486.66a0.92 0.92 0 1 0 1.84 0a0.92 0.92 0 1 0 -1.84 0M474.79 449.9a0.92 0.92 0 1 0 1.84 0a0.92 0.92 0 1 0 -1.84 0M473.67 470.22a0.92 0.92 0 1 0 1.84 0a0.92 0.92 0 1 0 -1.84 0M473.94 481.66a0.92 0.92 0 1 0 1.84 0a0.92 0.92 0 1 0 -1.84 0M473.97 478.83a0.92 0.92 0 1 0 1.84 0a0.92 0.92 0 1 0 -1.84 0M474.79 465.9a0.92 0.92 0 1 0 1.84 0a0.92 0.92 0 1 0 -1.84 0M476.79 481.21a0.92 0.92 0 1 0 1.84 0a0.92 0.92 0 1 0 -1.84 0M473.22 473.3a0.92 0.92 0 1 0 1.84 0a0.92 0.92 0 1 0 -1.84 0M474.01 483.2a0.92 0.92 0 1 0 1.84 0a0.92 0.92 0 1 0 -1.84 0M474.94 456.01a0.92 0.92 0 1 0 1.84 0a0.92 0.92 0 1 0 -1.84 0M473.66 470.82a0.92 0.92 0 1 0 1.84 0a0.92 0.92 0 1 0 -1.84 0M473.29 473.86a0.92 0.92 0 1 0 1.84 0a0.92 0.92 0 1 0 -1.84 0M476.48 482.18a0.92 0.92 0 1 0 1.84 0a0.92 0.92 0 1 0 -1.84 0M475.33 483.34a0.92 0.92 0 1 0 1.84 0a0.92 0.92 0 1 0 -1.84 0M474.54 482.84a0.92 0.92 0 1 0 1.84 0a0.92 0.92 0 1 0 -1.84 0M474.51 475.79a0.92 0.92 0 1 0 1.84 0a0.92 0.92 0 1 0 -1.84 0M473.45 467.7a0.92 0.92 0 1 0 1.84 0a0.92 0.92 0 1 0 -1.84 0M475.22 472.69a0.92 0.92 0 1 0 1.84 0a0.92 0.92 0 1 0 -1.84 0M473.15 481.76a0.92 0.92 0 1 0 1.84 0a0.92 0.92 0 1 0 -1.84 0M474.47 472.18a0.92 0.92 0 1 0 1.84 0a0.92 0.92 0 1 0 -1.84 0M477.37 479.03a0.92 0.92 0 1 0 1.84 0a0.92 0.92 0 1 0 -1.84 0M474.65 479.37a0.92 0.92 0 1 0 1.84 0a0.92 0.92 0 1 0 -1.84 0M473.99 480.94a0.92 0.92 0 1 0 1.84 0a0.92 0.92 0 1 0 -1.84 0M474.13 472.52a0.92 0.92 0 1 0 1.84 0a0.92 0.92 0 1 0 -1.84 0M473.28 479.94a0.92 0.92 0 1 0 1.84 0a0.92 0.92 0 1 0 -1.84 0M474.76 451.18a0.92 0.92 0 1 0 1.84 0a0.92 0.92 0 1 0 -1.84 0M475.23 486.36a0.92 0.92 0 1 0 1.84 0a0.92 0.92 0 1 0 -1.84 0M473.95 463.14a0.92 0.92 0 1 0 1.84 0a0.92 0.92 0 1 0 -1.84 0M471.71 482.6a0.92 0.92 0 1 0 1.84 0a0.92 0.92 0 1 0 -1.84 0M474.59 494.46a0.92 0.92 0 1 0 1.84 0a0.92 0.92 0 1 0 -1.84 0M473.81 486.12a0.92 0.92 0 1 0 1.84 0a0.92 0.92 0 1 0 -1.84 0M475.11 474.25a0.92 0.92 0 1 0 1.84 0a0.92 0.92 0 1 0 -1.84 0M473.76 468.72a0.92 0.92 0 1 0 1.84 0a0.92 0.92 0 1 0 -1.84 0M474.69 471.31a0.92 0.92 0 1 0 1.84 0a0.92 0.92 0 1 0 -1.84 0M474.52 482.38a0.92 0.92 0 1 0 1.84 0a0.92 0.92 0 1 0 -1.84 0M476.27 471.58a0.92 0.92 0 1 0 1.84 0a0.92 0.92 0 1 0 -1.84 0M474.15 470.09a0.92 0.92 0 1 0 1.84 0a0.92 0.92 0 1 0 -1.84 0M474.45 494.09a0.92 0.92 0 1 0 1.84 0a0.92 0.92 0 1 0 -1.84 0M474.23 467.09a0.92 0.92 0 1 0 1.84 0a0.92 0.92 0 1 0 -1.84 0M475.62 478.52a0.92 0.92 0 1 0 1.84 0a0.92 0.92 0 1 0 -1.84 0M473.91 470.07a0.92 0.92 0 1 0 1.84 0a0.92 0.92 0 1 0 -1.84 0M473.28 478.01a0.92 0.92 0 1 0 1.84 0a0.92 0.92 0 1 0 -1.84 0M476.05 481.77a0.92 0.92 0 1 0 1.84 0a0.92 0.92 0 1 0 -1.84 0M474.72 460.27a0.92 0.92 0 1 0 1.84 0a0.92 0.92 0 1 0 -1.84 0M472.84 476.85a0.92 0.92 0 1 0 1.84 0a0.92 0.92 0 1 0 -1.84 0M475.64 468.15a0.92 0.92 0 1 0 1.84 0a0.92 0.92 0 1 0 -1.84 0M473.27 472.56a0.92 0.92 0 1 0 1.84 0a0.92 0.92 0 1 0 -1.84 0M473.77 477.1a0.92 0.92 0 1 0 1.84 0a0.92 0.92 0 1 0 -1.84 0M474.75 460.59a0.92 0.92 0 1 0 1.84 0a0.92 0.92 0 1 0 -1.84 0M474.65 453.07a0.92 0.92 0 1 0 1.84 0a0.92 0.92 0 1 0 -1.84 0M476.33 478.94a0.92 0.92 0 1 0 1.84 0a0.92 0.92 0 1 0 -1.84 0M472.37 481.38a0.92 0.92 0 1 0 1.84 0a0.92 0.92 0 1 0 -1.84 0M475.7 481.07a0.92 0.92 0 1 0 1.84 0a0.92 0.92 0 1 0 -1.84 0M473.78 467.84a0.92 0.92 0 1 0 1.84 0a0.92 0.92 0 1 0 -1.84 0M472.49 482.92a0.92 0.92 0 1 0 1.84 0a0.92 0.92 0 1 0 -1.84 0M475.35 471.55a0.92 0.92 0 1 0 1.84 0a0.92 0.92 0 1 0 -1.84 0M476.06 477.63a0.92 0.92 0 1 0 1.84 0a0.92 0.92 0 1 0 -1.84 0M472.5 483.05a0.92 0.92 0 1 0 1.84 0a0.92 0.92 0 1 0 -1.84 0M473.52 466.22a0.92 0.92 0 1 0 1.84 0a0.92 0.92 0 1 0 -1.84 0M472.72 480.38a0.92 0.92 0 1 0 1.84 0a0.92 0.92 0 1 0 -1.84 0M475.1 483a0.92 0.92 0 1 0 1.84 0a0.92 0.92 0 1 0 -1.84 0M471.59 481.18a0.92 0.92 0 1 0 1.84 0a0.92 0.92 0 1 0 -1.84 0M477.58 481.89a0.92 0.92 0 1 0 1.84 0a0.92 0.92 0 1 0 -1.84 0M471.67 478.98a0.92 0.92 0 1 0 1.84 0a0.92 0.92 0 1 0 -1.84 0M475.38 469.8a0.92 0.92 0 1 0 1.84 0a0.92 0.92 0 1 0 -1.84 0M475.14 488.42a0.92 0.92 0 1 0 1.84 0a0.92 0.92 0 1 0 -1.84 0M473.92 481.51a0.92 0.92 0 1 0 1.84 0a0.92 0.92 0 1 0 -1.84 0M475.54 468.45a0.92 0.92 0 1 0 1.84 0a0.92 0.92 0 1 0 -1.84 0M473.92 486.87a0.92 0.92 0 1 0 1.84 0a0.92 0.92 0 1 0 -1.84 0M476.46 479.59a0.92 0.92 0 1 0 1.84 0a0.92 0.92 0 1 0 -1.84 0M474.99 475.52a0.92 0.92 0 1 0 1.84 0a0.92 0.92 0 1 0 -1.84 0M475.55 466.23a0.92 0.92 0 1 0 1.84 0a0.92 0.92 0 1 0 -1.84 0M475.91 475.3a0.92 0.92 0 1 0 1.84 0a0.92 0.92 0 1 0 -1.84 0M476.43 478.75a0.92 0.92 0 1 0 1.84 0a0.92 0.92 0 1 0 -1.84 0M476.82 478.45a0.92 0.92 0 1 0 1.84 0a0.92 0.92 0 1 0 -1.84 0M473.51 483.74a0.92 0.92 0 1 0 1.84 0a0.92 0.92 0 1 0 -1.84 0M471.86 478.62a0.92 0.92 0 1 0 1.84 0a0.92 0.92 0 1 0 -1.84 0M474.32 489.31a0.92 0.92 0 1 0 1.84 0a0.92 0.92 0 1 0 -1.84 0M476.26 482a0.92 0.92 0 1 0 1.84 0a0.92 0.92 0 1 0 -1.84 0M474.77 477.84a0.92 0.92 0 1 0 1.84 0a0.92 0.92 0 1 0 -1.84 0M474.66 484.44a0.92 0.92 0 1 0 1.84 0a0.92 0.92 0 1 0 -1.84 0M474.51 479.84a0.92 0.92 0 1 0 1.84 0a0.92 0.92 0 1 0 -1.84 0M474.22 492.8a0.92 0.92 0 1 0 1.84 0a0.92 0.92 0 1 0 -1.84 0M477.49 480.69a0.92 0.92 0 1 0 1.84 0a0.92 0.92 0 1 0 -1.84 0M475.13 481.66a0.92 0.92 0 1 0 1.84 0a0.92 0.92 0 1 0 -1.84 0"/>
<line x1="473" y1="477.96" x2="478.2" y2="477.96" stroke="#999" stroke-width="0.6"/>
<text transform="translate(479.2 505.4) rotate(-45)" font-size="6.5" fill="#222" text-anchor="end"><tspan font-style="italic">CRLF2</tspan>-r</text>
<line x1="483.7" y1="496.4" x2="483.7" y2="500.2" stroke="#2a2a2a" stroke-width="0.8"/>
<path fill="#178a3c" d="M482.87 486.64a0.92 0.92 0 1 0 1.84 0a0.92 0.92 0 1 0 -1.84 0M482.94 445.85a0.92 0.92 0 1 0 1.84 0a0.92 0.92 0 1 0 -1.84 0M483.56 479.58a0.92 0.92 0 1 0 1.84 0a0.92 0.92 0 1 0 -1.84 0M483.02 467.57a0.92 0.92 0 1 0 1.84 0a0.92 0.92 0 1 0 -1.84 0M482.78 468.86a0.92 0.92 0 1 0 1.84 0a0.92 0.92 0 1 0 -1.84 0M482.21 468.91a0.92 0.92 0 1 0 1.84 0a0.92 0.92 0 1 0 -1.84 0M482.39 479.2a0.92 0.92 0 1 0 1.84 0a0.92 0.92 0 1 0 -1.84 0M482.55 459.13a0.92 0.92 0 1 0 1.84 0a0.92 0.92 0 1 0 -1.84 0M483.67 475.68a0.92 0.92 0 1 0 1.84 0a0.92 0.92 0 1 0 -1.84 0M483.03 467.33a0.92 0.92 0 1 0 1.84 0a0.92 0.92 0 1 0 -1.84 0M481.92 476.83a0.92 0.92 0 1 0 1.84 0a0.92 0.92 0 1 0 -1.84 0M482.42 476.5a0.92 0.92 0 1 0 1.84 0a0.92 0.92 0 1 0 -1.84 0M482.72 462.07a0.92 0.92 0 1 0 1.84 0a0.92 0.92 0 1 0 -1.84 0M483.09 477.34a0.92 0.92 0 1 0 1.84 0a0.92 0.92 0 1 0 -1.84 0M483.02 456.29a0.92 0.92 0 1 0 1.84 0a0.92 0.92 0 1 0 -1.84 0M482.39 478.15a0.92 0.92 0 1 0 1.84 0a0.92 0.92 0 1 0 -1.84 0M482.99 483.34a0.92 0.92 0 1 0 1.84 0a0.92 0.92 0 1 0 -1.84 0M482.57 477.8a0.92 0.92 0 1 0 1.84 0a0.92 0.92 0 1 0 -1.84 0M483.21 470.46a0.92 0.92 0 1 0 1.84 0a0.92 0.92 0 1 0 -1.84 0M482.78 463.3a0.92 0.92 0 1 0 1.84 0a0.92 0.92 0 1 0 -1.84 0M483.18 473.72a0.92 0.92 0 1 0 1.84 0a0.92 0.92 0 1 0 -1.84 0M482.92 474.13a0.92 0.92 0 1 0 1.84 0a0.92 0.92 0 1 0 -1.84 0M483.22 479.08a0.92 0.92 0 1 0 1.84 0a0.92 0.92 0 1 0 -1.84 0M483.34 478.66a0.92 0.92 0 1 0 1.84 0a0.92 0.92 0 1 0 -1.84 0M482.69 460.22a0.92 0.92 0 1 0 1.84 0a0.92 0.92 0 1 0 -1.84 0M482.7 473.55a0.92 0.92 0 1 0 1.84 0a0.92 0.92 0 1 0 -1.84 0M482.91 483.32a0.92 0.92 0 1 0 1.84 0a0.92 0.92 0 1 0 -1.84 0M483.15 474.6a0.92 0.92 0 1 0 1.84 0a0.92 0.92 0 1 0 -1.84 0M482.87 471.14a0.92 0.92 0 1 0 1.84 0a0.92 0.92 0 1 0 -1.84 0M482.44 477.31a0.92 0.92 0 1 0 1.84 0a0.92 0.92 0 1 0 -1.84 0M482.77 482.33a0.92 0.92 0 1 0 1.84 0a0.92 0.92 0 1 0 -1.84 0M482.8 476a0.92 0.92 0 1 0 1.84 0a0.92 0.92 0 1 0 -1.84 0"/>
<line x1="481.1" y1="476.23" x2="486.3" y2="476.23" stroke="#999" stroke-width="0.6"/>
<text transform="translate(487.3 505.4) rotate(-45)" font-size="6.5" fill="#222" text-anchor="end"><tspan font-style="italic">ETV6::RUNX1</tspan></text>
<line x1="491.8" y1="496.4" x2="491.8" y2="500.2" stroke="#2a2a2a" stroke-width="0.8"/>
<path fill="#9cc83c" d="M490.48 486.64a0.92 0.92 0 1 0 1.84 0a0.92 0.92 0 1 0 -1.84 0M490.72 461.47a0.92 0.92 0 1 0 1.84 0a0.92 0.92 0 1 0 -1.84 0M491.39 477.58a0.92 0.92 0 1 0 1.84 0a0.92 0.92 0 1 0 -1.84 0M491.5 476.81a0.92 0.92 0 1 0 1.84 0a0.92 0.92 0 1 0 -1.84 0M491.26 466.18a0.92 0.92 0 1 0 1.84 0a0.92 0.92 0 1 0 -1.84 0M491.31 469a0.92 0.92 0 1 0 1.84 0a0.92 0.92 0 1 0 -1.84 0M490.81 475.46a0.92 0.92 0 1 0 1.84 0a0.92 0.92 0 1 0 -1.84 0M490.8 474.09a0.92 0.92 0 1 0 1.84 0a0.92 0.92 0 1 0 -1.84 0M490.85 461.47a0.92 0.92 0 1 0 1.84 0a0.92 0.92 0 1 0 -1.84 0M490.9 479.58a0.92 0.92 0 1 0 1.84 0a0.92 0.92 0 1 0 -1.84 0M490.5 467.82a0.92 0.92 0 1 0 1.84 0a0.92 0.92 0 1 0 -1.84 0"/>
<line x1="489.2" y1="476.23" x2="494.4" y2="476.23" stroke="#999" stroke-width="0.6"/>
<text transform="translate(495.4 505.4) rotate(-45)" font-size="6.5" fill="#222" text-anchor="end"><tspan font-style="italic">ETV6::RUNX1</tspan>-like</text>
<line x1="499.9" y1="496.4" x2="499.9" y2="500.2" stroke="#2a2a2a" stroke-width="0.8"/>
<path fill="#8e2a1c" d="M499.25 488.38a0.92 0.92 0 1 0 1.84 0a0.92 0.92 0 1 0 -1.84 0M498.7 462.34a0.92 0.92 0 1 0 1.84 0a0.92 0.92 0 1 0 -1.84 0M499.29 481.39a0.92 0.92 0 1 0 1.84 0a0.92 0.92 0 1 0 -1.84 0M499.11 470.5a0.92 0.92 0 1 0 1.84 0a0.92 0.92 0 1 0 -1.84 0M499.7 479.26a0.92 0.92 0 1 0 1.84 0a0.92 0.92 0 1 0 -1.84 0M498.88 467.57a0.92 0.92 0 1 0 1.84 0a0.92 0.92 0 1 0 -1.84 0M499.56 477.63a0.92 0.92 0 1 0 1.84 0a0.92 0.92 0 1 0 -1.84 0M499.04 466.41a0.92 0.92 0 1 0 1.84 0a0.92 0.92 0 1 0 -1.84 0M499.04 474.99a0.92 0.92 0 1 0 1.84 0a0.92 0.92 0 1 0 -1.84 0M499.08 472a0.92 0.92 0 1 0 1.84 0a0.92 0.92 0 1 0 -1.84 0M498.61 478.92a0.92 0.92 0 1 0 1.84 0a0.92 0.92 0 1 0 -1.84 0M499.1 476.56a0.92 0.92 0 1 0 1.84 0a0.92 0.92 0 1 0 -1.84 0M498.59 466.55a0.92 0.92 0 1 0 1.84 0a0.92 0.92 0 1 0 -1.84 0M498.23 478.48a0.92 0.92 0 1 0 1.84 0a0.92 0.92 0 1 0 -1.84 0"/>
<line x1="497.3" y1="477.1" x2="502.5" y2="477.1" stroke="#999" stroke-width="0.6"/>
<text transform="translate(503.5 505.4) rotate(-45)" font-size="6.5" fill="#222" text-anchor="end">High hyperdiploid</text>
<line x1="508.3" y1="496.4" x2="508.3" y2="500.2" stroke="#2a2a2a" stroke-width="0.8"/>
<path fill="#dd1c26" d="M507.42 441.51a0.92 0.92 0 1 0 1.84 0a0.92 0.92 0 1 0 -1.84 0M507.56 418.07a0.92 0.92 0 1 0 1.84 0a0.92 0.92 0 1 0 -1.84 0M506.83 432.96a0.92 0.92 0 1 0 1.84 0a0.92 0.92 0 1 0 -1.84 0M507.19 432.71a0.92 0.92 0 1 0 1.84 0a0.92 0.92 0 1 0 -1.84 0M507.09 431.45a0.92 0.92 0 1 0 1.84 0a0.92 0.92 0 1 0 -1.84 0M506.96 429.85a0.92 0.92 0 1 0 1.84 0a0.92 0.92 0 1 0 -1.84 0M508.19 426.01a0.92 0.92 0 1 0 1.84 0a0.92 0.92 0 1 0 -1.84 0M507.82 427.18a0.92 0.92 0 1 0 1.84 0a0.92 0.92 0 1 0 -1.84 0M506.5 430.37a0.92 0.92 0 1 0 1.84 0a0.92 0.92 0 1 0 -1.84 0M507.42 430.36a0.92 0.92 0 1 0 1.84 0a0.92 0.92 0 1 0 -1.84 0M507.27 435.41a0.92 0.92 0 1 0 1.84 0a0.92 0.92 0 1 0 -1.84 0M507.1 429.94a0.92 0.92 0 1 0 1.84 0a0.92 0.92 0 1 0 -1.84 0M506.53 433.11a0.92 0.92 0 1 0 1.84 0a0.92 0.92 0 1 0 -1.84 0M507.59 433.32a0.92 0.92 0 1 0 1.84 0a0.92 0.92 0 1 0 -1.84 0M507.11 429.01a0.92 0.92 0 1 0 1.84 0a0.92 0.92 0 1 0 -1.84 0M507.8 432.53a0.92 0.92 0 1 0 1.84 0a0.92 0.92 0 1 0 -1.84 0M506.47 432.36a0.92 0.92 0 1 0 1.84 0a0.92 0.92 0 1 0 -1.84 0M507.42 426.72a0.92 0.92 0 1 0 1.84 0a0.92 0.92 0 1 0 -1.84 0M507.27 429.39a0.92 0.92 0 1 0 1.84 0a0.92 0.92 0 1 0 -1.84 0M507.63 427.98a0.92 0.92 0 1 0 1.84 0a0.92 0.92 0 1 0 -1.84 0M506.58 428.43a0.92 0.92 0 1 0 1.84 0a0.92 0.92 0 1 0 -1.84 0M507.79 434.21a0.92 0.92 0 1 0 1.84 0a0.92 0.92 0 1 0 -1.84 0M507.43 427.15a0.92 0.92 0 1 0 1.84 0a0.92 0.92 0 1 0 -1.84 0M506.9 426.08a0.92 0.92 0 1 0 1.84 0a0.92 0.92 0 1 0 -1.84 0M507.02 423.84a0.92 0.92 0 1 0 1.84 0a0.92 0.92 0 1 0 -1.84 0M508.12 431.89a0.92 0.92 0 1 0 1.84 0a0.92 0.92 0 1 0 -1.84 0M506.67 424.75a0.92 0.92 0 1 0 1.84 0a0.92 0.92 0 1 0 -1.84 0M507.57 431.05a0.92 0.92 0 1 0 1.84 0a0.92 0.92 0 1 0 -1.84 0M507.01 426.18a0.92 0.92 0 1 0 1.84 0a0.92 0.92 0 1 0 -1.84 0M507.1 425.51a0.92 0.92 0 1 0 1.84 0a0.92 0.92 0 1 0 -1.84 0M507.82 423.5a0.92 0.92 0 1 0 1.84 0a0.92 0.92 0 1 0 -1.84 0M506.51 432.41a0.92 0.92 0 1 0 1.84 0a0.92 0.92 0 1 0 -1.84 0"/>
<line x1="505.7" y1="429.36" x2="510.9" y2="429.36" stroke="#999" stroke-width="0.6"/>
<text transform="translate(511.9 505.4) rotate(-45)" font-size="6.5" fill="#222" text-anchor="end">C/EBPalt (<tspan font-style="italic">CEBPD</tspan>)</text>
<text transform="translate(414.5 457.7) rotate(-90)" font-size="6.5" fill="#222" text-anchor="middle"><tspan font-style="italic">CEBPE</tspan> expression</text>
<text x="7" y="559.9" font-size="12" fill="#111" font-weight="bold">F</text>
<rect x="14.9" y="596.8" width="4.6" height="5.8" fill="#e4821a"/>
<text x="22" y="601.94" font-size="6.4" fill="#2a2a2a">Juxtamembrane Domain</text>
<rect x="14.9" y="606.55" width="4.6" height="5.8" fill="#f4ba1c"/>
<text x="22" y="611.69" font-size="6.4" fill="#2a2a2a">Tyrosine Kinase Domain 1</text>
<rect x="14.9" y="616.3" width="4.6" height="5.8" fill="#2e9a34"/>
<text x="22" y="621.44" font-size="6.4" fill="#2a2a2a">Tyrosine Kinase Domain 2</text>
<circle cx="116.3" cy="599.6" r="3.1" fill="#2ea0dc"/>
<text x="123.5" y="601.84" font-size="6.4" fill="#3aa0d8">Missense</text>
<circle cx="116.3" cy="609.4" r="3.1" fill="#c4c4c4"/>
<text x="123.5" y="611.64" font-size="6.4" fill="#cfcfcf">Inframe deletion</text>
<circle cx="116.3" cy="619.2" r="3.1" fill="#b8661e"/>
<text x="123.5" y="621.44" font-size="6.4" fill="#c87830">Inframe insertion</text>
<text x="131.5" y="642.84" font-size="6.4" fill="#2a2a2a">C/EBPalt (<tspan font-style="italic">CEBPD</tspan>)</text>
<text x="131.5" y="695.14" font-size="6.4" fill="#2a2a2a">C/EBPalt (other)</text>
<text x="43" y="654.74" font-size="6.4" fill="#2a2a2a" text-anchor="end" font-style="italic">FLT3</text>
<text x="43" y="662.84" font-size="6.4" fill="#2a2a2a" text-anchor="end">NM_004119</text>
<rect x="6.3" y="666.3" width="391" height="19.3" fill="#fff" stroke="#333" stroke-width="1"/>
<rect x="232.6" y="666.8" width="14.8" height="18.3" fill="#ef8a14"/>
<rect x="247.4" y="666.8" width="42.5" height="18.3" fill="#fdb914"/>
<rect x="314.6" y="666.8" width="65.5" height="18.3" fill="#38a83a"/>
<text x="235.4" y="678.24" font-size="6.4" fill="#222" text-anchor="middle">572</text>
<text x="248.6" y="678.24" font-size="6.4" fill="#222" text-anchor="middle">609</text>
<text x="291.8" y="678.24" font-size="6.4" fill="#222" text-anchor="middle">715</text>
<text x="313.7" y="678.24" font-size="6.4" fill="#222" text-anchor="middle">778</text>
<text x="380.8" y="678.24" font-size="6.4" fill="#222" text-anchor="middle">943</text>
<polyline points="200.7,637.6 200.7,666.3" fill="none" stroke="#7cc0e6" stroke-width="0.6"/>
<polyline points="219.2,637.6 219.2,645 231,657 231,666.3" fill="none" stroke="#b07a50" stroke-width="0.6"/>
<polyline points="226.9,637.6 226.9,646 232.5,656 232.5,666.3" fill="none" stroke="#7cc0e6" stroke-width="0.6"/>
<polyline points="234.2,637.6 234.2,666.3" fill="none" stroke="#bbb" stroke-width="0.6"/>
<polyline points="239,637.6 239,645 235.6,655 235.6,666.3" fill="none" stroke="#7cc0e6" stroke-width="0.6"/>
<polyline points="297.5,637.6 297.5,645 238,655.5 238,666.3" fill="none" stroke="#bbb" stroke-width="0.6"/>
<polyline points="303.8,637.6 303.8,645 243,656 243,666.3" fill="none" stroke="#7cc0e6" stroke-width="0.6"/>
<polyline points="310,637.6 310,645.4 275.4,656.3 275.4,666.3" fill="none" stroke="#7cc0e6" stroke-width="0.6"/>
<polyline points="336.5,637.6 336.5,650 338.6,666.3" fill="none" stroke="#bbb" stroke-width="0.6"/>
<polyline points="341.7,637.6 341.7,650 339.2,666.3" fill="none" stroke="#7cc0e6" stroke-width="0.6"/>
<circle cx="200.7" cy="637.6" r="2.2" fill="#36a2dc"/>
<text transform="translate(202.9 634.2) rotate(-90)" font-size="6.4" fill="#3aa0d8">p.V491L</text>
<circle cx="219.2" cy="637.6" r="2.2" fill="#b8661e"/>
<text transform="translate(221.4 634.2) rotate(-90)" font-size="6.4" fill="#c07a3a">p.E573delinsELPPG</text>
<circle cx="226.9" cy="637.6" r="2.2" fill="#36a2dc"/>
<text transform="translate(229.1 634.2) rotate(-90)" font-size="6.4" fill="#3aa0d8">p.L576P</text>
<circle cx="234.2" cy="637.6" r="2.2" fill="#c8c8c8"/>
<text transform="translate(236.4 634.2) rotate(-90)" font-size="6.4" fill="#c8c8c8">p.Q577_V581delinsRATG</text>
<circle cx="297.5" cy="637.6" r="2.2" fill="#c8c8c8"/>
<text transform="translate(299.7 634.2) rotate(-90)" font-size="6.4" fill="#c8c8c8">p.N587_T588insNALSY</text>
<circle cx="303.8" cy="637.6" r="2.2" fill="#36a2dc"/>
<text transform="translate(306 634.2) rotate(-90)" font-size="6.4" fill="#3aa0d8">p.Y599C</text>
<circle cx="310" cy="637.6" r="2.2" fill="#36a2dc"/>
<text transform="translate(312.2 634.2) rotate(-90)" font-size="6.4" fill="#3aa0d8">p.A680V</text>
<circle cx="336.5" cy="637.6" r="2.2" fill="#c8c8c8"/>
<text transform="translate(338.7 634.2) rotate(-90)" font-size="6.4" fill="#c8c8c8">p.I836del</text>
<circle cx="341.7" cy="637.6" r="2.2" fill="#36a2dc"/>
<text transform="translate(343.9 634.2) rotate(-90)" font-size="6.4" fill="#3aa0d8">p.N841T</text>
<circle cx="239" cy="621.5" r="2.2" fill="#b8661e"/>
<text x="241.8" y="623.74" font-size="6.4" fill="#c07a3a">p.V579delinsPSV</text>
<circle cx="239" cy="628.9" r="2.2" fill="#b8661e"/>
<text x="241.8" y="631.14" font-size="6.4" fill="#c07a3a">p.V579delinsGEV</text>
<circle cx="239" cy="637.6" r="2.2" fill="#36a2dc"/>
<text x="241.8" y="639.84" font-size="6.4" fill="#3aa0d8">p.V579A</text>
<line x1="241.6" y1="685.6" x2="241.6" y2="696.6" stroke="#7cc0e6" stroke-width="0.6"/>
<circle cx="241.6" cy="696.6" r="2.2" fill="#36a2dc"/>
<text x="244.5" y="698.84" font-size="6.4" fill="#3aa0d8">p.R595G</text>
<line x1="336.3" y1="685.6" x2="336.3" y2="696.6" stroke="#7cc0e6" stroke-width="0.6"/>
<circle cx="336.3" cy="696.6" r="2.2" fill="#36a2dc"/>
<text x="339.2" y="698.84" font-size="6.4" fill="#3aa0d8">p.D835Y</text>
<text x="413.6" y="560.8" font-size="12" fill="#111" font-weight="bold">G</text>
<line x1="444.2" y1="566" x2="444.2" y2="647.2" stroke="#2a2a2a" stroke-width="1.25"/>
<line x1="443.6" y1="647.2" x2="511" y2="647.2" stroke="#2a2a2a" stroke-width="1.25"/>
<line x1="441" y1="640.7" x2="444.2" y2="640.7" stroke="#2a2a2a" stroke-width="0.8"/>
<text x="437.9" y="642.84" font-size="6.1" fill="#333" text-anchor="end">7.5</text>
<line x1="441" y1="620.2" x2="444.2" y2="620.2" stroke="#2a2a2a" stroke-width="0.8"/>
<text x="437.9" y="622.34" font-size="6.1" fill="#333" text-anchor="end">10.0</text>
<line x1="441" y1="599.7" x2="444.2" y2="599.7" stroke="#2a2a2a" stroke-width="0.8"/>
<text x="437.9" y="601.84" font-size="6.1" fill="#333" text-anchor="end">12.5</text>
<line x1="441" y1="579.2" x2="444.2" y2="579.2" stroke="#2a2a2a" stroke-width="0.8"/>
<text x="437.9" y="581.34" font-size="6.1" fill="#333" text-anchor="end">15.0</text>
<line x1="449.1" y1="647.2" x2="449.1" y2="651" stroke="#2a2a2a" stroke-width="0.8"/>
<path fill="#9cc83c" d="M448.44 636.6a0.92 0.92 0 1 0 1.84 0a0.92 0.92 0 1 0 -1.84 0M448.83 609.54a0.92 0.92 0 1 0 1.84 0a0.92 0.92 0 1 0 -1.84 0M447.91 612.44a0.92 0.92 0 1 0 1.84 0a0.92 0.92 0 1 0 -1.84 0M448.78 609.54a0.92 0.92 0 1 0 1.84 0a0.92 0.92 0 1 0 -1.84 0M447.49 613.83a0.92 0.92 0 1 0 1.84 0a0.92 0.92 0 1 0 -1.84 0M447.54 612.92a0.92 0.92 0 1 0 1.84 0a0.92 0.92 0 1 0 -1.84 0M448.41 614.87a0.92 0.92 0 1 0 1.84 0a0.92 0.92 0 1 0 -1.84 0M448.5 616.01a0.92 0.92 0 1 0 1.84 0a0.92 0.92 0 1 0 -1.84 0M448.53 622.58a0.92 0.92 0 1 0 1.84 0a0.92 0.92 0 1 0 -1.84 0M448.93 610.29a0.92 0.92 0 1 0 1.84 0a0.92 0.92 0 1 0 -1.84 0M448.43 619.19a0.92 0.92 0 1 0 1.84 0a0.92 0.92 0 1 0 -1.84 0M447.92 621.99a0.92 0.92 0 1 0 1.84 0a0.92 0.92 0 1 0 -1.84 0"/>
<line x1="446.5" y1="616.1" x2="451.7" y2="616.1" stroke="#999" stroke-width="0.6"/>
<text transform="translate(452.7 656.2) rotate(-45)" font-size="6.5" fill="#222" text-anchor="end"><tspan font-style="italic">ETV6::RUNX1</tspan>-like</text>
<line x1="457.5" y1="647.2" x2="457.5" y2="651" stroke="#2a2a2a" stroke-width="0.8"/>
<path fill="#28984a" d="M456.47 638.24a0.92 0.92 0 1 0 1.84 0a0.92 0.92 0 1 0 -1.84 0M456.19 597.24a0.92 0.92 0 1 0 1.84 0a0.92 0.92 0 1 0 -1.84 0M456.5 607.58a0.92 0.92 0 1 0 1.84 0a0.92 0.92 0 1 0 -1.84 0M456.36 619.7a0.92 0.92 0 1 0 1.84 0a0.92 0.92 0 1 0 -1.84 0M456.53 610.38a0.92 0.92 0 1 0 1.84 0a0.92 0.92 0 1 0 -1.84 0M457 613.1a0.92 0.92 0 1 0 1.84 0a0.92 0.92 0 1 0 -1.84 0M455.85 613.23a0.92 0.92 0 1 0 1.84 0a0.92 0.92 0 1 0 -1.84 0M457.05 604.85a0.92 0.92 0 1 0 1.84 0a0.92 0.92 0 1 0 -1.84 0M456.81 616.28a0.92 0.92 0 1 0 1.84 0a0.92 0.92 0 1 0 -1.84 0M457.08 607.55a0.92 0.92 0 1 0 1.84 0a0.92 0.92 0 1 0 -1.84 0M456.62 622.55a0.92 0.92 0 1 0 1.84 0a0.92 0.92 0 1 0 -1.84 0M456.68 618.14a0.92 0.92 0 1 0 1.84 0a0.92 0.92 0 1 0 -1.84 0"/>
<line x1="454.9" y1="613.64" x2="460.1" y2="613.64" stroke="#999" stroke-width="0.6"/>
<text transform="translate(461.1 656.2) rotate(-45)" font-size="6.5" fill="#222" text-anchor="end"><tspan font-style="italic">IGH::IGF2BP1</tspan></text>
<line x1="465.9" y1="647.2" x2="465.9" y2="651" stroke="#2a2a2a" stroke-width="0.8"/>
<path fill="#f0e23a" d="M464.82 620.2a0.92 0.92 0 1 0 1.84 0a0.92 0.92 0 1 0 -1.84 0M464.8 601.34a0.92 0.92 0 1 0 1.84 0a0.92 0.92 0 1 0 -1.84 0M464.99 614.03a0.92 0.92 0 1 0 1.84 0a0.92 0.92 0 1 0 -1.84 0M464.31 615.72a0.92 0.92 0 1 0 1.84 0a0.92 0.92 0 1 0 -1.84 0M465.35 613.09a0.92 0.92 0 1 0 1.84 0a0.92 0.92 0 1 0 -1.84 0M464.98 612.97a0.92 0.92 0 1 0 1.84 0a0.92 0.92 0 1 0 -1.84 0M465.27 617.28a0.92 0.92 0 1 0 1.84 0a0.92 0.92 0 1 0 -1.84 0M464.66 617.65a0.92 0.92 0 1 0 1.84 0a0.92 0.92 0 1 0 -1.84 0M465.2 614.09a0.92 0.92 0 1 0 1.84 0a0.92 0.92 0 1 0 -1.84 0M464.91 616.11a0.92 0.92 0 1 0 1.84 0a0.92 0.92 0 1 0 -1.84 0M465.09 610.41a0.92 0.92 0 1 0 1.84 0a0.92 0.92 0 1 0 -1.84 0M464.84 616.17a0.92 0.92 0 1 0 1.84 0a0.92 0.92 0 1 0 -1.84 0M465.54 618.07a0.92 0.92 0 1 0 1.84 0a0.92 0.92 0 1 0 -1.84 0M465.26 611.02a0.92 0.92 0 1 0 1.84 0a0.92 0.92 0 1 0 -1.84 0M465.15 603.94a0.92 0.92 0 1 0 1.84 0a0.92 0.92 0 1 0 -1.84 0M464.73 615.31a0.92 0.92 0 1 0 1.84 0a0.92 0.92 0 1 0 -1.84 0"/>
<line x1="463.3" y1="613.64" x2="468.5" y2="613.64" stroke="#999" stroke-width="0.6"/>
<text transform="translate(469.5 656.2) rotate(-45)" font-size="6.5" fill="#222" text-anchor="end"><tspan font-style="italic">PAX5</tspan>alt</text>
<line x1="474.1" y1="647.2" x2="474.1" y2="651" stroke="#2a2a2a" stroke-width="0.8"/>
<path fill="#178a3c" d="M473.41 626.76a0.92 0.92 0 1 0 1.84 0a0.92 0.92 0 1 0 -1.84 0M473.17 605.44a0.92 0.92 0 1 0 1.84 0a0.92 0.92 0 1 0 -1.84 0M473.41 621.94a0.92 0.92 0 1 0 1.84 0a0.92 0.92 0 1 0 -1.84 0M473.42 607.2a0.92 0.92 0 1 0 1.84 0a0.92 0.92 0 1 0 -1.84 0M473.93 611.99a0.92 0.92 0 1 0 1.84 0a0.92 0.92 0 1 0 -1.84 0M472.86 609.86a0.92 0.92 0 1 0 1.84 0a0.92 0.92 0 1 0 -1.84 0M472.35 612.26a0.92 0.92 0 1 0 1.84 0a0.92 0.92 0 1 0 -1.84 0M473.51 611.11a0.92 0.92 0 1 0 1.84 0a0.92 0.92 0 1 0 -1.84 0M472.72 617.12a0.92 0.92 0 1 0 1.84 0a0.92 0.92 0 1 0 -1.84 0M473.28 619.97a0.92 0.92 0 1 0 1.84 0a0.92 0.92 0 1 0 -1.84 0M472.84 615.73a0.92 0.92 0 1 0 1.84 0a0.92 0.92 0 1 0 -1.84 0M473.26 620.31a0.92 0.92 0 1 0 1.84 0a0.92 0.92 0 1 0 -1.84 0M473.76 611.98a0.92 0.92 0 1 0 1.84 0a0.92 0.92 0 1 0 -1.84 0M473.72 616.14a0.92 0.92 0 1 0 1.84 0a0.92 0.92 0 1 0 -1.84 0M472.49 610.28a0.92 0.92 0 1 0 1.84 0a0.92 0.92 0 1 0 -1.84 0M472.41 611.31a0.92 0.92 0 1 0 1.84 0a0.92 0.92 0 1 0 -1.84 0M473.08 613.39a0.92 0.92 0 1 0 1.84 0a0.92 0.92 0 1 0 -1.84 0M473.71 607.44a0.92 0.92 0 1 0 1.84 0a0.92 0.92 0 1 0 -1.84 0M473.06 623.99a0.92 0.92 0 1 0 1.84 0a0.92 0.92 0 1 0 -1.84 0M473.15 616.38a0.92 0.92 0 1 0 1.84 0a0.92 0.92 0 1 0 -1.84 0M473.04 617.27a0.92 0.92 0 1 0 1.84 0a0.92 0.92 0 1 0 -1.84 0M472.19 610.1a0.92 0.92 0 1 0 1.84 0a0.92 0.92 0 1 0 -1.84 0M473.27 610.38a0.92 0.92 0 1 0 1.84 0a0.92 0.92 0 1 0 -1.84 0M473.01 618.46a0.92 0.92 0 1 0 1.84 0a0.92 0.92 0 1 0 -1.84 0M473.11 611.69a0.92 0.92 0 1 0 1.84 0a0.92 0.92 0 1 0 -1.84 0M473.75 610.66a0.92 0.92 0 1 0 1.84 0a0.92 0.92 0 1 0 -1.84 0M473.47 609a0.92 0.92 0 1 0 1.84 0a0.92 0.92 0 1 0 -1.84 0M472.67 609.49a0.92 0.92 0 1 0 1.84 0a0.92 0.92 0 1 0 -1.84 0M473.48 609.51a0.92 0.92 0 1 0 1.84 0a0.92 0.92 0 1 0 -1.84 0M473.23 607.86a0.92 0.92 0 1 0 1.84 0a0.92 0.92 0 1 0 -1.84 0M473.68 612.53a0.92 0.92 0 1 0 1.84 0a0.92 0.92 0 1 0 -1.84 0M472.11 612.05a0.92 0.92 0 1 0 1.84 0a0.92 0.92 0 1 0 -1.84 0"/>
<line x1="471.5" y1="612" x2="476.7" y2="612" stroke="#999" stroke-width="0.6"/>
<text transform="translate(477.7 656.2) rotate(-45)" font-size="6.5" fill="#222" text-anchor="end"><tspan font-style="italic">ETV6::RUNX1</tspan></text>
<line x1="482.5" y1="647.2" x2="482.5" y2="651" stroke="#2a2a2a" stroke-width="0.8"/>
<path fill="#2566c4" d="M481.6 643.16a0.92 0.92 0 1 0 1.84 0a0.92 0.92 0 1 0 -1.84 0M481.62 569.36a0.92 0.92 0 1 0 1.84 0a0.92 0.92 0 1 0 -1.84 0M482.5 597.8a0.92 0.92 0 1 0 1.84 0a0.92 0.92 0 1 0 -1.84 0M481.04 602.05a0.92 0.92 0 1 0 1.84 0a0.92 0.92 0 1 0 -1.84 0M483.11 602.25a0.92 0.92 0 1 0 1.84 0a0.92 0.92 0 1 0 -1.84 0M481.09 620.44a0.92 0.92 0 1 0 1.84 0a0.92 0.92 0 1 0 -1.84 0M479.86 603.44a0.92 0.92 0 1 0 1.84 0a0.92 0.92 0 1 0 -1.84 0M482.02 614.78a0.92 0.92 0 1 0 1.84 0a0.92 0.92 0 1 0 -1.84 0M482.09 612.08a0.92 0.92 0 1 0 1.84 0a0.92 0.92 0 1 0 -1.84 0M481.41 589.53a0.92 0.92 0 1 0 1.84 0a0.92 0.92 0 1 0 -1.84 0M481.03 603.97a0.92 0.92 0 1 0 1.84 0a0.92 0.92 0 1 0 -1.84 0M482.74 600.55a0.92 0.92 0 1 0 1.84 0a0.92 0.92 0 1 0 -1.84 0M483.09 604.48a0.92 0.92 0 1 0 1.84 0a0.92 0.92 0 1 0 -1.84 0M482.25 596.26a0.92 0.92 0 1 0 1.84 0a0.92 0.92 0 1 0 -1.84 0M481.63 597.7a0.92 0.92 0 1 0 1.84 0a0.92 0.92 0 1 0 -1.84 0M481.73 613.06a0.92 0.92 0 1 0 1.84 0a0.92 0.92 0 1 0 -1.84 0M482.75 607.93a0.92 0.92 0 1 0 1.84 0a0.92 0.92 0 1 0 -1.84 0M483.26 603.79a0.92 0.92 0 1 0 1.84 0a0.92 0.92 0 1 0 -1.84 0M480.73 608.5a0.92 0.92 0 1 0 1.84 0a0.92 0.92 0 1 0 -1.84 0M482.99 603.9a0.92 0.92 0 1 0 1.84 0a0.92 0.92 0 1 0 -1.84 0M482.74 608.69a0.92 0.92 0 1 0 1.84 0a0.92 0.92 0 1 0 -1.84 0M481.67 593.4a0.92 0.92 0 1 0 1.84 0a0.92 0.92 0 1 0 -1.84 0M480.92 609.14a0.92 0.92 0 1 0 1.84 0a0.92 0.92 0 1 0 -1.84 0M481.54 641.9a0.92 0.92 0 1 0 1.84 0a0.92 0.92 0 1 0 -1.84 0M482.21 598.27a0.92 0.92 0 1 0 1.84 0a0.92 0.92 0 1 0 -1.84 0M482.68 603.86a0.92 0.92 0 1 0 1.84 0a0.92 0.92 0 1 0 -1.84 0M481.41 599.31a0.92 0.92 0 1 0 1.84 0a0.92 0.92 0 1 0 -1.84 0M480.45 609.24a0.92 0.92 0 1 0 1.84 0a0.92 0.92 0 1 0 -1.84 0M481.2 618.23a0.92 0.92 0 1 0 1.84 0a0.92 0.92 0 1 0 -1.84 0M481.1 614.01a0.92 0.92 0 1 0 1.84 0a0.92 0.92 0 1 0 -1.84 0M480.86 603.8a0.92 0.92 0 1 0 1.84 0a0.92 0.92 0 1 0 -1.84 0M481.51 589.99a0.92 0.92 0 1 0 1.84 0a0.92 0.92 0 1 0 -1.84 0M481.49 619.76a0.92 0.92 0 1 0 1.84 0a0.92 0.92 0 1 0 -1.84 0M481.48 593.44a0.92 0.92 0 1 0 1.84 0a0.92 0.92 0 1 0 -1.84 0M481.24 596.94a0.92 0.92 0 1 0 1.84 0a0.92 0.92 0 1 0 -1.84 0M481.54 600.44a0.92 0.92 0 1 0 1.84 0a0.92 0.92 0 1 0 -1.84 0M479.94 600.65a0.92 0.92 0 1 0 1.84 0a0.92 0.92 0 1 0 -1.84 0M480.94 603.21a0.92 0.92 0 1 0 1.84 0a0.92 0.92 0 1 0 -1.84 0M482.38 599.06a0.92 0.92 0 1 0 1.84 0a0.92 0.92 0 1 0 -1.84 0M481.87 592.59a0.92 0.92 0 1 0 1.84 0a0.92 0.92 0 1 0 -1.84 0M480.02 602.01a0.92 0.92 0 1 0 1.84 0a0.92 0.92 0 1 0 -1.84 0M481.65 598.88a0.92 0.92 0 1 0 1.84 0a0.92 0.92 0 1 0 -1.84 0M482 608.23a0.92 0.92 0 1 0 1.84 0a0.92 0.92 0 1 0 -1.84 0M481.07 593.89a0.92 0.92 0 1 0 1.84 0a0.92 0.92 0 1 0 -1.84 0M481.49 617.04a0.92 0.92 0 1 0 1.84 0a0.92 0.92 0 1 0 -1.84 0M481.86 599.8a0.92 0.92 0 1 0 1.84 0a0.92 0.92 0 1 0 -1.84 0M481.1 615.35a0.92 0.92 0 1 0 1.84 0a0.92 0.92 0 1 0 -1.84 0M481.07 597.35a0.92 0.92 0 1 0 1.84 0a0.92 0.92 0 1 0 -1.84 0M480.76 613.89a0.92 0.92 0 1 0 1.84 0a0.92 0.92 0 1 0 -1.84 0M481.56 613.07a0.92 0.92 0 1 0 1.84 0a0.92 0.92 0 1 0 -1.84 0M481.66 597.57a0.92 0.92 0 1 0 1.84 0a0.92 0.92 0 1 0 -1.84 0M480.88 609.12a0.92 0.92 0 1 0 1.84 0a0.92 0.92 0 1 0 -1.84 0M481.71 615.37a0.92 0.92 0 1 0 1.84 0a0.92 0.92 0 1 0 -1.84 0M481.27 602.26a0.92 0.92 0 1 0 1.84 0a0.92 0.92 0 1 0 -1.84 0M480.86 615.56a0.92 0.92 0 1 0 1.84 0a0.92 0.92 0 1 0 -1.84 0M481.92 604.68a0.92 0.92 0 1 0 1.84 0a0.92 0.92 0 1 0 -1.84 0M482.62 607.71a0.92 0.92 0 1 0 1.84 0a0.92 0.92 0 1 0 -1.84 0M481.95 609.8a0.92 0.92 0 1 0 1.84 0a0.92 0.92 0 1 0 -1.84 0M482.75 608.04a0.92 0.92 0 1 0 1.84 0a0.92 0.92 0 1 0 -1.84 0M481.65 625.6a0.92 0.92 0 1 0 1.84 0a0.92 0.92 0 1 0 -1.84 0M480.21 603.02a0.92 0.92 0 1 0 1.84 0a0.92 0.92 0 1 0 -1.84 0M482.95 599.61a0.92 0.92 0 1 0 1.84 0a0.92 0.92 0 1 0 -1.84 0M481.16 611.89a0.92 0.92 0 1 0 1.84 0a0.92 0.92 0 1 0 -1.84 0M480.88 608.93a0.92 0.92 0 1 0 1.84 0a0.92 0.92 0 1 0 -1.84 0M480.66 599.24a0.92 0.92 0 1 0 1.84 0a0.92 0.92 0 1 0 -1.84 0M481.81 601.84a0.92 0.92 0 1 0 1.84 0a0.92 0.92 0 1 0 -1.84 0M481.52 631.72a0.92 0.92 0 1 0 1.84 0a0.92 0.92 0 1 0 -1.84 0M480.94 607.31a0.92 0.92 0 1 0 1.84 0a0.92 0.92 0 1 0 -1.84 0M480.1 603.43a0.92 0.92 0 1 0 1.84 0a0.92 0.92 0 1 0 -1.84 0M481.11 594.53a0.92 0.92 0 1 0 1.84 0a0.92 0.92 0 1 0 -1.84 0M481.11 599.37a0.92 0.92 0 1 0 1.84 0a0.92 0.92 0 1 0 -1.84 0M480.7 607.82a0.92 0.92 0 1 0 1.84 0a0.92 0.92 0 1 0 -1.84 0M480.4 609.28a0.92 0.92 0 1 0 1.84 0a0.92 0.92 0 1 0 -1.84 0M481.37 598.78a0.92 0.92 0 1 0 1.84 0a0.92 0.92 0 1 0 -1.84 0M481.76 608.99a0.92 0.92 0 1 0 1.84 0a0.92 0.92 0 1 0 -1.84 0M481.91 603.85a0.92 0.92 0 1 0 1.84 0a0.92 0.92 0 1 0 -1.84 0M483.03 602.42a0.92 0.92 0 1 0 1.84 0a0.92 0.92 0 1 0 -1.84 0M480.71 606.62a0.92 0.92 0 1 0 1.84 0a0.92 0.92 0 1 0 -1.84 0M482.27 603.24a0.92 0.92 0 1 0 1.84 0a0.92 0.92 0 1 0 -1.84 0M481.41 600.93a0.92 0.92 0 1 0 1.84 0a0.92 0.92 0 1 0 -1.84 0M481.12 605.11a0.92 0.92 0 1 0 1.84 0a0.92 0.92 0 1 0 -1.84 0M480.54 606.25a0.92 0.92 0 1 0 1.84 0a0.92 0.92 0 1 0 -1.84 0M480.27 599.23a0.92 0.92 0 1 0 1.84 0a0.92 0.92 0 1 0 -1.84 0M480.38 607.59a0.92 0.92 0 1 0 1.84 0a0.92 0.92 0 1 0 -1.84 0M480.79 606.5a0.92 0.92 0 1 0 1.84 0a0.92 0.92 0 1 0 -1.84 0M482.4 610.27a0.92 0.92 0 1 0 1.84 0a0.92 0.92 0 1 0 -1.84 0M481.92 606.55a0.92 0.92 0 1 0 1.84 0a0.92 0.92 0 1 0 -1.84 0M481.16 616.7a0.92 0.92 0 1 0 1.84 0a0.92 0.92 0 1 0 -1.84 0M481.66 634.05a0.92 0.92 0 1 0 1.84 0a0.92 0.92 0 1 0 -1.84 0M481.73 633a0.92 0.92 0 1 0 1.84 0a0.92 0.92 0 1 0 -1.84 0M481.62 589.01a0.92 0.92 0 1 0 1.84 0a0.92 0.92 0 1 0 -1.84 0M481.29 596.08a0.92 0.92 0 1 0 1.84 0a0.92 0.92 0 1 0 -1.84 0M482.03 593.42a0.92 0.92 0 1 0 1.84 0a0.92 0.92 0 1 0 -1.84 0M481.8 600.75a0.92 0.92 0 1 0 1.84 0a0.92 0.92 0 1 0 -1.84 0M481.17 601.27a0.92 0.92 0 1 0 1.84 0a0.92 0.92 0 1 0 -1.84 0M482.99 605.13a0.92 0.92 0 1 0 1.84 0a0.92 0.92 0 1 0 -1.84 0M482.06 611.82a0.92 0.92 0 1 0 1.84 0a0.92 0.92 0 1 0 -1.84 0M482.31 605.28a0.92 0.92 0 1 0 1.84 0a0.92 0.92 0 1 0 -1.84 0M481.58 617.7a0.92 0.92 0 1 0 1.84 0a0.92 0.92 0 1 0 -1.84 0M482.39 611.88a0.92 0.92 0 1 0 1.84 0a0.92 0.92 0 1 0 -1.84 0M481.18 600.54a0.92 0.92 0 1 0 1.84 0a0.92 0.92 0 1 0 -1.84 0M481.03 609.61a0.92 0.92 0 1 0 1.84 0a0.92 0.92 0 1 0 -1.84 0M480.51 598.19a0.92 0.92 0 1 0 1.84 0a0.92 0.92 0 1 0 -1.84 0M482.31 609.65a0.92 0.92 0 1 0 1.84 0a0.92 0.92 0 1 0 -1.84 0M482.36 609.87a0.92 0.92 0 1 0 1.84 0a0.92 0.92 0 1 0 -1.84 0M481.19 601.48a0.92 0.92 0 1 0 1.84 0a0.92 0.92 0 1 0 -1.84 0M481.83 631.12a0.92 0.92 0 1 0 1.84 0a0.92 0.92 0 1 0 -1.84 0M481.34 603.23a0.92 0.92 0 1 0 1.84 0a0.92 0.92 0 1 0 -1.84 0M480.7 614.32a0.92 0.92 0 1 0 1.84 0a0.92 0.92 0 1 0 -1.84 0M482.89 600.41a0.92 0.92 0 1 0 1.84 0a0.92 0.92 0 1 0 -1.84 0M480.9 613.44a0.92 0.92 0 1 0 1.84 0a0.92 0.92 0 1 0 -1.84 0M483 605.03a0.92 0.92 0 1 0 1.84 0a0.92 0.92 0 1 0 -1.84 0M481.73 598.9a0.92 0.92 0 1 0 1.84 0a0.92 0.92 0 1 0 -1.84 0M481.77 604.93a0.92 0.92 0 1 0 1.84 0a0.92 0.92 0 1 0 -1.84 0M481.55 595.76a0.92 0.92 0 1 0 1.84 0a0.92 0.92 0 1 0 -1.84 0M481.61 614.92a0.92 0.92 0 1 0 1.84 0a0.92 0.92 0 1 0 -1.84 0M482.21 620.12a0.92 0.92 0 1 0 1.84 0a0.92 0.92 0 1 0 -1.84 0M482.26 605.9a0.92 0.92 0 1 0 1.84 0a0.92 0.92 0 1 0 -1.84 0M482.17 599.54a0.92 0.92 0 1 0 1.84 0a0.92 0.92 0 1 0 -1.84 0M480.67 603.14a0.92 0.92 0 1 0 1.84 0a0.92 0.92 0 1 0 -1.84 0M481.3 620.6a0.92 0.92 0 1 0 1.84 0a0.92 0.92 0 1 0 -1.84 0M482.65 607.57a0.92 0.92 0 1 0 1.84 0a0.92 0.92 0 1 0 -1.84 0M481.47 596.92a0.92 0.92 0 1 0 1.84 0a0.92 0.92 0 1 0 -1.84 0M480.86 614.06a0.92 0.92 0 1 0 1.84 0a0.92 0.92 0 1 0 -1.84 0M481.43 606.45a0.92 0.92 0 1 0 1.84 0a0.92 0.92 0 1 0 -1.84 0M482.13 620.35a0.92 0.92 0 1 0 1.84 0a0.92 0.92 0 1 0 -1.84 0M479.93 601.81a0.92 0.92 0 1 0 1.84 0a0.92 0.92 0 1 0 -1.84 0M482.34 614.56a0.92 0.92 0 1 0 1.84 0a0.92 0.92 0 1 0 -1.84 0M481.06 610.45a0.92 0.92 0 1 0 1.84 0a0.92 0.92 0 1 0 -1.84 0M481.47 609.84a0.92 0.92 0 1 0 1.84 0a0.92 0.92 0 1 0 -1.84 0M481.84 600.21a0.92 0.92 0 1 0 1.84 0a0.92 0.92 0 1 0 -1.84 0M481.6 615.63a0.92 0.92 0 1 0 1.84 0a0.92 0.92 0 1 0 -1.84 0M481.62 596.48a0.92 0.92 0 1 0 1.84 0a0.92 0.92 0 1 0 -1.84 0M481.61 631.17a0.92 0.92 0 1 0 1.84 0a0.92 0.92 0 1 0 -1.84 0M480.76 608.58a0.92 0.92 0 1 0 1.84 0a0.92 0.92 0 1 0 -1.84 0M480.61 607.99a0.92 0.92 0 1 0 1.84 0a0.92 0.92 0 1 0 -1.84 0M482.18 594.13a0.92 0.92 0 1 0 1.84 0a0.92 0.92 0 1 0 -1.84 0M480.47 598.54a0.92 0.92 0 1 0 1.84 0a0.92 0.92 0 1 0 -1.84 0M481.77 624.35a0.92 0.92 0 1 0 1.84 0a0.92 0.92 0 1 0 -1.84 0M481.4 632.81a0.92 0.92 0 1 0 1.84 0a0.92 0.92 0 1 0 -1.84 0M481.34 593.39a0.92 0.92 0 1 0 1.84 0a0.92 0.92 0 1 0 -1.84 0M482.24 601.21a0.92 0.92 0 1 0 1.84 0a0.92 0.92 0 1 0 -1.84 0M481.77 605.91a0.92 0.92 0 1 0 1.84 0a0.92 0.92 0 1 0 -1.84 0M481.78 624.13a0.92 0.92 0 1 0 1.84 0a0.92 0.92 0 1 0 -1.84 0M481.3 596.5a0.92 0.92 0 1 0 1.84 0a0.92 0.92 0 1 0 -1.84 0M482.01 606.6a0.92 0.92 0 1 0 1.84 0a0.92 0.92 0 1 0 -1.84 0M481.35 627.42a0.92 0.92 0 1 0 1.84 0a0.92 0.92 0 1 0 -1.84 0M481.58 603.61a0.92 0.92 0 1 0 1.84 0a0.92 0.92 0 1 0 -1.84 0M481.29 600.47a0.92 0.92 0 1 0 1.84 0a0.92 0.92 0 1 0 -1.84 0M481.83 595.99a0.92 0.92 0 1 0 1.84 0a0.92 0.92 0 1 0 -1.84 0M482.53 607.94a0.92 0.92 0 1 0 1.84 0a0.92 0.92 0 1 0 -1.84 0M482.34 609.14a0.92 0.92 0 1 0 1.84 0a0.92 0.92 0 1 0 -1.84 0M480.35 607.17a0.92 0.92 0 1 0 1.84 0a0.92 0.92 0 1 0 -1.84 0M481 599.69a0.92 0.92 0 1 0 1.84 0a0.92 0.92 0 1 0 -1.84 0M482.31 601.24a0.92 0.92 0 1 0 1.84 0a0.92 0.92 0 1 0 -1.84 0M480.77 603.83a0.92 0.92 0 1 0 1.84 0a0.92 0.92 0 1 0 -1.84 0M480.72 601.08a0.92 0.92 0 1 0 1.84 0a0.92 0.92 0 1 0 -1.84 0M481.78 628.71a0.92 0.92 0 1 0 1.84 0a0.92 0.92 0 1 0 -1.84 0M482.92 603.45a0.92 0.92 0 1 0 1.84 0a0.92 0.92 0 1 0 -1.84 0M481.67 607.62a0.92 0.92 0 1 0 1.84 0a0.92 0.92 0 1 0 -1.84 0M481.61 603.7a0.92 0.92 0 1 0 1.84 0a0.92 0.92 0 1 0 -1.84 0M482.73 602.07a0.92 0.92 0 1 0 1.84 0a0.92 0.92 0 1 0 -1.84 0M481.58 635.53a0.92 0.92 0 1 0 1.84 0a0.92 0.92 0 1 0 -1.84 0M481.58 640.68a0.92 0.92 0 1 0 1.84 0a0.92 0.92 0 1 0 -1.84 0M481.31 611.33a0.92 0.92 0 1 0 1.84 0a0.92 0.92 0 1 0 -1.84 0M480.64 605.13a0.92 0.92 0 1 0 1.84 0a0.92 0.92 0 1 0 -1.84 0M482.19 615.47a0.92 0.92 0 1 0 1.84 0a0.92 0.92 0 1 0 -1.84 0M481.89 604.11a0.92 0.92 0 1 0 1.84 0a0.92 0.92 0 1 0 -1.84 0M482.02 597.57a0.92 0.92 0 1 0 1.84 0a0.92 0.92 0 1 0 -1.84 0M482.38 603.71a0.92 0.92 0 1 0 1.84 0a0.92 0.92 0 1 0 -1.84 0M480.35 603.05a0.92 0.92 0 1 0 1.84 0a0.92 0.92 0 1 0 -1.84 0M481.77 603.04a0.92 0.92 0 1 0 1.84 0a0.92 0.92 0 1 0 -1.84 0M480.17 598.85a0.92 0.92 0 1 0 1.84 0a0.92 0.92 0 1 0 -1.84 0M480.84 606.28a0.92 0.92 0 1 0 1.84 0a0.92 0.92 0 1 0 -1.84 0M481.68 621.07a0.92 0.92 0 1 0 1.84 0a0.92 0.92 0 1 0 -1.84 0M482.43 597.82a0.92 0.92 0 1 0 1.84 0a0.92 0.92 0 1 0 -1.84 0M482.69 602.64a0.92 0.92 0 1 0 1.84 0a0.92 0.92 0 1 0 -1.84 0M482.44 607.92a0.92 0.92 0 1 0 1.84 0a0.92 0.92 0 1 0 -1.84 0M480.18 600.67a0.92 0.92 0 1 0 1.84 0a0.92 0.92 0 1 0 -1.84 0M481.48 603.27a0.92 0.92 0 1 0 1.84 0a0.92 0.92 0 1 0 -1.84 0M481.62 636.25a0.92 0.92 0 1 0 1.84 0a0.92 0.92 0 1 0 -1.84 0M481.5 632.53a0.92 0.92 0 1 0 1.84 0a0.92 0.92 0 1 0 -1.84 0M482.68 607.24a0.92 0.92 0 1 0 1.84 0a0.92 0.92 0 1 0 -1.84 0M481.14 599.43a0.92 0.92 0 1 0 1.84 0a0.92 0.92 0 1 0 -1.84 0M482.64 599.64a0.92 0.92 0 1 0 1.84 0a0.92 0.92 0 1 0 -1.84 0M482.12 610.53a0.92 0.92 0 1 0 1.84 0a0.92 0.92 0 1 0 -1.84 0M481.92 602.86a0.92 0.92 0 1 0 1.84 0a0.92 0.92 0 1 0 -1.84 0M481.51 602.12a0.92 0.92 0 1 0 1.84 0a0.92 0.92 0 1 0 -1.84 0M481.57 593.46a0.92 0.92 0 1 0 1.84 0a0.92 0.92 0 1 0 -1.84 0M482.18 594.72a0.92 0.92 0 1 0 1.84 0a0.92 0.92 0 1 0 -1.84 0M481.25 615.69a0.92 0.92 0 1 0 1.84 0a0.92 0.92 0 1 0 -1.84 0M480.65 610.55a0.92 0.92 0 1 0 1.84 0a0.92 0.92 0 1 0 -1.84 0M481.02 599.8a0.92 0.92 0 1 0 1.84 0a0.92 0.92 0 1 0 -1.84 0M481.48 622.15a0.92 0.92 0 1 0 1.84 0a0.92 0.92 0 1 0 -1.84 0M481.14 605.12a0.92 0.92 0 1 0 1.84 0a0.92 0.92 0 1 0 -1.84 0M480.7 604.28a0.92 0.92 0 1 0 1.84 0a0.92 0.92 0 1 0 -1.84 0M481.77 615.28a0.92 0.92 0 1 0 1.84 0a0.92 0.92 0 1 0 -1.84 0M480.75 607.3a0.92 0.92 0 1 0 1.84 0a0.92 0.92 0 1 0 -1.84 0M482.06 605.77a0.92 0.92 0 1 0 1.84 0a0.92 0.92 0 1 0 -1.84 0M480.57 603.51a0.92 0.92 0 1 0 1.84 0a0.92 0.92 0 1 0 -1.84 0M480.91 614.56a0.92 0.92 0 1 0 1.84 0a0.92 0.92 0 1 0 -1.84 0M482.71 602.33a0.92 0.92 0 1 0 1.84 0a0.92 0.92 0 1 0 -1.84 0M482.69 608.44a0.92 0.92 0 1 0 1.84 0a0.92 0.92 0 1 0 -1.84 0M482.78 600.41a0.92 0.92 0 1 0 1.84 0a0.92 0.92 0 1 0 -1.84 0M482.37 603.66a0.92 0.92 0 1 0 1.84 0a0.92 0.92 0 1 0 -1.84 0M481.52 604.61a0.92 0.92 0 1 0 1.84 0a0.92 0.92 0 1 0 -1.84 0M481.69 607.65a0.92 0.92 0 1 0 1.84 0a0.92 0.92 0 1 0 -1.84 0M482.19 614.2a0.92 0.92 0 1 0 1.84 0a0.92 0.92 0 1 0 -1.84 0M481.21 619.2a0.92 0.92 0 1 0 1.84 0a0.92 0.92 0 1 0 -1.84 0M481.33 595.04a0.92 0.92 0 1 0 1.84 0a0.92 0.92 0 1 0 -1.84 0M483.45 602.93a0.92 0.92 0 1 0 1.84 0a0.92 0.92 0 1 0 -1.84 0M481.33 595.52a0.92 0.92 0 1 0 1.84 0a0.92 0.92 0 1 0 -1.84 0M481.49 619.72a0.92 0.92 0 1 0 1.84 0a0.92 0.92 0 1 0 -1.84 0M481.23 619.1a0.92 0.92 0 1 0 1.84 0a0.92 0.92 0 1 0 -1.84 0M481.4 604.52a0.92 0.92 0 1 0 1.84 0a0.92 0.92 0 1 0 -1.84 0M481.5 601.63a0.92 0.92 0 1 0 1.84 0a0.92 0.92 0 1 0 -1.84 0M481.46 597.97a0.92 0.92 0 1 0 1.84 0a0.92 0.92 0 1 0 -1.84 0M481.13 598.54a0.92 0.92 0 1 0 1.84 0a0.92 0.92 0 1 0 -1.84 0M482.87 604.29a0.92 0.92 0 1 0 1.84 0a0.92 0.92 0 1 0 -1.84 0M481.89 622.21a0.92 0.92 0 1 0 1.84 0a0.92 0.92 0 1 0 -1.84 0M481.81 619.87a0.92 0.92 0 1 0 1.84 0a0.92 0.92 0 1 0 -1.84 0M481.05 612.08a0.92 0.92 0 1 0 1.84 0a0.92 0.92 0 1 0 -1.84 0M483.26 602.41a0.92 0.92 0 1 0 1.84 0a0.92 0.92 0 1 0 -1.84 0M481.7 591.15a0.92 0.92 0 1 0 1.84 0a0.92 0.92 0 1 0 -1.84 0M481.94 611.55a0.92 0.92 0 1 0 1.84 0a0.92 0.92 0 1 0 -1.84 0M481.21 602.38a0.92 0.92 0 1 0 1.84 0a0.92 0.92 0 1 0 -1.84 0M480.67 602.54a0.92 0.92 0 1 0 1.84 0a0.92 0.92 0 1 0 -1.84 0M483 599.8a0.92 0.92 0 1 0 1.84 0a0.92 0.92 0 1 0 -1.84 0M481.02 604.47a0.92 0.92 0 1 0 1.84 0a0.92 0.92 0 1 0 -1.84 0M481.38 615.97a0.92 0.92 0 1 0 1.84 0a0.92 0.92 0 1 0 -1.84 0M480.41 601.33a0.92 0.92 0 1 0 1.84 0a0.92 0.92 0 1 0 -1.84 0M482.32 611.52a0.92 0.92 0 1 0 1.84 0a0.92 0.92 0 1 0 -1.84 0M482.8 602.86a0.92 0.92 0 1 0 1.84 0a0.92 0.92 0 1 0 -1.84 0M480.73 610.93a0.92 0.92 0 1 0 1.84 0a0.92 0.92 0 1 0 -1.84 0M481.25 620.42a0.92 0.92 0 1 0 1.84 0a0.92 0.92 0 1 0 -1.84 0M481.36 595.38a0.92 0.92 0 1 0 1.84 0a0.92 0.92 0 1 0 -1.84 0M480.44 600.41a0.92 0.92 0 1 0 1.84 0a0.92 0.92 0 1 0 -1.84 0M480.99 615.6a0.92 0.92 0 1 0 1.84 0a0.92 0.92 0 1 0 -1.84 0M480.06 601.34a0.92 0.92 0 1 0 1.84 0a0.92 0.92 0 1 0 -1.84 0M481.57 623.34a0.92 0.92 0 1 0 1.84 0a0.92 0.92 0 1 0 -1.84 0M481.8 613.56a0.92 0.92 0 1 0 1.84 0a0.92 0.92 0 1 0 -1.84 0M481.61 608.89a0.92 0.92 0 1 0 1.84 0a0.92 0.92 0 1 0 -1.84 0M481.23 598.03a0.92 0.92 0 1 0 1.84 0a0.92 0.92 0 1 0 -1.84 0M481.44 604.28a0.92 0.92 0 1 0 1.84 0a0.92 0.92 0 1 0 -1.84 0M481.78 598.75a0.92 0.92 0 1 0 1.84 0a0.92 0.92 0 1 0 -1.84 0M481.69 601.74a0.92 0.92 0 1 0 1.84 0a0.92 0.92 0 1 0 -1.84 0M482.23 606.42a0.92 0.92 0 1 0 1.84 0a0.92 0.92 0 1 0 -1.84 0M481.87 600.44a0.92 0.92 0 1 0 1.84 0a0.92 0.92 0 1 0 -1.84 0M482.65 602.84a0.92 0.92 0 1 0 1.84 0a0.92 0.92 0 1 0 -1.84 0M481.35 610.48a0.92 0.92 0 1 0 1.84 0a0.92 0.92 0 1 0 -1.84 0M481.59 632.27a0.92 0.92 0 1 0 1.84 0a0.92 0.92 0 1 0 -1.84 0M481.7 596.47a0.92 0.92 0 1 0 1.84 0a0.92 0.92 0 1 0 -1.84 0M483.37 603.6a0.92 0.92 0 1 0 1.84 0a0.92 0.92 0 1 0 -1.84 0M482.67 610.4a0.92 0.92 0 1 0 1.84 0a0.92 0.92 0 1 0 -1.84 0M480.27 600.36a0.92 0.92 0 1 0 1.84 0a0.92 0.92 0 1 0 -1.84 0M481.58 626.01a0.92 0.92 0 1 0 1.84 0a0.92 0.92 0 1 0 -1.84 0M481.32 605.73a0.92 0.92 0 1 0 1.84 0a0.92 0.92 0 1 0 -1.84 0M482.52 599.85a0.92 0.92 0 1 0 1.84 0a0.92 0.92 0 1 0 -1.84 0M482.04 619.81a0.92 0.92 0 1 0 1.84 0a0.92 0.92 0 1 0 -1.84 0M482.03 608.36a0.92 0.92 0 1 0 1.84 0a0.92 0.92 0 1 0 -1.84 0M480.57 606.41a0.92 0.92 0 1 0 1.84 0a0.92 0.92 0 1 0 -1.84 0M482.37 613.84a0.92 0.92 0 1 0 1.84 0a0.92 0.92 0 1 0 -1.84 0M481.42 599.14a0.92 0.92 0 1 0 1.84 0a0.92 0.92 0 1 0 -1.84 0M480.89 615.13a0.92 0.92 0 1 0 1.84 0a0.92 0.92 0 1 0 -1.84 0M481.2 599.43a0.92 0.92 0 1 0 1.84 0a0.92 0.92 0 1 0 -1.84 0M482.05 611.35a0.92 0.92 0 1 0 1.84 0a0.92 0.92 0 1 0 -1.84 0M482.86 605.69a0.92 0.92 0 1 0 1.84 0a0.92 0.92 0 1 0 -1.84 0M481.96 603.72a0.92 0.92 0 1 0 1.84 0a0.92 0.92 0 1 0 -1.84 0M482.55 600.03a0.92 0.92 0 1 0 1.84 0a0.92 0.92 0 1 0 -1.84 0M481.02 618.91a0.92 0.92 0 1 0 1.84 0a0.92 0.92 0 1 0 -1.84 0M481.19 610.8a0.92 0.92 0 1 0 1.84 0a0.92 0.92 0 1 0 -1.84 0M481.7 640.48a0.92 0.92 0 1 0 1.84 0a0.92 0.92 0 1 0 -1.84 0M481.41 635.8a0.92 0.92 0 1 0 1.84 0a0.92 0.92 0 1 0 -1.84 0M480.08 601.18a0.92 0.92 0 1 0 1.84 0a0.92 0.92 0 1 0 -1.84 0M481.46 604.99a0.92 0.92 0 1 0 1.84 0a0.92 0.92 0 1 0 -1.84 0M480.33 608.29a0.92 0.92 0 1 0 1.84 0a0.92 0.92 0 1 0 -1.84 0M481.13 618a0.92 0.92 0 1 0 1.84 0a0.92 0.92 0 1 0 -1.84 0M480.39 605.82a0.92 0.92 0 1 0 1.84 0a0.92 0.92 0 1 0 -1.84 0M481.64 593.29a0.92 0.92 0 1 0 1.84 0a0.92 0.92 0 1 0 -1.84 0M481.9 610.17a0.92 0.92 0 1 0 1.84 0a0.92 0.92 0 1 0 -1.84 0M482.04 615.62a0.92 0.92 0 1 0 1.84 0a0.92 0.92 0 1 0 -1.84 0M480.81 604.04a0.92 0.92 0 1 0 1.84 0a0.92 0.92 0 1 0 -1.84 0"/>
<line x1="479.9" y1="604.62" x2="485.1" y2="604.62" stroke="#999" stroke-width="0.6"/>
<text transform="translate(486.1 656.2) rotate(-45)" font-size="6.5" fill="#222" text-anchor="end"><tspan font-style="italic">CRLF2</tspan>-r</text>
<line x1="490.7" y1="647.2" x2="490.7" y2="651" stroke="#2a2a2a" stroke-width="0.8"/>
<path fill="#d6d6da" d="M489.94 643.16a0.92 0.92 0 1 0 1.84 0a0.92 0.92 0 1 0 -1.84 0M489.82 593.14a0.92 0.92 0 1 0 1.84 0a0.92 0.92 0 1 0 -1.84 0M489.61 596.02a0.92 0.92 0 1 0 1.84 0a0.92 0.92 0 1 0 -1.84 0M490.22 601.39a0.92 0.92 0 1 0 1.84 0a0.92 0.92 0 1 0 -1.84 0M489.3 609.06a0.92 0.92 0 1 0 1.84 0a0.92 0.92 0 1 0 -1.84 0M489.63 593.79a0.92 0.92 0 1 0 1.84 0a0.92 0.92 0 1 0 -1.84 0M490.11 611.6a0.92 0.92 0 1 0 1.84 0a0.92 0.92 0 1 0 -1.84 0M490.35 596.3a0.92 0.92 0 1 0 1.84 0a0.92 0.92 0 1 0 -1.84 0M489.97 603.5a0.92 0.92 0 1 0 1.84 0a0.92 0.92 0 1 0 -1.84 0M489.3 598.03a0.92 0.92 0 1 0 1.84 0a0.92 0.92 0 1 0 -1.84 0M489.69 607.95a0.92 0.92 0 1 0 1.84 0a0.92 0.92 0 1 0 -1.84 0M489.16 602.16a0.92 0.92 0 1 0 1.84 0a0.92 0.92 0 1 0 -1.84 0M489.69 613.32a0.92 0.92 0 1 0 1.84 0a0.92 0.92 0 1 0 -1.84 0M490.13 603.85a0.92 0.92 0 1 0 1.84 0a0.92 0.92 0 1 0 -1.84 0M489.83 613.4a0.92 0.92 0 1 0 1.84 0a0.92 0.92 0 1 0 -1.84 0M489.25 593.14a0.92 0.92 0 1 0 1.84 0a0.92 0.92 0 1 0 -1.84 0M489.78 600.18a0.92 0.92 0 1 0 1.84 0a0.92 0.92 0 1 0 -1.84 0M489.69 600.28a0.92 0.92 0 1 0 1.84 0a0.92 0.92 0 1 0 -1.84 0M489.64 617.17a0.92 0.92 0 1 0 1.84 0a0.92 0.92 0 1 0 -1.84 0M489.73 607.49a0.92 0.92 0 1 0 1.84 0a0.92 0.92 0 1 0 -1.84 0"/>
<line x1="488.1" y1="600.52" x2="493.3" y2="600.52" stroke="#999" stroke-width="0.6"/>
<text transform="translate(494.3 656.2) rotate(-45)" font-size="6.5" fill="#222" text-anchor="end">Others</text>
<line x1="499.5" y1="647.2" x2="499.5" y2="651" stroke="#2a2a2a" stroke-width="0.8"/>
<path fill="#8e2a1c" d="M498.92 632.5a0.92 0.92 0 1 0 1.84 0a0.92 0.92 0 1 0 -1.84 0M498.22 587.4a0.92 0.92 0 1 0 1.84 0a0.92 0.92 0 1 0 -1.84 0M499.04 595.86a0.92 0.92 0 1 0 1.84 0a0.92 0.92 0 1 0 -1.84 0M499.06 600.52a0.92 0.92 0 1 0 1.84 0a0.92 0.92 0 1 0 -1.84 0M498.75 619.17a0.92 0.92 0 1 0 1.84 0a0.92 0.92 0 1 0 -1.84 0M498.92 626.09a0.92 0.92 0 1 0 1.84 0a0.92 0.92 0 1 0 -1.84 0M498.39 610.44a0.92 0.92 0 1 0 1.84 0a0.92 0.92 0 1 0 -1.84 0M497.84 595.56a0.92 0.92 0 1 0 1.84 0a0.92 0.92 0 1 0 -1.84 0M498.63 600.7a0.92 0.92 0 1 0 1.84 0a0.92 0.92 0 1 0 -1.84 0M498.53 607.03a0.92 0.92 0 1 0 1.84 0a0.92 0.92 0 1 0 -1.84 0M498.48 590.14a0.92 0.92 0 1 0 1.84 0a0.92 0.92 0 1 0 -1.84 0M498.57 587.4a0.92 0.92 0 1 0 1.84 0a0.92 0.92 0 1 0 -1.84 0M499.16 608.17a0.92 0.92 0 1 0 1.84 0a0.92 0.92 0 1 0 -1.84 0M498.92 592.71a0.92 0.92 0 1 0 1.84 0a0.92 0.92 0 1 0 -1.84 0"/>
<line x1="496.9" y1="598.06" x2="502.1" y2="598.06" stroke="#999" stroke-width="0.6"/>
<text transform="translate(503.1 656.2) rotate(-45)" font-size="6.5" fill="#222" text-anchor="end">High hyperdiploid</text>
<line x1="507.9" y1="647.2" x2="507.9" y2="651" stroke="#2a2a2a" stroke-width="0.8"/>
<path fill="#dd1c26" d="M506.69 607.9a0.92 0.92 0 1 0 1.84 0a0.92 0.92 0 1 0 -1.84 0M507.02 583.3a0.92 0.92 0 1 0 1.84 0a0.92 0.92 0 1 0 -1.84 0M507 587.15a0.92 0.92 0 1 0 1.84 0a0.92 0.92 0 1 0 -1.84 0M507.18 600.19a0.92 0.92 0 1 0 1.84 0a0.92 0.92 0 1 0 -1.84 0M507.85 599.04a0.92 0.92 0 1 0 1.84 0a0.92 0.92 0 1 0 -1.84 0M507.81 595.35a0.92 0.92 0 1 0 1.84 0a0.92 0.92 0 1 0 -1.84 0M506.13 597.27a0.92 0.92 0 1 0 1.84 0a0.92 0.92 0 1 0 -1.84 0M507.8 593.87a0.92 0.92 0 1 0 1.84 0a0.92 0.92 0 1 0 -1.84 0M506.46 592.64a0.92 0.92 0 1 0 1.84 0a0.92 0.92 0 1 0 -1.84 0M506.66 607.9a0.92 0.92 0 1 0 1.84 0a0.92 0.92 0 1 0 -1.84 0M507.19 603.61a0.92 0.92 0 1 0 1.84 0a0.92 0.92 0 1 0 -1.84 0M507.49 600.78a0.92 0.92 0 1 0 1.84 0a0.92 0.92 0 1 0 -1.84 0M505.97 598.54a0.92 0.92 0 1 0 1.84 0a0.92 0.92 0 1 0 -1.84 0M506.79 591.03a0.92 0.92 0 1 0 1.84 0a0.92 0.92 0 1 0 -1.84 0M507.22 602.81a0.92 0.92 0 1 0 1.84 0a0.92 0.92 0 1 0 -1.84 0M507.7 599.77a0.92 0.92 0 1 0 1.84 0a0.92 0.92 0 1 0 -1.84 0M507.17 585.64a0.92 0.92 0 1 0 1.84 0a0.92 0.92 0 1 0 -1.84 0M507.43 594.59a0.92 0.92 0 1 0 1.84 0a0.92 0.92 0 1 0 -1.84 0M506.43 596.83a0.92 0.92 0 1 0 1.84 0a0.92 0.92 0 1 0 -1.84 0M506.09 594.92a0.92 0.92 0 1 0 1.84 0a0.92 0.92 0 1 0 -1.84 0M507.91 600.31a0.92 0.92 0 1 0 1.84 0a0.92 0.92 0 1 0 -1.84 0M506.65 595.15a0.92 0.92 0 1 0 1.84 0a0.92 0.92 0 1 0 -1.84 0M506.83 589.38a0.92 0.92 0 1 0 1.84 0a0.92 0.92 0 1 0 -1.84 0M507.29 597.15a0.92 0.92 0 1 0 1.84 0a0.92 0.92 0 1 0 -1.84 0M506.21 598.2a0.92 0.92 0 1 0 1.84 0a0.92 0.92 0 1 0 -1.84 0M506.19 598.39a0.92 0.92 0 1 0 1.84 0a0.92 0.92 0 1 0 -1.84 0M506.79 592.64a0.92 0.92 0 1 0 1.84 0a0.92 0.92 0 1 0 -1.84 0M506.65 600.07a0.92 0.92 0 1 0 1.84 0a0.92 0.92 0 1 0 -1.84 0M506.69 590.82a0.92 0.92 0 1 0 1.84 0a0.92 0.92 0 1 0 -1.84 0M507.9 595.61a0.92 0.92 0 1 0 1.84 0a0.92 0.92 0 1 0 -1.84 0M507.03 588.1a0.92 0.92 0 1 0 1.84 0a0.92 0.92 0 1 0 -1.84 0M507.11 597.93a0.92 0.92 0 1 0 1.84 0a0.92 0.92 0 1 0 -1.84 0"/>
<line x1="505.3" y1="595.6" x2="510.5" y2="595.6" stroke="#999" stroke-width="0.6"/>
<text transform="translate(511.5 656.2) rotate(-45)" font-size="6.5" fill="#222" text-anchor="end">C/EBPalt</text>
<text transform="translate(420.2 606.5) rotate(-90)" font-size="6.5" fill="#222" text-anchor="middle"><tspan font-style="italic">FLT3</tspan> expression</text>
<rect x="0.5" y="0.5" width="519" height="706" fill="none" stroke="#555" stroke-width="1"/></svg></body></html>
